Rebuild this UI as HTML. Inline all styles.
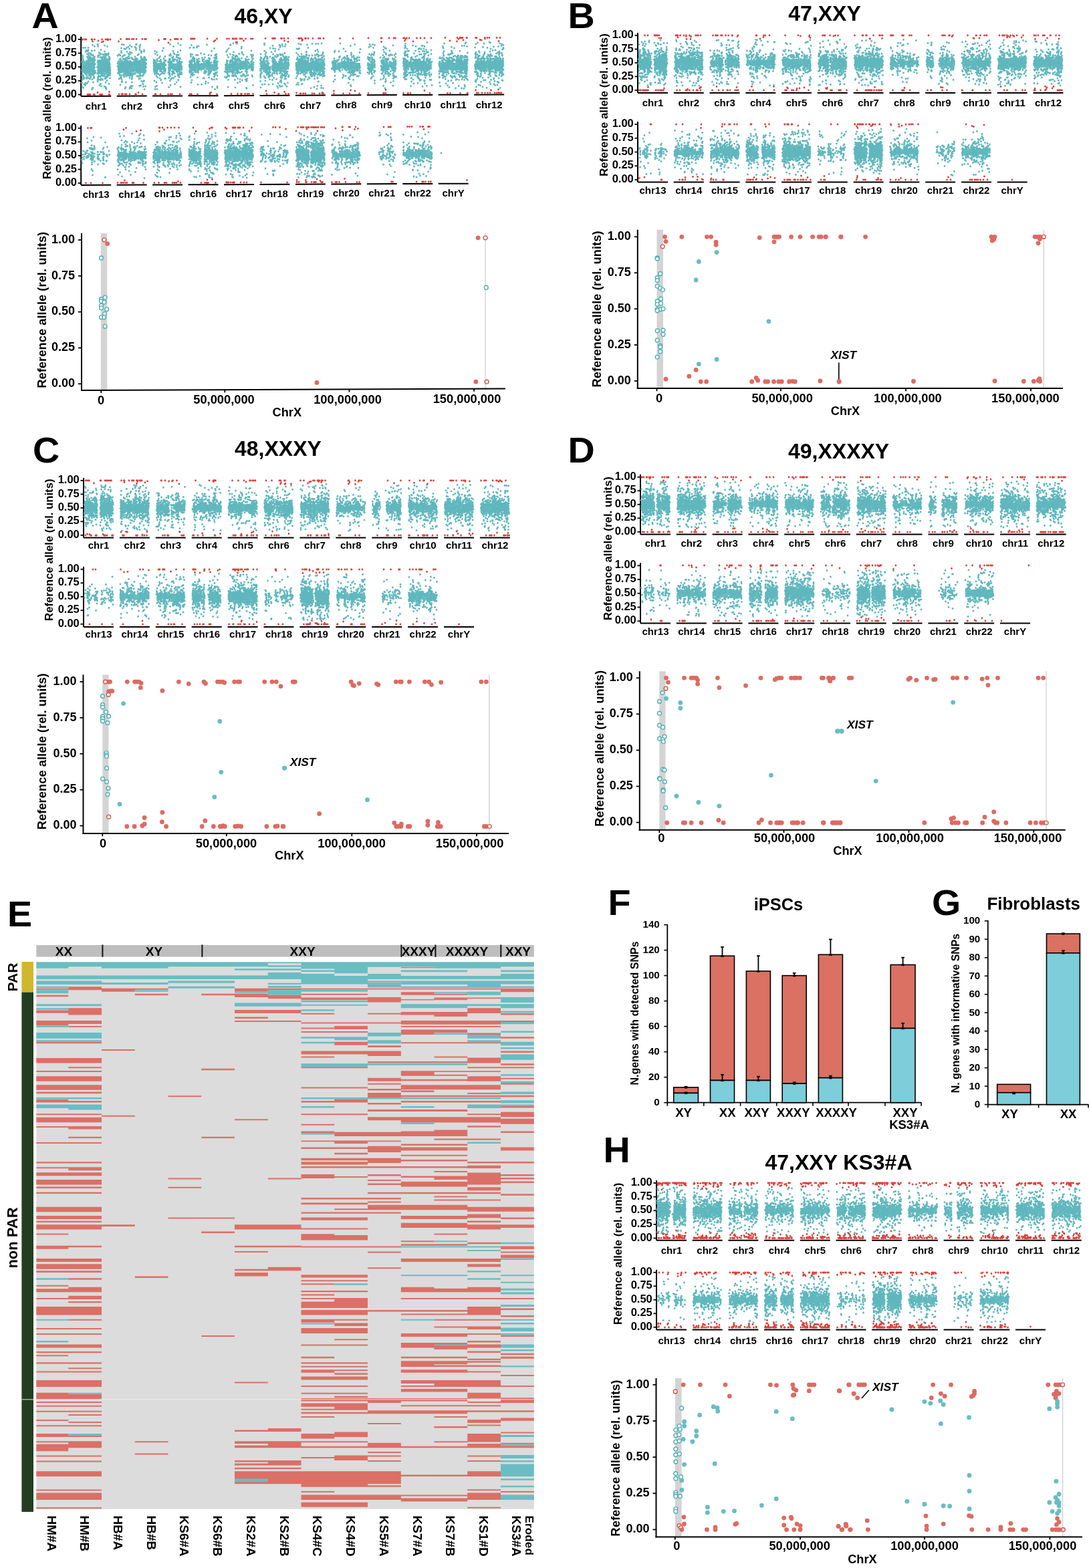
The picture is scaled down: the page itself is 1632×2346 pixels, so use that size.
<!DOCTYPE html><html><head><meta charset="utf-8"><title>Figure</title><style>html,body{margin:0;padding:0;background:#fff;}svg{display:block;}circle.a{r:2.9px;fill:#fff;stroke:#D4564B;stroke-width:1.4px}circle.b{r:2.9px;fill:#fff;stroke:#4FAFB5;stroke-width:1.4px}circle.c{r:3.4px;fill:#DC6B61}circle.d{r:3.4px;fill:#68BDC2}</style></head><body><svg width="1632" height="2346" viewBox="0 0 1632 2346" font-family='"Liberation Sans", Arial, Helvetica, sans-serif'>
<rect x="0.00" y="0.00" width="1632.00" height="2346.00" fill="#fff"/>
<text x="47.5" y="42.0" font-size="53" font-weight="bold" transform="translate(47.5 42.0) scale(1.05 1) translate(-47.5 -42.0)">A</text>
<text x="849.5" y="42.0" font-size="53" font-weight="bold" transform="translate(849.5 42.0) scale(1.05 1) translate(-849.5 -42.0)">B</text>
<text x="49" y="691.8" font-size="53" font-weight="bold" transform="translate(49 691.8) scale(1.05 1) translate(-49 -691.8)">C</text>
<text x="849.5" y="692.5" font-size="53" font-weight="bold" transform="translate(849.5 692.5) scale(1.05 1) translate(-849.5 -692.5)">D</text>
<text x="11" y="1386" font-size="53" font-weight="bold" transform="translate(11 1386) scale(1.05 1) translate(-11 -1386)">E</text>
<text x="909.5" y="1369.5" font-size="53" font-weight="bold" transform="translate(909.5 1369.5) scale(1.05 1) translate(-909.5 -1369.5)">F</text>
<text x="1394" y="1369.5" font-size="53" font-weight="bold" transform="translate(1394 1369.5) scale(1.05 1) translate(-1394 -1369.5)">G</text>
<text x="902.5" y="1738.8" font-size="53" font-weight="bold" transform="translate(902.5 1738.8) scale(1.05 1) translate(-902.5 -1738.8)">H</text>
<text x="394.00" y="34.50" font-size="32" font-weight="bold" text-anchor="middle" fill="#000">46,XY</text>
<text x="1233.50" y="31.00" font-size="32" font-weight="bold" text-anchor="middle" fill="#000">47,XXY</text>
<text x="351.00" y="681.50" font-size="32" font-weight="bold" text-anchor="start" fill="#000">48,XXXY</text>
<text x="1179.00" y="685.50" font-size="32" font-weight="bold" text-anchor="start" fill="#000">49,XXXXY</text>
<text x="1144.50" y="1750.00" font-size="32" font-weight="bold" text-anchor="start" fill="#000">47,XXY KS3#A</text>
<line x1="121.20" y1="54.90" x2="121.20" y2="144.00" stroke="#000" stroke-width="2.0"/>
<line x1="116.70" y1="58.90" x2="121.20" y2="58.90" stroke="#000" stroke-width="1.8"/>
<text x="115.00" y="63.00" font-size="16.5" font-weight="bold" text-anchor="end" fill="#000">1.00</text>
<line x1="116.70" y1="79.55" x2="121.20" y2="79.55" stroke="#000" stroke-width="1.8"/>
<text x="115.00" y="83.65" font-size="16.5" font-weight="bold" text-anchor="end" fill="#000">0.75</text>
<line x1="116.70" y1="100.20" x2="121.20" y2="100.20" stroke="#000" stroke-width="1.8"/>
<text x="115.00" y="104.30" font-size="16.5" font-weight="bold" text-anchor="end" fill="#000">0.50</text>
<line x1="116.70" y1="120.85" x2="121.20" y2="120.85" stroke="#000" stroke-width="1.8"/>
<text x="115.00" y="124.95" font-size="16.5" font-weight="bold" text-anchor="end" fill="#000">0.25</text>
<line x1="116.70" y1="141.50" x2="121.20" y2="141.50" stroke="#000" stroke-width="1.8"/>
<text x="115.00" y="145.60" font-size="16.5" font-weight="bold" text-anchor="end" fill="#000">0.00</text>
<line x1="121.20" y1="144.00" x2="166.20" y2="143.82" stroke="#000" stroke-width="2.0"/>
<text x="143.70" y="163.91" font-size="15" font-weight="bold" text-anchor="middle" fill="#000">chr1</text>
<line x1="174.65" y1="143.79" x2="219.65" y2="143.61" stroke="#000" stroke-width="2.0"/>
<text x="197.15" y="163.70" font-size="15" font-weight="bold" text-anchor="middle" fill="#000">chr2</text>
<line x1="228.10" y1="143.57" x2="273.10" y2="143.39" stroke="#000" stroke-width="2.0"/>
<text x="250.60" y="163.48" font-size="15" font-weight="bold" text-anchor="middle" fill="#000">chr3</text>
<line x1="281.55" y1="143.36" x2="326.55" y2="143.18" stroke="#000" stroke-width="2.0"/>
<text x="304.05" y="163.27" font-size="15" font-weight="bold" text-anchor="middle" fill="#000">chr4</text>
<line x1="335.00" y1="143.14" x2="380.00" y2="142.96" stroke="#000" stroke-width="2.0"/>
<text x="357.50" y="163.05" font-size="15" font-weight="bold" text-anchor="middle" fill="#000">chr5</text>
<line x1="388.45" y1="142.93" x2="433.45" y2="142.75" stroke="#000" stroke-width="2.0"/>
<text x="410.95" y="162.84" font-size="15" font-weight="bold" text-anchor="middle" fill="#000">chr6</text>
<line x1="441.90" y1="142.72" x2="486.90" y2="142.54" stroke="#000" stroke-width="2.0"/>
<text x="464.40" y="162.63" font-size="15" font-weight="bold" text-anchor="middle" fill="#000">chr7</text>
<line x1="495.35" y1="142.50" x2="540.35" y2="142.32" stroke="#000" stroke-width="2.0"/>
<text x="517.85" y="162.41" font-size="15" font-weight="bold" text-anchor="middle" fill="#000">chr8</text>
<line x1="548.80" y1="142.29" x2="593.80" y2="142.11" stroke="#000" stroke-width="2.0"/>
<text x="571.30" y="162.20" font-size="15" font-weight="bold" text-anchor="middle" fill="#000">chr9</text>
<line x1="602.25" y1="142.08" x2="647.25" y2="141.90" stroke="#000" stroke-width="2.0"/>
<text x="624.75" y="161.99" font-size="15" font-weight="bold" text-anchor="middle" fill="#000">chr10</text>
<line x1="655.70" y1="141.86" x2="700.70" y2="141.68" stroke="#000" stroke-width="2.0"/>
<text x="678.20" y="161.77" font-size="15" font-weight="bold" text-anchor="middle" fill="#000">chr11</text>
<line x1="709.15" y1="141.65" x2="754.15" y2="141.47" stroke="#000" stroke-width="2.0"/>
<text x="731.65" y="161.56" font-size="15" font-weight="bold" text-anchor="middle" fill="#000">chr12</text>
<path fill="#68BDC2" d="M122.7 92.7h3.7v11.9h-3.7zM126.2 91.8h3.7v18.6h-3.7zM129.7 92.4h3.7v15.7h-3.7zM133.2 90.2h3.7v17.4h-3.7zM136.7 96.3h3.7v11.5h-3.7zM147.2 90.7h3.7v19.3h-3.7zM150.7 92.9h3.7v18.6h-3.7zM154.2 91.6h3.7v15.2h-3.7zM157.7 91.8h3.7v12.9h-3.7zM161.2 92.0h3.7v20.0h-3.7zM176.2 90.4h3.7v18.0h-3.7zM179.7 93.0h3.7v16.6h-3.7zM183.2 91.2h3.7v14.4h-3.7zM186.7 92.7h3.7v17.0h-3.7zM190.2 92.0h3.7v16.7h-3.7zM193.7 91.8h3.7v13.8h-3.7zM197.2 93.0h3.7v15.2h-3.7zM200.7 89.6h3.7v16.9h-3.7zM204.2 93.5h3.7v16.5h-3.7zM207.7 95.0h3.7v9.3h-3.7zM211.2 96.6h3.7v10.0h-3.7zM214.7 93.2h3.7v17.1h-3.7zM229.6 94.4h3.7v13.7h-3.7zM233.1 93.9h3.7v12.3h-3.7zM236.6 94.1h3.7v9.1h-3.7zM240.1 97.7h3.7v7.4h-3.7zM243.6 91.7h3.7v13.8h-3.7zM254.1 92.5h3.7v10.8h-3.7zM257.6 95.6h3.7v10.0h-3.7zM261.1 94.8h3.7v10.3h-3.7zM264.6 93.4h3.7v11.6h-3.7zM268.1 96.5h3.7v7.6h-3.7zM283.1 91.4h3.7v12.1h-3.7zM286.6 96.0h3.7v8.9h-3.7zM290.1 96.2h3.7v9.7h-3.7zM293.6 94.0h3.7v7.6h-3.7zM297.1 94.9h3.7v9.7h-3.7zM300.6 95.2h3.7v8.4h-3.7zM304.1 94.6h3.7v8.1h-3.7zM307.6 92.0h3.7v13.0h-3.7zM311.1 93.5h3.7v8.5h-3.7zM314.6 95.7h3.7v9.5h-3.7zM318.1 95.8h3.7v8.6h-3.7zM321.6 91.4h3.7v14.0h-3.7zM336.5 96.6h3.7v8.4h-3.7zM340.0 96.0h3.7v9.3h-3.7zM343.5 94.8h3.7v7.8h-3.7zM347.0 94.5h3.7v11.9h-3.7zM350.5 92.4h3.7v11.4h-3.7zM354.0 92.6h3.7v10.3h-3.7zM357.5 93.9h3.7v10.0h-3.7zM361.0 91.8h3.7v12.1h-3.7zM364.5 91.6h3.7v12.5h-3.7zM368.0 97.4h3.7v7.6h-3.7zM371.5 94.7h3.7v7.1h-3.7zM375.0 95.7h3.7v8.6h-3.7zM389.9 90.9h3.7v13.6h-3.7zM393.4 96.3h3.7v9.3h-3.7zM396.9 96.4h3.7v8.8h-3.7zM410.9 93.3h3.7v8.7h-3.7zM414.4 93.9h3.7v11.9h-3.7zM417.9 91.4h3.7v12.9h-3.7zM421.4 93.3h3.7v10.3h-3.7zM424.9 92.1h3.7v12.9h-3.7zM428.4 91.5h3.7v12.7h-3.7zM443.4 95.1h3.7v10.1h-3.7zM446.9 92.7h3.7v14.1h-3.7zM450.4 88.2h3.7v17.4h-3.7zM453.9 89.6h3.7v17.0h-3.7zM457.4 90.6h3.7v15.9h-3.7zM460.9 94.0h3.7v11.6h-3.7zM464.4 93.8h3.7v10.1h-3.7zM467.9 93.4h3.7v12.7h-3.7zM471.4 89.6h3.7v16.6h-3.7zM474.9 93.2h3.7v13.3h-3.7zM478.4 91.5h3.7v16.8h-3.7zM481.9 90.8h3.7v12.0h-3.7zM496.9 92.6h3.7v10.3h-3.7zM500.4 95.8h3.7v8.2h-3.7zM503.9 93.8h3.7v9.2h-3.7zM507.4 93.9h3.7v8.8h-3.7zM510.9 94.2h3.7v8.3h-3.7zM514.4 95.8h3.7v8.7h-3.7zM517.9 93.6h3.7v9.8h-3.7zM521.4 92.6h3.7v8.8h-3.7zM524.9 94.2h3.7v9.4h-3.7zM528.4 94.7h3.7v8.9h-3.7zM531.9 93.9h3.7v8.6h-3.7zM535.4 94.0h3.7v10.5h-3.7zM550.3 94.7h3.7v10.3h-3.7zM553.8 96.3h3.7v7.9h-3.7zM571.3 93.2h3.7v12.6h-3.7zM574.8 93.4h3.7v11.1h-3.7zM578.3 96.4h3.7v7.5h-3.7zM581.8 92.8h3.7v8.0h-3.7zM585.3 93.2h3.7v10.4h-3.7zM588.8 94.5h3.7v10.0h-3.7zM603.8 92.9h3.7v12.0h-3.7zM607.2 95.2h3.7v8.2h-3.7zM610.8 92.3h3.7v9.3h-3.7zM614.2 93.3h3.7v12.7h-3.7zM617.8 89.4h3.7v13.7h-3.7zM621.2 91.1h3.7v12.2h-3.7zM624.8 93.2h3.7v12.9h-3.7zM628.2 91.6h3.7v11.1h-3.7zM631.8 91.3h3.7v10.3h-3.7zM635.2 92.7h3.7v13.3h-3.7zM638.8 94.6h3.7v10.8h-3.7zM642.2 96.2h3.7v7.8h-3.7zM657.2 94.0h3.7v11.5h-3.7zM660.7 91.5h3.7v16.5h-3.7zM664.2 93.7h3.7v11.9h-3.7zM667.7 89.9h3.7v12.0h-3.7zM671.2 90.3h3.7v11.6h-3.7zM674.7 90.5h3.7v17.7h-3.7zM678.2 93.8h3.7v9.6h-3.7zM681.7 90.4h3.7v12.2h-3.7zM685.2 91.1h3.7v13.3h-3.7zM688.7 93.6h3.7v10.7h-3.7zM692.2 90.9h3.7v13.3h-3.7zM695.7 91.6h3.7v11.2h-3.7zM710.7 90.8h3.7v13.0h-3.7zM714.2 92.0h3.7v11.7h-3.7zM717.7 92.2h3.7v14.9h-3.7zM721.2 90.5h3.7v11.9h-3.7zM724.7 92.5h3.7v9.4h-3.7zM728.2 90.4h3.7v15.1h-3.7zM731.7 92.7h3.7v9.6h-3.7zM735.2 90.4h3.7v12.6h-3.7zM738.7 87.7h3.7v17.7h-3.7zM742.2 91.5h3.7v15.4h-3.7zM745.7 88.6h3.7v18.1h-3.7zM749.2 91.6h3.7v12.1h-3.7z"/>
<path transform="scale(.5)" fill="none" stroke="#5FB7BD" stroke-width="5.8" stroke-linecap="round" d="M249 143h0m-2 23h0m0 1h0m1 3h0m-1 6h0m1 0h0m1 4h0m1 3h0m-4 2h0m2 0h0m-3 1h0m1 0h0m2 0h0m1 0h0m1 0h0m-3 2h0m0 1h0m-1 3h0m1 0h0m0 2h0m0 1h0m1 1h0m0 3h0m0 1h0m-1 1h0m1 0h0m-1 2h0m0 1h0m3 1h0m1 2h0m-5 2h0m3 0h0m-4 2h0m5 0h0m-3 1h0m2 1h0m0 1h0m-1 1h0m-1 1h0m-1 1h0m0 6h0m1 1h0m0 1h0m-1 1h0m3 0h0m-3 1h0m3 1h0m-1 1h0m-1 1h0m1 1h0m0 4h0m3 0h0m0 1h0m-5 3h0m-1 9h0m3 13h0m1 2h0m6-8h0m-3-3h0m6-2h0m-2-1h0m5 0h0m-1-14h0m-2-1h0m-6-1h0m10-1h0m-2-1h0m0-6h0m-2-3h0m-2-1h0m-1-1h0m-2-2h0m6 0h0m0-1h0m2 0h0m2 0h0m-4-3h0m4 0h0m-1-2h0m-9-1h0m9 0h0m-3-2h0m1-1h0m-4-1h0m4 0h0m2 0h0m-5-1h0m3 0h0m-5-1h0m4-1h0m-4-1h0m6 0h0m-3-1h0m1 0h0m4-2h0m-11-1h0m8 0h0m-2-2h0m1-2h0m3 0h0m-1-3h0m2 0h0m-3-3h0m-1-1h0m3 0h0m-1-1h0m-9-1h0m11-1h0m-4-3h0m4 0h0m0-8h0m-2-4h0m0-8h0m-5-7h0m6-1h0m1-2h0m-5-1h0m-3-8h0m9 0h0m0 7h0m11 2h0m-9 7h0m6 1h0m-8 3h0m7 0h0m2 2h0m-7 2h0m5 4h0m-7 1h0m5 0h0m-2 1h0m5 2h0m-7 2h0m2 0h0m-2 1h0m4 0h0m3 0h0m-3 1h0m2 0h0m-4 2h0m6 1h0m0 1h0m2 1h0m-9 7h0m5 0h0m2 0h0m-7 1h0m1 0h0m4 1h0m-6 1h0m2 0h0m2 0h0m-1 1h0m-4 1h0m5 1h0m2 0h0m-6 1h0m1 1h0m5 0h0m-7 1h0m4 0h0m-1 1h0m8 1h0m-11 1h0m0 1h0m2 0h0m-1 3h0m-1 1h0m2 0h0m1 0h0m6 3h0m1 0h0m-3 1h0m-6 2h0m6 0h0m-2 1h0m-5 1h0m1 0h0m5 0h0m-6 3h0m6 0h0m-1 2h0m3 0h0m-4 1h0m0 2h0m7 0h0m-5 1h0m-4 1h0m3 0h0m3 4h0m-1 3h0m-5 1h0m1 0h0m2 2h0m-5 8h0m11 24h0m1-4h0m2-1h0m1-17h0m-3-8h0m5-4h0m0-4h0m0-1h0m-2-5h0m-3-4h0m6 0h0m-4-1h0m2 0h0m6-1h0m-4-1h0m-6-1h0m3 0h0m1 0h0m-4-1h0m3 0h0m-2-2h0m4 0h0m3 0h0m-2-1h0m3 0h0m-6-2h0m-1-2h0m2-2h0m1 0h0m-5-1h0m5 0h0m-5-1h0m3-2h0m4 0h0m-3-2h0m2-1h0m-3-1h0m2 0h0m-3-1h0m1-1h0m2-2h0m-2-1h0m2 0h0m1 0h0m2 0h0m-5-1h0m-2-1h0m7 0h0m-8-1h0m1 0h0m5 0h0m0-1h0m-1-1h0m-4-2h0m2 0h0m-1-1h0m0-1h0m4-1h0m-4-1h0m4 0h0m-3-1h0m3 0h0m-2-1h0m4 0h0m0-1h0m-7-1h0m4-2h0m-3-1h0m-1-1h0m5-1h0m1-3h0m-4-3h0m-1-2h0m5-14h0m0-12h0m-6-4h0m15-2h0m1 0h0m0 6h0m3 19h0m3 2h0m-5 6h0m3 0h0m-3 1h0m-1 4h0m0 10h0m4 0h0m-1 3h0m-1 1h0m2 0h0m-5 1h0m1 0h0m2 0h0m-2 1h0m1 2h0m2 1h0m-2 3h0m1 0h0m-1 1h0m0 1h0m5 0h0m-3 1h0m1 0h0m-2 2h0m1 0h0m3 1h0m-7 1h0m1 0h0m-2 1h0m2 1h0m3 1h0m1 0h0m-2 2h0m4 1h0m-5 1h0m-1 4h0m3 0h0m-1 1h0m-1 2h0m1 0h0m3 0h0m-2 1h0m-3 2h0m2 3h0m2 0h0m-5 1h0m3 6h0m2 1h0m1 1h0m-5 2h0m0 3h0m3 4h0m-4 1h0m0 5h0m6 11h0m5 3h0m-2-7h0m0-11h0m6-1h0m0-1h0m-5-2h0m-2-6h0m2-3h0m1 0h0m5 0h0m3-2h0m-8-2h0m2 0h0m-1-2h0m-1-1h0m7-1h0m-9-1h0m2 0h0m7-1h0m0-2h0m-6-1h0m7 0h0m-6-2h0m-3-1h0m1 0h0m2 0h0m3 0h0m-1-1h0m-5-1h0m4 0h0m0-2h0m-2-1h0m1 0h0m6-1h0m-10-1h0m-1-1h0m8 0h0m3 0h0m-10-1h0m7-1h0m0-1h0m3-1h0m-11-1h0m0-1h0m4 0h0m0-1h0m5-1h0m-8-3h0m-1-1h0m1 0h0m6 0h0m-7-1h0m3 0h0m2-2h0m2 0h0m1-1h0m-8-1h0m10-1h0m-10-1h0m1 0h0m2 0h0m7 0h0m1 0h0m-8-1h0m0-2h0m4 0h0m0-1h0m1 0h0m2 0h0m-4-2h0m1 0h0m3 0h0m-6-3h0m-4-3h0m6 0h0m-1-1h0m3 0h0m2-1h0m1-6h0m-3-1h0m-6-1h0m0-13h0m11-13h0m8 3h0m-8 15h0m2 7h0m4 1h0m3 2h0m-7 1h0m2 2h0m-5 4h0m3 0h0m-2 3h0m4 0h0m6 3h0m-7 2h0m3 0h0m-3 1h0m-2 1h0m5 0h0m-3 2h0m-1 1h0m6 0h0m-6 1h0m4 0h0m1 1h0m-8 1h0m5 0h0m0 2h0m4 0h0m-7 1h0m-1 1h0m4 0h0m-3 1h0m1 2h0m1 0h0m1 0h0m1 0h0m-2 1h0m2 1h0m4 0h0m-10 1h0m4 0h0m-3 2h0m1 0h0m6 0h0m-6 1h0m1 0h0m8 2h0m-10 1h0m1 1h0m1 1h0m5 0h0m-7 1h0m7 0h0m-3 1h0m5 0h0m1 0h0m-9 1h0m6 0h0m1 1h0m-2 3h0m3 0h0m1 0h0m-10 1h0m5 0h0m5 1h0m-7 2h0m5 0h0m-3 1h0m5 1h0m-7 1h0m-4 3h0m2 0h0m6 1h0m2 0h0m-1 2h0m-4 4h0m-3 1h0m3 0h0m5 0h0m-4 3h0m-1 1h0m-3 2h0m6 5h0m-4 6h0m-4 12h0m4 2h0m1 4h0m1 0h0m0 2h0m8-16h0m3-17h0m0-8h0m-4-1h0m4 0h0m0-1h0m-2-3h0m1 0h0m2-2h0m-1-1h0m-5-1h0m0-1h0m5-2h0m-5-1h0m0-1h0m4-1h0m2-2h0m-1-3h0m-4-1h0m4 0h0m-1-2h0m-3-1h0m4-1h0m-3-1h0m1-1h0m0-6h0m2 0h0m-2-5h0m-1-7h0m1 0h0m-3-2h0m4-1h0m0-2h0m0-4h0m-2-2h0m-2-6h0m0-3h0m1-1h0m31 76h0m2-11h0m1 0h0m-3-5h0m-3-1h0m6-3h0m-2-1h0m-2-3h0m4-1h0m0-2h0m-5-2h0m3 0h0m-2-1h0m3 0h0m-2-2h0m1 0h0m0-1h0m-3-2h0m-2-2h0m4-1h0m2 0h0m-1-2h0m1-1h0m-3-3h0m2-1h0m-5-1h0m5 0h0m-3-5h0m1 0h0m3-7h0m1-1h0m-7-10h0m5-3h0m-2-1h0m10-30h0m5 1h0m-7 10h0m0 9h0m0 5h0m-3 8h0m9 1h0m-3 3h0m-5 6h0m8 0h0m0 1h0m0 1h0m-7 4h0m2 0h0m1 3h0m-2 1h0m-1 3h0m6 0h0m-6 1h0m6 0h0m3 0h0m-6 2h0m-4 1h0m6 1h0m-7 1h0m1 0h0m3 0h0m4 0h0m-3 1h0m-5 1h0m9 0h0m-4 1h0m3 0h0m1 1h0m-4 1h0m4 0h0m-4 1h0m4 1h0m2 0h0m-7 1h0m-3 1h0m1 0h0m5 1h0m2 0h0m0 1h0m2 0h0m-7 1h0m6 0h0m0 1h0m-2 1h0m-2 1h0m4 0h0m-1 2h0m-6 1h0m2 0h0m-1 1h0m6 1h0m-9 1h0m1 0h0m8 0h0m-10 1h0m11 1h0m-2 6h0m1 0h0m1 0h0m-8 1h0m7 0h0m-7 1h0m8 3h0m-10 2h0m2 1h0m-3 2h0m4 3h0m1 6h0m1 1h0m-2 2h0m-4 8h0m14 11h0m2-4h0m1-15h0m-5-16h0m0-1h0m6-1h0m1-2h0m-1-1h0m5 0h0m-6-1h0m-5-2h0m1-1h0m10 0h0m-6-1h0m4 0h0m1 0h0m0-1h0m-4-3h0m-2-1h0m-4-2h0m5 0h0m5 0h0m-9-1h0m7-2h0m-6-2h0m2 0h0m0-2h0m5 0h0m-9-1h0m2 0h0m4 0h0m-4-1h0m1 0h0m7 0h0m-2-1h0m-8-1h0m1 0h0m0-2h0m7 0h0m2-1h0m-10-1h0m0-2h0m11 0h0m-10-1h0m9-1h0m-8-1h0m8 0h0m-8-2h0m1 0h0m7 0h0m-9-1h0m2 0h0m1 0h0m2 0h0m5 0h0m0-1h0m-1-1h0m1 0h0m-5-1h0m4 0h0m0-1h0m-7-1h0m2 0h0m2 0h0m-7-1h0m4 0h0m6 0h0m1-1h0m-9-1h0m7 0h0m-6-3h0m2 0h0m-4-2h0m1-1h0m9 0h0m-6-2h0m4-2h0m-8-7h0m7-10h0m-5-8h0m-3-1h0m7-3h0m10-7h0m-5 4h0m10 0h0m-7 6h0m2 10h0m5 2h0m-10 3h0m3 1h0m2 0h0m-4 6h0m9 5h0m-7 1h0m1 0h0m7 0h0m0 2h0m-6 6h0m1 2h0m-2 2h0m0 1h0m6 0h0m-6 1h0m1 0h0m1 0h0m-1 1h0m-1 3h0m2 2h0m4 0h0m-4 1h0m-2 1h0m7 0h0m-6 1h0m1 0h0m2 0h0m2 0h0m1 0h0m-11 1h0m5 0h0m1 2h0m4 0h0m-10 3h0m1 1h0m10 0h0m-8 1h0m1 2h0m-4 1h0m10 1h0m-3 2h0m4 0h0m-5 3h0m-2 2h0m3 0h0m-2 1h0m-1 1h0m-1 2h0m3 0h0m5 0h0m-5 1h0m-1 1h0m4 1h0m-5 2h0m-4 1h0m7 0h0m-3 1h0m7 1h0m-7 5h0m7 0h0m-1 4h0m1 9h0m-3 11h0m-3 4h0m4 3h0m-5 1h0m8-7h0m1-34h0m4-3h0m3 0h0m-8-1h0m8-1h0m-5-5h0m8 0h0m-7-1h0m0-3h0m6 0h0m-4-2h0m-2-1h0m1-1h0m6-5h0m-1-2h0m0-1h0m1 0h0m-1-1h0m-9-2h0m5-2h0m3 0h0m1 0h0m-6-3h0m6 0h0m-9-1h0m1 0h0m3-1h0m3-1h0m-4-2h0m5-4h0m-1-1h0m-5-2h0m5-1h0m0-7h0m3-21h0m0-5h0m-3-3h0m3-7h0m1-2h0m10 6h0m0 5h0m0 6h0m-3 13h0m-3 3h0m-4 10h0m3 2h0m-2 1h0m0 2h0m9 2h0m-10 1h0m6 0h0m-1 2h0m5 1h0m-7 2h0m1 0h0m5 0h0m-8 1h0m-1 1h0m1 0h0m10 0h0m-11 2h0m11 1h0m-6 1h0m4 0h0m-7 3h0m0 2h0m7 2h0m-9 2h0m0 1h0m2 1h0m5 1h0m2 0h0m1 0h0m-9 1h0m6 0h0m-5 1h0m8 0h0m-10 1h0m10 0h0m-8 1h0m6 0h0m3 1h0m-3 3h0m2 1h0m-3 1h0m4 4h0m-1 2h0m1 0h0m-9 6h0m5 0h0m0 1h0m4 6h0m-3 1h0m1 21h0m12 2h0m-8-3h0m7-4h0m-1-1h0m1-7h0m-5-1h0m8-1h0m-11-14h0m6-1h0m-5-1h0m7 0h0m1-1h0m1-3h0m-10-3h0m6-2h0m5 0h0m0-2h0m-11-1h0m3 0h0m8 0h0m-8-1h0m1-1h0m1 0h0m5 0h0m-8-2h0m7 0h0m-8-2h0m1 0h0m-1-1h0m6-2h0m4 0h0m-9-1h0m-2-3h0m11-2h0m-9-1h0m-2-2h0m1 0h0m10 0h0m-7-1h0m4 0h0m1 0h0m1-1h0m-8-3h0m6-1h0m3-1h0m-7-1h0m-2-3h0m6 0h0m2-1h0m-8-3h0m1 0h0m3-1h0m2-2h0m-5-1h0m2 0h0m-1-2h0m7 0h0m-8-2h0m8-2h0m-9-1h0m1-12h0m-1-4h0m2 0h0m7 0h0m0-4h0m-11-15h0m13 36h0m1 4h0m3 3h0m-4 1h0m4 1h0m-5 1h0m0 1h0m0 3h0m2 2h0m0 1h0m2 0h0m-2 2h0m3 0h0m-5 1h0m1 1h0m1 0h0m3 0h0m-4 4h0m2 2h0m-1 2h0m2 0h0m0 2h0m1 0h0m-5 8h0m0 1h0m4 1h0m-2 1h0m1 45h0m-3 9h0m31-114h0m2 8h0m-5 18h0m2 2h0m2 1h0m-2 1h0m-2 1h0m2 0h0m5 3h0m-7 1h0m4 0h0m-4 2h0m2 1h0m1 0h0m2 0h0m2 3h0m-6 1h0m1 0h0m2 1h0m0 1h0m-4 1h0m1 1h0m3 2h0m2 4h0m-6 1h0m3 1h0m4 1h0m-6 2h0m0 1h0m2 0h0m1 0h0m1 0h0m2 0h0m-6 2h0m5 0h0m-3 1h0m-1 1h0m1 1h0m2 0h0m-2 1h0m0 1h0m3 1h0m-2 1h0m-1 2h0m-1 20h0m3 18h0m-1 7h0m6 0h0m-1-10h0m-1-11h0m10-12h0m-7-2h0m-3-5h0m10-2h0m-8-4h0m4 0h0m-3-1h0m-2-1h0m0-2h0m-1-2h0m2-2h0m9 0h0m-11-2h0m0-3h0m0-1h0m8 0h0m3 0h0m0-2h0m-9-1h0m3 0h0m2-1h0m-4-2h0m0-2h0m7 0h0m-10-1h0m1-3h0m5 0h0m4 0h0m-3-2h0m4 0h0m-3-1h0m-5-9h0m6 0h0m-8-4h0m2-2h0m5-4h0m3-4h0m-8-4h0m-2-9h0m20-12h0m-3 8h0m4 23h0m-9 4h0m-1 5h0m1 0h0m1 2h0m1 4h0m3 0h0m5 2h0m-7 1h0m2 0h0m3 1h0m-9 4h0m11 0h0m-5 3h0m4 0h0m-2 1h0m3 2h0m-11 3h0m11 0h0m-9 2h0m-1 2h0m10 1h0m-8 2h0m4 2h0m0 4h0m-5 1h0m0 18h0m-1 1h0m4 8h0m8-13h0m2 0h0m-3-15h0m2-6h0m-2-1h0m0-2h0m1-1h0m2 0h0m-3-1h0m3-2h0m-2-2h0m3-10h0m-3-1h0m1-1h0m-2-2h0m11-5h0m-7-4h0m-1-1h0m-3-1h0m2-11h0m15-36h0m1 29h0m-3 4h0m4 0h0m0 1h0m4 6h0m-6 4h0m-3 1h0m3 5h0m-3 1h0m4 0h0m0 1h0m2 0h0m-1 1h0m-2 2h0m-3 1h0m6 0h0m2 0h0m-3 1h0m-1 1h0m0 1h0m-3 2h0m2 0h0m-4 1h0m3 0h0m1 0h0m-2 1h0m2 0h0m6 2h0m-8 1h0m1 0h0m3 0h0m2 2h0m-5 1h0m-4 1h0m6 0h0m3 1h0m-8 1h0m3 0h0m1 0h0m-3 1h0m-1 4h0m4 0h0m5 4h0m-8 1h0m-2 2h0m1 0h0m2 0h0m0 1h0m-1 1h0m1 3h0m8 0h0m-9 1h0m2 0h0m7 0h0m-6 5h0m-4 5h0m9 1h0m-3 3h0m-2 5h0m1 13h0m-5 6h0m18-9h0m-6-18h0m2 0h0m5-5h0m-3-9h0m1 0h0m-5-1h0m0-3h0m2 0h0m1-1h0m-2-1h0m9-4h0m-3-1h0m1 0h0m-3-6h0m1-1h0m-5-1h0m3 0h0m-4-2h0m5 0h0m0-6h0m-4-1h0m-2-9h0m4 0h0m0-1h0m-2-2h0m0-1h0m4-1h0m2 0h0m-7-3h0m1-5h0m4-8h0m-2-3h0m-2-6h0m1-14h0m14-9h0m-1 26h0m1 8h0m2 0h0m-7 1h0m2 0h0m1 1h0m-3 5h0m5 2h0m3 1h0m3 1h0m0 1h0m-2 1h0m-7 2h0m-1 3h0m7 0h0m-7 1h0m8 2h0m2 0h0m-7 2h0m0 1h0m2 1h0m-2 1h0m5 0h0m-7 1h0m6 2h0m-2 1h0m-3 1h0m5 2h0m-4 2h0m2 0h0m0 2h0m2 2h0m-8 1h0m2 0h0m3 0h0m6 3h0m-6 1h0m4 0h0m0 3h0m-5 1h0m-2 1h0m2 0h0m-4 1h0m4 0h0m6 1h0m-7 1h0m8 1h0m0 1h0m-3 2h0m1 0h0m-5 3h0m6 0h0m-1 1h0m-4 3h0m3 4h0m-3 8h0m1 1h0m-6 6h0m12 14h0m3-38h0m1 0h0m-2-2h0m-1-3h0m2-1h0m0-7h0m-1-1h0m1-1h0m-3-1h0m0-1h0m3 0h0m-2-1h0m1-2h0m0-1h0m-2-1h0m3 0h0m1 0h0m-2-1h0m1 0h0m-1-3h0m-1-1h0m0-1h0m0-4h0m3-4h0m-4-35h0m0-16h0m32 112h0m2-7h0m-4-9h0m2-7h0m0-2h0m3-2h0m-7-3h0m-1-1h0m5-1h0m0-1h0m0-1h0m2-1h0m-7-1h0m8 0h0m-2-1h0m2-1h0m-3-2h0m-2-2h0m4-3h0m1 0h0m-8-1h0m5-1h0m-5-1h0m-1-4h0m1 0h0m6 0h0m-1-2h0m2 0h0m-4-1h0m2 0h0m2-4h0m-6-1h0m-1-1h0m1-3h0m5 0h0m0-3h0m-2-11h0m0-1h0m4-5h0m-5-1h0m-2-19h0m5-8h0m7 7h0m-1 1h0m8 22h0m-9 6h0m-2 4h0m1 0h0m1 0h0m4 0h0m-3 3h0m3 0h0m0 4h0m-4 1h0m4 3h0m1 4h0m2 1h0m-5 2h0m3 0h0m-1 1h0m0 1h0m-2 5h0m6 0h0m-4 1h0m1 0h0m-7 1h0m7 0h0m-2 1h0m4 1h0m-2 3h0m1 0h0m-2 1h0m-2 2h0m4 0h0m-3 1h0m2 4h0m2 1h0m-8 2h0m-1 2h0m4 4h0m-4 2h0m16 27h0m-1-21h0m2-15h0m-5-1h0m4-2h0m-1-1h0m0-2h0m2 0h0m-5-1h0m6 0h0m-1-3h0m3-1h0m3 0h0m-8-2h0m2 0h0m5-1h0m-1-5h0m-7-2h0m7-2h0m-7-1h0m5 0h0m-1-3h0m-1-2h0m-4-1h0m4-1h0m-4-2h0m8 0h0m-5-1h0m-1-3h0m-1-1h0m-1-1h0m6-2h0m-3-11h0m-3-23h0m1-3h0m4-1h0m7 22h0m10 2h0m-6 11h0m5 5h0m-4 1h0m0 3h0m4 3h0m0 3h0m-7 3h0m-2 2h0m5 0h0m-2 2h0m5 0h0m1 4h0m-9 5h0m3 2h0m6 1h0m-8 2h0m9 10h0m-3 15h0m3 0h0m-8 19h0m12-3h0m8-2h0m-7-4h0m7-20h0m-9-5h0m3-4h0m1 0h0m-6-1h0m3-1h0m-1-1h0m9-11h0m-3-4h0m3 0h0m-9-5h0m8-1h0m1-1h0m-6-1h0m5 0h0m0-1h0m-7-5h0m8-1h0m-4-1h0m-6-9h0m6-38h0m14 19h0m-9 12h0m8 1h0m-8 8h0m3 1h0m0 4h0m-2 5h0m1 0h0m0 2h0m-1 1h0m7 0h0m-5 3h0m1 0h0m-1 2h0m2 2h0m5 0h0m-10 2h0m3 1h0m-1 1h0m3 0h0m-5 1h0m0 2h0m4 1h0m-3 2h0m1 1h0m2 0h0m-3 1h0m6 0h0m-6 3h0m-1 3h0m1 0h0m3 1h0m4 0h0m-7 1h0m6 0h0m-4 2h0m-3 3h0m3 0h0m2 0h0m-5 4h0m2 1h0m-1 8h0m8 4h0m2 2h0m0 22h0m8 7h0m-2-29h0m0-8h0m1-3h0m1-3h0m-1-2h0m2 0h0m1 0h0m-5-1h0m3 0h0m1-2h0m0-1h0m-2-7h0m-4-1h0m5 0h0m-3-1h0m1-1h0m-2-8h0m2-1h0m3 0h0m-2-2h0m3-1h0m-4-1h0m1-1h0m1-1h0m-1-4h0m-1-1h0m-2-1h0m6-1h0m1-1h0m-5-1h0m2 0h0m4-1h0m-6-1h0m1-2h0m4-4h0m-1-1h0m-4-2h0m5-1h0m1 0h0m-3-6h0m0-2h0m-3-19h0m7 18h0m0 7h0m0 6h0m1 8h0m2 0h0m-3 2h0m1 2h0m-1 3h0m1 2h0m0 2h0m2 8h0m-2 2h0m0 11h0m-1 2h0m2 8h0m-2 11h0m2 22h0m0 4h0m30-113h0m-3 5h0m3 10h0m3 6h0m-4 10h0m2 1h0m-2 3h0m0 3h0m1 2h0m-1 1h0m-4 2h0m2 2h0m0 2h0m2 2h0m4 0h0m-7 3h0m5 0h0m-2 2h0m1 0h0m3 2h0m-7 2h0m5 1h0m-1 2h0m0 1h0m2 0h0m-9 2h0m1 1h0m3 1h0m4 0h0m-2 2h0m1 0h0m1 4h0m1 4h0m0 2h0m-2 1h0m-7 1h0m4 3h0m6 6h0m-1 22h0m4-34h0m9 0h0m0-1h0m-9-11h0m6 0h0m2 0h0m1 0h0m-6-3h0m4-2h0m-1-1h0m-3-1h0m5 0h0m-7-2h0m1-4h0m4-1h0m-6-2h0m7-3h0m-3-1h0m2 0h0m3 0h0m-9-2h0m1 0h0m6 0h0m-5-1h0m1 0h0m6-2h0m0-1h0m-7-2h0m1-2h0m-1-1h0m4 0h0m3-2h0m-5-1h0m2 0h0m3-4h0m0-6h0m-6-9h0m-5-17h0m5-10h0m1-1h0m8-4h0m1 26h0m-2 8h0m2 2h0m8 0h0m-3 3h0m2 1h0m-9 3h0m6 1h0m-4 2h0m2 1h0m4 1h0m2 0h0m-4 2h0m1 0h0m2 2h0m-10 2h0m8 0h0m-6 1h0m5 1h0m-2 3h0m5 0h0m-1 3h0m-8 1h0m3 0h0m4 1h0m-7 1h0m3 1h0m1 1h0m3 0h0m-6 2h0m1 0h0m1 0h0m-4 1h0m4 0h0m-4 2h0m1 0h0m-1 1h0m1 2h0m7 0h0m2 0h0m-5 1h0m-4 1h0m8 1h0m2 0h0m-10 1h0m6 1h0m1 0h0m2 0h0m-6 1h0m1 0h0m5 0h0m-9 2h0m2 1h0m-1 4h0m6 0h0m-8 2h0m8 0h0m-4 5h0m5 1h0m-6 2h0m8 1h0m-4 10h0m1 23h0m7-14h0m7-3h0m0-7h0m-7-3h0m-1-15h0m8-2h0m-5-1h0m-5-1h0m2 0h0m4-3h0m-3-1h0m1-4h0m-1-1h0m8 0h0m-6-3h0m-3-1h0m3-1h0m4-1h0m1 0h0m-10-1h0m5-1h0m-5-5h0m5 0h0m6-2h0m-1-2h0m1-1h0m-4-5h0m-6-2h0m0-1h0m4 0h0m5 0h0m1 0h0m-8-5h0m5 0h0m-3-1h0m-3-6h0m5-8h0m1 0h0m-7-30h0m14 9h0m-1 5h0m2 11h0m0 4h0m4 4h0m-5 10h0m-3 9h0m1 1h0m7 0h0m-3 2h0m1 1h0m2 0h0m-6 1h0m6 0h0m-5 1h0m1 0h0m-3 1h0m7 0h0m-2 2h0m-4 1h0m1 0h0m0 1h0m-2 1h0m3 0h0m4 1h0m-4 2h0m1 0h0m0 1h0m-4 1h0m3 1h0m3 3h0m-7 3h0m3 8h0m5 7h0m3 3h0m-5 1h0m-5 1h0m2 1h0m2 12h0m13 25h0m-1-2h0m0-20h0m1 0h0m0-3h0m-4-2h0m5-2h0m-5-7h0m5-3h0m3-1h0m-4-6h0m1-4h0m-4-2h0m1-2h0m2-2h0m1-1h0m-3-3h0m-1-4h0m2-4h0m1 0h0m-3-3h0m4 0h0m-5-1h0m1-1h0m4 0h0m-4-1h0m0-1h0m2 0h0m-4-4h0m6 0h0m2-2h0m-6-1h0m0-1h0m0-3h0m4 0h0m-4-3h0m4-6h0m13-18h0m-1 12h0m2 6h0m2 5h0m0 1h0m-11 2h0m10 4h0m-2 2h0m-1 2h0m-7 2h0m0 1h0m1 0h0m8 3h0m1 0h0m-2 1h0m1 0h0m-4 2h0m3 0h0m-6 4h0m6 1h0m-5 1h0m-1 2h0m0 1h0m6 5h0m3 0h0m-1 17h0m1 3h0m2 26h0m-1-44h0m1-2h0m0-3h0m-1-2h0m1-1h0m0-1h0m-1-1h0m2 0h0m0-7h0m-1-2h0m-1-3h0m2-1h0m0-1h0m-1-11h0m-1-8h0m0-2h0m1-2h0m22 15h0m0 12h0m0 15h0m0 6h0m0 13h0m0 3h0m0 15h0m1 19h0m5-9h0m-5-21h0m10-4h0m-10-7h0m0-1h0m3-2h0m-2-5h0m8 0h0m-9-1h0m1 0h0m-1-1h0m8-5h0m-5-2h0m8 0h0m-4-1h0m3-3h0m-10-2h0m7-2h0m4-4h0m-10-1h0m9-1h0m1 0h0m-4-2h0m4 0h0m-10-1h0m9 0h0m0-1h0m-10-4h0m8 0h0m0-1h0m2-1h0m-10-2h0m8-1h0m3-2h0m-9-1h0m-2-2h0m0-10h0m11-9h0m0-19h0m0-4h0m5 27h0m-2 5h0m1 6h0m2 1h0m3 2h0m-8 1h0m7 3h0m2 0h0m-4 7h0m4 0h0m-5 1h0m-4 3h0m8 1h0m-8 1h0m8 1h0m1 0h0m0 2h0m-9 1h0m5 0h0m-2 1h0m-1 1h0m-1 1h0m3 1h0m4 0h0m2 0h0m-3 1h0m-3 1h0m-4 2h0m11 0h0m-10 1h0m1 1h0m7 1h0m1 0h0m1 0h0m-5 1h0m1 0h0m-3 1h0m1 2h0m5 1h0m-7 3h0m0 1h0m3 0h0m2 2h0m2 1h0m-8 1h0m2 0h0m4 1h0m2 0h0m-5 1h0m4 1h0m2 4h0m-5 1h0m5 7h0m-11 1h0m2 1h0m0 9h0m-2 10h0m12 1h0m11-14h0m-8-1h0m0-9h0m7-2h0m-10-1h0m4-1h0m6-2h0m-9-4h0m0-2h0m4 0h0m-4-2h0m2-3h0m-1-4h0m-2-1h0m11 0h0m-7-1h0m7-1h0m-6-2h0m-1-2h0m6-2h0m1-1h0m-11-8h0m11-8h0m-1-7h0m-6-5h0m4-14h0m-4-12h0m8-7h0m1 8h0m6 1h0m0 7h0m-6 9h0m6 6h0m4 3h0m-11 1h0m3 2h0m1 0h0m0 1h0m0 1h0m-2 2h0m2 1h0m1 1h0m-5 1h0m1 0h0m6 0h0m-2 3h0m-5 2h0m1 0h0m9 0h0m-9 1h0m1 0h0m6 0h0m-7 1h0m3 1h0m2 0h0m3 0h0m-7 1h0m3 1h0m3 0h0m-1 1h0m-6 1h0m5 0h0m-5 1h0m4 0h0m-1 1h0m2 0h0m2 0h0m-4 2h0m-1 1h0m0 1h0m3 0h0m-4 1h0m1 0h0m3 0h0m-5 2h0m4 1h0m3 0h0m0 1h0m-6 1h0m4 0h0m5 1h0m-7 1h0m3 0h0m-6 2h0m-1 1h0m5 0h0m-4 1h0m9 1h0m-7 1h0m1 0h0m1 1h0m6 0h0m-7 3h0m-4 2h0m6 1h0m-3 13h0m8 4h0m-11 15h0m16 11h0m7-4h0m-10-1h0m7-2h0m-4-7h0m6-5h0m-9-23h0m8-1h0m-9-1h0m0-2h0m11 0h0m-9-4h0m7 0h0m-8-3h0m8 0h0m1 0h0m-5-1h0m4 0h0m-9-1h0m11-1h0m-11-3h0m3-2h0m3 0h0m5 0h0m-10-1h0m2 0h0m0-3h0m1 0h0m-3-2h0m1 0h0m5 0h0m2-1h0m-9-3h0m2 0h0m2 0h0m0-1h0m4-1h0m-2-5h0m3 0h0m1 0h0m-2-1h0m2 0h0m-1-6h0m-6-10h0m1-3h0m7 0h0m-10-1h0m9-2h0m-4-14h0m4-7h0m1-3h0m-3-3h0m8-2h0m2 5h0m5 22h0m-7 3h0m-4 2h0m6 0h0m1 3h0m3 4h0m1 0h0m-11 2h0m2 0h0m-2 2h0m3 2h0m7 0h0m-8 2h0m5 0h0m4 0h0m-1 1h0m-10 1h0m0 3h0m4 0h0m-1 2h0m0 1h0m-1 4h0m6 0h0m-4 1h0m1 1h0m-4 2h0m0 1h0m2 2h0m-2 1h0m2 0h0m-2 1h0m2 0h0m6 0h0m-7 1h0m2 0h0m-3 1h0m2 1h0m7 0h0m-7 1h0m-3 1h0m7 0h0m-6 2h0m6 3h0m-7 1h0m2 0h0m3 0h0m4 0h0m-8 1h0m6 0h0m4 1h0m-11 1h0m9 0h0m1 0h0m-9 1h0m3 5h0m-1 4h0m7 0h0m1 0h0m-9 1h0m5 0h0m-6 1h0m1 0h0m-2 5h0m4 0h0m-3 1h0m0 7h0m1 6h0m9 4h0m-7 8h0m14 1h0m-4-5h0m7-6h0m-9-12h0m3 0h0m-2-6h0m10 0h0m-10-2h0m2-1h0m1 0h0m-3-1h0m6-4h0m-7-1h0m3-1h0m1-2h0m3-2h0m-5-1h0m6-1h0m-5-1h0m-2-6h0m2 0h0m-1-2h0m8-4h0m-4-3h0m5-1h0m-6-5h0m0-1h0m-5-2h0m1-1h0m4 0h0m-4-2h0m1-2h0m1-3h0m8 0h0m-6-1h0m5-1h0m-7-2h0m7 0h0m-5-2h0m-4-2h0m3-1h0m2-1h0m-4-1h0m2 0h0m-4-11h0m1-20h0m1-6h0m10 38h0m0 18h0m0 6h0m0 31h0m23 27h0m-1-19h0m0-26h0m1-6h0m0-1h0m-1-2h0m1-3h0m0-1h0m-1-1h0m1 0h0m-1-5h0m1-30h0m7-28h0m1 14h0m-7 1h0m4 1h0m0 17h0m4 5h0m-6 3h0m0 3h0m9 1h0m-10 1h0m7 0h0m-8 1h0m4 1h0m1 0h0m5 2h0m-5 2h0m3 1h0m-6 2h0m5 0h0m2 0h0m-4 4h0m6 1h0m-8 1h0m3 0h0m-6 2h0m4 0h0m3 0h0m-6 1h0m4 1h0m-2 1h0m5 1h0m-3 1h0m-4 2h0m4 0h0m2 1h0m3 0h0m-4 1h0m-6 1h0m4 0h0m3 0h0m2 0h0m-2 1h0m-2 1h0m-3 1h0m-2 2h0m5 3h0m6 0h0m-10 1h0m4 3h0m-2 1h0m-3 2h0m11 1h0m-6 1h0m-1 1h0m-3 6h0m10 8h0m-8 12h0m2 5h0m10-1h0m1-1h0m-3-10h0m9-1h0m-6-2h0m7-1h0m-2-13h0m-2-6h0m-6-1h0m3 0h0m1 0h0m0-2h0m3-2h0m-7-1h0m7 0h0m-4-1h0m-4-1h0m4-2h0m0-1h0m6-2h0m-10-1h0m9 0h0m-5-1h0m1 0h0m-3-1h0m-2-1h0m9 0h0m-9-1h0m1 0h0m1 0h0m2 0h0m3 0h0m2-1h0m-7-2h0m1 0h0m6 0h0m-1-3h0m-8-1h0m1 0h0m5 0h0m3 0h0m-8-4h0m0-1h0m3 0h0m2 0h0m0-1h0m2 0h0m2 0h0m-5-1h0m-2-1h0m2 0h0m3 0h0m-7-1h0m0-2h0m2-1h0m-3-1h0m6 0h0m-6-1h0m2 0h0m1 0h0m1-1h0m-4-3h0m4 0h0m7 0h0m-1-1h0m-8-1h0m3 0h0m3 0h0m-6-3h0m0-1h0m1 0h0m1 0h0m5-1h0m-7-6h0m-2-29h0m19 1h0m3 9h0m-6 12h0m1 1h0m0 7h0m-1 1h0m2 2h0m-2 2h0m-4 2h0m11 3h0m-6 1h0m2 0h0m3 0h0m-1 2h0m1 2h0m-9 2h0m3 2h0m-4 1h0m5 0h0m5 0h0m-5 1h0m1 0h0m-2 2h0m0 1h0m-2 1h0m8 0h0m-8 1h0m0 1h0m3 1h0m5 0h0m-6 1h0m6 1h0m-6 1h0m-4 1h0m2 1h0m1 0h0m3 0h0m5 2h0m-8 2h0m1 0h0m7 0h0m-10 4h0m1 0h0m1 1h0m-1 1h0m0 1h0m3 1h0m2 0h0m-2 3h0m5 0h0m-4 1h0m3 0h0m-9 2h0m1 2h0m1 2h0m4 0h0m-5 4h0m1 7h0m1 1h0m6 8h0m9 26h0m-4-30h0m-2-2h0m9-3h0m-3-2h0m5-1h0m-3-3h0m-3-1h0m1-1h0m-3-3h0m3 0h0m4 0h0m-5-1h0m1-1h0m1-1h0m-3-2h0m1-1h0m-5-2h0m8 0h0m-5-2h0m2-1h0m4-1h0m-9-1h0m5 0h0m2 0h0m2 0h0m-4-2h0m-1-1h0m2 0h0m-1-1h0m4-1h0m2-1h0m-11-1h0m1 0h0m6 0h0m-3-1h0m1-5h0m-4-1h0m7-1h0m2-1h0m-5-1h0m4-2h0m2 0h0m0-4h0m-6-1h0m1-4h0m1 0h0m2 0h0m1 0h0m-2-3h0m-7-8h0m9 0h0m0-35h0m11 0h0m-1 21h0m3 12h0m-5 1h0m1 7h0m-1 3h0m2 0h0m2 2h0m-9 1h0m7 5h0m3 0h0m-8 1h0m-3 2h0m4 0h0m5 0h0m-9 1h0m10 0h0m-2 3h0m3 0h0m-5 1h0m-5 2h0m-1 1h0m5 0h0m4 3h0m2 2h0m-9 1h0m1 0h0m-3 2h0m10 0h0m-4 1h0m2 0h0m-1 1h0m0 1h0m-1 1h0m1 2h0m4 0h0m-3 2h0m-4 1h0m0 1h0m2 4h0m-4 2h0m2 1h0m1 1h0m-3 1h0m7 0h0m-4 4h0m0 3h0m0 8h0m-1 25h0m8 5h0m1-9h0m3-13h0m1 0h0m-3-10h0m-1-2h0m8-6h0m-7-2h0m8-1h0m-5-1h0m6 0h0m-6-3h0m4-2h0m-9-2h0m7-2h0m-1-1h0m-5-1h0m5 0h0m-3-1h0m0-2h0m7 0h0m-6-4h0m7 0h0m-1-1h0m1 0h0m-9-1h0m3 0h0m6-1h0m-9-2h0m4 0h0m-4-2h0m6-1h0m3 0h0m-10-1h0m6-2h0m-2-1h0m4-1h0m-3-2h0m-4-1h0m0-1h0m4-4h0m0-2h0m-5-1h0m2 0h0m2-3h0m5 0h0m-6-7h0m3-4h0m-4-2h0m-3-2h0m4-7h0m-2-6h0m2-18h0m10-1h0m4 27h0m0 4h0m-3 4h0m-2 1h0m8 2h0m-4 4h0m-2 1h0m7 4h0m-7 2h0m-3 2h0m6 0h0m2 3h0m-3 2h0m1 0h0m1 0h0m-3 5h0m5 0h0m2 1h0m-9 2h0m-2 1h0m5 0h0m2 0h0m3 0h0m-6 1h0m2 0h0m3 0h0m-4 6h0m2 1h0m-2 1h0m4 0h0m-5 1h0m1 0h0m2 1h0m1 0h0m3 0h0m-7 2h0m2 2h0m-1 1h0m2 0h0m1 3h0m2 1h0m-4 2h0m2 3h0m1 0h0m-5 2h0m4 0h0m-7 3h0m10 2h0m-4 1h0m-1 1h0m-5 27h0m0 7h0m6 1h0m27-78h0m1 1h0m0 4h0m-2 14h0m0 2h0m5 37h0m4-6h0m0-11h0m0-12h0m-3-5h0m3 0h0m-3-1h0m1-2h0m7 0h0m-10-3h0m4 0h0m-1-2h0m2 0h0m3-2h0m-1-1h0m-6-2h0m4-1h0m-3-1h0m4-2h0m-1-3h0m-4-1h0m5 0h0m1 0h0m-4-1h0m6-3h0m-8-2h0m4 0h0m0-2h0m-2-6h0m1-19h0m1-4h0m16-22h0m-4 24h0m3 15h0m-2 1h0m0 2h0m-2 7h0m-5 2h0m1 3h0m10 5h0m-4 1h0m-1 1h0m4 0h0m-4 1h0m-2 1h0m2 0h0m1 4h0m-1 3h0m-5 4h0m1 0h0m2 0h0m3 0h0m-1 3h0m2 0h0m-1 4h0m3 2h0m7 20h0m3-5h0m-1-4h0m-3-15h0m3-7h0m4-1h0m0-1h0m-5-1h0m0-4h0m0-4h0m4 0h0m1 0h0m-5-2h0m1 0h0m1 0h0m-6-1h0m9 0h0m-8-3h0m5 0h0m3 0h0m0-5h0m-8-1h0m4-5h0m3-1h0m1-2h0m-3-25h0m6 8h0m5 13h0m-1 2h0m3 5h0m-6 1h0m8 0h0m-5 2h0m2 2h0m2 1h0m-3 1h0m3 1h0m-3 3h0m1 0h0m1 0h0m-7 1h0m4 1h0m-3 2h0m-2 4h0m-1 1h0m6 0h0m-3 1h0m3 0h0m-1 1h0m2 1h0m-7 1h0m4 0h0m2 0h0m2 0h0m-6 6h0m0 2h0m-1 2h0m9 0h0m-5 3h0m4 6h0m-7 10h0m9 7h0m0 14h0m7 10h0m-1-3h0m-3-18h0m-2-5h0m4-4h0m3-4h0m-2-5h0m-3-2h0m7 0h0m-4-4h0m2 0h0m3 0h0m-9-1h0m1-4h0m7 0h0m-4-2h0m4 0h0m-3-1h0m-6-1h0m0-1h0m5 0h0m1-3h0m3 0h0m-1-1h0m-3-1h0m1-2h0m0-1h0m-2-1h0m2 0h0m2-1h0m-3-1h0m3 0h0m-5-1h0m2 0h0m6-1h0m-10-1h0m8 0h0m-3-2h0m2 0h0m-3-3h0m1 0h0m2-3h0m-6-1h0m4-2h0m3-7h0m-2-6h0m0-2h0m0-5h0m-2-21h0m12-4h0m-3 34h0m0 2h0m2 5h0m-1 1h0m3 0h0m0 2h0m1 0h0m2 0h0m-4 2h0m0 5h0m6 0h0m-11 2h0m5 2h0m-1 3h0m4 8h0m-4 2h0m-2 1h0m5 3h0m3 3h0m-7 1h0m-1 1h0m-1 2h0m5 0h0m-1 1h0m-2 3h0m-1 1h0m-2 4h0m5 2h0m2 0h0m-6 3h0m0 13h0m11-11h0m5 0h0m5-9h0m-3-2h0m-7-5h0m9 0h0m-9-1h0m2 0h0m1 0h0m-3-3h0m2 0h0m-2-2h0m2-2h0m1 0h0m6-2h0m-7-1h0m6-1h0m0-3h0m-6-2h0m2-2h0m-3-1h0m2-1h0m-2-10h0m6-1h0m-7-5h0m7-3h0m-6-1h0m7-14h0m2-10h0m22 70h0m2-9h0m-1-5h0m-1-8h0m1-3h0m2 0h0m-1-1h0m-1-2h0m1-12h0m-1-2h0m1-3h0m-1-1h0m5-38h0m9 0h0m-6 5h0m-5 3h0m1 21h0m7 0h0m-2 4h0m3 6h0m-6 1h0m6 0h0m0 3h0m-7 1h0m1 1h0m7 0h0m-10 1h0m1 2h0m8 1h0m-1 1h0m-3 3h0m3 0h0m-1 1h0m2 0h0m-1 1h0m2 2h0m0 1h0m0 1h0m-7 1h0m2 0h0m4 0h0m1 1h0m-4 2h0m4 4h0m-1 2h0m-8 1h0m8 0h0m2 0h0m-8 1h0m6 0h0m2 1h0m-5 1h0m-4 2h0m1 0h0m4 1h0m2 0h0m0 1h0m-2 1h0m-5 1h0m5 0h0m0 2h0m-5 2h0m6 2h0m-8 3h0m9 1h0m-1 10h0m-2 3h0m11 14h0m0-8h0m-5-13h0m3-11h0m3-4h0m-3-2h0m1-9h0m1-1h0m-3-3h0m3-1h0m-5-3h0m3 0h0m2-2h0m-5-4h0m3-1h0m0-2h0m2 0h0m-1-5h0m-4-1h0m2-1h0m0-13h0m-1-1h0m2-3h0m1-5h0m-3-13h0m4-8h0m17 37h0m1 66h0m8 19h0m-1-21h0m3-5h0m-1-5h0m-6-5h0m3-3h0m2-5h0m2-1h0m-6-1h0m-1-2h0m-1-1h0m5-2h0m-4-1h0m2-1h0m1 0h0m-4-4h0m7 0h0m-8-3h0m10 0h0m-2-5h0m-2-1h0m-2-1h0m-2-1h0m1-3h0m2 0h0m4 0h0m-7-1h0m6 0h0m-7-1h0m6 0h0m0-1h0m-1-1h0m1 0h0m-5-1h0m5 0h0m-2-1h0m1-6h0m4-3h0m-4-6h0m3-9h0m-2-7h0m1-9h0m4 4h0m3 1h0m-1 14h0m1 4h0m8 3h0m-7 10h0m2 0h0m4 0h0m-10 1h0m9 0h0m-6 2h0m6 0h0m-8 2h0m3 0h0m1 0h0m-2 1h0m-1 1h0m4 3h0m0 1h0m1 2h0m-5 1h0m5 0h0m-5 2h0m6 0h0m-7 1h0m1 0h0m5 1h0m3 3h0m-1 1h0m1 0h0m-8 1h0m0 1h0m6 1h0m-5 3h0m-3 2h0m3 1h0m5 0h0m-6 1h0m6 0h0m-6 3h0m5 3h0m-5 2h0m9 2h0m-11 1h0m9 0h0m-8 2h0m6 0h0m4 6h0m-9 10h0m1 6h0m-2 2h0m-1 19h0m17-17h0m-4-24h0m3-1h0m1-9h0m6-2h0m-11-4h0m8-1h0m1-3h0m-1-2h0m-5-1h0m4 0h0m-2-2h0m-4-2h0m10 0h0m-2-4h0m-4-2h0m-4-3h0m5 0h0m-4-2h0m9-10h0m-10-9h0m1 0h0m7-1h0m-4-2h0m-3-11h0m10-16h0m8 25h0m-4 4h0m3 6h0m-7 6h0m4 0h0m-4 2h0m8 2h0m0 2h0m-5 1h0m2 1h0m1 0h0m1 1h0m-6 1h0m4 2h0m3 1h0m-1 3h0m1 0h0m-4 9h0m-2 1h0m6 2h0m-3 2h0m-3 1h0m1 3h0m-2 1h0m5 0h0m-1 2h0m-4 5h0m-1 1h0m0 6h0m3 0h0m6 3h0m-6 1h0m4 1h0m2 0h0m-7 1h0m-1 3h0m0 8h0m-1 14h0m35-113h0m-1 15h0m1 2h0m0 5h0m-4 9h0m3 0h0m-2 2h0m0 2h0m1 1h0m-1 4h0m3 1h0m-4 1h0m1 2h0m0 1h0m-1 1h0m3 3h0m-1 2h0m-1 1h0m3 0h0m-4 1h0m1 1h0m1 7h0m0 2h0m0 1h0m2 9h0m-2 2h0m0 5h0m1 7h0m-2 1h0m4 5h0m1 0h0m3 0h0m-4-8h0m2 0h0m3-3h0m-3-2h0m5 0h0m-7-1h0m7 0h0m-6-3h0m10-2h0m-10-2h0m4 0h0m-4-2h0m-1-2h0m4 0h0m-3-4h0m2 0h0m6 0h0m1-2h0m-9-1h0m2-3h0m1 0h0m-1-1h0m5-1h0m-3-1h0m-5-3h0m0-1h0m3 0h0m2 0h0m-5-1h0m7-1h0m4-1h0m-10-2h0m4 0h0m1 0h0m3 0h0m-8-2h0m6 0h0m-1-1h0m-2-1h0m-4-1h0m4 0h0m2 0h0m-2-2h0m2-1h0m2 0h0m-7-2h0m1 0h0m1 0h0m-3-4h0m8-6h0m-8-4h0m6 0h0m-6-1h0m3 0h0m4 0h0m0-2h0m-6-6h0m-1-3h0m2 0h0m6-1h0m3-1h0m-5-6h0m-5-5h0m-1-4h0m1-6h0m22 5h0m-3 35h0m-2 2h0m3 4h0m-4 1h0m6 1h0m-6 4h0m2 3h0m-7 1h0m4 0h0m-4 1h0m11 0h0m0 2h0m-8 3h0m1 0h0m1 1h0m6 2h0m-5 2h0m-3 1h0m2 1h0m4 2h0m2 1h0m-5 4h0m3 3h0m2 4h0m-7 3h0m2 0h0m5 1h0m-9 1h0m2 6h0m7 0h0m-4 8h0m-1 1h0m1 10h0m-2 14h0m9-8h0m-2-12h0m6-13h0m-4-9h0m5 0h0m2-3h0m-8-4h0m2 0h0m8 0h0m-1-3h0m-3-1h0m0-7h0m1-3h0m-2-1h0m-1-5h0m2-3h0m3-1h0m-5-2h0m3-2h0m-7-2h0m3 0h0m-4-1h0m9 0h0m-2-8h0m-4-10h0m4-8h0m1-13h0m11 6h0m-3 2h0m2 8h0m1 8h0m-7 4h0m6 10h0m2 1h0m1 1h0m-7 1h0m0 2h0m-2 1h0m7 0h0m-4 2h0m6 1h0m-6 3h0m8 0h0m-7 1h0m5 1h0m-9 1h0m11 0h0m-10 2h0m-1 3h0m4 0h0m4 1h0m2 0h0m-8 1h0m1 0h0m8 4h0m-8 2h0m6 0h0m2 0h0m-7 5h0m-4 2h0m11 0h0m-8 2h0m2 5h0m6 1h0m-11 1h0m2 0h0m2 1h0m7 0h0m-2 1h0m-7 2h0m-2 4h0m3 2h0m0 3h0m3 2h0m5 3h0m-3 2h0m-6 8h0m14 10h0m7-9h0m-1-7h0m-1-2h0m2-15h0m-7-2h0m6 0h0m0-3h0m-1-1h0m0-2h0m-7-2h0m8-2h0m0-1h0m-2-1h0m-2-1h0m-1-1h0m5-1h0m-8-1h0m-2-1h0m9 0h0m-5-2h0m3-1h0m2 0h0m-2-2h0m2-1h0m-1-2h0m1 0h0m-6-1h0m-3-1h0m9 0h0m-8-1h0m2-1h0m3-3h0m-5-1h0m9 0h0m-7-1h0m6 0h0m1 0h0m-5-1h0m0-1h0m5 0h0m-3-1h0m3-1h0m-10-1h0m1 0h0m4 0h0m1-1h0m5 0h0m-4-2h0m1-3h0m1-4h0m-6-2h0m5-2h0m-1-2h0m3-2h0m-10-4h0m9-2h0m1-7h0m-5-1h0m-5-6h0m8-1h0m2-7h0m-8-2h0m2 0h0m14-10h0m-3 22h0m2 6h0m4 1h0m-3 1h0m-5 4h0m9 5h0m-2 9h0m-4 2h0m3 0h0m-3 2h0m3 2h0m4 0h0m-5 1h0m4 2h0m1 0h0m-6 1h0m6 2h0m-10 3h0m10 0h0m-8 3h0m3 0h0m-1 1h0m1 1h0m-1 3h0m-4 1h0m0 1h0m3 2h0m1 0h0m-1 1h0m7 0h0m-3 2h0m2 2h0m-4 1h0m1 0h0m-5 2h0m5 2h0m-7 2h0m2 0h0m9 5h0m-9 1h0m-1 1h0m4 0h0m0 2h0m-2 3h0m-2 7h0m4 24h0m15-2h0m-6-16h0m4 0h0m-4-10h0m-2-5h0m6 0h0m0-2h0m-5-6h0m-1-8h0m0-2h0m0-7h0m5-8h0m-1-2h0m0-4h0m4 0h0m-6-6h0m1-2h0m3-15h0m0-12h0m27 108h0m-2-11h0m0-15h0m-1-2h0m0-9h0m2-6h0m-2-2h0m5-1h0m-3-8h0m-1-6h0m-1-3h0m0-5h0m1-5h0m1 0h0m3-10h0m-4-1h0m1-1h0m0-1h0m13-42h0m-4 9h0m1 4h0m0 1h0m2 10h0m-2 5h0m1 6h0m0 2h0m-3 6h0m4 2h0m0 4h0m-4 1h0m-2 2h0m0 1h0m5 5h0m-7 2h0m6 0h0m2 1h0m1 0h0m-3 3h0m-2 1h0m4 0h0m1 0h0m-1 1h0m1 0h0m1 1h0m-1 2h0m-4 2h0m-5 2h0m9 1h0m-4 1h0m-4 1h0m5 3h0m-6 5h0m4 1h0m6 0h0m-4 2h0m3 1h0m-4 4h0m-2 3h0m3 1h0m2 0h0m2 4h0m-5 3h0m14 23h0m-5-6h0m7-8h0m-8-5h0m0-7h0m3-6h0m6-4h0m-8-3h0m1 0h0m4-1h0m1-4h0m-6-1h0m6-1h0m-6-1h0m4-2h0m1-2h0m2 0h0m2 0h0m-7-1h0m-3-1h0m4 0h0m6-1h0m-9-1h0m4-1h0m-2-3h0m3 0h0m2 0h0m-6-2h0m6 0h0m-9-1h0m10 0h0m-2-1h0m-2-2h0m-4-1h0m2 0h0m-3-1h0m8 0h0m-1-1h0m1 0h0m-7-1h0m7 0h0m2-4h0m-8-1h0m5-1h0m-7-1h0m9 0h0m-3-4h0m3-1h0m-6-2h0m7-9h0m-2-1h0m10-22h0m0 12h0m1 4h0m2 3h0m-5 1h0m-3 2h0m-1 9h0m4 1h0m2 0h0m2 2h0m-8 4h0m8 1h0m2 2h0m-8 1h0m1 0h0m5 0h0m-6 2h0m0 1h0m-3 1h0m6 0h0m4 1h0m0 2h0m-10 1h0m11 0h0m-9 4h0m9 1h0m-11 1h0m4 0h0m6 0h0m1 1h0m0 2h0m-5 4h0m-5 2h0m3 2h0m7 0h0m-1 6h0m-2 1h0m1 3h0m-5 9h0m7 2h0m-4 1h0m2 3h0m-3 8h0m5 8h0m-11 12h0m19 3h0m1-25h0m3-2h0m-5-5h0m-1-3h0m-1-2h0m-2-7h0m7 0h0m-5-1h0m7-4h0m-1-1h0m-1-1h0m0-1h0m-7-3h0m5-1h0m-4-1h0m8 0h0m-8-1h0m-2-3h0m6 0h0m2 0h0m-7-2h0m-1-1h0m2 0h0m5-1h0m2-1h0m0-4h0m-3-2h0m-3-1h0m6-5h0m-1-4h0m-4-1h0m5 0h0m-9-2h0m2-1h0m-3-1h0m11 0h0m0-5h0m-1-2h0m-9-1h0m4-2h0m-2-23h0m17 9h0m-6 13h0m2 1h0m7 0h0m-11 3h0m1 1h0m10 0h0m-3 1h0m3 3h0m-7 1h0m0 1h0m-1 2h0m6 0h0m2 0h0m-6 1h0m1 0h0m-6 1h0m5 1h0m2 0h0m2 0h0m-4 1h0m1 1h0m3 0h0m-1 1h0m1 0h0m-5 2h0m0 1h0m0 1h0m4 1h0m2 0h0m-7 4h0m3 0h0m-1 1h0m0 1h0m5 1h0m1 3h0m-9 1h0m9 1h0m-11 1h0m1 0h0m9 0h0m1 0h0m-6 1h0m6 0h0m-7 1h0m-4 1h0m10 0h0m1 0h0m-9 2h0m6 1h0m2 2h0m-4 3h0m3 0h0m-8 1h0m5 1h0m2 0h0m3 3h0m-7 4h0m2 1h0m1 4h0m1 2h0m-3 9h0m-1 18h0m16 8h0m-7-1h0m10-5h0m-1-4h0m-1-16h0m-7-1h0m2-6h0m4-1h0m-5-2h0m8-2h0m-11-1h0m5-7h0m6 0h0m-8-1h0m-2-1h0m2 0h0m-3-1h0m10-1h0m-10-1h0m0-1h0m1-1h0m10 0h0m-1-2h0m-6-1h0m1 0h0m6 0h0m-10-1h0m2-1h0m5 0h0m-8-1h0m10 0h0m-2-3h0m-4-3h0m-1-2h0m-1-2h0m6-1h0m1 0h0m-4-1h0m-5-2h0m1 0h0m1-2h0m7 0h0m2 0h0m-10-1h0m7 0h0m1-1h0m-6-1h0m8 0h0m-11-2h0m4 0h0m-3-2h0m7 0h0m3 0h0m-9-3h0m7-2h0m-7-4h0m-1-1h0m7-1h0m-7-1h0m3-3h0m-3-1h0m10 0h0m-9-30h0m7 0h0m5-10h0m-2 3h0m5 9h0m2 19h0m-7 10h0m3 1h0m3 1h0m-5 1h0m4 1h0m-3 6h0m5 0h0m-3 1h0m1 0h0m-3 2h0m1 0h0m1 0h0m0 1h0m2 0h0m-6 1h0m6 0h0m-4 1h0m-1 1h0m-1 3h0m4 1h0m0 1h0m2 0h0m-2 4h0m-4 1h0m0 1h0m2 0h0m2 0h0m2 4h0m-6 1h0m4 0h0m1 0h0m-5 1h0m1 0h0m1 0h0m2 0h0m0 2h0m0 1h0m1 0h0m-1 1h0m-3 1h0m2 0h0m1 0h0m-1 1h0m2 0h0m-5 1h0m4 1h0m2 0h0m-6 1h0m2 0h0m1 0h0m1 1h0m-2 1h0m1 0h0m1 3h0m-4 2h0m4 3h0m-1 1h0m1 6h0m-3 5h0m4 4h0m2 2h0m25-107h0m-3 10h0m3 15h0m-2 3h0m1 4h0m0 5h0m-1 4h0m2 0h0m2 15h0m-1 4h0m1 0h0m-4 1h0m1 0h0m-2 1h0m2 1h0m-2 1h0m5 0h0m-4 3h0m5 2h0m-5 3h0m2 3h0m-1 1h0m2 6h0m-4 1h0m2 1h0m4 1h0m-1 6h0m-2 17h0m-2 3h0m2 2h0m1 15h0m12-4h0m-5-2h0m7-9h0m-11-9h0m8-6h0m-7-1h0m2-2h0m8 0h0m-8-1h0m-2-1h0m9-4h0m1 0h0m-9-2h0m9-6h0m-2-2h0m2-3h0m-7-1h0m5 0h0m-7-1h0m5-3h0m-4-1h0m6 0h0m-8-2h0m4 0h0m1 0h0m-4-2h0m4-1h0m-4-1h0m2 0h0m-1-2h0m2 0h0m-1-1h0m6 0h0m1 0h0m-9-2h0m4 0h0m3 0h0m-6-3h0m1-1h0m-1-1h0m4 0h0m-4-1h0m1 0h0m4 0h0m-6-1h0m1-1h0m-3-2h0m4-1h0m6 0h0m1 0h0m-10-1h0m9 0h0m1-1h0m-10-1h0m8-1h0m-7-2h0m2 0h0m-2-5h0m3-2h0m2 0h0m-7-4h0m7-6h0m-2-4h0m-4-25h0m19 2h0m-3 11h0m5 15h0m0 3h0m-1 3h0m-3 4h0m-3 5h0m1 0h0m2 0h0m-1 2h0m-4 1h0m7 1h0m-3 1h0m5 0h0m1 0h0m-3 1h0m0 4h0m-5 2h0m7 0h0m-10 1h0m0 2h0m5 1h0m2 0h0m-3 3h0m5 1h0m-4 1h0m-4 1h0m1 0h0m3 0h0m2 0h0m3 0h0m-10 3h0m8 1h0m-4 3h0m4 1h0m-3 1h0m2 0h0m-5 2h0m5 0h0m2 0h0m-4 1h0m-1 1h0m2 0h0m-4 3h0m7 0h0m1 0h0m-4 3h0m-6 1h0m7 0h0m3 0h0m-1 1h0m-9 1h0m11 4h0m-7 14h0m3 7h0m-3 20h0m12 3h0m-4-23h0m9-8h0m1-9h0m1-1h0m0-8h0m-7-1h0m-3-3h0m1 0h0m9-3h0m-10-2h0m-1-4h0m11 0h0m-10-2h0m3 0h0m-2-1h0m8 0h0m1 0h0m-9-3h0m9 0h0m-8-6h0m0-1h0m7-1h0m-6-2h0m1-3h0m1 0h0m4 0h0m-2-5h0m-3-2h0m4 0h0m-4-5h0m4-3h0m-1-3h0m-2-21h0m6-17h0m3 2h0m1 18h0m6 5h0m-8 3h0m2 8h0m-3 4h0m1 0h0m0 1h0m4 0h0m2 0h0m-7 2h0m3 5h0m-2 2h0m8 0h0m-1 1h0m-6 1h0m1 0h0m-1 1h0m1 1h0m-2 1h0m-2 1h0m4 3h0m-3 4h0m6 1h0m-5 1h0m2 1h0m7 0h0m-10 1h0m0 2h0m1 1h0m3 0h0m1 0h0m-6 1h0m4 0h0m-1 1h0m1 0h0m1 1h0m-1 1h0m5 0h0m-5 1h0m-2 1h0m2 0h0m1 0h0m4 0h0m-9 1h0m7 0h0m1 0h0m-7 1h0m2 1h0m2 0h0m-4 1h0m1 1h0m2 0h0m5 0h0m-5 1h0m-2 1h0m-2 2h0m2 3h0m4 0h0m5 0h0m-9 3h0m-1 1h0m1 3h0m1 6h0m0 1h0m2 11h0m-4 7h0m3 6h0m13 3h0m-3-3h0m2-9h0m-3-6h0m1-3h0m8-6h0m-3-1h0m-1-2h0m-2-7h0m5 0h0m-2-3h0m-1-1h0m1 0h0m1-1h0m-1-4h0m-2-1h0m3-3h0m1-1h0m2 0h0m-9-3h0m1-1h0m8-1h0m-8-1h0m3-1h0m-4-2h0m6-1h0m0-1h0m-2-1h0m0-3h0m-6-1h0m6-1h0m1 0h0m-7-2h0m4-2h0m5 0h0m-2-2h0m-3-2h0m1 0h0m-2-1h0m8 0h0m-7-1h0m5 0h0m-9-2h0m6-4h0m4 0h0m-5-2h0m4 0h0m0-9h0m-3-10h0m-5-10h0m18-10h0m-4 9h0m3 15h0m0 2h0m-4 1h0m5 2h0m-3 1h0m0 3h0m1 1h0m1 6h0m1 3h0m-6 2h0m2 0h0m-2 1h0m9 0h0m-5 4h0m3 0h0m-7 2h0m6 1h0m1 3h0m-4 1h0m1 2h0m3 0h0m-6 1h0m2 3h0m7 1h0m-7 2h0m7 0h0m-9 1h0m2 0h0m6 0h0m-7 1h0m1 0h0m4 4h0m2 0h0m0 2h0m-9 1h0m1 0h0m1 1h0m0 1h0m3 1h0m-3 1h0m2 2h0m6 4h0m-3 2h0m-1 1h0m2 0h0m-1 1h0m-2 6h0m-2 9h0m-4 11h0m3 2h0m1 0h0m-4 7h0m8 9h0m8-22h0m-2-1h0m-2-12h0m2-2h0m1-3h0m3 0h0m-4-2h0m1-3h0m-2-2h0m2 0h0m-1-2h0m0-1h0m4-4h0m-6-1h0m5 0h0m-2-3h0m-2-3h0m2-2h0m-2-2h0m5-2h0m-3-2h0m2-3h0m-3-4h0m2 0h0m-4-1h0m5 0h0m-4-2h0m3 0h0m-4-2h0m5 0h0m-1-4h0m1-3h0m-2-8h0m-1-3h0m-1-5h0m2-11h0m3-2h0m0-3h0m-6-6h0m6-2h0m-5-3h0"/>
<path transform="scale(.5)" fill="none" stroke="#D9423A" stroke-width="5.6" stroke-linecap="round" d="M246 118h0m2 0h0m14 165h0m-8-165h0m1 0h0m3 0h0m16 0h0m-10 165h0m2 0h0m2 0h0m1 0h0m1 0h0m10 0h0m3 0h0m-6-159h0m-1-6h0m7 0h0m11 4h0m-2 155h0m7 6h0m3 0h0m2 0h0m2 0h0m-1-157h0m4-2h0m-4-6h0m11 0h0m4 0h0m2 0h0m1 2h0m3 163h0m2 0h0m-1-8h0m-3-157h0m6 0h0m26 164h0m-1-158h0m6-7h0m5 164h0m-2 1h0m1 0h0m2 0h0m7 0h0m4 0h0m0-165h0m4 0h0m5 0h0m8 0h0m-7 165h0m17 0h0m2 0h0m-7-165h0m8 0h0m6 160h0m12 5h0m0-165h0m7 0h0m4 0h0m27 165h0m1 0h0m1 0h0m9-162h0m16-3h0m-11 165h0m23 0h0m-11-165h0m3 0h0m15 2h0m-6 9h0m6 154h0m5 0h0m8-165h0m2 0h0m4 0h0m3 0h0m6 165h0m4-165h0m26 165h0m4 0h0m1 0h0m-2-166h0m2 0h0m3 0h0m2 0h0m4 0h0m9 166h0m29-166h0m11 161h0m-3 2h0m0 3h0m12-158h0m4-3h0m5-5h0m0 166h0m30-166h0m13 165h0m-7-165h0m11 0h0m1 0h0m2 0h0m5 0h0m2 11h0m5 154h0m-2-155h0m-1-10h0m10 0h0m1 0h0m5 0h0m5 6h0m-8 159h0m2 0h0m10 0h0m7 0h0m-5-165h0m16 0h0m-6 165h0m12 0h0m-1-165h0m38-1h0m2 157h0m2 9h0m17-166h0m4 0h0m4 0h0m-2 162h0m12 4h0m1 0h0m7-166h0m2 0h0m7 0h0m1 7h0m0 153h0m4 6h0m8 0h0m-1-156h0m0-10h0m25 163h0m6-163h0m4 0h0m1 165h0m2 0h0m7 0h0m1 0h0m-4-159h0m1-2h0m-3-4h0m11 0h0m2 0h0m7 0h0m-8 165h0m20 0h0m2-165h0m4 165h0m16 0h0m-3-165h0m5 0h0m10 0h0m-4 162h0m0 3h0m4 0h0m31 0h0m0-8h0m18-157h0m10 165h0m19 0h0m3-10h0m7-155h0m6 157h0m13 8h0m27-1h0m0-165h0m45 165h0m2 0h0m-8-154h0m-1-11h0m2 0h0m12 155h0m0 10h0m10-165h0m14 0h0m5 0h0m24 0h0m3 0h0m1 8h0m-4 157h0m13 0h0m1 0h0m-8-162h0m4-3h0m7 0h0m4 165h0m8-155h0m11-10h0m11 0h0m12 157h0m0-157h0m16 165h0m4-165h0m49 165h0m-7-166h0m14 9h0m1 157h0m20-155h0m1-11h0m8 0h0m3 0h0m-7 4h0m5 162h0m9-159h0m-3-7h0m1 0h0m12 0h0m1 0h0m1 166h0m1 0h0m24-166h0m3 0h0m-3 157h0m3 8h0m5 0h0m5-159h0m15-6h0m0 3h0m-11 4h0m2 158h0m9 0h0m8 0h0m-1-165h0m6 0h0m5 157h0m-3 8h0m14 0h0m6 0h0m0-165h0m10 0h0m-4 10h0m-1 145h0m0 10h0m1 0h0m5 0h0m3 0h0"/>
<line x1="121.20" y1="187.75" x2="121.20" y2="277.00" stroke="#000" stroke-width="2.0"/>
<line x1="116.70" y1="191.75" x2="121.20" y2="191.75" stroke="#000" stroke-width="1.8"/>
<text x="115.00" y="195.85" font-size="16.5" font-weight="bold" text-anchor="end" fill="#000">1.00</text>
<line x1="116.70" y1="212.31" x2="121.20" y2="212.31" stroke="#000" stroke-width="1.8"/>
<text x="115.00" y="216.41" font-size="16.5" font-weight="bold" text-anchor="end" fill="#000">0.75</text>
<line x1="116.70" y1="232.88" x2="121.20" y2="232.88" stroke="#000" stroke-width="1.8"/>
<text x="115.00" y="236.97" font-size="16.5" font-weight="bold" text-anchor="end" fill="#000">0.50</text>
<line x1="116.70" y1="253.44" x2="121.20" y2="253.44" stroke="#000" stroke-width="1.8"/>
<text x="115.00" y="257.54" font-size="16.5" font-weight="bold" text-anchor="end" fill="#000">0.25</text>
<line x1="116.70" y1="274.00" x2="121.20" y2="274.00" stroke="#000" stroke-width="1.8"/>
<text x="115.00" y="278.10" font-size="16.5" font-weight="bold" text-anchor="end" fill="#000">0.00</text>
<line x1="121.20" y1="277.00" x2="166.20" y2="276.82" stroke="#000" stroke-width="2.0"/>
<text x="143.70" y="295.91" font-size="15" font-weight="bold" text-anchor="middle" fill="#000">chr13</text>
<line x1="174.65" y1="276.79" x2="219.65" y2="276.61" stroke="#000" stroke-width="2.0"/>
<text x="197.15" y="295.70" font-size="15" font-weight="bold" text-anchor="middle" fill="#000">chr14</text>
<line x1="228.10" y1="276.57" x2="273.10" y2="276.39" stroke="#000" stroke-width="2.0"/>
<text x="250.60" y="295.48" font-size="15" font-weight="bold" text-anchor="middle" fill="#000">chr15</text>
<line x1="281.55" y1="276.36" x2="326.55" y2="276.18" stroke="#000" stroke-width="2.0"/>
<text x="304.05" y="295.27" font-size="15" font-weight="bold" text-anchor="middle" fill="#000">chr16</text>
<line x1="335.00" y1="276.14" x2="380.00" y2="275.96" stroke="#000" stroke-width="2.0"/>
<text x="357.50" y="295.05" font-size="15" font-weight="bold" text-anchor="middle" fill="#000">chr17</text>
<line x1="388.45" y1="275.93" x2="433.45" y2="275.75" stroke="#000" stroke-width="2.0"/>
<text x="410.95" y="294.84" font-size="15" font-weight="bold" text-anchor="middle" fill="#000">chr18</text>
<line x1="441.90" y1="275.72" x2="486.90" y2="275.54" stroke="#000" stroke-width="2.0"/>
<text x="464.40" y="294.63" font-size="15" font-weight="bold" text-anchor="middle" fill="#000">chr19</text>
<line x1="495.35" y1="275.50" x2="540.35" y2="275.32" stroke="#000" stroke-width="2.0"/>
<text x="517.85" y="294.41" font-size="15" font-weight="bold" text-anchor="middle" fill="#000">chr20</text>
<line x1="548.80" y1="275.29" x2="593.80" y2="275.11" stroke="#000" stroke-width="2.0"/>
<text x="571.30" y="294.20" font-size="15" font-weight="bold" text-anchor="middle" fill="#000">chr21</text>
<line x1="602.25" y1="275.08" x2="647.25" y2="274.90" stroke="#000" stroke-width="2.0"/>
<text x="624.75" y="293.99" font-size="15" font-weight="bold" text-anchor="middle" fill="#000">chr22</text>
<line x1="655.70" y1="274.86" x2="700.70" y2="274.68" stroke="#000" stroke-width="2.0"/>
<text x="678.20" y="293.77" font-size="15" font-weight="bold" text-anchor="middle" fill="#000">chrY</text>
<path fill="#68BDC2" d="M176.2 228.7h3.7v10.4h-3.7zM179.7 228.0h3.7v8.3h-3.7zM183.2 227.7h3.7v12.3h-3.7zM186.7 227.7h3.7v9.5h-3.7zM190.2 228.8h3.7v7.1h-3.7zM193.7 226.6h3.7v12.1h-3.7zM197.2 226.9h3.7v11.2h-3.7zM200.7 227.0h3.7v11.6h-3.7zM204.2 229.1h3.7v8.4h-3.7zM207.7 228.1h3.7v7.0h-3.7zM211.2 228.2h3.7v11.3h-3.7zM214.7 228.4h3.7v9.6h-3.7zM229.6 226.2h3.7v10.2h-3.7zM233.1 229.9h3.7v7.0h-3.7zM236.6 225.3h3.7v12.9h-3.7zM240.1 226.3h3.7v10.6h-3.7zM243.6 226.3h3.7v12.3h-3.7zM247.1 226.1h3.7v8.6h-3.7zM250.6 227.1h3.7v13.1h-3.7zM254.1 227.6h3.7v12.1h-3.7zM257.6 230.1h3.7v8.6h-3.7zM261.1 223.9h3.7v14.0h-3.7zM264.6 229.8h3.7v7.5h-3.7zM268.1 227.3h3.7v10.0h-3.7zM283.1 228.4h3.7v9.6h-3.7zM286.6 224.0h3.7v16.2h-3.7zM290.1 227.6h3.7v11.6h-3.7zM293.6 227.3h3.7v12.0h-3.7zM307.6 226.7h3.7v9.4h-3.7zM311.1 221.3h3.7v17.7h-3.7zM314.6 226.1h3.7v11.7h-3.7zM318.1 226.5h3.7v13.8h-3.7zM321.6 228.1h3.7v10.0h-3.7zM336.5 223.4h3.7v15.5h-3.7zM340.0 221.4h3.7v18.8h-3.7zM343.5 222.2h3.7v18.8h-3.7zM347.0 227.3h3.7v9.8h-3.7zM350.5 223.3h3.7v18.1h-3.7zM354.0 226.7h3.7v11.7h-3.7zM357.5 224.5h3.7v11.2h-3.7zM361.0 221.2h3.7v17.3h-3.7zM364.5 227.6h3.7v11.4h-3.7zM368.0 222.0h3.7v16.3h-3.7zM371.5 227.8h3.7v12.3h-3.7zM375.0 223.3h3.7v15.1h-3.7zM443.4 222.1h3.7v17.3h-3.7zM446.9 225.6h3.7v12.3h-3.7zM450.4 218.9h3.7v23.0h-3.7zM453.9 222.2h3.7v17.9h-3.7zM457.4 224.3h3.7v13.9h-3.7zM467.9 220.4h3.7v18.6h-3.7zM471.4 221.0h3.7v17.7h-3.7zM474.9 220.8h3.7v18.2h-3.7zM478.4 220.1h3.7v21.3h-3.7zM481.9 221.2h3.7v16.6h-3.7zM496.9 227.2h3.7v8.2h-3.7zM500.4 226.8h3.7v9.8h-3.7zM503.9 229.1h3.7v7.9h-3.7zM507.4 225.2h3.7v8.6h-3.7zM510.9 225.4h3.7v8.2h-3.7zM514.4 225.6h3.7v10.9h-3.7zM517.9 225.9h3.7v11.8h-3.7zM521.4 229.0h3.7v6.3h-3.7zM524.9 227.1h3.7v9.8h-3.7zM528.4 228.0h3.7v8.6h-3.7zM531.9 228.9h3.7v7.1h-3.7zM535.4 227.5h3.7v6.4h-3.7zM603.8 227.3h3.7v7.0h-3.7zM607.2 225.4h3.7v12.5h-3.7zM610.8 225.3h3.7v9.8h-3.7zM614.2 226.3h3.7v11.2h-3.7zM617.8 227.7h3.7v7.4h-3.7zM621.2 224.1h3.7v13.1h-3.7zM624.8 223.3h3.7v11.8h-3.7zM628.2 225.1h3.7v8.0h-3.7zM631.8 225.8h3.7v11.5h-3.7zM635.2 224.4h3.7v10.2h-3.7zM638.8 227.8h3.7v8.2h-3.7zM642.2 226.3h3.7v12.8h-3.7z"/>
<path transform="scale(.5)" fill="none" stroke="#5FB7BD" stroke-width="5.8" stroke-linecap="round" d="M249 452h0m-1 11h0m-1 8h0m4 5h0m-6 2h0m1 10h0m13-15h0m0-2h0m3 0h0m-9-2h0m8-2h0m-7-5h0m2-1h0m4-3h0m-5-3h0m5-4h0m2 0h0m0-25h0m-1-12h0m13 7h0m0 14h0m-6 8h0m5 0h0m-2 3h0m4 1h0m-3 8h0m-6 6h0m7 1h0m1 0h0m-3 3h0m-6 1h0m7 2h0m1 0h0m-8 1h0m9 0h0m1 1h0m0 1h0m-2 1h0m2 0h0m-1 1h0m-1 2h0m-2 1h0m3 3h0m1 7h0m0 6h0m-1 14h0m3 18h0m0-13h0m5-28h0m1 0h0m-6-4h0m-1-2h0m2 0h0m-1-2h0m3-4h0m2-3h0m-4-1h0m1-7h0m4 0h0m-7-3h0m1-1h0m1-8h0m4-2h0m-4-1h0m5 0h0m0-3h0m-1-5h0m-2-27h0m12 45h0m1 0h0m5 7h0m-6 1h0m1 0h0m1 5h0m-2 3h0m0 4h0m4 0h0m0 3h0m-3 14h0m18-1h0m-3-2h0m-7-8h0m8-1h0m1-1h0m-1-1h0m-1-5h0m1 0h0m1-4h0m-1-7h0m0-2h0m2 0h0m-2-3h0m-8-2h0m2 0h0m6 0h0m-1-9h0m2-4h0m-8-30h0m13 14h0m6 14h0m-9 21h0m7 2h0m1 2h0m-1 1h0m2 2h0m-2 13h0m-1 1h0m-3 48h0m0 1h0m12-68h0m-1-11h0m28 71h0m5-7h0m-7-9h0m2-11h0m3-2h0m1-6h0m-3-2h0m-3-4h0m3-2h0m-2-3h0m1-9h0m4-1h0m-3-1h0m-3-1h0m2-3h0m3-2h0m-3-2h0m5-1h0m-4-2h0m-1-3h0m0-1h0m-2-5h0m0-2h0m3-2h0m0-1h0m4-33h0m-2-8h0m14 7h0m-7 13h0m0 14h0m-1 7h0m-2 4h0m4 0h0m4 1h0m-5 1h0m1 1h0m-1 1h0m7 0h0m-1 6h0m-6 1h0m-3 2h0m10 0h0m-10 1h0m-1 5h0m5 0h0m3 0h0m-4 1h0m1 0h0m2 1h0m1 0h0m-8 1h0m11 1h0m0 1h0m-11 1h0m11 2h0m-4 3h0m-4 1h0m4 3h0m-6 1h0m2 0h0m8 0h0m-1 4h0m-10 6h0m5 0h0m4 5h0m-4 33h0m11-21h0m-2-7h0m2 0h0m2-7h0m-5-6h0m5-1h0m2 0h0m-4-10h0m1 0h0m-2-1h0m3 0h0m-4-3h0m2-1h0m-3-1h0m5 0h0m-6-2h0m9 0h0m-3-1h0m-5-2h0m1 0h0m4 0h0m-3-1h0m1-1h0m1 0h0m6 0h0m-5-1h0m-1-1h0m-4-1h0m3 0h0m2 0h0m-2-1h0m1 0h0m-2-1h0m-3-1h0m4-3h0m-4-2h0m5-3h0m-2-1h0m2 0h0m-1-9h0m3-2h0m2 0h0m-5-5h0m-4-6h0m8-1h0m-4-3h0m19-22h0m0 25h0m-6 9h0m0 5h0m2 6h0m-1 1h0m1 4h0m-1 3h0m-2 1h0m5 4h0m-4 1h0m1 2h0m0 2h0m3 3h0m-5 1h0m-4 3h0m2 2h0m-1 4h0m7 1h0m-2 1h0m-5 3h0m6 2h0m-4 7h0m2 0h0m2 4h0m-5 5h0m0 13h0m5 11h0m14-8h0m-9-35h0m6 0h0m2-2h0m1-1h0m1 0h0m-4-1h0m-2-1h0m-3-2h0m10 0h0m-3-1h0m-1-4h0m-1-3h0m-5-4h0m3-2h0m-1-5h0m4-4h0m0-4h0m3-3h0m-6-2h0m3-2h0m-1-10h0m14-24h0m1 9h0m-3 6h0m-3 6h0m-1 11h0m7 4h0m0 11h0m-4 2h0m2 0h0m1 0h0m-3 3h0m4 2h0m-1 8h0m0 1h0m3 3h0m-1 1h0m-8 2h0m4 1h0m0 10h0m5 1h0m-5 2h0m5 0h0m-11 15h0m19-8h0m2-5h0m-3-1h0m1-6h0m2 0h0m-4-1h0m0-2h0m-5-2h0m1-3h0m-1-2h0m1-1h0m5-1h0m3-1h0m-4-1h0m-5-2h0m11-1h0m-10-1h0m5-1h0m3-1h0m-4-1h0m-1-3h0m4 0h0m1-3h0m-8-1h0m4 0h0m-5-15h0m4-1h0m-3-10h0m10-11h0m-1-13h0m-10-4h0m14 38h0m-2 7h0m4 0h0m-4 2h0m0 6h0m3 1h0m2 0h0m-5 2h0m5 6h0m0 1h0m-4 3h0m1 3h0m1 1h0m1 2h0m-2 1h0m2 0h0m0 11h0m0 3h0m-1 1h0m-1 11h0m2 7h0m-4 26h0m33-100h0m2 8h0m-5 7h0m1 0h0m4 1h0m-5 3h0m-3 5h0m8 0h0m-3 2h0m1 1h0m-1 3h0m-4 1h0m-1 3h0m0 2h0m0 1h0m4 0h0m1 1h0m-1 1h0m1 2h0m-5 1h0m6 0h0m2 1h0m-1 3h0m-3 1h0m-1 1h0m-3 4h0m3 2h0m1 2h0m-3 10h0m5 25h0m7 5h0m-3-1h0m1 0h0m0-11h0m6-6h0m-4-4h0m5-7h0m-4-1h0m-1-4h0m-1-7h0m5-2h0m-5-3h0m1 0h0m7 0h0m-8-2h0m5 0h0m-8-2h0m8 0h0m-8-1h0m2 0h0m2 0h0m-1-2h0m1 0h0m6 0h0m-3-1h0m0-3h0m4 0h0m-7-1h0m0-1h0m4 0h0m-5-1h0m2 0h0m1-4h0m-4-3h0m4-4h0m4 0h0m-10-2h0m9 0h0m-5-3h0m7 0h0m-5-1h0m-3-2h0m5 0h0m0-2h0m3 0h0m-11-2h0m6 0h0m5 0h0m-8-2h0m1-2h0m7 0h0m-1-1h0m1 0h0m-6-1h0m-3-1h0m3 0h0m-2-13h0m-1-1h0m16 11h0m4 2h0m-3 4h0m0 2h0m-2 6h0m1 5h0m2 1h0m-1 5h0m1 0h0m2 0h0m-3 2h0m1 0h0m1 1h0m-9 1h0m11 0h0m-11 2h0m5 7h0m1 1h0m5 0h0m-6 4h0m4 2h0m0 7h0m-1 5h0m-8 37h0m15-31h0m8-1h0m-11-2h0m1-1h0m9-1h0m0-10h0m1-1h0m-9-3h0m0-2h0m9 0h0m-3-2h0m3 0h0m-2-1h0m-7-1h0m3-1h0m-3-1h0m6-1h0m3 0h0m-6-1h0m-2-1h0m2 0h0m-4-2h0m0-8h0m3 0h0m-1-2h0m-2-2h0m6 0h0m-5-1h0m-2-1h0m2 0h0m1-3h0m-1-1h0m-2-2h0m9 0h0m-7-5h0m1-12h0m-3-1h0m2-2h0m4-6h0m13-11h0m-5 1h0m0 7h0m4 15h0m-6 2h0m1 7h0m2 1h0m3 2h0m1 3h0m-7 1h0m0 3h0m2 0h0m7 1h0m1 0h0m-8 2h0m3 3h0m2 1h0m4 0h0m-11 1h0m2 1h0m4 0h0m-3 1h0m-1 2h0m3 1h0m-3 3h0m2 1h0m-4 1h0m2 1h0m2 1h0m-2 2h0m3 0h0m6 0h0m-11 3h0m4 0h0m2 7h0m-5 1h0m-1 2h0m11 3h0m-8 1h0m8 1h0m-6 13h0m-2 12h0m13-17h0m-4-2h0m6-5h0m-2-5h0m-1-9h0m6-2h0m-9-5h0m11 0h0m0-4h0m-2-2h0m-9-1h0m2 0h0m1-3h0m7 0h0m-1-1h0m1 0h0m-9-1h0m10 0h0m-11-1h0m6 0h0m4 0h0m-9-4h0m-1-1h0m3 0h0m8-1h0m-11-1h0m11 0h0m-9-2h0m5-3h0m4 0h0m-6-1h0m-5-4h0m7-1h0m3-4h0m-10-3h0m1-10h0m3 0h0m7-11h0m9-14h0m3 7h0m-11 1h0m7 16h0m-6 3h0m0 11h0m0 3h0m2 2h0m-1 1h0m9 1h0m-1 2h0m-6 4h0m-4 3h0m4 3h0m-1 1h0m-3 5h0m3 0h0m-2 2h0m10 0h0m-2 1h0m-9 1h0m0 1h0m3 0h0m-3 2h0m9 0h0m-1 3h0m-7 1h0m1 2h0m6 0h0m-6 1h0m4 3h0m-5 1h0m10 1h0m-1 2h0m-2 5h0m-7 6h0m8 2h0m-8 4h0m2 7h0m10-13h0m1-22h0m-1-1h0m1-2h0m0-9h0m-2-8h0m3-35h0m-3-3h0m31 99h0m-4-4h0m-1-2h0m0-10h0m0-3h0m3-4h0m6 0h0m-7-4h0m3-2h0m1-6h0m1 0h0m-7-1h0m7 0h0m-1-1h0m2 0h0m1-3h0m-1-1h0m-2-1h0m0-2h0m-5-1h0m2 0h0m5-1h0m-8-1h0m7 0h0m-2-1h0m-5-1h0m1 0h0m-1-1h0m1-2h0m7 0h0m-3-1h0m-5-1h0m1 0h0m3 0h0m4 0h0m-8-1h0m1 0h0m0-3h0m1 0h0m-2-1h0m7 0h0m-3-1h0m5 0h0m-8-1h0m6 0h0m-6-2h0m6-1h0m-7-1h0m0-2h0m7-5h0m-3-2h0m1-1h0m-5-19h0m0-8h0m1-3h0m15-8h0m0 16h0m-1 9h0m0 6h0m-2 5h0m3 2h0m0 2h0m-2 1h0m-2 2h0m5 2h0m3 0h0m-6 1h0m0 1h0m-4 1h0m4 0h0m1 0h0m2 4h0m-1 2h0m5 0h0m-8 2h0m-3 1h0m6 1h0m0 2h0m5 0h0m-9 3h0m3 0h0m-3 1h0m0 2h0m1 1h0m2 0h0m3 0h0m-1 3h0m-5 2h0m1 0h0m1 1h0m3 4h0m-4 1h0m5 0h0m-7 1h0m-1 1h0m4 0h0m-1 2h0m5 0h0m-5 5h0m6 1h0m-2 8h0m-2 33h0m6 1h0m11-3h0m-5-15h0m0-9h0m-5-7h0m4-4h0m5-1h0m-5-1h0m-3-3h0m1 0h0m6 0h0m1-3h0m-9-2h0m9 0h0m-4-3h0m-5-2h0m7-1h0m3 0h0m0-2h0m-8-3h0m-2-1h0m8 0h0m-6-2h0m5 0h0m2 0h0m-9-1h0m11 0h0m0-1h0m-10-1h0m-1-1h0m7 0h0m1 0h0m-5-2h0m-3-1h0m2 0h0m5 0h0m-4-1h0m8 0h0m-7-1h0m5 0h0m-2-2h0m4 0h0m-10-1h0m-1-1h0m9 0h0m-2-1h0m3 0h0m-1-1h0m1 0h0m-2-7h0m-2-4h0m-6-11h0m2-3h0m6-2h0m4 20h0m0 6h0m2 17h0m-2 6h0m0 1h0m0 7h0m0 3h0m1 5h0m-1 5h0m1 2h0m14 23h0m5-1h0m-1-8h0m-5-5h0m5-1h0m-5-3h0m6-6h0m0-4h0m0-1h0m-8-1h0m0-1h0m7-5h0m-7-1h0m6 0h0m2 0h0m-5-1h0m0-1h0m1 0h0m-3-2h0m0-1h0m3-1h0m2 0h0m-5-1h0m1 0h0m-2-1h0m1 0h0m7 0h0m0-3h0m-1-2h0m-6-1h0m3 0h0m7-1h0m-9-1h0m3 0h0m2 0h0m-6-3h0m3 0h0m-4-1h0m1-1h0m1-1h0m-2-2h0m1 0h0m9 0h0m-5-1h0m-3-2h0m1-1h0m0-1h0m-3-1h0m8-1h0m-1-1h0m1 0h0m-7-1h0m5-2h0m5-1h0m-8-1h0m7 0h0m-9-1h0m0-1h0m4-2h0m5-2h0m-9-2h0m7-1h0m-2-2h0m-5-2h0m9 0h0m-1-1h0m1-1h0m-8-5h0m3-5h0m-1-3h0m0-1h0m6-4h0m-2-17h0m14 6h0m-10 4h0m10 3h0m-5 5h0m-3 3h0m-1 7h0m-1 4h0m10 2h0m-4 5h0m-4 1h0m9 4h0m-8 2h0m8 2h0m-10 1h0m3 1h0m0 2h0m1 1h0m5 1h0m-4 1h0m-2 1h0m0 2h0m0 3h0m2 0h0m-5 3h0m0 2h0m2 3h0m1 0h0m-1 3h0m2 2h0m4 0h0m1 0h0m-9 1h0m-1 1h0m7 0h0m4 0h0m-10 1h0m3 0h0m6 0h0m-1 3h0m-6 2h0m2 2h0m5 0h0m-5 2h0m-2 2h0m6 2h0m-8 4h0m9 0h0m-6 8h0m-3 5h0m3 6h0m3 6h0m4 3h0m-9 5h0m-1 1h0m0 5h0m3 1h0m6 2h0m5-13h0m-2-3h0m7-12h0m-2-2h0m-1-10h0m-3-1h0m1-1h0m-1-4h0m5 0h0m-1-1h0m-3-3h0m8-2h0m-11-1h0m3 0h0m-1-2h0m6 0h0m-6-2h0m-1-1h0m8-2h0m-9-1h0m0-1h0m5-2h0m0-2h0m4 0h0m-4-1h0m-4-2h0m8 0h0m-2-1h0m-7-5h0m1-2h0m8 0h0m0-1h0m-4-1h0m-2-3h0m5-1h0m-7-1h0m7-3h0m-3-7h0m5-2h0m-5-5h0m-5-4h0m5-2h0m-5-2h0m9-17h0m0-9h0m5 24h0m0 11h0m-1 18h0m1 5h0m1 3h0m-2 1h0m0 4h0m1 1h0m0 5h0m0 1h0m0 2h0m1 1h0m-2 4h0m2 7h0m-1 7h0m-2 1h0m2 0h0m-1 13h0m1 2h0m26-110h0m3 19h0m3 2h0m-5 1h0m4 3h0m-5 5h0m7 10h0m-2 2h0m-8 1h0m9 0h0m-9 9h0m0 1h0m8 1h0m-2 1h0m-4 1h0m8 0h0m-10 2h0m5 0h0m-6 1h0m2 1h0m0 4h0m3 1h0m3 0h0m2 0h0m-1 2h0m-2 1h0m-5 4h0m3 0h0m4 0h0m-2 1h0m-5 4h0m9 0h0m-2 1h0m-7 1h0m1 0h0m1 2h0m0 2h0m5 1h0m-6 3h0m3 1h0m-1 6h0m2 1h0m-2 2h0m-3 2h0m6 1h0m3 6h0m-3 2h0m1 3h0m-5 13h0m19 7h0m0-6h0m-5-2h0m2-9h0m-2-13h0m-6-2h0m0-4h0m11-2h0m-3-2h0m-5-1h0m8-2h0m0-1h0m-10-1h0m4-9h0m-4-2h0m3-1h0m4-3h0m-3-2h0m-3-2h0m3-1h0m2-2h0m3 0h0m-1-3h0m-6-1h0m2 0h0m6 0h0m-1-2h0m-5-1h0m-1-1h0m2 0h0m0-1h0m2 0h0m3 0h0m-6-1h0m-1-3h0m-1-4h0m6 0h0m-3-2h0m5 0h0m-8-4h0m4-2h0m2-3h0m-9-1h0m3-2h0m8 0h0m-5-10h0m-5-2h0m6 0h0m-2-4h0m2-6h0m1 0h0m8-10h0m7 17h0m-9 9h0m1 5h0m2 8h0m-2 1h0m2 0h0m-3 2h0m2 0h0m7 0h0m-1 1h0m-8 2h0m1 0h0m2 1h0m3 1h0m-5 1h0m-1 3h0m9 0h0m-6 2h0m-1 1h0m6 1h0m-5 1h0m1 0h0m-3 1h0m7 0h0m-7 1h0m3 0h0m-5 1h0m4 1h0m4 0h0m-3 1h0m-5 1h0m2 0h0m5 0h0m3 1h0m-10 2h0m2 0h0m3 1h0m1 0h0m-2 2h0m5 0h0m-8 2h0m1 0h0m-1 1h0m1 1h0m3 0h0m4 1h0m-9 1h0m1 0h0m5 0h0m4 0h0m-9 2h0m4 1h0m-2 1h0m7 0h0m-10 2h0m4 2h0m3 1h0m1 0h0m-6 1h0m1 0h0m5 8h0m1 1h0m-8 1h0m3 1h0m-2 1h0m5 2h0m2 3h0m-8 2h0m4 0h0m-2 1h0m3 0h0m-3 1h0m-2 1h0m7 4h0m-8 22h0m20-5h0m-4-11h0m4 0h0m-4-4h0m0-6h0m6-6h0m-1-3h0m-3-1h0m-7-1h0m5-1h0m4-3h0m2-1h0m-9-7h0m3-1h0m3-2h0m-3-2h0m-5-1h0m7 0h0m1 0h0m3-1h0m-10-1h0m4 0h0m0-2h0m2-1h0m-5-3h0m3 0h0m-3-1h0m6 0h0m-3-2h0m2 0h0m-6-1h0m6 0h0m-6-1h0m8 0h0m-6-2h0m6-1h0m1 0h0m-10-2h0m1-2h0m8 0h0m-5-1h0m4 0h0m-7-1h0m4-1h0m2 0h0m4 0h0m-6-2h0m1-1h0m1-1h0m-7-1h0m3-1h0m-3-1h0m2-1h0m9 0h0m-10-1h0m10-1h0m-1-1h0m-1-4h0m-6-7h0m2-1h0m5-2h0m1-2h0m-5-2h0m7-22h0m10 3h0m-11 19h0m8 10h0m3 3h0m-2 1h0m2 0h0m0 4h0m-6 1h0m3 3h0m2 3h0m0 1h0m1 0h0m0 1h0m-4 2h0m-6 2h0m10 0h0m-9 1h0m8 0h0m-6 1h0m1 0h0m2 2h0m2 2h0m0 2h0m-5 1h0m-3 4h0m7 1h0m-2 4h0m3 0h0m-2 1h0m3 4h0m-4 1h0m-6 1h0m4 1h0m-2 1h0m0 2h0m4 0h0m-4 5h0m5 5h0m4 0h0m-4 2h0m4 1h0m-7 5h0m3 28h0m11 2h0m-4-7h0m5-4h0m-7-12h0m9-5h0m-6-4h0m-3-2h0m8-5h0m3-1h0m-1-3h0m-8-1h0m3 0h0m1 0h0m3 0h0m-4-1h0m4-1h0m-1-2h0m-7-2h0m6-1h0m3-1h0m-4-1h0m1-2h0m-2-1h0m2 0h0m1-1h0m-2-2h0m-1-4h0m0-1h0m1 0h0m-6-1h0m3 0h0m6 0h0m-3-1h0m1-1h0m2 0h0m-9-1h0m5 0h0m2-1h0m-4-1h0m3 0h0m1-1h0m3 0h0m-10-1h0m7-1h0m2 0h0m-8-1h0m4 0h0m3-1h0m-5-1h0m2-2h0m1 0h0m1 0h0m-1-1h0m-5-2h0m2-1h0m7-1h0m-10-1h0m6-2h0m1 0h0m-5-1h0m7-1h0m0-1h0m-6-2h0m2-3h0m2 0h0m-7-2h0m5-1h0m-4-2h0m7 0h0m1-3h0m-5-1h0m-4-8h0m0-4h0m10 0h0m-5-2h0m2-5h0m-6-4h0m-1-6h0m16 17h0m-1 4h0m7 6h0m-6 2h0m2 0h0m5 0h0m-5 4h0m5 3h0m-9 1h0m-2 1h0m1 2h0m8 2h0m-5 1h0m1 0h0m-3 1h0m3 3h0m3 0h0m-6 2h0m0 1h0m1 0h0m5 0h0m-1 1h0m-2 2h0m2 1h0m-4 1h0m2 1h0m-2 1h0m1 0h0m3 0h0m-5 1h0m2 0h0m-3 1h0m1 2h0m2 1h0m3 0h0m2 0h0m-3 1h0m3 1h0m-6 3h0m1 0h0m-2 3h0m9 0h0m-6 1h0m2 0h0m-3 1h0m5 1h0m1 0h0m-4 1h0m3 5h0m-4 6h0m-3 1h0m1 0h0m7 0h0m-10 3h0m4 1h0m-3 2h0m5 1h0m-4 3h0m0 3h0m10 26h0m2-9h0m-2-18h0m0-28h0m1-2h0m0-4h0m-1-12h0m0-2h0m1-10h0m22 6h0m1 38h0m1-2h0m2 0h0m2-4h0m1-5h0m1-4h0m-5-4h0m7 0h0m-8-2h0m5-1h0m-4-2h0m8 0h0m-7-1h0m3 0h0m-1-4h0m-2-1h0m-3-1h0m5-4h0m5 0h0m-6-5h0m2 0h0m-1-2h0m-3-2h0m6-1h0m-5-36h0m18 19h0m1 16h0m-4 21h0m-4 6h0m2 4h0m-2 4h0m9 0h0m-8 10h0m-2 1h0m1 20h0m6 17h0m10-38h0m2 0h0m-2-1h0m4 0h0m-6-3h0m2-1h0m5-1h0m-9-6h0m1 0h0m8 0h0m-1-3h0m-4-3h0m4-1h0m-9-3h0m5-3h0m0-4h0m-2-2h0m3-2h0m-1-5h0m-1-44h0m8 43h0m3 0h0m-2 1h0m6 7h0m-3 4h0m0 3h0m-5 4h0m1 2h0m4 0h0m-3 1h0m0 2h0m-2 1h0m2 5h0m5 0h0m-1 7h0m1 4h0m-1 25h0m-6 1h0m3 1h0m-2 10h0m1 0h0m0 3h0m20-28h0m-4-13h0m-5-3h0m7-4h0m-5-1h0m6-6h0m-8-1h0m10 0h0m-6-2h0m-3-1h0m8-1h0m-3-1h0m2-2h0m-4-9h0m3-6h0m1-6h0m-8-16h0m9-23h0m3 32h0m9 3h0m-9 7h0m7 7h0m2 1h0m0 4h0m-2 2h0m1 4h0m-1 2h0m0 3h0m-2 3h0m0 10h0m1 11h0m12-3h0m1-5h0m-3-2h0m-4-1h0m8-2h0m-8-7h0m3-1h0m-1-2h0m1-1h0m0-2h0m2-3h0m-1-2h0m4-3h0m-5-1h0m1-1h0m-4-1h0m2-3h0m5 0h0m-8-2h0m2-14h0m3-25h0m30 88h0m-1-17h0m1-23h0m0-1h0m-1-2h0m0-3h0m1-3h0m0-8h0m9-43h0m3 22h0m-3 1h0m-8 5h0m6 0h0m5 2h0m-8 5h0m5 2h0m-2 1h0m-1 2h0m6 0h0m-4 3h0m1 4h0m1 1h0m2 0h0m-10 1h0m7 1h0m-8 3h0m1 0h0m1 0h0m4 0h0m5 1h0m-3 1h0m-1 1h0m-6 1h0m5 0h0m3 0h0m-4 2h0m-5 2h0m2 0h0m-1 2h0m5 0h0m2 1h0m-2 1h0m-2 2h0m3 0h0m-7 1h0m4 0h0m7 0h0m-5 1h0m5 0h0m-8 3h0m1 3h0m3 0h0m1 1h0m2 0h0m-6 1h0m5 0h0m-8 2h0m9 0h0m-4 1h0m0 1h0m-4 2h0m2 4h0m2 4h0m5 0h0m-9 1h0m7 0h0m-4 2h0m-3 2h0m6 0h0m-2 1h0m-2 4h0m7 1h0m-5 1h0m-1 6h0m5 2h0m-9 12h0m7 0h0m-3 10h0m9-15h0m5-16h0m0-1h0m-4-3h0m0-1h0m0-4h0m6-4h0m-5-3h0m-1-3h0m0-1h0m7-1h0m-5-1h0m-2-2h0m1-2h0m-1-1h0m5 0h0m-8-5h0m5-2h0m-3-1h0m8 0h0m-5-1h0m-3-2h0m3 0h0m2 0h0m-4-1h0m0-3h0m0-1h0m5 0h0m-6-1h0m2 0h0m4 0h0m-7-1h0m4-3h0m-3-1h0m3 0h0m-1-2h0m3-1h0m1-5h0m-2-1h0m-5-1h0m3-1h0m-2-1h0m7-3h0m-8-8h0m4 0h0m-1-5h0m6-5h0m-10-2h0m10-10h0m-9-4h0m19 8h0m-1 14h0m-3 1h0m2 0h0m5 0h0m0 1h0m-5 2h0m0 1h0m0 1h0m3 0h0m-6 1h0m0 2h0m1 2h0m1 2h0m5 1h0m1 1h0m-6 3h0m-1 1h0m1 1h0m0 5h0m5 0h0m-8 2h0m4 0h0m1 0h0m1 0h0m3 0h0m-11 1h0m9 2h0m2 1h0m0 2h0m-1 1h0m-10 2h0m7 1h0m2 0h0m1 0h0m-9 1h0m3 0h0m1 0h0m1 0h0m4 0h0m1 0h0m-6 1h0m1 1h0m-3 1h0m0 1h0m2 0h0m2 1h0m-5 1h0m7 2h0m-6 1h0m6 1h0m-5 1h0m1 0h0m-5 1h0m9 0h0m-5 1h0m1 0h0m3 0h0m-8 1h0m6 0h0m5 1h0m-3 1h0m1 0h0m-5 2h0m4 0h0m-8 1h0m11 0h0m-4 1h0m4 0h0m-2 1h0m-8 1h0m8 0h0m-9 3h0m4 0h0m-1 2h0m6 0h0m-3 1h0m0 1h0m0 1h0m1 4h0m1 2h0m-7 13h0m9 2h0m-2 6h0m-8 2h0m7 5h0m1 1h0m-3 4h0m18 0h0m-2-2h0m-8-2h0m-1-1h0m11-15h0m-5-11h0m3-1h0m-3-3h0m2-8h0m2 0h0m-3-2h0m3 0h0m-3-2h0m0-1h0m1-4h0m3 0h0m-5-1h0m5 0h0m-3-1h0m-7-1h0m6-1h0m-6-3h0m8 0h0m2-1h0m0-2h0m-11-1h0m7 0h0m0-1h0m0-1h0m-7-1h0m8 0h0m2 0h0m0-1h0m-3-2h0m4-1h0m-4-2h0m1-1h0m-2-1h0m-6-2h0m0-1h0m8-1h0m3-1h0m0-7h0m-4-3h0m2 0h0m0-1h0m-2-1h0m-6-1h0m5-2h0m-6-1h0m10-2h0m-10-1h0m8 0h0m1-2h0m1-2h0m-3-2h0m-6-2h0m6-7h0m3-5h0m-3-12h0m0-3h0m15 1h0m-4 5h0m-4 9h0m5 0h0m2 4h0m-3 4h0m2 0h0m-6 1h0m6 6h0m3 0h0m-10 1h0m1 0h0m1 3h0m0 2h0m3 0h0m3 0h0m0 1h0m-6 1h0m-2 2h0m5 1h0m2 2h0m-8 1h0m1 3h0m0 2h0m0 2h0m1 0h0m1 2h0m3 0h0m-6 1h0m5 0h0m2 0h0m-7 4h0m10 0h0m-8 1h0m2 1h0m7 0h0m-2 1h0m-3 1h0m-5 1h0m4 0h0m2 0h0m-5 2h0m3 0h0m2 0h0m1 0h0m1 0h0m-5 2h0m4 0h0m-7 1h0m4 0h0m0 1h0m5 3h0m1 0h0m-11 2h0m1 0h0m-1 1h0m8 0h0m-5 1h0m4 0h0m-6 2h0m1 0h0m4 0h0m-3 1h0m3 0h0m-6 1h0m7 0h0m1 0h0m-7 1h0m-1 1h0m2 1h0m9 0h0m-9 2h0m3 1h0m2 0h0m2 0h0m-8 1h0m1 0h0m5 1h0m1 2h0m-8 1h0m8 1h0m-1 4h0m3 12h0m-7 5h0m-2 2h0m5 6h0m-1 2h0m-3 1h0m4 0h0m-4 6h0m1 1h0m4 2h0m13-3h0m2 0h0m-4-2h0m-2-1h0m2 0h0m-2-14h0m6 0h0m0-1h0m-2-2h0m-1-4h0m-3-2h0m-3-1h0m4-7h0m3 0h0m1 0h0m-6-1h0m2 0h0m3 0h0m-1-1h0m-2-1h0m5-3h0m-6-2h0m-1-2h0m6 0h0m1 0h0m-1-1h0m-5-1h0m6 0h0m-1-1h0m-5-1h0m0-1h0m7 0h0m-9-1h0m6 0h0m1 0h0m0-1h0m-3-2h0m-5-1h0m7 0h0m1 0h0m-9-2h0m4 0h0m5-1h0m1-1h0m0-1h0m1 0h0m-7-1h0m3 0h0m4-2h0m-11-1h0m4 0h0m-3-4h0m8-1h0m1 0h0m-9-1h0m2-1h0m6 0h0m-1-1h0m-2-1h0m-6-1h0m11 0h0m-2-1h0m2-1h0m-2-1h0m-4-1h0m6 0h0m-7-1h0m3 0h0m-2-1h0m-1-1h0m0-2h0m4 0h0m-6-2h0m8 0h0m-7-1h0m1 0h0m-1-2h0m3-1h0m-5-1h0m5-1h0m4-2h0m-8-3h0m2 0h0m1 0h0m5 0h0m-6-3h0m3-1h0m-7-1h0m0-4h0m10-3h0m-6-6h0m7-11h0m7 0h0m4 3h0m-4 1h0m0 11h0m0 2h0m-5 3h0m8 3h0m-9 1h0m4 0h0m0 3h0m-3 5h0m4 1h0m2 4h0m1 1h0m-8 2h0m0 2h0m5 1h0m-3 3h0m1 2h0m2 0h0m-4 1h0m4 0h0m-2 1h0m3 0h0m-1 1h0m-3 1h0m2 2h0m1 0h0m0 1h0m6 0h0m-7 2h0m7 0h0m-10 2h0m10 1h0m-7 1h0m-1 1h0m1 0h0m2 0h0m3 1h0m-7 3h0m6 0h0m-6 1h0m1 0h0m3 0h0m-4 1h0m1 0h0m6 0h0m-9 2h0m5 0h0m5 0h0m-9 1h0m-1 2h0m2 0h0m7 0h0m2 0h0m-1 3h0m-10 1h0m9 0h0m-6 6h0m3 0h0m5 0h0m-11 1h0m4 1h0m7 1h0m0 3h0m-7 1h0m1 1h0m-3 1h0m4 1h0m-6 1h0m1 0h0m2 2h0m-1 7h0m1 4h0m1 15h0m31-94h0m-2 2h0m1 16h0m0 4h0m0 2h0m1 1h0m0 14h0m-1 3h0m0 13h0m-1 36h0m11-17h0m0-18h0m2-5h0m-2-4h0m-4-1h0m3 0h0m0-3h0m1 0h0m0-1h0m2 0h0m1-4h0m-2-4h0m1 0h0m0-1h0m-6-4h0m7 0h0m0-3h0m-3-1h0m1-1h0m-4-1h0m-2-3h0m0-3h0m-1-1h0m2-3h0m3-4h0m-5-23h0m16 8h0m2 8h0m0 8h0m3 2h0m-5 1h0m2 7h0m3 9h0m-9 2h0m6 0h0m-8 3h0m2 1h0m7 0h0m-8 2h0m4 0h0m-1 5h0m-3 2h0m5 1h0m-5 11h0m2 1h0m1 1h0m-2 2h0m0 5h0m-1 5h0m6 6h0m-6 1h0m21-6h0m-7-12h0m-2-6h0m1-5h0m2-3h0m-3-5h0m1-1h0m1 0h0m-3-1h0m6-1h0m1 0h0m3-1h0m-3-1h0m4-1h0m-11-2h0m1 0h0m2 0h0m8-1h0m-7-1h0m7-1h0m-9-4h0m-1-2h0m-1-2h0m2-1h0m1 0h0m1-2h0m-2-4h0m1-2h0m4 0h0m-1-1h0m-1-1h0m-1-1h0m2-1h0m-4-30h0m10 3h0m7 1h0m-6 9h0m-1 8h0m1 4h0m2 5h0m4 0h0m-6 2h0m4 7h0m3 0h0m-8 1h0m6 2h0m-4 3h0m1 2h0m2 0h0m3 1h0m-1 1h0m-6 2h0m6 0h0m-6 3h0m1 0h0m3 0h0m-4 3h0m6 0h0m2 5h0m-2 1h0m-3 2h0m3 0h0m-3 4h0m7 6h0m-7 1h0m3 0h0m-7 1h0m2 5h0m4 6h0m-2 2h0m11 2h0m2-12h0m-2-5h0m6-1h0m-3-1h0m5-2h0m-2-2h0m-3-1h0m-1-2h0m6-2h0m-8-1h0m6-1h0m2 0h0m-7-1h0m6 0h0m-4-2h0m3 0h0m-7-1h0m3 0h0m-4-7h0m10-1h0m0-1h0m-2-3h0m-8-1h0m3 0h0m-1-1h0m-2-4h0m8-2h0m1-6h0m-8-1h0m9 0h0m-7-1h0m7-3h0m-6-1h0m6-25h0m-8-6h0m1-1h0m17 29h0m-5 2h0m4 1h0m-8 2h0m7 0h0m-6 8h0m8 0h0m-2 1h0m-7 3h0m8 2h0m2 0h0m-9 1h0m4 0h0m-4 1h0m-1 3h0m9 2h0m-8 2h0m8 7h0m-1 1h0m-8 1h0m6 3h0m0 5h0m-6 1h0m9 1h0m-9 6h0m6 1h0m-4 1h0m-1 4h0m7 27h0m6 7h0m2-23h0m-3-16h0m1-1h0m-2-5h0m0-1h0m4-2h0m2 0h0m-5-1h0m0-2h0m3 0h0m3 0h0m-5-2h0m1-1h0m-3-3h0m8-2h0m-6-1h0m7-1h0m-9-1h0m7 0h0m0-2h0m-3-1h0m-1-3h0m-3-1h0m4 0h0m2-2h0m-5-1h0m4 0h0m-4-2h0m1-4h0m0-4h0m-1-1h0m3 0h0m-1-6h0m-1-3h0m2-3h0m-3-4h0m67-30h0m2 7h0m-3 2h0m4 39h0m-1 10h0m-4 1h0m1 6h0m3 7h0m1 6h0m8 17h0m-5-14h0m0-3h0m-1-1h0m1-1h0m4-1h0m1 0h0m-4-3h0m-1-1h0m9-2h0m-6-1h0m2 0h0m-1-3h0m0-6h0m-6-1h0m4-4h0m4 0h0m-3-1h0m-3-4h0m2-2h0m6-4h0m6-38h0m5 3h0m2 25h0m-4 5h0m2 7h0m0 3h0m0 6h0m-1 1h0m-2 7h0m0 4h0m-3 5h0m1 2h0m1 2h0m6 2h0m-8 1h0m4 47h0m10-25h0m-3-5h0m-2-10h0m1 0h0m5-5h0m-6-6h0m4-3h0m-2-3h0m2 0h0m-3-4h0m1-2h0m8-1h0m-9-3h0m4 0h0m2-1h0m-5-1h0m-2-6h0m4-1h0m-1-1h0m1-1h0m6-5h0m-4-1h0m0-2h0m1-16h0m0-3h0m-2-6h0m0-11h0m7 53h0m5 9h0m1 2h0m-6 5h0m3 3h0m1 1h0m-4 5h0m0 4h0m5 33h0m-3 15h0m29-127h0m0 23h0m1 13h0m-1 2h0m0 8h0m0 1h0m0 1h0m0 6h0m0 1h0m0 4h0m1 1h0m-1 1h0m3 1h0m-3 19h0m0 7h0m5-1h0m3-2h0m2 0h0m1-3h0m3-3h0m-9-2h0m11-7h0m-7-2h0m4-1h0m2-1h0m-2-3h0m-2-3h0m-6-2h0m1-1h0m10 0h0m0-8h0m-5-1h0m5 0h0m-3-1h0m3 0h0m-3-6h0m-2-10h0m5-5h0m7-20h0m-5 30h0m-1 5h0m0 4h0m2 0h0m-2 1h0m11 0h0m-5 1h0m5 0h0m-9 2h0m9 2h0m-7 4h0m5 0h0m-5 1h0m2 4h0m4 1h0m0 1h0m0 1h0m-10 2h0m1 1h0m9 1h0m0 3h0m-1 1h0m-6 2h0m-3 2h0m1 15h0m10 15h0m0 2h0m11 20h0m-8-2h0m1-30h0m0-8h0m6 0h0m-8-4h0m8-3h0m-3-2h0m2-8h0m-2-4h0m3 0h0m-9-1h0m11 0h0m-11-2h0m8-2h0m3 0h0m-9-2h0m6 0h0m-2-5h0m-5-1h0m-1-1h0m7-1h0m-7-1h0m10-3h0m-3-1h0m-4-5h0m0-4h0m2-10h0m5 0h0m-7-1h0m10-33h0m2 14h0m0 20h0m-1 2h0m7 3h0m1 0h0m-5 11h0m0 3h0m3 2h0m2 0h0m-6 1h0m-2 1h0m4 1h0m2 3h0m-3 1h0m4 3h0m0 1h0m-1 2h0m-4 1h0m-1 1h0m4 1h0m-2 5h0m-1 3h0m0 2h0m3 1h0m1 0h0m-4 1h0m7 0h0m-6 3h0m3 0h0m1 0h0m1 10h0m-7 3h0m7 0h0m-8 15h0m4 10h0m3 6h0m10-5h0m3-22h0m-5-15h0m2 0h0m-3-4h0m5-6h0m-8-2h0m3 0h0m2 0h0m0-3h0m3 0h0m1 0h0m-8-2h0m4 0h0m0-1h0m-6-3h0m4-1h0m1 0h0m5 0h0m-4-1h0m-4-1h0m6 0h0m-7-4h0m9 0h0m1-1h0m-9-1h0m4-1h0m4 0h0m-9-3h0m3 0h0m2 0h0m4 0h0m-4-5h0m4-1h0m-7-4h0m3-4h0m-2-1h0m3-3h0m-1-3h0m3-3h0m1-3h0m-7-9h0m19-18h0m-10 6h0m8 31h0m-6 5h0m9 2h0m-1 3h0m-2 5h0m0 1h0m-8 1h0m9 1h0m-7 2h0m5 0h0m4 9h0m-6 1h0m5 0h0m-10 2h0m1 2h0m1 1h0m6 0h0m-3 2h0m1 1h0m5 1h0m-6 8h0m6 3h0m-2 31h0m-6 13h0m12-22h0m2-2h0m-1-2h0m1-7h0m0-9h0m-5-2h0m8-10h0m-6-3h0m1 0h0m5 0h0m0-7h0m-1-2h0m-7-3h0m8 0h0m-7-2h0m1-2h0m-2-4h0m5-5h0m1 0h0m1-3h0m0-1h0m-3-2h0m0-2h0m-4-13h0m36 34h0"/>
<path transform="scale(.5)" fill="none" stroke="#D9423A" stroke-width="5.6" stroke-linecap="round" d="M257 548h0m6-165h0m8 0h0m3 0h0m-2 165h0m35 0h0m45-1h0m18-159h0m-8 159h0m2 0h0m5 0h0m6 0h0m5 0h0m-7-7h0m4-157h0m19 164h0m4 0h0m8-154h0m21 154h0m-8-157h0m41 157h0m13 0h0m2-154h0m-1-11h0m2 0h0m8 0h0m5 6h0m1 159h0m1 0h0m5 0h0m3-165h0m11 0h0m4 165h0m5 0h0m2 0h0m-1-165h0m13 0h0m-2 161h0m-5 4h0m12 0h0m38-165h0m8 11h0m16 154h0m11 0h0m5 0h0m2 0h0m3 0h0m-3-9h0m12-156h0m3 0h0m-8 3h0m8 152h0m10 10h0m29-165h0m4 3h0m-1 161h0m1 0h0m1 0h0m1 0h0m4 0h0m6 0h0m6-164h0m1 0h0m3 0h0m2 0h0m2 0h0m-8 164h0m3 0h0m1 0h0m1 0h0m11-164h0m4 0h0m1 0h0m1 0h0m10 0h0m-8 164h0m10 0h0m8 0h0m15-164h0m-7 10h0m35 154h0m36-165h0m7 0h0m13 0h0m22 165h0m-4-160h0m31 6h0m5-11h0m-3 158h0m0 6h0m6 0h0m6-164h0m4 0h0m4 0h0m8 0h0m5 0h0m-3 5h0m-3 153h0m0 6h0m1 0h0m1 0h0m15 0h0m-8-164h0m7 0h0m5 0h0m1 0h0m3 0h0m3 0h0m4 0h0m-8 164h0m2 0h0m4 0h0m13-4h0m-10-5h0m2-144h0m2-11h0m8 0h0m5 0h0m5 0h0m-9 164h0m2 0h0m2 0h0m28 0h0m11 0h0m0-161h0m4 161h0m7 0h0m16-10h0m-6-145h0m-1-10h0m1 0h0m9 165h0m10-165h0m3 0h0m17 0h0m-3 7h0m7 158h0m7 0h0m-4-160h0m77-5h0m14 0h0m9 164h0m4 0h0m-9-164h0m3 0h0m50-1h0m6 0h0m7 0h0m14 165h0m11-165h0m6 165h0m3 0h0m1 0h0m1-157h0m-4-8h0m2 0h0m15 0h0m2 0h0m-10 165h0m9 0h0m6 0h0m1 0h0m-4-165h0m112 160h0"/>
<text x="76.00" y="161.90" font-size="16.7" font-weight="bold" text-anchor="middle" transform="rotate(-90 76.00 161.90)" fill="#000">Reference allele (rel. units)</text>
<line x1="954.00" y1="49.00" x2="954.00" y2="139.00" stroke="#000" stroke-width="2.0"/>
<line x1="949.50" y1="53.00" x2="954.00" y2="53.00" stroke="#000" stroke-width="1.8"/>
<text x="947.80" y="57.10" font-size="16.5" font-weight="bold" text-anchor="end" fill="#000">1.00</text>
<line x1="949.50" y1="73.50" x2="954.00" y2="73.50" stroke="#000" stroke-width="1.8"/>
<text x="947.80" y="77.60" font-size="16.5" font-weight="bold" text-anchor="end" fill="#000">0.75</text>
<line x1="949.50" y1="94.00" x2="954.00" y2="94.00" stroke="#000" stroke-width="1.8"/>
<text x="947.80" y="98.10" font-size="16.5" font-weight="bold" text-anchor="end" fill="#000">0.50</text>
<line x1="949.50" y1="114.50" x2="954.00" y2="114.50" stroke="#000" stroke-width="1.8"/>
<text x="947.80" y="118.60" font-size="16.5" font-weight="bold" text-anchor="end" fill="#000">0.25</text>
<line x1="949.50" y1="135.00" x2="954.00" y2="135.00" stroke="#000" stroke-width="1.8"/>
<text x="947.80" y="139.10" font-size="16.5" font-weight="bold" text-anchor="end" fill="#000">0.00</text>
<line x1="954.00" y1="139.00" x2="999.00" y2="139.00" stroke="#000" stroke-width="2.0"/>
<text x="976.50" y="159.00" font-size="15" font-weight="bold" text-anchor="middle" fill="#000">chr1</text>
<line x1="1007.77" y1="139.00" x2="1052.77" y2="139.00" stroke="#000" stroke-width="2.0"/>
<text x="1030.27" y="159.00" font-size="15" font-weight="bold" text-anchor="middle" fill="#000">chr2</text>
<line x1="1061.54" y1="139.00" x2="1106.54" y2="139.00" stroke="#000" stroke-width="2.0"/>
<text x="1084.04" y="159.00" font-size="15" font-weight="bold" text-anchor="middle" fill="#000">chr3</text>
<line x1="1115.31" y1="139.00" x2="1160.31" y2="139.00" stroke="#000" stroke-width="2.0"/>
<text x="1137.81" y="159.00" font-size="15" font-weight="bold" text-anchor="middle" fill="#000">chr4</text>
<line x1="1169.08" y1="139.00" x2="1214.08" y2="139.00" stroke="#000" stroke-width="2.0"/>
<text x="1191.58" y="159.00" font-size="15" font-weight="bold" text-anchor="middle" fill="#000">chr5</text>
<line x1="1222.85" y1="139.00" x2="1267.85" y2="139.00" stroke="#000" stroke-width="2.0"/>
<text x="1245.35" y="159.00" font-size="15" font-weight="bold" text-anchor="middle" fill="#000">chr6</text>
<line x1="1276.62" y1="139.00" x2="1321.62" y2="139.00" stroke="#000" stroke-width="2.0"/>
<text x="1299.12" y="159.00" font-size="15" font-weight="bold" text-anchor="middle" fill="#000">chr7</text>
<line x1="1330.39" y1="139.00" x2="1375.39" y2="139.00" stroke="#000" stroke-width="2.0"/>
<text x="1352.89" y="159.00" font-size="15" font-weight="bold" text-anchor="middle" fill="#000">chr8</text>
<line x1="1384.16" y1="139.00" x2="1429.16" y2="139.00" stroke="#000" stroke-width="2.0"/>
<text x="1406.66" y="159.00" font-size="15" font-weight="bold" text-anchor="middle" fill="#000">chr9</text>
<line x1="1437.93" y1="139.00" x2="1482.93" y2="139.00" stroke="#000" stroke-width="2.0"/>
<text x="1460.43" y="159.00" font-size="15" font-weight="bold" text-anchor="middle" fill="#000">chr10</text>
<line x1="1491.70" y1="139.00" x2="1536.70" y2="139.00" stroke="#000" stroke-width="2.0"/>
<text x="1514.20" y="159.00" font-size="15" font-weight="bold" text-anchor="middle" fill="#000">chr11</text>
<line x1="1545.47" y1="139.00" x2="1590.47" y2="139.00" stroke="#000" stroke-width="2.0"/>
<text x="1567.97" y="159.00" font-size="15" font-weight="bold" text-anchor="middle" fill="#000">chr12</text>
<path fill="#68BDC2" d="M955.5 81.9h3.7v20.5h-3.7zM959.0 90.2h3.7v11.0h-3.7zM962.5 83.4h3.7v19.2h-3.7zM966.0 86.1h3.7v17.5h-3.7zM969.5 85.2h3.7v16.8h-3.7zM980.0 87.1h3.7v16.5h-3.7zM983.5 87.0h3.7v15.0h-3.7zM987.0 83.0h3.7v18.0h-3.7zM990.5 83.6h3.7v20.4h-3.7zM994.0 87.4h3.7v15.1h-3.7zM1009.3 86.9h3.7v17.5h-3.7zM1012.8 87.7h3.7v10.5h-3.7zM1016.3 86.5h3.7v12.0h-3.7zM1019.8 85.6h3.7v16.7h-3.7zM1023.3 87.1h3.7v14.8h-3.7zM1026.8 84.1h3.7v15.8h-3.7zM1030.3 87.2h3.7v14.7h-3.7zM1033.8 87.3h3.7v17.4h-3.7zM1037.3 84.2h3.7v15.9h-3.7zM1040.8 87.9h3.7v11.1h-3.7zM1044.3 89.4h3.7v10.0h-3.7zM1047.8 86.9h3.7v17.6h-3.7zM1063.0 89.1h3.7v10.1h-3.7zM1066.5 90.6h3.7v9.7h-3.7zM1070.0 87.6h3.7v9.0h-3.7zM1073.5 86.6h3.7v11.2h-3.7zM1077.0 89.3h3.7v11.4h-3.7zM1087.5 89.7h3.7v10.6h-3.7zM1091.0 90.1h3.7v7.2h-3.7zM1094.5 86.2h3.7v12.6h-3.7zM1098.0 91.8h3.7v7.7h-3.7zM1101.5 89.0h3.7v10.6h-3.7zM1116.8 88.6h3.7v10.4h-3.7zM1120.3 89.6h3.7v7.3h-3.7zM1123.8 89.8h3.7v9.0h-3.7zM1127.3 91.1h3.7v8.3h-3.7zM1130.8 89.0h3.7v13.9h-3.7zM1134.3 86.9h3.7v13.4h-3.7zM1137.8 89.8h3.7v7.9h-3.7zM1141.3 91.2h3.7v8.0h-3.7zM1144.8 89.8h3.7v11.4h-3.7zM1148.3 89.8h3.7v11.1h-3.7zM1151.8 89.4h3.7v8.5h-3.7zM1155.3 87.7h3.7v12.2h-3.7zM1170.6 86.0h3.7v13.5h-3.7zM1174.1 91.0h3.7v7.4h-3.7zM1177.6 89.1h3.7v8.9h-3.7zM1181.1 88.3h3.7v13.3h-3.7zM1184.6 90.1h3.7v7.1h-3.7zM1188.1 88.0h3.7v9.3h-3.7zM1191.6 88.4h3.7v13.2h-3.7zM1195.1 88.7h3.7v9.9h-3.7zM1198.6 88.6h3.7v8.4h-3.7zM1202.1 86.5h3.7v12.6h-3.7zM1205.6 88.9h3.7v12.4h-3.7zM1209.1 89.4h3.7v7.0h-3.7zM1224.3 88.1h3.7v12.0h-3.7zM1227.8 86.3h3.7v13.0h-3.7zM1231.3 85.3h3.7v16.6h-3.7zM1245.3 88.0h3.7v15.0h-3.7zM1248.8 88.0h3.7v13.8h-3.7zM1252.3 87.2h3.7v13.0h-3.7zM1255.8 88.7h3.7v14.5h-3.7zM1259.3 87.2h3.7v11.0h-3.7zM1262.8 90.9h3.7v9.7h-3.7zM1278.1 84.1h3.7v15.7h-3.7zM1281.6 86.7h3.7v14.7h-3.7zM1285.1 85.5h3.7v16.1h-3.7zM1288.6 85.6h3.7v14.7h-3.7zM1292.1 85.9h3.7v12.8h-3.7zM1295.6 85.1h3.7v18.9h-3.7zM1299.1 86.9h3.7v12.3h-3.7zM1302.6 89.0h3.7v11.0h-3.7zM1306.1 85.7h3.7v15.4h-3.7zM1309.6 86.8h3.7v15.5h-3.7zM1313.1 86.9h3.7v18.0h-3.7zM1316.6 88.6h3.7v12.2h-3.7zM1331.9 87.8h3.7v10.5h-3.7zM1335.4 89.2h3.7v8.4h-3.7zM1338.9 93.0h3.7v5.9h-3.7zM1342.4 89.8h3.7v6.5h-3.7zM1345.9 90.5h3.7v8.9h-3.7zM1349.4 90.6h3.7v10.9h-3.7zM1352.9 90.3h3.7v7.4h-3.7zM1356.4 90.4h3.7v10.4h-3.7zM1359.9 90.8h3.7v8.2h-3.7zM1363.4 87.8h3.7v10.4h-3.7zM1366.9 90.0h3.7v6.1h-3.7zM1370.4 90.3h3.7v5.7h-3.7zM1385.7 91.4h3.7v8.5h-3.7zM1389.2 90.5h3.7v8.3h-3.7zM1406.7 87.7h3.7v11.0h-3.7zM1410.2 90.0h3.7v10.1h-3.7zM1413.7 89.0h3.7v12.0h-3.7zM1417.2 85.7h3.7v13.3h-3.7zM1420.7 91.0h3.7v8.5h-3.7zM1424.2 87.4h3.7v12.2h-3.7zM1439.4 87.4h3.7v12.5h-3.7zM1442.9 86.5h3.7v11.7h-3.7zM1446.4 91.1h3.7v9.0h-3.7zM1449.9 90.3h3.7v8.5h-3.7zM1453.4 88.6h3.7v13.6h-3.7zM1456.9 87.1h3.7v11.8h-3.7zM1460.4 90.9h3.7v7.9h-3.7zM1463.9 86.5h3.7v12.8h-3.7zM1467.4 90.4h3.7v8.6h-3.7zM1470.9 91.4h3.7v7.7h-3.7zM1474.4 87.1h3.7v12.1h-3.7zM1477.9 89.5h3.7v9.3h-3.7zM1493.2 90.1h3.7v10.9h-3.7zM1496.7 89.2h3.7v9.6h-3.7zM1500.2 87.8h3.7v11.8h-3.7zM1503.7 87.1h3.7v15.2h-3.7zM1507.2 87.0h3.7v12.3h-3.7zM1510.7 86.1h3.7v12.0h-3.7zM1514.2 84.4h3.7v16.8h-3.7zM1517.7 86.2h3.7v13.7h-3.7zM1521.2 86.4h3.7v12.3h-3.7zM1524.7 86.8h3.7v13.1h-3.7zM1528.2 84.8h3.7v15.0h-3.7zM1531.7 84.2h3.7v15.8h-3.7zM1547.0 84.2h3.7v16.2h-3.7zM1550.5 84.2h3.7v17.4h-3.7zM1554.0 88.6h3.7v12.0h-3.7zM1557.5 87.5h3.7v13.6h-3.7zM1561.0 88.6h3.7v11.9h-3.7zM1564.5 85.8h3.7v13.5h-3.7zM1568.0 85.6h3.7v15.0h-3.7zM1571.5 84.5h3.7v14.9h-3.7zM1575.0 88.9h3.7v14.2h-3.7zM1578.5 83.9h3.7v17.2h-3.7zM1582.0 90.2h3.7v10.0h-3.7zM1585.5 86.6h3.7v16.8h-3.7z"/>
<path transform="scale(.5)" fill="none" stroke="#5FB7BD" stroke-width="5.8" stroke-linecap="round" d="M1913 249h0m4-11h0m0-7h0m-3-3h0m-3-7h0m2-1h0m5-1h0m1 0h0m-7-8h0m4-4h0m-2-4h0m2-1h0m0-1h0m-3-4h0m4-1h0m2 0h0m-5-1h0m-2-1h0m1 0h0m3-2h0m3 0h0m-1-1h0m-8-1h0m2 0h0m2 0h0m5-1h0m-5-2h0m2 0h0m-4-1h0m0-1h0m7 0h0m-2-2h0m-3-2h0m-3-3h0m5 0h0m-3-1h0m4-1h0m-5-2h0m3-1h0m2 0h0m-4-3h0m0-1h0m0-4h0m5 0h0m-5-1h0m2 0h0m-3-3h0m1-1h0m-1-5h0m2 0h0m0-5h0m1 0h0m-3-17h0m17-9h0m-9 2h0m5 4h0m-2 5h0m6 3h0m-5 6h0m-1 3h0m4 0h0m-3 1h0m5 1h0m-3 4h0m5 2h0m-1 2h0m-5 1h0m6 1h0m-3 1h0m-4 1h0m4 0h0m3 1h0m-5 3h0m-4 1h0m4 0h0m1 0h0m-7 1h0m2 0h0m4 7h0m2 0h0m2 0h0m-4 2h0m0 2h0m1 0h0m-5 1h0m8 0h0m-2 1h0m-8 1h0m10 1h0m-4 1h0m-2 1h0m1 0h0m2 0h0m3 0h0m-7 1h0m0 1h0m3 0h0m-6 2h0m3 0h0m7 0h0m-9 1h0m2 0h0m8 0h0m-11 2h0m4 1h0m7 0h0m-10 2h0m8 0h0m-9 1h0m4 0h0m0 1h0m4 0h0m2 0h0m-9 1h0m4 0h0m1 0h0m2 0h0m2 0h0m-7 2h0m2 0h0m5 0h0m1 0h0m-9 1h0m7 1h0m2 0h0m-6 2h0m4 0h0m-7 1h0m-1 1h0m2 0h0m3 0h0m3 0h0m-9 1h0m8 0h0m1 0h0m-6 1h0m1 1h0m3 1h0m0 1h0m1 0h0m1 1h0m0 1h0m1 0h0m-2 1h0m1 1h0m0 1h0m-2 1h0m-5 4h0m7 5h0m-8 3h0m2 0h0m4 3h0m-7 1h0m1 1h0m-1 7h0m9 4h0m9 11h0m-2-15h0m-4-9h0m4 0h0m-3-8h0m5 0h0m2-4h0m0-1h0m-3-2h0m4-1h0m-3-5h0m3 0h0m2 0h0m-2-1h0m-4-3h0m4-1h0m0-1h0m-5-1h0m3-1h0m-7-1h0m9 0h0m-9-1h0m7 0h0m2 0h0m-6-1h0m-3-1h0m6-1h0m3 0h0m-4-2h0m0-1h0m2 0h0m2 0h0m-4-1h0m1 0h0m-1-2h0m5 0h0m-3-2h0m-7-1h0m6 0h0m-1-2h0m3 0h0m2 0h0m-9-1h0m1 0h0m4 0h0m1 0h0m-6-1h0m5 0h0m1 0h0m-1-1h0m-3-1h0m0-4h0m3 0h0m-1-3h0m4 0h0m-6-3h0m7 0h0m-2-2h0m-1-1h0m-2-3h0m5 0h0m-3-1h0m-5-2h0m-2-1h0m2 0h0m5 0h0m4-2h0m-3-4h0m0-2h0m-1-4h0m-7-18h0m10-6h0m0-4h0m7 38h0m-3 6h0m0 5h0m-2 2h0m2 4h0m1 1h0m-3 7h0m4 0h0m0 1h0m-3 1h0m3 2h0m-1 4h0m-2 3h0m-1 2h0m1 0h0m-1 2h0m2 3h0m4 2h0m-5 7h0m-1 3h0m5 0h0m-2 33h0m-2 2h0m2 4h0m13-7h0m-2-15h0m1-4h0m5-7h0m2-1h0m-6-4h0m6 0h0m-7-6h0m2 0h0m-2-1h0m5-3h0m2 0h0m-7-1h0m1 0h0m-1-3h0m3 0h0m4-4h0m-8-3h0m2 0h0m-1-1h0m7 0h0m0-1h0m-8-1h0m6-1h0m2-1h0m-7-1h0m6-1h0m-6-2h0m6 0h0m-6-1h0m4 0h0m2 0h0m-6-1h0m3-3h0m-4-1h0m0-1h0m-1-1h0m1-1h0m1 0h0m5-3h0m-6-4h0m2-1h0m4-1h0m3-5h0m-7-2h0m2-4h0m-3-1h0m0-1h0m0-1h0m5-1h0m3-7h0m-4-9h0m-1-2h0m-4-7h0m18-8h0m-8 9h0m2 3h0m7 1h0m2 11h0m-1 5h0m-5 1h0m-4 4h0m8 2h0m-5 2h0m-1 3h0m3 3h0m-2 4h0m-1 1h0m3 0h0m0 2h0m-5 2h0m3 0h0m1 0h0m6 0h0m-6 2h0m-5 2h0m1 0h0m1 0h0m2 0h0m-4 1h0m4 1h0m2 0h0m1 0h0m-3 1h0m1 0h0m4 0h0m1 0h0m-5 2h0m6 0h0m-11 1h0m4 0h0m5 0h0m-3 1h0m-3 1h0m3 1h0m-1 3h0m1 0h0m-2 1h0m0 1h0m3 0h0m-7 1h0m8 0h0m-7 1h0m1 2h0m5 1h0m4 0h0m-7 1h0m1 0h0m-5 1h0m5 0h0m-1 1h0m-4 1h0m4 0h0m-3 1h0m1 1h0m1 0h0m2 0h0m2 0h0m2 2h0m-8 1h0m3 0h0m6 0h0m-10 1h0m3 0h0m4 1h0m3 4h0m-6 1h0m1 0h0m0 3h0m3 0h0m2 1h0m-5 1h0m2 0h0m-3 1h0m2 2h0m1 0h0m-7 5h0m6 0h0m-3 12h0m2 3h0m1 3h0m-4 6h0m5 0h0m12 5h0m3-4h0m-5-10h0m-5-3h0m7 0h0m3-4h0m-3-2h0m3-1h0m-3-5h0m1 0h0m-6-2h0m5 0h0m-1-1h0m-2-1h0m5-1h0m-4-2h0m1 0h0m-1-3h0m4 0h0m-2-1h0m1 0h0m1 0h0m-4-1h0m-4-2h0m6 0h0m1-1h0m2 0h0m-7-1h0m-1-1h0m5-1h0m1 0h0m1 0h0m-9-1h0m4 0h0m1 0h0m5 0h0m-4-1h0m1 0h0m-1-1h0m-4-1h0m4 0h0m2 0h0m1 0h0m1-2h0m0-2h0m-7-1h0m8 0h0m-10-1h0m5 0h0m-4-1h0m2 0h0m1-1h0m2 0h0m4 0h0m-2-1h0m-5-1h0m3 0h0m1 0h0m-8-1h0m7-1h0m4 0h0m-6-1h0m6-1h0m-3-1h0m2 0h0m1 0h0m-10-1h0m2-2h0m6 0h0m-2-1h0m-7-1h0m2 0h0m7 0h0m-7-1h0m2 0h0m1 0h0m1 0h0m-4-1h0m4-1h0m5 0h0m-8-1h0m-2-2h0m1-1h0m5 0h0m-5-1h0m1 0h0m6 0h0m-7-1h0m6 0h0m-3-1h0m4 0h0m-4-1h0m6 0h0m-9-1h0m6 0h0m-1-1h0m-6-2h0m-1-1h0m9 0h0m-3-1h0m-6-1h0m7-1h0m1 0h0m-6-1h0m2-1h0m4-1h0m-5-6h0m2 0h0m-5-4h0m6-22h0m10 0h0m-2 12h0m0 6h0m0 3h0m1 0h0m-3 6h0m2 1h0m-2 1h0m0 3h0m1 3h0m1 2h0m0 4h0m-2 1h0m1 0h0m2 5h0m-2 1h0m2 1h0m-3 2h0m2 1h0m-2 4h0m4 3h0m0 3h0m-3 2h0m1 5h0m-2 11h0m0 2h0m1 0h0m1 3h0m-1 2h0m-1 6h0m1 0h0m1 2h0m29-104h0m1 4h0m-1 21h0m0 5h0m-3 8h0m7 1h0m-4 4h0m-1 1h0m0 3h0m-3 1h0m3 3h0m-2 2h0m5 1h0m-1 1h0m0 3h0m-1 2h0m4 1h0m-8 5h0m6 0h0m2 0h0m-2 4h0m-2 5h0m0 2h0m0 1h0m1 3h0m1 2h0m-6 1h0m-1 2h0m3 0h0m4 0h0m-3 4h0m0 1h0m5 1h0m-5 2h0m4 3h0m-4 8h0m-4 3h0m6 5h0m0 8h0m1 4h0m2 2h0m-2 10h0m14-11h0m-1-16h0m-5-2h0m2-9h0m-7-1h0m1-4h0m0-4h0m10 0h0m-4-3h0m3-2h0m1 0h0m-5-2h0m-3-1h0m1 0h0m6 0h0m-10-1h0m7 0h0m-4-2h0m-3-2h0m4 0h0m0-5h0m6 0h0m-5-2h0m-5-1h0m4 0h0m6 0h0m1-1h0m-9-1h0m8 0h0m-3-2h0m-6-1h0m4 0h0m-5-2h0m5 0h0m5 0h0m0-1h0m-7-1h0m8 0h0m-1-2h0m0-3h0m-1-1h0m1-1h0m-2-2h0m-5-2h0m3 0h0m3-1h0m2-2h0m0-3h0m-10-1h0m5 0h0m5-1h0m0-1h0m-7-10h0m3 0h0m-2-3h0m5-8h0m-2-8h0m7 11h0m4 14h0m-2 4h0m6 1h0m-10 2h0m-1 5h0m4 3h0m4 1h0m-3 1h0m3 0h0m-5 1h0m-3 2h0m11 1h0m0 2h0m-5 1h0m-2 1h0m6 0h0m1 1h0m-11 2h0m1 0h0m6 0h0m-1 1h0m-6 2h0m1 1h0m10 2h0m-6 1h0m6 1h0m-4 1h0m-1 1h0m2 0h0m-8 1h0m11 0h0m-11 1h0m6 0h0m1 1h0m-7 2h0m6 0h0m-5 2h0m5 0h0m-6 1h0m9 0h0m-2 1h0m-7 1h0m3 0h0m-2 1h0m3 1h0m-3 2h0m5 0h0m2 0h0m3 0h0m-8 6h0m7 2h0m-10 4h0m0 2h0m3 6h0m-1 28h0m15-23h0m1-7h0m-1-5h0m-3-6h0m9 0h0m-7-2h0m0-1h0m-4-1h0m4-1h0m-3-2h0m2 0h0m-3-2h0m4 0h0m7 0h0m-2-1h0m-6-2h0m3-1h0m-6-1h0m9-1h0m1-4h0m-3-1h0m-1-1h0m1 0h0m-3-2h0m6 0h0m-7-1h0m5 0h0m-5-1h0m-3-1h0m3 0h0m5 0h0m3 0h0m-11-1h0m7 0h0m-7-1h0m2 0h0m1-1h0m-1-1h0m3 0h0m-3-1h0m7 0h0m-3-1h0m4 0h0m-3-1h0m2 0h0m-1-1h0m1 0h0m-5-1h0m2 0h0m1 0h0m3 0h0m1 0h0m-8-1h0m8 0h0m-1-1h0m-8-1h0m1-2h0m-3-2h0m9 0h0m1-1h0m0-1h0m-8-2h0m2-1h0m4-1h0m3-10h0m-9-1h0m7-1h0m-6-6h0m6-6h0m-5-10h0m-1-4h0m-3-4h0m17 3h0m1 5h0m5 3h0m-11 7h0m5 1h0m5 6h0m-8 1h0m6 5h0m-2 2h0m-6 1h0m1 0h0m9 0h0m-4 2h0m3 0h0m2 1h0m-9 1h0m4 0h0m-5 1h0m3 0h0m2 0h0m0 1h0m3 0h0m1 0h0m-10 1h0m3 0h0m4 1h0m1 1h0m-5 6h0m1 0h0m3 0h0m-6 1h0m2 0h0m6 0h0m0 2h0m2 1h0m-9 1h0m3 2h0m1 0h0m2 2h0m-8 1h0m9 0h0m2 1h0m-9 1h0m4 3h0m4 0h0m-5 1h0m-1 3h0m5 0h0m-9 1h0m6 0h0m-5 1h0m1 0h0m9 1h0m-8 1h0m4 0h0m3 2h0m-6 4h0m1 1h0m3 1h0m-8 1h0m9 0h0m-4 1h0m0 9h0m-5 1h0m1 0h0m9 0h0m-6 2h0m-3 4h0m-1 20h0m11 5h0m-3 8h0m7 0h0m4-7h0m4-6h0m-6-21h0m0-3h0m-4-1h0m2 0h0m-1-4h0m9-6h0m-10-1h0m3 0h0m-1-2h0m0-1h0m7-1h0m1 0h0m-7-1h0m0-1h0m3 0h0m2 0h0m1 0h0m-8-3h0m4-1h0m-2-1h0m4 0h0m2-1h0m-10-1h0m2 0h0m5-1h0m4 0h0m-7-2h0m2 0h0m1 0h0m1 0h0m1-2h0m-9-1h0m7-1h0m3-2h0m-6-1h0m3-1h0m1 0h0m2 0h0m-4-1h0m2-1h0m3 0h0m-1-2h0m-9-2h0m2-4h0m2-1h0m6 0h0m-8-1h0m4-6h0m4-1h0m-9-1h0m-2-2h0m0-2h0m10 0h0m-6-1h0m-3-1h0m5 0h0m5-3h0m-1-3h0m-10-2h0m1-3h0m-1-1h0m9-2h0m-2-17h0m-5-4h0m15 13h0m-2 9h0m1 13h0m-4 1h0m9 0h0m-2 2h0m3 1h0m-10 3h0m2 1h0m-2 1h0m0 2h0m10 0h0m-6 1h0m5 0h0m-4 4h0m-3 1h0m3 0h0m4 0h0m2 0h0m-2 4h0m0 1h0m-6 1h0m-1 1h0m2 0h0m4 2h0m1 0h0m-1 1h0m1 0h0m-1 2h0m-5 1h0m2 1h0m6 0h0m-2 1h0m1 0h0m-9 1h0m1 0h0m0 2h0m6 0h0m-5 1h0m4 0h0m-1 3h0m3 0h0m1 1h0m-3 2h0m2 1h0m1 0h0m-5 1h0m2 1h0m-4 1h0m1 2h0m5 0h0m-4 1h0m5 0h0m-3 1h0m1 0h0m2 0h0m-7 1h0m4 2h0m-3 1h0m4 0h0m0 2h0m-2 3h0m1 0h0m1 0h0m-6 3h0m7 3h0m-7 8h0m1 1h0m-3 5h0m10 1h0m-8 5h0m2 15h0m10-33h0m-2-7h0m1-9h0m0-2h0m0-3h0m1-2h0m-2-5h0m0-4h0m1-11h0m1-1h0m-2-10h0m1-1h0m0-5h0m0-7h0m34 97h0m-4-9h0m0-29h0m3-2h0m-6-5h0m-3-2h0m0-6h0m9-1h0m-5-2h0m3-2h0m-4-4h0m3 0h0m0-1h0m1-1h0m2 0h0m-3-1h0m-2-1h0m3 0h0m1 0h0m-7-1h0m2 0h0m0-1h0m6 0h0m-1-9h0m0-4h0m-7-2h0m5-2h0m4-10h0m-10-8h0m19-30h0m2 30h0m-9 1h0m1 9h0m-1 1h0m10 2h0m-11 2h0m9 0h0m-7 2h0m3 0h0m3 4h0m-2 3h0m1 0h0m-5 7h0m6 3h0m3 0h0m-6 1h0m3 5h0m0 2h0m-6 2h0m3 0h0m2 2h0m2 2h0m-9 1h0m11 5h0m-10 5h0m5 1h0m2 1h0m-8 4h0m8 0h0m1 2h0m1 8h0m-10 2h0m6 8h0m5 3h0m-3 10h0m8 2h0m5-5h0m-4-18h0m2-3h0m-1-4h0m0-4h0m5-3h0m-10-1h0m6-2h0m-5-3h0m6 0h0m-3-3h0m2 0h0m0-2h0m-2-1h0m5 0h0m-6-1h0m7-1h0m-10-2h0m4 0h0m1 0h0m5 0h0m-9-1h0m4 0h0m3 0h0m-4-1h0m4 0h0m1-1h0m-4-1h0m5 0h0m-8-1h0m8-2h0m-10-1h0m3 0h0m3 0h0m-2-1h0m1 0h0m1 0h0m1 0h0m1-1h0m-4-3h0m3-1h0m-3-1h0m2 0h0m-2-2h0m5 0h0m-8-1h0m3 0h0m4 0h0m-2-1h0m1 0h0m2-1h0m-7-1h0m-1-1h0m7 0h0m-3-1h0m3 0h0m-4-3h0m-5-3h0m11-1h0m-9-2h0m3 0h0m6-6h0m-1-1h0m-6-6h0m6-16h0m0-7h0m-9-10h0m11 15h0m0 22h0m0 10h0m5 6h0m-2 1h0m-2 5h0m10 2h0m-1 2h0m1 0h0m-10 1h0m0 3h0m9 0h0m-10 6h0m3 0h0m8 0h0m-11 1h0m2 1h0m1 0h0m-1 12h0m2 0h0m-4 2h0m11 2h0m-11 23h0m0 14h0m19 4h0m-4-1h0m0-6h0m4-9h0m0-12h0m0-2h0m4-4h0m0-1h0m-3-2h0m-2-2h0m0-2h0m2-4h0m-2-3h0m1 0h0m-4-2h0m-3-1h0m6-1h0m0-3h0m4 0h0m-2-1h0m-3-1h0m-4-2h0m7-1h0m-6-2h0m6-1h0m0-1h0m1 0h0m-9-5h0m6 0h0m4 0h0m-8-1h0m3-3h0m2 0h0m-1-1h0m5-1h0m-2-1h0m-6-1h0m6 0h0m-2-3h0m-1-1h0m5-1h0m-7-2h0m4 0h0m-1-1h0m2 0h0m1 0h0m-2-1h0m-4-3h0m-2-2h0m8-3h0m-2-2h0m-6-6h0m5-1h0m3 0h0m-9-6h0m1-8h0m8 0h0m-4-15h0m1 0h0m1 0h0m11 2h0m3 0h0m-1 22h0m-6 2h0m-3 1h0m7 5h0m0 1h0m1 4h0m-8 5h0m3 4h0m3 2h0m4 0h0m-5 1h0m-2 4h0m5 1h0m-5 1h0m1 2h0m7 0h0m-3 1h0m-8 2h0m6 0h0m0 1h0m-3 1h0m3 0h0m2 0h0m-3 3h0m2 0h0m1 1h0m-8 2h0m5 0h0m3 0h0m2 0h0m-3 5h0m2 1h0m-2 1h0m3 0h0m-10 1h0m3 1h0m-2 1h0m3 1h0m2 0h0m-6 1h0m6 6h0m-2 1h0m5 3h0m-1 2h0m-5 3h0m-2 1h0m-1 7h0m4 0h0m2 6h0m9 6h0m6-22h0m-2-11h0m1 0h0m-7-1h0m6-2h0m2-2h0m-1-3h0m0-1h0m2 0h0m0-6h0m-9-1h0m-1-2h0m11 0h0m-3-1h0m-8-2h0m4 0h0m3-2h0m-6-1h0m1-1h0m4-3h0m-1-2h0m-3-2h0m5-5h0m-1-1h0m2 0h0m3-25h0m3-15h0m-2 3h0m1 7h0m1 10h0m-2 22h0m1 3h0m-1 4h0m0 3h0m1 0h0m1 1h0m-2 9h0m3 1h0m-2 2h0m2 5h0m-3 1h0m1 1h0m1 3h0m1 3h0m-3 13h0m1 7h0m-1 27h0m27-97h0m-2 12h0m7 1h0m-2 2h0m-4 3h0m2 1h0m6 1h0m-5 2h0m-1 11h0m2 3h0m5 1h0m0 2h0m-9 2h0m9 12h0m0 1h0m8 46h0m3-6h0m-5-2h0m5-14h0m-5-1h0m-4-7h0m7 0h0m-2-2h0m-6-2h0m10-9h0m-6-3h0m6-2h0m-9-3h0m2 0h0m5-5h0m-7-2h0m3 0h0m0-1h0m3-2h0m-3-1h0m2 0h0m5-2h0m0-1h0m-2-1h0m1-2h0m-4-1h0m4-2h0m1 0h0m-7-4h0m1-6h0m-1-1h0m4 0h0m-3-4h0m4-1h0m2-2h0m-11-1h0m2-2h0m2-3h0m-2-3h0m-2-1h0m10 0h0m-2-6h0m-1-3h0m4-5h0m6-20h0m4 1h0m-4 7h0m-2 5h0m5 2h0m-7 7h0m7 18h0m1 1h0m2 4h0m-4 1h0m-1 3h0m4 2h0m-1 2h0m1 0h0m-6 1h0m7 2h0m-11 2h0m9 1h0m1 0h0m-3 1h0m-5 3h0m6 0h0m-6 2h0m7 0h0m-2 1h0m3 0h0m-5 1h0m-5 3h0m6 0h0m0 2h0m2 0h0m3 0h0m-3 2h0m-8 1h0m8 1h0m2 0h0m1 0h0m-5 1h0m4 0h0m-2 2h0m-4 4h0m4 0h0m-2 1h0m4 0h0m-3 1h0m-2 4h0m3 0h0m-4 1h0m4 0h0m1 0h0m-2 3h0m-1 2h0m4 0h0m-5 1h0m2 1h0m2 12h0m-9 6h0m10 0h0m8 13h0m-1-41h0m-5-2h0m1-2h0m7-1h0m-3-4h0m-2-1h0m3-2h0m-5-1h0m5-3h0m-5-2h0m9 0h0m-10-1h0m2-2h0m-1-1h0m6 0h0m-2-4h0m1-1h0m2-2h0m-7-2h0m2-1h0m-3-3h0m8 0h0m3 0h0m-11-8h0m4-7h0m1-5h0m2 0h0m2-29h0m4 13h0m10 27h0m-7 4h0m6 6h0m-6 3h0m2 1h0m1 3h0m-5 2h0m1 2h0m7 0h0m-10 1h0m1 0h0m4 0h0m1 1h0m-2 2h0m-2 1h0m8 2h0m-10 1h0m5 0h0m2 2h0m4 1h0m-2 1h0m2 4h0m0 1h0m-7 2h0m-2 1h0m3 1h0m-2 1h0m8 6h0m-1 4h0m-10 6h0m7 6h0m2 0h0m14 29h0m-11-24h0m8-16h0m1-4h0m-7-2h0m6-6h0m-4-1h0m3-3h0m4 0h0m0-6h0m-1-1h0m-2-1h0m1 0h0m-9-1h0m9 0h0m-8-4h0m2-2h0m1 0h0m5 0h0m0-2h0m-1-1h0m2 0h0m-5-1h0m4 0h0m-5-3h0m4 0h0m1-4h0m-3-3h0m3-1h0m-4-45h0m17 23h0m-5 11h0m-3 1h0m5 1h0m-6 3h0m6 0h0m4 3h0m-10 1h0m9 2h0m-5 1h0m-3 3h0m8 0h0m-2 1h0m-4 2h0m7 0h0m-9 2h0m3 1h0m2 0h0m1 1h0m-3 1h0m6 0h0m-3 2h0m1 1h0m-7 1h0m7 1h0m-4 1h0m5 0h0m-4 1h0m2 3h0m-4 1h0m1 0h0m3 0h0m-4 1h0m7 2h0m-5 1h0m2 1h0m1 0h0m2 2h0m-3 1h0m1 0h0m1 0h0m-7 1h0m2 0h0m-3 1h0m0 2h0m8 1h0m-1 7h0m2 42h0m1-53h0m0-7h0m2-2h0m-2-5h0m1-10h0m1-1h0m-1-1h0m-1-1h0m2-5h0m-2-5h0m2 0h0m-2-39h0m2 0h0m24 125h0m9-5h0m-2-1h0m-7-24h0m2 0h0m-1-6h0m7 0h0m1-3h0m-9-2h0m8 0h0m-9-3h0m1 0h0m7 0h0m1-1h0m-5-1h0m4-1h0m1 0h0m1-2h0m-2-1h0m1-6h0m1 0h0m-8-4h0m0-1h0m1 0h0m4-1h0m1 0h0m-6-2h0m4-1h0m1 0h0m2 0h0m-1-1h0m-2-1h0m2 0h0m-6-1h0m7 0h0m-6-1h0m-3-1h0m3 0h0m1 0h0m2 0h0m-6-1h0m6 0h0m3 0h0m0-2h0m-3-1h0m-3-3h0m1-2h0m4 0h0m-7-8h0m9-2h0m-3-8h0m-4-2h0m6-3h0m1-20h0m3 3h0m6 19h0m0 1h0m-1 15h0m-2 3h0m-4 5h0m6 1h0m-4 1h0m3 1h0m-4 1h0m3 0h0m3 1h0m2 0h0m-10 1h0m1 0h0m9 0h0m1 3h0m-3 4h0m-4 4h0m3 1h0m2 1h0m2 0h0m-3 1h0m-4 3h0m5 0h0m-8 3h0m5 2h0m-4 5h0m7 0h0m-8 7h0m6 1h0m-3 27h0m8 8h0m7-15h0m-1-10h0m-3-2h0m-1-4h0m-1-2h0m8-2h0m-7-4h0m7-2h0m-8-5h0m1 0h0m8 0h0m-8-1h0m1 0h0m1 0h0m4 0h0m1 0h0m-3-3h0m1-1h0m2-1h0m1-1h0m-1-1h0m1 0h0m1-2h0m-5-1h0m3 0h0m0-1h0m-6-1h0m1-2h0m5-2h0m-1-1h0m-4-1h0m7-1h0m-7-1h0m4 0h0m3 0h0m-5-1h0m4-1h0m0-1h0m-4-2h0m1-1h0m3 0h0m1-4h0m-9-3h0m3 0h0m2-1h0m1 0h0m1 0h0m-7-1h0m9 0h0m-3-1h0m-8-2h0m2 0h0m9 0h0m-8-1h0m5 0h0m-5-12h0m-2-22h0m16 27h0m3 2h0m2 2h0m-3 2h0m1 3h0m2 0h0m-3 2h0m2 1h0m-9 1h0m6 1h0m2 7h0m3 0h0m-3 1h0m1 0h0m-7 3h0m7 3h0m-9 1h0m7 0h0m1 0h0m-8 1h0m6 0h0m1 6h0m-6 2h0m2 0h0m2 0h0m1 1h0m3 0h0m1 0h0m-5 1h0m3 1h0m-7 2h0m5 3h0m5 0h0m-4 1h0m-1 4h0m-2 6h0m5 5h0m-2 15h0m-6 14h0m15 1h0m4-8h0m-2-1h0m1-4h0m-1-6h0m-3-2h0m2-19h0m2 0h0m-3-4h0m-2-4h0m2-3h0m-4-1h0m4 0h0m3 0h0m4-2h0m-11-1h0m1 0h0m5-2h0m5 0h0m-11-1h0m10 0h0m-2-5h0m-7-10h0m7-1h0m-6-2h0m-2-4h0m11-3h0m-11-2h0m3-3h0m8-7h0m-7-8h0m0-1h0m18-18h0m-9 31h0m5 5h0m-6 3h0m9 1h0m-3 2h0m2 1h0m2 0h0m-2 6h0m-5 1h0m-1 5h0m4 0h0m-3 1h0m4 0h0m-2 6h0m5 0h0m-7 2h0m1 0h0m2 1h0m3 1h0m-4 1h0m1 0h0m2 0h0m-3 3h0m1 1h0m4 0h0m-2 4h0m-6 1h0m3 2h0m-2 3h0m7 0h0m-2 3h0m2 5h0m-6 4h0m-4 7h0m22 27h0m1-3h0m0-8h0m-1-3h0m0-3h0m-7-21h0m3-2h0m5-2h0m-2-3h0m-6-4h0m8-1h0m-8-1h0m3 0h0m2 0h0m3-1h0m-9-2h0m9 0h0m-1-1h0m-7-2h0m7 0h0m-2-1h0m-8-2h0m6-4h0m-6-1h0m4 0h0m7 0h0m-9-2h0m1-2h0m6 0h0m-4-2h0m4-1h0m2 0h0m-6-3h0m-4-1h0m7-1h0m1 0h0m0-1h0m-6-4h0m-2-2h0m9-1h0m-7-3h0m-1-1h0m9-16h0m-3-5h0m-6-19h0m3-1h0m7-5h0m2 17h0m-2 19h0m1 9h0m0 8h0m-1 16h0m0 2h0m0 4h0m1 0h0m-1 4h0m0 5h0m2 6h0m-2 21h0m2 5h0m27-106h0m1 12h0m-1 10h0m2 2h0m0 3h0m-5 3h0m2 1h0m-2 1h0m0 2h0m1 2h0m-2 2h0m1 1h0m6 2h0m-1 1h0m0 5h0m-1 3h0m3 2h0m-5 3h0m1 1h0m-2 2h0m-2 1h0m1 1h0m-1 1h0m7 3h0m-3 4h0m2 0h0m-1 2h0m-3 1h0m4 2h0m-1 1h0m-2 4h0m0 2h0m0 2h0m7 0h0m-10 1h0m4 16h0m0 25h0m-3 1h0m11-11h0m10-3h0m0-1h0m-9-16h0m9-3h0m0-8h0m-2-1h0m2-3h0m-8-4h0m6-1h0m-2-3h0m3 0h0m1-3h0m-4-3h0m-6-1h0m5 0h0m-5-3h0m3 0h0m6 0h0m-2-2h0m-6-2h0m2-1h0m5 0h0m-4-3h0m-1-1h0m4-5h0m-6-1h0m9-1h0m-9-2h0m8 0h0m-5-3h0m5-1h0m-10-1h0m1 0h0m3-2h0m5 0h0m2 0h0m-1-1h0m-2-1h0m2-11h0m-7-12h0m-1-17h0m16-3h0m5 12h0m-7 20h0m-4 1h0m6 2h0m-4 1h0m0 6h0m-2 1h0m1 0h0m8 0h0m-7 6h0m-2 1h0m2 0h0m3 0h0m-5 1h0m2 0h0m-1 2h0m2 2h0m0 1h0m4 1h0m0 1h0m-7 2h0m5 1h0m-3 2h0m-1 2h0m4 1h0m1 0h0m-4 2h0m4 0h0m-3 2h0m1 0h0m-1 3h0m1 0h0m-4 1h0m4 0h0m3 0h0m-5 1h0m0 1h0m3 2h0m-1 2h0m2 0h0m-6 4h0m3 1h0m7 2h0m-3 1h0m-7 1h0m0 2h0m3 0h0m3 2h0m-5 1h0m3 4h0m-4 3h0m5 7h0m-5 21h0m13 3h0m6-32h0m-6-3h0m7-1h0m-5-6h0m1 0h0m3 0h0m-4-1h0m5-1h0m-2-1h0m-1-2h0m1 0h0m0-1h0m2 0h0m-5-1h0m1-3h0m5-1h0m0-1h0m-9-2h0m1 0h0m4 0h0m1 0h0m3 0h0m-3-1h0m1 0h0m-1-1h0m2-1h0m-3-1h0m2-1h0m-2-1h0m3 0h0m-1-2h0m1-1h0m-8-1h0m5 0h0m2-1h0m-5-1h0m6 0h0m-7-1h0m4 0h0m3 0h0m-8-1h0m1-2h0m0-1h0m-1-1h0m9-1h0m-6-1h0m7 0h0m-6-1h0m1-1h0m-2-1h0m2 0h0m-5-1h0m10-3h0m1 0h0m-3-3h0m-5-1h0m8 0h0m-3-2h0m-3-1h0m0-7h0m6-2h0m0-4h0m8-25h0m2 1h0m1 4h0m-1 17h0m-5 17h0m2 2h0m-6 3h0m6 2h0m-4 1h0m4 0h0m-5 3h0m3 1h0m-2 1h0m5 0h0m3 0h0m-10 2h0m11 0h0m-9 1h0m5 0h0m-4 1h0m0 2h0m-1 1h0m2 0h0m3 0h0m1 6h0m2 0h0m-1 2h0m2 0h0m-8 1h0m4 0h0m0 2h0m1 1h0m-7 4h0m10 0h0m0 2h0m-9 2h0m-1 1h0m6 0h0m-7 2h0m10 0h0m-4 1h0m-2 5h0m1 0h0m0 3h0m1 5h0m1 0h0m-5 8h0m15 24h0m1-2h0m-1-7h0m-4-3h0m2-15h0m4-1h0m-7-1h0m10-1h0m-6-1h0m6-4h0m-6-2h0m4-1h0m-1-2h0m2 0h0m-6-1h0m3-1h0m0-1h0m2 0h0m0-4h0m1 0h0m2 0h0m-2-1h0m2 0h0m-8-1h0m1 0h0m-1-1h0m1 0h0m2-1h0m0-2h0m0-1h0m5 0h0m-8-1h0m-1-1h0m4 0h0m1 0h0m2 0h0m2 0h0m-9-1h0m3 0h0m1-2h0m5 0h0m-11-4h0m1 0h0m7 0h0m3 0h0m-11-1h0m5-4h0m2 0h0m1-1h0m2 0h0m-4-1h0m5 0h0m-9-2h0m2 0h0m4-1h0m-7-1h0m9-2h0m-5-1h0m-3-3h0m5-2h0m-4-2h0m3 0h0m-2-1h0m4-7h0m-3-2h0m-3-5h0m8-1h0m1-4h0m-6-30h0m13 13h0m3 12h0m-7 6h0m0 10h0m8 0h0m-7 6h0m1 3h0m3 0h0m-1 1h0m-6 5h0m10 0h0m1 0h0m-7 2h0m2 2h0m-6 1h0m4 2h0m3 0h0m2 0h0m-6 1h0m-2 2h0m1 1h0m9 1h0m-10 2h0m8 0h0m-3 1h0m5 1h0m-8 2h0m7 0h0m-8 1h0m1 0h0m3 0h0m-5 2h0m1 0h0m-1 2h0m5 0h0m1 0h0m3 0h0m1 0h0m-7 1h0m-3 1h0m9 0h0m-8 2h0m7 2h0m-9 2h0m4 0h0m3 0h0m4 0h0m-8 4h0m0 3h0m6 1h0m-5 1h0m-2 3h0m6 4h0m1 5h0m-2 5h0m-4 4h0m3 16h0m6-54h0m1-26h0m-1-32h0m26 99h0m2-3h0m7-13h0m-3-6h0m-2-8h0m4 0h0m-4-4h0m-3-1h0m4-3h0m-5-3h0m3 0h0m6 0h0m-1-1h0m1 0h0m-10-3h0m6 0h0m4-1h0m-8-1h0m5-2h0m-1-1h0m-4-3h0m8-1h0m-6-2h0m4-1h0m-5-2h0m1-1h0m3-4h0m-8-1h0m7-1h0m-5-3h0m1 0h0m-2-3h0m6-2h0m2-10h0m-3-11h0m3-2h0m-5-5h0m5-4h0m14-11h0m-5 20h0m-3 2h0m-2 7h0m-1 6h0m2 9h0m-1 1h0m0 1h0m1 1h0m7 0h0m-8 1h0m5 0h0m-3 1h0m-1 1h0m-1 1h0m3 2h0m6 0h0m-9 2h0m0 1h0m-1 1h0m2 1h0m5 0h0m0 1h0m-6 2h0m3 1h0m-4 1h0m7 0h0m-5 1h0m3 0h0m5 2h0m-5 1h0m4 2h0m-9 1h0m5 1h0m4 0h0m-9 1h0m1 0h0m3 0h0m2 1h0m2 0h0m-7 1h0m7 0h0m-2 2h0m-6 1h0m1 0h0m1 1h0m3 0h0m-5 1h0m6 2h0m-4 1h0m7 2h0m-4 1h0m0 2h0m4 0h0m-8 2h0m5 1h0m-6 10h0m2 5h0m-1 1h0m8 2h0m-5 1h0m5 10h0m-7 7h0m9 7h0m9-1h0m-7-16h0m10-1h0m-11-17h0m6 0h0m-5-1h0m2-7h0m8-3h0m-3-1h0m3-1h0m-10-1h0m8-3h0m-9-1h0m1 0h0m9 0h0m-10-1h0m3-3h0m0-2h0m5 0h0m0-1h0m2 0h0m-3-1h0m-6-1h0m6 0h0m-7-3h0m11 0h0m-6-1h0m5-1h0m-8-1h0m9-1h0m-8-2h0m6 0h0m1-1h0m-9-3h0m3 0h0m7 0h0m-2-2h0m1-1h0m-3-3h0m1 0h0m-6-1h0m9 0h0m-3-2h0m-6-3h0m-2-2h0m10-2h0m0-4h0m-10-1h0m11 0h0m-8-1h0m6-6h0m2-31h0m9 24h0m-7 1h0m7 9h0m1 1h0m1 4h0m-5 1h0m-4 2h0m9 0h0m-1 1h0m-5 5h0m5 0h0m-7 2h0m1 1h0m-1 3h0m3 1h0m6 0h0m-7 3h0m-4 1h0m9 0h0m1 0h0m-5 3h0m1 2h0m-1 1h0m3 2h0m2 3h0m-1 1h0m-6 4h0m2 0h0m-3 2h0m5 0h0m-5 1h0m8 0h0m-9 1h0m10 0h0m0 1h0m-11 1h0m1 0h0m10 5h0m-1 3h0m-6 1h0m-3 1h0m10 1h0m0 3h0m-10 22h0m4 18h0m8-6h0m4 0h0m-5-5h0m5-8h0m1-8h0m-6-5h0m8 0h0m1 0h0m1-3h0m-7-4h0m-1-2h0m0-1h0m4-2h0m4 0h0m-7-3h0m5 0h0m-8-2h0m5 0h0m3-3h0m-2-1h0m2 0h0m-5-1h0m1 0h0m7 0h0m-1-1h0m-4-1h0m-2-1h0m1-1h0m4-1h0m-8-1h0m3 0h0m5 0h0m-5-1h0m5-1h0m-4-2h0m4 0h0m-9-1h0m8 0h0m3 0h0m-5-2h0m5 0h0m-11-1h0m1 0h0m1-1h0m6 0h0m-5-1h0m-2-2h0m5 0h0m1 0h0m2 0h0m-9-1h0m2 0h0m5 0h0m-3-1h0m-1-1h0m1 0h0m-2-1h0m8 0h0m-7-1h0m5-1h0m3 0h0m-11-1h0m3-1h0m6 0h0m-1-1h0m-4-1h0m7 0h0m-10-4h0m9-1h0m-2-1h0m1-1h0m-6-2h0m5 0h0m-4-4h0m-4-1h0m7 0h0m0-2h0m-1-2h0m1-4h0m1-3h0m1-3h0m-1-1h0m3-7h0m-9-1h0m-1-2h0m2-12h0m10 5h0m6 15h0m2 1h0m2 2h0m-6 2h0m3 3h0m1 0h0m-2 8h0m2 0h0m-5 2h0m7 3h0m-10 2h0m6 0h0m2 1h0m-9 1h0m0 3h0m0 1h0m10 0h0m1 0h0m-10 1h0m9 1h0m-2 1h0m2 0h0m-3 2h0m-6 2h0m3 0h0m3 0h0m3 0h0m-9 1h0m10 0h0m0 1h0m-3 4h0m-6 2h0m3 0h0m-1 1h0m2 0h0m-2 1h0m1 1h0m3 0h0m-3 1h0m1 1h0m5 0h0m-8 1h0m2 0h0m0 1h0m-3 1h0m6 0h0m-6 2h0m7 0h0m-5 1h0m2 4h0m-1 3h0m3 2h0m3 1h0m-4 1h0m0 3h0m-2 1h0m0 2h0m1 0h0m1 0h0m3 6h0m-9 3h0m-1 2h0m6 1h0m-1 16h0m-5 1h0m22 8h0m0-6h0m0-1h0m-7-10h0m-2-7h0m3-10h0m-4-1h0m3 0h0m5-4h0m-7-8h0m1 0h0m3-2h0m5 0h0m0-1h0m-4-2h0m1-1h0m2 0h0m2-1h0m-8-3h0m2-3h0m-2-4h0m-2-3h0m-1-2h0m9 0h0m-2-1h0m-6-1h0m6-2h0m4-1h0m-8-1h0m7 0h0m-3-2h0m-1-1h0m2-2h0m-7-2h0m9 0h0m-10-1h0m2-6h0m8-2h0m-7-12h0m3-3h0m6 22h0m1 1h0m-1 1h0m1 12h0m0 1h0m-1 3h0m0 1h0m0 1h0m0 4h0m1 2h0m0 17h0m0 14h0m-1 27h0m25-110h0m1 3h0m4 8h0m1 11h0m0 3h0m-2 2h0m-4 4h0m7 1h0m-3 1h0m-1 1h0m7 0h0m-1 1h0m-3 1h0m-2 1h0m1 0h0m4 0h0m-3 3h0m2 0h0m-2 1h0m1 2h0m2 1h0m-9 2h0m4 0h0m3 0h0m-5 2h0m1 0h0m1 0h0m0 1h0m1 0h0m-6 2h0m7 2h0m-2 2h0m6 0h0m-5 1h0m-5 2h0m5 1h0m1 0h0m-3 1h0m-1 2h0m5 0h0m1 1h0m-8 1h0m4 0h0m-1 2h0m3 16h0m15 1h0m-1-6h0m-1-6h0m1 0h0m1-7h0m-1-4h0m-5-2h0m3-1h0m-6-2h0m3 0h0m7 0h0m-2-1h0m-1-4h0m1-1h0m1-1h0m1 0h0m-10-2h0m3-1h0m-2-2h0m6-5h0m3-1h0m-5-1h0m-4-4h0m8-2h0m1 0h0m-8-5h0m8-1h0m-1-6h0m-3-2h0m2-20h0m2-9h0m7 0h0m5 7h0m0 14h0m-7 11h0m-2 4h0m3 2h0m2 5h0m0 1h0m-2 1h0m0 2h0m0 2h0m6 0h0m-6 1h0m1 0h0m-2 3h0m6 0h0m1 1h0m-7 1h0m-4 2h0m11 0h0m-7 1h0m4 0h0m-3 1h0m1 0h0m5 0h0m-1 1h0m-5 1h0m1 2h0m3 3h0m-5 3h0m3 1h0m-7 13h0m5 1h0m5 19h0m3 13h0m9-9h0m-7-18h0m7-11h0m-9-3h0m3 0h0m-4-1h0m1 0h0m2 0h0m-1-2h0m2-1h0m-2-2h0m3-1h0m-2-1h0m1 0h0m-2-1h0m1-1h0m3 0h0m-2-1h0m-3-1h0m1-1h0m2-2h0m1 0h0m1-1h0m-2-4h0m1-1h0m-5-1h0m4-1h0m-1-1h0m1-1h0m6-3h0m1-2h0m-9-2h0m-1-1h0m3 0h0m0-2h0m4 0h0m-8-3h0m0-9h0m2-3h0m2 0h0m-1-20h0m0-15h0m13 12h0m-1 28h0m8 1h0m-1 7h0m-9 1h0m10 1h0m-11 1h0m6 1h0m5 2h0m-5 3h0m5 4h0m-3 2h0m2 0h0m-3 3h0m-3 2h0m6 1h0m1 0h0m-8 3h0m8 0h0m-6 2h0m2 5h0m4 1h0m-7 1h0m2 0h0m5 1h0m0 5h0m-5 3h0m5 1h0m-6 4h0m-1 21h0m-3 11h0m22-30h0m-10-4h0m-1-13h0m1-1h0m5 0h0m-6-3h0m2 0h0m0-1h0m9-2h0m-9-2h0m9 0h0m-1-1h0m-8-6h0m4 0h0m-6-1h0m5-1h0m-5-1h0m1-1h0m1-1h0m-2-4h0m8 0h0m1-9h0m2-1h0m6-43h0m-5 42h0m7 10h0m0 4h0m1 7h0m0 5h0m-4 1h0m4 4h0m-2 3h0m1 0h0m1 2h0m-7 10h0m4 1h0m2 9h0m5-25h0m0-23h0m27 45h0m3-7h0m-1-2h0m-2-6h0m8 0h0m-8-1h0m1-1h0m-1-1h0m6-2h0m-8-3h0m1 0h0m9-4h0m-2-1h0m-2-1h0m-4-1h0m-3-1h0m3-1h0m0-2h0m-2-1h0m1 0h0m0-1h0m4 0h0m5 0h0m-10-1h0m8-3h0m-6-1h0m3-2h0m3-1h0m-7-2h0m8-6h0m1 0h0m-8-2h0m-2-4h0m6-3h0m-1-4h0m-4-2h0m2-20h0m10-1h0m1 0h0m0 6h0m-1 1h0m1 22h0m-3 1h0m7 2h0m-7 5h0m6 4h0m-4 2h0m1 2h0m4 2h0m0 1h0m-5 6h0m5 0h0m-7 1h0m0 3h0m4 0h0m-3 1h0m5 0h0m-1 1h0m3 0h0m-7 1h0m3 0h0m-1 2h0m4 1h0m-7 2h0m8 0h0m-7 1h0m0 1h0m3 1h0m4 0h0m-5 1h0m2 0h0m1 3h0m-4 1h0m0 8h0m2 2h0m-2 1h0m-2 15h0m0 2h0m3 4h0m29-92h0m0 6h0m-3 12h0m5 7h0m-4 6h0m5 2h0m-6 1h0m-2 2h0m2 0h0m2 0h0m2 1h0m-3 1h0m5 0h0m-9 1h0m8 1h0m-2 1h0m3 0h0m-8 1h0m2 0h0m3 1h0m0 1h0m-1 1h0m-1 1h0m3 0h0m1 1h0m-3 1h0m4 0h0m-10 1h0m1 1h0m8 2h0m-3 2h0m1 0h0m3 0h0m-5 1h0m3 0h0m-6 1h0m6 0h0m-3 1h0m5 0h0m-2 5h0m2 0h0m-1 2h0m-4 7h0m5 1h0m-6 4h0m-2 4h0m6 11h0m2 3h0m-1 2h0m-4 4h0m5 2h0m-10 7h0m17-24h0m-4-11h0m5-4h0m-5-2h0m1-5h0m1-2h0m2-1h0m4-1h0m0-2h0m-1-2h0m1 0h0m-10-1h0m6-1h0m-5-3h0m9-2h0m-2-2h0m-6-2h0m6 0h0m2-2h0m-9-1h0m1 0h0m-1-1h0m3-1h0m2 0h0m3 0h0m-7-1h0m8 0h0m-9-1h0m2-1h0m7-2h0m-10-2h0m3 0h0m6 0h0m2-1h0m-4-1h0m-7-4h0m1-4h0m0-6h0m-1-10h0m5 0h0m3-8h0m-6-2h0m11-11h0m6 2h0m-5 23h0m6 3h0m-8 6h0m1 2h0m-1 2h0m0 1h0m4 0h0m-4 2h0m3 2h0m-1 7h0m3 0h0m-5 3h0m7 0h0m-5 1h0m8 9h0m-8 1h0m4 0h0m-3 3h0m-1 1h0m4 1h0m1 1h0m2 1h0m2 3h0m-10 2h0m5 1h0m-3 4h0m-1 4h0m0 1h0m4 2h0m1 0h0m-7 4h0m9 0h0m-8 15h0m-1 15h0m3 3h0m17-13h0m-7-14h0m0-15h0m6-1h0m-5-3h0m3-1h0m1 0h0m3 0h0m-7-2h0m0-1h0m1-1h0m0-1h0m6 0h0m-9-3h0m4 0h0m1 0h0m-2-1h0m-1-4h0m9 0h0m-2-2h0m-7-1h0m8 0h0m-8-3h0m2 0h0m7-1h0m0-1h0m-4-1h0m1 0h0m-5-2h0m3 0h0m-3-1h0m2-1h0m4 0h0m-7-1h0m3 0h0m2 0h0m-4-2h0m4 0h0m-6-2h0m2-1h0m3 0h0m-4-1h0m2-2h0m5-4h0m-6-2h0m32 47h0m-1-22h0m0-17h0m1 0h0m-1-11h0m1-35h0m10-2h0m0 16h0m-4 14h0m-1 9h0m3 3h0m-3 4h0m-2 3h0m6 1h0m-5 2h0m1 0h0m7 2h0m-4 1h0m-2 3h0m4 1h0m2 1h0m-3 1h0m-7 1h0m10 4h0m-1 4h0m-3 2h0m3 2h0m-6 3h0m6 1h0m-7 3h0m1 0h0m3 4h0m2 0h0m-9 5h0m10 1h0m-8 9h0m3 0h0m5 7h0m9 11h0m0-10h0m-4-9h0m5-1h0m-8-3h0m1-4h0m5-3h0m-5-2h0m5-3h0m-4-2h0m7-1h0m-5-3h0m0-2h0m1 0h0m-5-3h0m8-1h0m-8-1h0m1 0h0m9-1h0m-8-2h0m4 0h0m-5-1h0m1-4h0m-2-1h0m1 0h0m4-1h0m2 0h0m-3-2h0m-1-1h0m1 0h0m2 0h0m0-3h0m4 0h0m-9-6h0m3-2h0m1 0h0m3-8h0m-3-6h0m5 0h0m-7-2h0m7-2h0m-9-1h0m3 0h0m-2-18h0m16-1h0m2 0h0m-3 11h0m-5 2h0m3 0h0m5 2h0m-3 1h0m1 15h0m4 1h0m-9 1h0m3 3h0m3 0h0m-5 1h0m3 3h0m-2 1h0m4 2h0m-7 2h0m9 0h0m-3 7h0m-6 1h0m2 1h0m3 2h0m0 2h0m1 3h0m-1 4h0m1 1h0m-5 2h0m5 1h0m4 0h0m-3 1h0m-1 3h0m-5 1h0m6 0h0m3 0h0m-10 7h0m3 7h0m5 17h0m6 14h0m4-9h0m5-4h0m0-1h0m0-10h0m-4-4h0m0-4h0m3-1h0m1 0h0m-7-1h0m5-3h0m-2-3h0m3-1h0m-1-1h0m-5-1h0m-2-1h0m0-1h0m9-1h0m-6-1h0m2-2h0m-6-1h0m4-1h0m-1-1h0m0-1h0m7-2h0m-11-2h0m3-1h0m-2-4h0m1 0h0m9 0h0m-11-1h0m4 0h0m6-2h0m-3-1h0m4-1h0m-5-1h0m-4-1h0m7 0h0m-8-1h0m4 0h0m1 0h0m-3-1h0m5 0h0m-1-2h0m-4-1h0m-2-1h0m4-3h0m-2-2h0m8-2h0m-3-2h0m-2-12h0m1-10h0m-6-15h0m8-1h0m12 6h0m-7 2h0m1 14h0m-3 2h0m8 6h0m3 0h0m-10 5h0m9 1h0m-8 2h0m1 0h0m-2 5h0m2 1h0m1 0h0m-4 1h0m3 0h0m2 0h0m-4 1h0m5 0h0m5 0h0m-9 1h0m3 0h0m4 0h0m-8 1h0m-1 2h0m6 0h0m-1 1h0m2 0h0m-2 1h0m6 2h0m-10 2h0m8 1h0m1 0h0m-9 1h0m8 0h0m2 0h0m-10 1h0m7 0h0m-8 2h0m11 0h0m-10 1h0m1 0h0m1 1h0m-3 1h0m3 0h0m1 1h0m5 0h0m-1 1h0m3 0h0m-7 2h0m6 0h0m-2 1h0m-7 2h0m9 0h0m-9 1h0m3 0h0m-2 1h0m6 4h0m2 1h0m-10 3h0m6 0h0m-6 3h0m0 1h0m6 3h0m2 2h0m-5 2h0m7 1h0m-5 5h0m0 11h0m-1 2h0m-1 4h0m-2 9h0m22-3h0m-8-2h0m4-8h0m0-3h0m-1-1h0m1-6h0m-4-6h0m5-12h0m-2-2h0m2 0h0m0-2h0m0-1h0m-5-2h0m-2-2h0m7 0h0m2 0h0m-1-1h0m-2-1h0m-5-1h0m4 0h0m0-2h0m1-1h0m2 0h0m1-1h0m-9-1h0m3 0h0m-3-2h0m6-2h0m-1-1h0m3 0h0m2 0h0m-4-1h0m-1-1h0m2-2h0m-2-1h0m3 0h0m-8-2h0m8 0h0m-3-1h0m2 0h0m2 0h0m-2-5h0m1-2h0m-9-4h0m3-2h0m6 0h0m-9-1h0m1-1h0m9-2h0m-10-2h0m0-2h0m11-1h0m-6-2h0m-2-5h0m0-3h0m6-3h0m2-18h0m9-8h0m-5 3h0m7 9h0m-4 7h0m5 6h0m-10 4h0m-1 4h0m6 6h0m3 5h0m-1 1h0m3 5h0m-3 1h0m-6 4h0m9 0h0m-6 1h0m1 2h0m1 0h0m-2 3h0m-4 2h0m10 1h0m-7 1h0m3 1h0m4 0h0m-11 1h0m6 1h0m-6 2h0m4 2h0m4 4h0m-1 1h0m2 1h0m-9 7h0m11 0h0m-1 8h0m1 1h0m-3 4h0m-7 6h0m33-49h0m1 5h0m0 17h0m-1 7h0m1 24h0m-1 25h0m6-2h0m2-7h0m-5-6h0m1-5h0m4-1h0m-5-14h0m4-1h0m-1-3h0m3 0h0m2 0h0m-3-7h0m2-1h0m-6-1h0m-1-1h0m9 0h0m1 0h0m-8-2h0m4-1h0m1 0h0m-8-1h0m9 0h0m1-2h0m-9-1h0m4 0h0m0-1h0m3 0h0m-3-1h0m1 0h0m4 0h0m-10-1h0m1 0h0m2 0h0m4-3h0m1-4h0m3-2h0m-7-1h0m2 0h0m1-1h0m1 0h0m-5-1h0m5 0h0m0-1h0m-7-2h0m2 0h0m0-1h0m-3-1h0m7 0h0m-5-1h0m2 0h0m2 0h0m2 0h0m-1-1h0m0-1h0m0-2h0m1 0h0m3 0h0m-8-1h0m3 0h0m-4-3h0m3 0h0m5-4h0m-1-6h0m-3-2h0m3-3h0m-4-1h0m-3-9h0m4-5h0m9-19h0m-3 8h0m3 7h0m-1 13h0m-1 9h0m5 3h0m-3 3h0m2 0h0m-3 4h0m3 0h0m-1 2h0m0 1h0m-1 4h0m1 0h0m1 0h0m-4 5h0m1 1h0m5 0h0m-2 5h0m-2 1h0m0 1h0m5 1h0m-6 1h0m5 0h0m3 1h0m-7 1h0m3 2h0m-3 3h0m-1 2h0m3 0h0m-5 2h0m8 0h0m-6 1h0m1 0h0m0 1h0m-2 1h0m10 0h0m-5 1h0m5 0h0m-10 2h0m2 0h0m0 1h0m-2 2h0m2 2h0m3 0h0m2 27h0m-2 1h0m1 18h0m16-3h0m0-1h0m-11-3h0m5-1h0m1-1h0m-1-4h0m0-2h0m-4-10h0m2 0h0m-1-9h0m5-1h0m2-2h0m-5-1h0m-3-2h0m3-1h0m-2-1h0m-2-2h0m5-7h0m-1-1h0m-4-1h0m6-1h0m-5-2h0m6 0h0m-5-1h0m9-2h0m-11-1h0m9-2h0m-8-2h0m0-3h0m2 0h0m-2-1h0m6 0h0m3 0h0m1 0h0m-8-2h0m-2-1h0m10 0h0m-8-1h0m1 0h0m-2-2h0m1 0h0m1-3h0m-1-1h0m7 0h0m-8-2h0m5-9h0m4 0h0m0-2h0m-5-2h0m5 0h0m-5-1h0m-4-1h0m9-3h0m-11-1h0m2 0h0m6-5h0m-1-4h0m-3-11h0m18-14h0m0 6h0m-1 10h0m-2 1h0m4 4h0m-2 8h0m0 1h0m1 6h0m-4 2h0m4 2h0m0 4h0m1 1h0m-1 1h0m1 2h0m-1 1h0m-6 5h0m6 1h0m1 2h0m-11 1h0m8 2h0m-4 3h0m6 1h0m1 0h0m0 1h0m-11 1h0m2 0h0m2 0h0m-2 1h0m3 3h0m4 0h0m-8 1h0m5 0h0m1 0h0m1 1h0m-4 1h0m-1 1h0m7 0h0m-10 1h0m5 0h0m4 1h0m-3 1h0m4 2h0m-8 1h0m2 1h0m7 1h0m-7 1h0m0 1h0m6 1h0m1 0h0m-10 1h0m9 1h0m-6 4h0m6 0h0m-5 8h0m-3 2h0m8 10h0m-7 4h0m10-6h0m9-4h0m-7-5h0m7-2h0m-10-3h0m11-8h0m-8-3h0m6 0h0m-6-1h0m1 0h0m3 0h0m-3-2h0m-3-1h0m0-1h0m3 0h0m2-1h0m2 0h0m2 0h0m-10-3h0m8-1h0m3-1h0m-9-1h0m1 0h0m2 0h0m-3-1h0m-2-1h0m4 0h0m4 0h0m-8-1h0m5 0h0m-1-3h0m-3-2h0m5-3h0m3 0h0m-7-2h0m3-2h0m4 0h0m-4-1h0m5-3h0m-3-2h0m-3-1h0m1-3h0m-3-2h0m7-13h0m1-2h0m0-8h0m-3-1h0m-4-10h0m1-8h0m0-4h0m9 4h0m-1 13h0m4 5h0m-2 1h0m1 0h0m-3 2h0m3 0h0m-1 3h0m6 9h0m-5 2h0m5 6h0m-5 3h0m0 3h0m5 1h0m2 0h0m-4 3h0m2 0h0m3 0h0m-5 2h0m-2 2h0m-3 1h0m5 0h0m1 0h0m-7 2h0m4 2h0m2 1h0m4 1h0m-10 1h0m4 0h0m1 0h0m5 1h0m-6 2h0m2 0h0m-2 1h0m6 1h0m-10 2h0m3 0h0m1 0h0m1 0h0m-5 1h0m5 1h0m1 0h0m1 0h0m3 0h0m-10 3h0m3 0h0m1 0h0m1 0h0m-1 2h0m2 0h0m-6 2h0m2 0h0m0 2h0m2 0h0m-1 1h0m-2 11h0m1 2h0m4 0h0m2 1h0m-3 7h0m-3 4h0m17 17h0m2-24h0m-5-6h0m3-5h0m3-5h0m-10-2h0m1-5h0m5 0h0m0-1h0m2-3h0m-8-1h0m2 0h0m0-3h0m4-7h0m-3-1h0m7-1h0m-8-2h0m-1-1h0m-1-1h0m8-2h0m-6-1h0m7-4h0m0-2h0m-6-4h0m4-2h0m-7-10h0m9-2h0m2-4h0m-2-28h0m-8-3h0m33 128h0m1-14h0m0-9h0m-1-17h0m1-12h0m-2-3h0m0-4h0m1-6h0m1-3h0m-1-11h0m4-46h0m3 1h0m-2 23h0m3 7h0m0 9h0m-2 6h0m7 4h0m-3 1h0m-3 1h0m6 0h0m0 1h0m-5 3h0m5 0h0m-11 1h0m10 1h0m-8 1h0m2 0h0m-4 2h0m5 0h0m3 1h0m1 0h0m-8 1h0m0 1h0m10 0h0m-9 1h0m6 0h0m-1 1h0m1 3h0m-8 1h0m5 0h0m6 2h0m-10 3h0m3 0h0m-4 2h0m7 1h0m4 0h0m-4 1h0m-1 3h0m-4 1h0m7 0h0m-8 3h0m7 0h0m-8 1h0m5 7h0m5 6h0m-1 4h0m-7 3h0m6 19h0m13-18h0m-4-7h0m4-2h0m-9-6h0m10-5h0m-3-3h0m-1-2h0m1 0h0m0-1h0m-5-5h0m4-3h0m3 0h0m-2-1h0m-1-1h0m2 0h0m-3-1h0m2-1h0m1-3h0m2-1h0m-9-1h0m5-3h0m-3-1h0m8-2h0m-7-2h0m-4-2h0m5 0h0m5-1h0m-9-1h0m5-2h0m-6-1h0m0-2h0m7 0h0m1 0h0m-6-4h0m1-2h0m3-4h0m4-8h0m-4-4h0m1-21h0m13-8h0m3 9h0m-11 26h0m7 9h0m2 3h0m2 0h0m0 3h0m-11 3h0m9 2h0m1 1h0m-3 3h0m1 1h0m-1 1h0m4 0h0m-8 1h0m4 0h0m-7 1h0m8 0h0m1 0h0m2 1h0m-3 2h0m-4 1h0m7 1h0m-4 1h0m1 1h0m-1 2h0m0 1h0m-2 1h0m2 0h0m2 0h0m1 0h0m-4 1h0m0 1h0m2 1h0m-1 1h0m4 5h0m-7 2h0m5 0h0m-3 2h0m5 0h0m0 1h0m-10 1h0m0 2h0m8 0h0m-2 5h0m-1 3h0m4 1h0m1 2h0m-9 1h0m18 16h0m2 0h0m-1-21h0m-3-1h0m-5-1h0m0-2h0m0-7h0m1-3h0m8 0h0m-3-3h0m2-1h0m1 0h0m-9-1h0m9 0h0m1-1h0m-7-5h0m4 0h0m3-2h0m-5-2h0m5 0h0m0-1h0m-5-1h0m-6-1h0m10-1h0m-10-1h0m6-2h0m2 0h0m2 0h0m-10-2h0m6 0h0m1-1h0m-7-1h0m5-1h0m5 0h0m-3-1h0m2 0h0m-6-1h0m6 0h0m-9-1h0m9 0h0m-3-1h0m-4-1h0m3 0h0m2-2h0m-7-3h0m5-1h0m5-2h0m-1-3h0m-4-2h0m3-1h0m3 0h0m-9-1h0m-2-2h0m10-1h0m-5-7h0m-5-14h0m16-1h0m1 14h0m-1 1h0m4 0h0m-1 17h0m-1 3h0m1 4h0m2 0h0m-5 1h0m-4 2h0m11 3h0m-6 1h0m-5 1h0m5 0h0m-2 3h0m2 0h0m1 0h0m0 1h0m-4 1h0m2 0h0m-1 1h0m3 1h0m-6 1h0m4 0h0m4 0h0m0 3h0m-4 1h0m1 0h0m2 1h0m0 1h0m-5 1h0m4 0h0m0 1h0m1 2h0m3 3h0m-4 1h0m1 0h0m-4 2h0m3 2h0m-2 2h0m3 10h0m-1 4h0m0 16h0m-6 1h0m11 4h0m-9 8h0m20-1h0m1-9h0m-3-7h0m-1-8h0m-2-2h0m2 0h0m4 0h0m-10-1h0m5-3h0m1-1h0m1-2h0m-8-1h0m10-2h0m1-1h0m-3-2h0m3 0h0m-4-5h0m3-1h0m-2-3h0m2 0h0m-2-1h0m1 0h0m-3-1h0m1 0h0m4 0h0m-1-1h0m-6-2h0m4 0h0m-6-1h0m6 0h0m1 0h0m0-2h0m-2-1h0m4 0h0m-2-1h0m2 0h0m-5-1h0m3 0h0m-2-1h0m1 0h0m-7-1h0m6 0h0m1 0h0m-2-1h0m1 0h0m2-1h0m1 0h0m1 0h0m-3-1h0m-7-1h0m1 0h0m5 0h0m4-1h0m-6-1h0m2-1h0m0-1h0m3 0h0m0-1h0m0-1h0m1 0h0m-3-1h0m2-1h0m-8-1h0m3 0h0m6-1h0m-5-2h0m2-3h0m2 0h0m-2-3h0m-7-1h0m8 0h0m1-1h0m1-6h0m-5-2h0m2-3h0m-1-8h0m-1-3h0m2-2h0m2-6h0m-5-3h0m3 0h0m2-6h0m8 18h0m0 1h0m-6 5h0m0 3h0m7 3h0m0 1h0m1 0h0m-2 5h0m3 5h0m-6 2h0m-1 1h0m-2 1h0m6 0h0m-3 2h0m-1 1h0m7 0h0m-5 2h0m2 0h0m3 3h0m1 0h0m-9 1h0m7 0h0m1 1h0m-2 1h0m-5 2h0m7 0h0m-8 1h0m1 0h0m-2 1h0m8 0h0m0 3h0m-7 1h0m6 0h0m-6 1h0m0 1h0m6 0h0m1 0h0m-6 1h0m-2 1h0m2 0h0m0 1h0m2 1h0m2 0h0m3 0h0m-7 1h0m8 0h0m-9 2h0m2 1h0m0 1h0m-3 1h0m2 0h0m0 1h0m8 1h0m-9 1h0m6 1h0m-7 1h0m7 1h0m1 1h0m-3 4h0m1 1h0m1 2h0m-7 1h0m2 1h0m-1 9h0m4 0h0m-1 4h0m4 9h0m-7 9h0m3 7h0"/>
<path transform="scale(.5)" fill="none" stroke="#D9423A" stroke-width="5.6" stroke-linecap="round" d="M1913 270h0m4 0h0m12-164h0m-6 164h0m2 0h0m2 0h0m3 0h0m2 0h0m3 0h0m2 0h0m2 0h0m0-9h0m-1-155h0m24 164h0m1 0h0m-5-164h0m1 0h0m2 0h0m3 0h0m2 0h0m1 0h0m5 0h0m0 8h0m6 0h0m-9 156h0m6 0h0m4 0h0m4 0h0m2 0h0m2-6h0m35-158h0m3 0h0m1 0h0m1 0h0m-2 164h0m9 0h0m-6-158h0m0-6h0m7 0h0m11 0h0m6 164h0m4 0h0m7 0h0m-6-3h0m-3-150h0m-1-8h0m0-3h0m10 0h0m4 3h0m0 1h0m-1 7h0m8 153h0m10 0h0m1 0h0m2 0h0m-6-164h0m5 0h0m2 0h0m1 0h0m7 0h0m1 155h0m-1 1h0m-3 2h0m3 6h0m35 0h0m2-164h0m8 0h0m2 0h0m4 0h0m-3 153h0m6 11h0m7-164h0m3 0h0m11 0h0m-8 164h0m13 0h0m1 0h0m2-164h0m11 0h0m1 0h0m-7 164h0m15 0h0m5 0h0m0-9h0m2-152h0m2-3h0m0 164h0m35 0h0m10 0h0m-4-11h0m13-153h0m2 0h0m10 10h0m11-10h0m4 0h0m-5 5h0m1 159h0m17-164h0m13 153h0m1 11h0m33 0h0m0-164h0m6 156h0m2 2h0m-5 6h0m1 0h0m16 0h0m5 0h0m10-5h0m-1 5h0m9-6h0m3-156h0m-7-2h0m18 156h0m13 8h0m2-161h0m1-3h0m2 7h0m26 157h0m21-6h0m-10-158h0m5 0h0m2 0h0m15 0h0m-8 157h0m-1 3h0m11 4h0m4 0h0m5-162h0m5-2h0m8 0h0m2 164h0m2 0h0m3 0h0m1 0h0m18 0h0m31 0h0m-7-164h0m33 164h0m-10-164h0m2 0h0m9 0h0m2 0h0m9 10h0m1 0h0m-11 154h0m5 0h0m5 0h0m2 0h0m4 0h0m7 0h0m-2-164h0m4 155h0m5 9h0m6 0h0m4 0h0m5 0h0m1 0h0m1-155h0m-8-9h0m2 0h0m6 0h0m1 0h0m25 0h0m1 0h0m2 0h0m4 0h0m-1 164h0m28-164h0m0 164h0m3 0h0m2 0h0m2-7h0m-3-157h0m18 0h0m1 164h0m5-164h0m48 164h0m3-164h0m7 164h0m1 0h0m33-164h0m-4 155h0m4 9h0m1-8h0m2-156h0m5 0h0m12 0h0m2 0h0m-8 164h0m15-161h0m3-3h0m27 164h0m1 0h0m16-164h0m17 8h0m2 1h0m-5 155h0m1 0h0m10-164h0m1 0h0m12 0h0m-3 8h0m19 156h0m-4-164h0m6 0h0m1 0h0m9 164h0m33-11h0m-4-153h0m9 0h0m2 0h0m4 0h0m-1 164h0m9 0h0m0-158h0m8-1h0m-5-3h0m-4-2h0m11 0h0m7 0h0m4 3h0m5 161h0m3-164h0m14 6h0m3 158h0m8 0h0m-6-164h0m33 164h0m0-164h0m5 0h0m7 0h0m-9 11h0m-1 148h0m1 5h0m16 0h0m7-164h0m5 0h0m2 153h0m3 8h0m-3 3h0m5-8h0m1-148h0m9-8h0m1 0h0m9 153h0m-4 5h0m16 6h0m-5-164h0m10 0h0m-1 10h0m0 154h0m1 0h0m1 0h0m2 0h0m5 0h0"/>
<line x1="954.00" y1="182.00" x2="954.00" y2="272.50" stroke="#000" stroke-width="2.0"/>
<line x1="949.50" y1="186.00" x2="954.00" y2="186.00" stroke="#000" stroke-width="1.8"/>
<text x="947.80" y="190.10" font-size="16.5" font-weight="bold" text-anchor="end" fill="#000">1.00</text>
<line x1="949.50" y1="206.75" x2="954.00" y2="206.75" stroke="#000" stroke-width="1.8"/>
<text x="947.80" y="210.85" font-size="16.5" font-weight="bold" text-anchor="end" fill="#000">0.75</text>
<line x1="949.50" y1="227.50" x2="954.00" y2="227.50" stroke="#000" stroke-width="1.8"/>
<text x="947.80" y="231.60" font-size="16.5" font-weight="bold" text-anchor="end" fill="#000">0.50</text>
<line x1="949.50" y1="248.25" x2="954.00" y2="248.25" stroke="#000" stroke-width="1.8"/>
<text x="947.80" y="252.35" font-size="16.5" font-weight="bold" text-anchor="end" fill="#000">0.25</text>
<line x1="949.50" y1="269.00" x2="954.00" y2="269.00" stroke="#000" stroke-width="1.8"/>
<text x="947.80" y="273.10" font-size="16.5" font-weight="bold" text-anchor="end" fill="#000">0.00</text>
<line x1="954.00" y1="272.50" x2="999.00" y2="272.50" stroke="#000" stroke-width="2.0"/>
<text x="976.50" y="290.00" font-size="15" font-weight="bold" text-anchor="middle" fill="#000">chr13</text>
<line x1="1007.77" y1="272.50" x2="1052.77" y2="272.50" stroke="#000" stroke-width="2.0"/>
<text x="1030.27" y="290.00" font-size="15" font-weight="bold" text-anchor="middle" fill="#000">chr14</text>
<line x1="1061.54" y1="272.50" x2="1106.54" y2="272.50" stroke="#000" stroke-width="2.0"/>
<text x="1084.04" y="290.00" font-size="15" font-weight="bold" text-anchor="middle" fill="#000">chr15</text>
<line x1="1115.31" y1="272.50" x2="1160.31" y2="272.50" stroke="#000" stroke-width="2.0"/>
<text x="1137.81" y="290.00" font-size="15" font-weight="bold" text-anchor="middle" fill="#000">chr16</text>
<line x1="1169.08" y1="272.50" x2="1214.08" y2="272.50" stroke="#000" stroke-width="2.0"/>
<text x="1191.58" y="290.00" font-size="15" font-weight="bold" text-anchor="middle" fill="#000">chr17</text>
<line x1="1222.85" y1="272.50" x2="1267.85" y2="272.50" stroke="#000" stroke-width="2.0"/>
<text x="1245.35" y="290.00" font-size="15" font-weight="bold" text-anchor="middle" fill="#000">chr18</text>
<line x1="1276.62" y1="272.50" x2="1321.62" y2="272.50" stroke="#000" stroke-width="2.0"/>
<text x="1299.12" y="290.00" font-size="15" font-weight="bold" text-anchor="middle" fill="#000">chr19</text>
<line x1="1330.39" y1="272.50" x2="1375.39" y2="272.50" stroke="#000" stroke-width="2.0"/>
<text x="1352.89" y="290.00" font-size="15" font-weight="bold" text-anchor="middle" fill="#000">chr20</text>
<line x1="1384.16" y1="272.50" x2="1429.16" y2="272.50" stroke="#000" stroke-width="2.0"/>
<text x="1406.66" y="290.00" font-size="15" font-weight="bold" text-anchor="middle" fill="#000">chr21</text>
<line x1="1437.93" y1="272.50" x2="1482.93" y2="272.50" stroke="#000" stroke-width="2.0"/>
<text x="1460.43" y="290.00" font-size="15" font-weight="bold" text-anchor="middle" fill="#000">chr22</text>
<line x1="1491.70" y1="272.50" x2="1536.70" y2="272.50" stroke="#000" stroke-width="2.0"/>
<text x="1514.20" y="290.00" font-size="15" font-weight="bold" text-anchor="middle" fill="#000">chrY</text>
<path fill="#68BDC2" d="M1009.3 223.1h3.7v9.2h-3.7zM1012.8 223.0h3.7v9.3h-3.7zM1016.3 224.7h3.7v7.2h-3.7zM1019.8 223.2h3.7v10.6h-3.7zM1023.3 224.1h3.7v8.4h-3.7zM1026.8 225.2h3.7v7.5h-3.7zM1030.3 221.5h3.7v10.8h-3.7zM1033.8 220.3h3.7v10.8h-3.7zM1037.3 223.7h3.7v8.0h-3.7zM1040.8 225.4h3.7v7.3h-3.7zM1044.3 224.8h3.7v7.2h-3.7zM1047.8 221.1h3.7v9.4h-3.7zM1063.0 225.6h3.7v7.2h-3.7zM1066.5 221.7h3.7v13.7h-3.7zM1070.0 219.2h3.7v13.1h-3.7zM1073.5 222.9h3.7v10.8h-3.7zM1077.0 221.8h3.7v8.0h-3.7zM1080.5 220.6h3.7v11.3h-3.7zM1084.0 224.2h3.7v9.9h-3.7zM1087.5 220.2h3.7v12.5h-3.7zM1091.0 220.3h3.7v12.1h-3.7zM1094.5 220.3h3.7v12.1h-3.7zM1098.0 223.6h3.7v11.4h-3.7zM1101.5 220.9h3.7v13.5h-3.7zM1116.8 220.3h3.7v14.0h-3.7zM1120.3 222.3h3.7v12.9h-3.7zM1123.8 218.1h3.7v16.7h-3.7zM1127.3 222.1h3.7v14.7h-3.7zM1141.3 218.3h3.7v16.5h-3.7zM1144.8 223.7h3.7v11.7h-3.7zM1148.3 223.8h3.7v10.6h-3.7zM1151.8 222.9h3.7v10.4h-3.7zM1155.3 219.2h3.7v17.6h-3.7zM1170.6 221.4h3.7v10.0h-3.7zM1174.1 218.9h3.7v15.2h-3.7zM1177.6 219.0h3.7v14.8h-3.7zM1181.1 217.5h3.7v17.5h-3.7zM1184.6 221.1h3.7v15.3h-3.7zM1188.1 218.5h3.7v16.9h-3.7zM1191.6 220.9h3.7v16.8h-3.7zM1195.1 218.5h3.7v15.4h-3.7zM1198.6 223.7h3.7v11.6h-3.7zM1202.1 220.9h3.7v12.8h-3.7zM1205.6 222.3h3.7v10.8h-3.7zM1209.1 219.5h3.7v16.2h-3.7zM1278.1 220.3h3.7v18.4h-3.7zM1281.6 218.2h3.7v17.5h-3.7zM1285.1 219.2h3.7v17.8h-3.7zM1288.6 221.5h3.7v12.3h-3.7zM1292.1 217.0h3.7v22.9h-3.7zM1302.6 216.4h3.7v19.7h-3.7zM1306.1 216.8h3.7v23.4h-3.7zM1309.6 217.0h3.7v19.6h-3.7zM1313.1 216.2h3.7v21.6h-3.7zM1316.6 218.7h3.7v21.1h-3.7zM1331.9 226.1h3.7v6.6h-3.7zM1335.4 224.4h3.7v9.9h-3.7zM1338.9 219.9h3.7v12.6h-3.7zM1342.4 220.3h3.7v11.9h-3.7zM1345.9 222.4h3.7v8.9h-3.7zM1349.4 223.2h3.7v7.4h-3.7zM1352.9 221.8h3.7v10.6h-3.7zM1356.4 223.3h3.7v10.8h-3.7zM1359.9 220.8h3.7v10.2h-3.7zM1363.4 222.3h3.7v7.4h-3.7zM1366.9 222.7h3.7v10.5h-3.7zM1370.4 224.6h3.7v6.5h-3.7zM1439.4 222.0h3.7v10.8h-3.7zM1442.9 223.6h3.7v7.7h-3.7zM1446.4 222.6h3.7v8.6h-3.7zM1449.9 222.3h3.7v9.5h-3.7zM1453.4 220.0h3.7v12.2h-3.7zM1456.9 222.7h3.7v12.6h-3.7zM1460.4 221.3h3.7v14.1h-3.7zM1463.9 222.7h3.7v8.5h-3.7zM1467.4 223.7h3.7v7.8h-3.7zM1470.9 221.4h3.7v9.2h-3.7zM1474.4 220.6h3.7v13.4h-3.7zM1477.9 222.2h3.7v7.6h-3.7z"/>
<path transform="scale(.5)" fill="none" stroke="#5FB7BD" stroke-width="5.8" stroke-linecap="round" d="M1915 500h0m2-16h0m-3-12h0m2-9h0m-1-2h0m0-6h0m1-3h0m-3-6h0m1-3h0m14-38h0m-4 10h0m3 9h0m2 22h0m-4 5h0m2 1h0m1 0h0m-4 3h0m4 0h0m0 3h0m2 0h0m-7 1h0m3 1h0m2 0h0m-4 1h0m5 4h0m1 5h0m-3 27h0m3 6h0m4 18h0m5-33h0m-5-15h0m3-4h0m-3-2h0m2-1h0m-1-4h0m0-1h0m6 0h0m-6-1h0m-1-1h0m2-5h0m-1-4h0m1 0h0m2-1h0m-5-2h0m1-2h0m2-2h0m0-2h0m2 0h0m-5-4h0m7-4h0m3-36h0m2 35h0m2 19h0m-1 11h0m1 57h0m13-43h0m6-2h0m-6-2h0m3-5h0m-3-4h0m0-5h0m1 0h0m0-2h0m0-6h0m0-2h0m2-1h0m0-2h0m16-15h0m-2 4h0m2 9h0m-3 1h0m-6 1h0m9 3h0m-2 1h0m2 3h0m-2 1h0m-4 1h0m1 0h0m3 0h0m-3 1h0m3 0h0m2 1h0m-2 1h0m-4 1h0m2 0h0m-5 1h0m4 0h0m1 1h0m4 3h0m-1 2h0m-1 1h0m-4 2h0m5 1h0m-6 10h0m6 4h0m-7 24h0m3 9h0m-1 6h0m14-48h0m-1-14h0m-6-1h0m5-5h0m5-6h0m-1-1h0m-4-1h0m-4-1h0m11 3h0m3 5h0m-3 11h0m27-73h0m3 24h0m4 7h0m-2 16h0m0 1h0m1 0h0m-4 2h0m4 2h0m-4 6h0m-2 3h0m2 1h0m4 0h0m-7 1h0m3 0h0m2 1h0m1 0h0m2 0h0m1 0h0m0 2h0m-8 2h0m3 0h0m-4 2h0m5 0h0m4 0h0m-3 2h0m-6 1h0m5 0h0m-3 1h0m4 1h0m2 0h0m-6 2h0m3 2h0m-1 6h0m-1 5h0m6 3h0m-8 3h0m8 3h0m-8 11h0m18 4h0m-4-13h0m3-8h0m-8-12h0m5 0h0m6-12h0m-5-1h0m3 0h0m2 0h0m-6-1h0m6 0h0m-1-3h0m-10-1h0m6 0h0m0-1h0m-5-5h0m10-1h0m-11-2h0m5-1h0m6-2h0m-7-5h0m7-2h0m-10-2h0m10 0h0m0-1h0m-10-3h0m5-8h0m1-7h0m6-20h0m0 16h0m7 18h0m-1 8h0m4 3h0m-3 2h0m-2 4h0m5 2h0m-9 1h0m2 1h0m5 0h0m-1 1h0m-1 4h0m4 2h0m0 1h0m-6 2h0m2 0h0m-4 3h0m4 2h0m2 0h0m-1 2h0m-2 1h0m4 2h0m-9 5h0m-1 1h0m9 0h0m-2 4h0m2 8h0m-2 1h0m0 9h0m2 17h0m-1 2h0m10-11h0m-4-8h0m5-6h0m4 0h0m-2-4h0m-5-2h0m4-8h0m1-2h0m-2-1h0m1-5h0m-5-1h0m-2-1h0m3 0h0m4-1h0m2 0h0m-3-1h0m-1-1h0m1-1h0m-3-2h0m3-1h0m0-1h0m4-6h0m-5-1h0m-5-3h0m5-1h0m-2-1h0m2-1h0m4-1h0m0-1h0m0-1h0m-9-1h0m4 0h0m4 0h0m-4-5h0m-5-1h0m6 0h0m1-1h0m-1-4h0m0-3h0m0-1h0m3-1h0m1-12h0m0-10h0m-6-1h0m7-2h0m10 40h0m-3 1h0m0 1h0m0 3h0m0 1h0m2 2h0m-7 1h0m4 2h0m5 4h0m-5 1h0m1 0h0m-1 4h0m4 4h0m-3 1h0m2 1h0m-3 1h0m0 5h0m-1 1h0m6 1h0m-4 11h0m0 19h0m4 4h0m-5 3h0m1 4h0m14 6h0m-2-34h0m-1-9h0m0-1h0m3-3h0m-6-5h0m4 0h0m4 0h0m1 0h0m-5-4h0m0-1h0m4-3h0m0-1h0m-8-1h0m9 0h0m-7-3h0m4 0h0m-6-2h0m3 0h0m-3-5h0m2-3h0m1-10h0m5-1h0m-8-2h0m4-3h0m2-10h0m-8-1h0m7-32h0m6 20h0m3 4h0m7 1h0m-1 3h0m-1 20h0m-3 9h0m3 0h0m-5 1h0m1 1h0m2 0h0m3 3h0m-5 3h0m-1 2h0m-2 3h0m3 0h0m5 2h0m1 0h0m-5 4h0m-1 1h0m-2 4h0m7 1h0m1 0h0m-10 6h0m14 45h0m-2-49h0m-1-2h0m2-5h0m1-5h0m-1-3h0m1 0h0m-2-1h0m-1-3h0m0-5h0m2-5h0m-2-6h0m2 0h0m-1-9h0m-1-2h0m2-2h0m-1-27h0m27 124h0m1-18h0m-1-4h0m7-11h0m-8-7h0m1-6h0m1-3h0m-2-1h0m7 0h0m-5-4h0m-2-1h0m0-5h0m2-4h0m6 0h0m0-1h0m-8-3h0m5 0h0m1 0h0m-1-1h0m3 0h0m-1-2h0m-6-5h0m3-2h0m-1-2h0m-4-6h0m8 0h0m-5-2h0m-3-13h0m0-4h0m5 0h0m2-24h0m3 0h0m3 16h0m7 4h0m-10 7h0m10 6h0m-2 4h0m-6 4h0m0 1h0m6 0h0m0 1h0m-5 1h0m6 5h0m-7 8h0m5 0h0m-3 1h0m-4 1h0m4 2h0m5 0h0m0 4h0m-2 1h0m3 1h0m-9 2h0m7 1h0m0 4h0m-2 1h0m3 0h0m-1 1h0m-1 1h0m4 0h0m-4 1h0m1 2h0m0 2h0m3 0h0m-1 1h0m-3 3h0m-6 3h0m7 5h0m1 21h0m1 0h0m-1 5h0m13-7h0m-2-8h0m1-3h0m-6-6h0m6 0h0m-9-4h0m4-7h0m3-6h0m4-2h0m-3-1h0m-4-4h0m6 0h0m-6-1h0m-3-5h0m1-2h0m9 0h0m-3-1h0m-6-2h0m4 0h0m1-1h0m-1-4h0m2-2h0m-8-2h0m6 0h0m-6-1h0m10 0h0m-3-3h0m2-1h0m-3-4h0m3-3h0m-4-1h0m3-1h0m-5-1h0m-2-7h0m9-14h0m0-10h0m12-7h0m-10 24h0m1 0h0m-1 5h0m8 0h0m0 1h0m2 7h0m-1 2h0m-2 3h0m-4 2h0m3 0h0m-1 1h0m3 0h0m0 1h0m2 0h0m-9 2h0m7 1h0m2 0h0m-9 2h0m9 0h0m0 3h0m-4 1h0m1 0h0m2 2h0m-1 1h0m2 0h0m1 0h0m-10 1h0m7 0h0m-3 1h0m2 0h0m-5 1h0m-2 1h0m5 0h0m1 1h0m-3 1h0m5 0h0m0 3h0m1 0h0m-6 2h0m2 3h0m5 0h0m-8 1h0m-1 2h0m7 2h0m-7 3h0m7 0h0m2 0h0m-1 1h0m-6 5h0m1 1h0m6 1h0m-5 5h0m3 2h0m-7 5h0m8 3h0m-2 6h0m0 15h0m12-13h0m-5-16h0m0-1h0m3-3h0m-4-1h0m2-3h0m-3-1h0m0-3h0m9-1h0m-6-1h0m7-1h0m-2-1h0m-8-1h0m10-1h0m-4-2h0m-1-1h0m5 0h0m-2-3h0m-8-1h0m5-1h0m2-1h0m-3-1h0m0-2h0m1 0h0m1 0h0m5-2h0m-8-1h0m1-1h0m6 0h0m1-2h0m-10-1h0m9 0h0m-3-1h0m-6-1h0m3 0h0m6-4h0m-7-2h0m3 0h0m-5-1h0m6 0h0m4-3h0m-8-3h0m0-1h0m6-1h0m-8-6h0m3 0h0m7-9h0m-1-11h0m-7-7h0m5-1h0m7-7h0m-3 33h0m3 0h0m-3 4h0m6 7h0m-6 2h0m4 1h0m0 5h0m-1 3h0m6 0h0m2 0h0m-3 1h0m3 2h0m-8 1h0m0 1h0m4 0h0m3 1h0m-3 1h0m-1 1h0m-2 3h0m0 1h0m5 3h0m-6 1h0m8 3h0m-5 1h0m-3 2h0m2 3h0m-2 1h0m3 0h0m-5 4h0m3 4h0m-1 8h0m14 15h0m-2-13h0m7-15h0m-3-1h0m2-2h0m-5-1h0m-2-3h0m4-1h0m-5-3h0m2-1h0m2 0h0m-5-6h0m3-1h0m5-1h0m-8-3h0m4 0h0m2-4h0m2-1h0m2 0h0m-4-7h0m4-7h0m-9-3h0m7-6h0m-8-24h0m14 4h0m-2 2h0m0 27h0m3 4h0m0 2h0m-3 5h0m3 0h0m-2 1h0m0 9h0m-1 3h0m2 3h0m-1 2h0m0 1h0m-1 8h0m1 24h0m31-83h0m1 8h0m-5 1h0m-1 4h0m8 0h0m-4 2h0m2 2h0m-4 1h0m4 0h0m-1 1h0m1 0h0m2 0h0m-9 1h0m2 1h0m0 1h0m-2 1h0m5 2h0m-3 1h0m-3 1h0m2 0h0m6 3h0m2 1h0m-1 1h0m1 1h0m-1 2h0m-2 1h0m3 1h0m-10 1h0m3 0h0m0 1h0m2 0h0m3 0h0m2 0h0m-2 2h0m-8 1h0m6 1h0m-4 1h0m5 0h0m-3 1h0m2 0h0m2 0h0m2 0h0m-1 1h0m1 1h0m-4 1h0m-1 2h0m5 0h0m-9 2h0m5 0h0m-2 1h0m4 0h0m1 0h0m-6 2h0m0 1h0m-1 3h0m1 6h0m4 1h0m-6 4h0m5 0h0m1 1h0m1 1h0m2 5h0m-3 5h0m0 10h0m-3 18h0m11-20h0m-1-12h0m2-8h0m6 0h0m-7-1h0m2-2h0m5 0h0m-10-2h0m10 0h0m-11-3h0m8 0h0m-4-2h0m-4-2h0m4 0h0m6-2h0m1-2h0m-2-1h0m2-1h0m-9-1h0m-2-1h0m2 0h0m9-1h0m-6-1h0m-4-1h0m1-3h0m8 0h0m-7-1h0m2 0h0m5 0h0m-9-3h0m10 0h0m-3-1h0m-6-1h0m7 0h0m-6-3h0m3 0h0m-6-2h0m5-1h0m4-1h0m-4-1h0m-3-1h0m7-1h0m0-3h0m1-3h0m-9-1h0m3-1h0m-3-1h0m1-2h0m4-4h0m3-6h0m-8-3h0m10-8h0m-8-1h0m-1-6h0m13-13h0m3 13h0m-1 4h0m4 5h0m0 4h0m-1 7h0m1 16h0m-2 1h0m1 0h0m-7 1h0m10 1h0m-2 2h0m2 1h0m-8 1h0m4 1h0m4 3h0m0 1h0m-4 3h0m1 1h0m-6 3h0m1 0h0m4 1h0m1 1h0m1 0h0m-6 1h0m-3 1h0m6 1h0m4 0h0m1 1h0m-11 1h0m10 0h0m-10 1h0m8 0h0m1 0h0m-8 3h0m2 0h0m1 0h0m4 1h0m3 0h0m-3 1h0m-1 1h0m2 0h0m1 1h0m1 0h0m-9 1h0m0 1h0m3 0h0m2 0h0m2 1h0m-8 4h0m-1 1h0m9 7h0m-9 1h0m10 15h0m-3 21h0m5-31h0m1-21h0m-1-9h0m0-21h0m23-36h0m-6 1h0m2 2h0m1 2h0m-4 2h0m3 8h0m2 3h0m1 0h0m-6 3h0m3 0h0m3 2h0m-1 1h0m-1 3h0m2 0h0m-10 1h0m0 1h0m8 2h0m-6 3h0m9 1h0m-11 1h0m11 0h0m-10 1h0m4 0h0m3 2h0m-4 1h0m5 0h0m-4 1h0m-5 1h0m11 2h0m-8 1h0m1 0h0m-3 2h0m4 0h0m3 0h0m-7 1h0m6 0h0m3 0h0m-9 2h0m5 0h0m4 0h0m-5 1h0m4 0h0m-8 1h0m4 0h0m2 0h0m-3 1h0m7 0h0m0 1h0m-8 1h0m5 0h0m1 0h0m-7 1h0m1 1h0m5 1h0m-5 1h0m1 0h0m7 0h0m-8 4h0m2 0h0m6 0h0m-2 1h0m-3 2h0m-3 1h0m-3 1h0m1 1h0m4 1h0m1 1h0m1 4h0m1 1h0m-1 3h0m-2 2h0m-1 2h0m1 6h0m5 9h0m-1 17h0m-6 3h0m3 1h0m10-1h0m1-11h0m1 0h0m2-14h0m-3-8h0m2-3h0m-6-4h0m4-1h0m5 0h0m-6-1h0m7-1h0m-10-7h0m0-5h0m7 0h0m-1-4h0m-5-3h0m9 0h0m-7-1h0m2-2h0m-6-1h0m11 0h0m-11-2h0m1-6h0m3-1h0m2 0h0m2 0h0m-3-1h0m3 0h0m0-1h0m2-2h0m-2-2h0m-8-1h0m3 0h0m7 0h0m-4-2h0m1 0h0m4-1h0m-1-2h0m-6-2h0m1 0h0m0-2h0m6-26h0m1-7h0m11 11h0m-1 10h0m-3 2h0m-4 6h0m0 3h0m1 2h0m7 2h0m-6 3h0m2 2h0m2 3h0m1 0h0m-4 1h0m2 1h0m2 0h0m-6 1h0m5 3h0m-2 1h0m-3 1h0m3 0h0m2 0h0m-9 2h0m9 0h0m2 0h0m-7 2h0m3 0h0m4 0h0m-9 1h0m6 1h0m-4 2h0m0 2h0m2 0h0m5 3h0m-1 2h0m-7 1h0m4 0h0m-5 1h0m2 0h0m2 0h0m-5 3h0m6 3h0m2 0h0m2 1h0m-5 8h0m4 10h0m-10 6h0m7 4h0m1 4h0m5-30h0m1-6h0m0-7h0m0-8h0m-1-1h0m1 0h0m-2-3h0m1 0h0m1-7h0m-1-2h0m0-3h0m0-18h0m33 79h0m-4-3h0m0-5h0m0-6h0m4-2h0m1-1h0m-10-1h0m5-1h0m-5-4h0m5 0h0m3 0h0m-1-1h0m-1-2h0m2 0h0m2 0h0m-6-2h0m6-1h0m-4-1h0m4-1h0m-7-1h0m5-1h0m-8-1h0m9 0h0m-7-1h0m1 0h0m1 0h0m3 0h0m2 0h0m1-1h0m-8-1h0m3-1h0m4 0h0m1 0h0m0-1h0m-7-1h0m1 0h0m6-1h0m-10-2h0m2 0h0m1 0h0m6 0h0m-9-1h0m3 0h0m2 0h0m4-1h0m-6-1h0m2-4h0m1 0h0m1 0h0m2 0h0m-4-1h0m-5-3h0m4-1h0m1-1h0m-3-1h0m1-1h0m-1-1h0m4-4h0m4 0h0m-5-1h0m-2-1h0m3-1h0m3 0h0m-2-1h0m2-3h0m-2-1h0m3 0h0m-5-2h0m1-3h0m-1-2h0m4-2h0m-8-5h0m8 0h0m-3-2h0m1-10h0m-2-3h0m7 1h0m8 10h0m0 4h0m-2 7h0m3 1h0m-8 2h0m8 0h0m1 0h0m0 4h0m-3 2h0m-5 1h0m6 1h0m-9 2h0m7 0h0m-6 1h0m0 1h0m6 0h0m2 0h0m-7 1h0m2 0h0m5 0h0m-3 3h0m5 1h0m-7 1h0m-1 2h0m3 0h0m4 0h0m1 1h0m-2 3h0m1 0h0m-9 1h0m7 0h0m3 0h0m-9 2h0m-1 3h0m5 0h0m2 2h0m2 0h0m-10 1h0m6 0h0m-3 1h0m3 0h0m-5 1h0m7 1h0m-3 1h0m5 0h0m-10 3h0m3 0h0m4 0h0m-3 1h0m2 0h0m5 1h0m-10 1h0m6 0h0m4 1h0m-4 1h0m3 3h0m-9 1h0m6 0h0m3 1h0m0 2h0m-6 1h0m-1 1h0m3 0h0m4 0h0m-5 6h0m-5 2h0m9 1h0m1 7h0m0 5h0m-4 3h0m-5 12h0m9 4h0m12-17h0m-1-8h0m-1-3h0m-8-13h0m10 0h0m-9-1h0m10 0h0m-6-1h0m2 0h0m-4-5h0m3 0h0m-3-1h0m2 0h0m4 0h0m-5-1h0m0-3h0m6 0h0m-4-1h0m-2-1h0m7-2h0m-10-1h0m0-3h0m-1-3h0m3-1h0m5 0h0m-1-5h0m4 0h0m-7-4h0m1-1h0m4-2h0m-3-5h0m2-1h0m-8-2h0m6-1h0m0-1h0m5-8h0m-10-10h0m2-12h0m7 0h0m-2-3h0m-2-4h0m1-2h0m7 2h0m8 4h0m-6 1h0m-3 17h0m2 7h0m6 10h0m-2 1h0m3 0h0m-10 1h0m2 1h0m-2 1h0m2 3h0m7 0h0m2 1h0m-2 1h0m-7 1h0m9 0h0m-11 1h0m5 0h0m6 0h0m-9 3h0m-1 1h0m-1 1h0m1 0h0m2 0h0m8 0h0m-6 1h0m5 0h0m-10 1h0m7 0h0m4 1h0m-7 1h0m4 0h0m2 1h0m-8 1h0m6 3h0m-3 1h0m1 0h0m4 0h0m-8 1h0m2 0h0m-3 1h0m0 2h0m4 0h0m5 0h0m-7 1h0m3 0h0m1 0h0m-5 2h0m1 5h0m4 1h0m-2 3h0m4 3h0m-4 1h0m6 0h0m-5 1h0m-6 19h0m11 13h0m-6 9h0m12-17h0m3-12h0m-7-2h0m3-5h0m-2-9h0m2 0h0m-1-2h0m2 0h0m-1-2h0m3-1h0m4-2h0m-10-2h0m-1-3h0m10 0h0m1 0h0m-10-2h0m4-2h0m2 0h0m-4-2h0m2 0h0m6 0h0m-11-1h0m7-1h0m-3-1h0m-3-1h0m4-1h0m1 0h0m2 0h0m-6-2h0m1-1h0m-1-2h0m7 0h0m-4-1h0m4 0h0m-9-1h0m3 0h0m2-1h0m2 0h0m-3-2h0m-4-1h0m9-1h0m-7-1h0m5-1h0m2 0h0m-5-1h0m-3-1h0m7 0h0m-5-1h0m4-1h0m3-4h0m-8-1h0m6-2h0m-3-1h0m-4-1h0m1 0h0m2-1h0m-4-2h0m6-1h0m-5-15h0m0-12h0m10 0h0m-10-6h0m13-3h0m3 10h0m-3 4h0m7 2h0m-8 4h0m0 13h0m3 1h0m5 0h0m2 0h0m-10 11h0m9 1h0m1 2h0m-10 1h0m-1 6h0m1 0h0m-1 1h0m1 1h0m7 1h0m3 3h0m-3 1h0m-2 2h0m5 0h0m-7 1h0m7 0h0m-7 4h0m4 2h0m1 0h0m2 0h0m-8 1h0m6 0h0m2 2h0m-8 1h0m-1 1h0m5 0h0m2 0h0m-7 3h0m3 2h0m5 1h0m-10 1h0m8 0h0m-3 1h0m3 0h0m-5 1h0m7 0h0m1 0h0m-11 2h0m10 0h0m0 2h0m-6 2h0m0 2h0m4 2h0m2 0h0m-1 3h0m-5 6h0m-4 1h0m0 7h0m3 12h0m7 5h0m3-15h0m3-4h0m5-3h0m1-6h0m-6-1h0m1 0h0m-3-6h0m0-2h0m3-4h0m-1-1h0m6-1h0m0-4h0m1 0h0m-11-1h0m3-4h0m2 0h0m2 0h0m-2-4h0m2 0h0m4 0h0m-6-1h0m3 0h0m1-1h0m-3-2h0m-5-2h0m4 0h0m2 0h0m4 0h0m0-2h0m-7-2h0m2 0h0m5 0h0m-11-3h0m6 0h0m1 0h0m-5-1h0m1-1h0m-2-1h0m4 0h0m0-3h0m2 0h0m3 0h0m-10-1h0m1-1h0m6 0h0m1 0h0m3-1h0m-11-1h0m2-1h0m2 0h0m-3-2h0m5-3h0m-1-2h0m-1-3h0m1 0h0m-3-6h0m7-5h0m0-13h0m-4-8h0m-1-4h0m8 52h0m28-50h0m0 9h0m6 3h0m-4 3h0m-6 30h0m8 3h0m3 4h0m-10 1h0m4 4h0m6 2h0m-11 1h0m5 0h0m0 2h0m3 3h0m1 0h0m2 0h0m-9 1h0m0 2h0m3 1h0m-5 2h0m8 0h0m-1 1h0m1 0h0m-7 12h0m6 4h0m-2 11h0m14-19h0m-1-6h0m-5-3h0m0-1h0m1-1h0m2-4h0m0-2h0m5 0h0m-3-1h0m1-1h0m-6-1h0m3-8h0m0-2h0m2-1h0m-5-31h0m18 20h0m0 1h0m1 5h0m1 5h0m1 0h0m-5 2h0m0 2h0m3 3h0m-3 5h0m1 2h0m2 0h0m-1 6h0m-2 1h0m6 0h0m-4 19h0m1 39h0m14-4h0m-1-33h0m-8-2h0m1-3h0m3-6h0m-3-1h0m4-2h0m-4-3h0m0-1h0m8-1h0m0-3h0m0-1h0m-10-1h0m2 0h0m3 0h0m-4-1h0m1-3h0m-1-1h0m1 0h0m-2-2h0m0-1h0m0-1h0m7-1h0m1-1h0m1-1h0m-8-3h0m0-14h0m20-9h0m-2 8h0m-2 13h0m2 9h0m-4 6h0m7 0h0m-2 12h0m12 52h0m2-8h0m0-11h0m-4-24h0m3 0h0m0-1h0m-1-17h0m0-2h0m2 0h0m-1-1h0m-5-3h0m3-1h0m-6-1h0m8-1h0m1-5h0m-4-1h0m1-1h0m3 0h0m-3-5h0m-7-22h0m9-7h0m1-12h0m13-5h0m-4 8h0m-3 4h0m2 26h0m-2 3h0m4 6h0m-5 2h0m2 1h0m-2 4h0m1 1h0m1 0h0m-1 11h0m0 1h0m0 2h0m-1 4h0m-2 2h0m2 4h0m7 6h0m30 30h0m5-5h0m2-11h0m0-2h0m-8-1h0m1-2h0m-3-2h0m7 0h0m1-2h0m-1-1h0m-4-5h0m2-1h0m2 0h0m-2-2h0m5-1h0m-6-3h0m4-1h0m1-1h0m-6-1h0m7 0h0m-9-3h0m6 0h0m-2-1h0m1 0h0m-2-1h0m-3-2h0m3 0h0m1-1h0m1 0h0m3 0h0m-10-1h0m3 0h0m7 0h0m-3-1h0m1-1h0m2-2h0m-9-2h0m2 0h0m7 0h0m1 0h0m-10-1h0m3 0h0m4 0h0m-3-3h0m4 0h0m-9-1h0m11 0h0m-4-1h0m2 0h0m-8-1h0m5 0h0m2 0h0m-8-1h0m6 0h0m2 0h0m-6-1h0m7 0h0m1 0h0m-5-2h0m2-1h0m1 0h0m0-1h0m-5-1h0m4 0h0m2-1h0m-1-1h0m3 0h0m-2-1h0m-2-2h0m2 0h0m2 0h0m-8-2h0m8 0h0m0-1h0m-4-1h0m1 0h0m0-2h0m2-1h0m-7-1h0m-1-10h0m9-6h0m-6-9h0m2-7h0m13 13h0m1 1h0m0 5h0m-5 2h0m4 1h0m-8 1h0m8 2h0m1 2h0m-5 6h0m1 0h0m-5 1h0m5 0h0m6 0h0m-5 1h0m2 2h0m-2 1h0m-1 1h0m-1 1h0m5 0h0m-9 2h0m0 1h0m1 1h0m6 0h0m0 1h0m-1 1h0m0 4h0m3 0h0m2 0h0m-8 1h0m1 0h0m5 1h0m2 1h0m-9 1h0m0 1h0m5 1h0m-7 1h0m1 0h0m6 0h0m2 0h0m-9 3h0m2 0h0m7 0h0m0 1h0m-1 1h0m1 0h0m-6 1h0m6 0h0m-2 1h0m3 0h0m-7 1h0m5 0h0m2 0h0m-7 1h0m4 1h0m2 0h0m-7 1h0m3 0h0m-3 1h0m5 0h0m-3 1h0m-4 1h0m1 0h0m1 1h0m6 0h0m-6 1h0m4 0h0m2 0h0m1 0h0m-1 1h0m0 1h0m-7 1h0m8 0h0m-2 1h0m-6 1h0m0 1h0m4 0h0m2 0h0m4 0h0m-3 1h0m0 2h0m-3 1h0m1 0h0m-6 3h0m10 0h0m-4 2h0m2 2h0m-5 1h0m1 0h0m1 1h0m-5 2h0m3 4h0m5 3h0m-2 4h0m2 0h0m3 11h0m3 3h0m-1-13h0m1-9h0m4-2h0m-2-2h0m7-2h0m-1-2h0m-2-2h0m-4-1h0m2 0h0m-2-4h0m2 0h0m1 0h0m2 0h0m-2-1h0m-4-2h0m7 0h0m-10-3h0m2 0h0m9 0h0m-10-1h0m5-1h0m-2-1h0m6 0h0m1-1h0m-5-1h0m2 0h0m1 0h0m-9-1h0m1 0h0m2 0h0m6-1h0m-5-1h0m1 0h0m-1-1h0m7-1h0m-6-1h0m2 0h0m4 0h0m0-3h0m-9-1h0m7 0h0m2 0h0m-8-1h0m7 0h0m0-1h0m0-2h0m0-1h0m1-1h0m-11-1h0m6 0h0m2-1h0m-2-1h0m3-1h0m-5-1h0m7 0h0m-11-3h0m5-2h0m3-4h0m3 0h0m-5-2h0m1 0h0m1 0h0m-2-1h0m-6-2h0m5-2h0m4-1h0m0-1h0m-2-1h0m3-2h0m-3-5h0m3-2h0m-10-8h0m7-3h0m-3-6h0m15-9h0m4 11h0m-11 15h0m3 1h0m8 6h0m-11 2h0m0 5h0m8 1h0m-6 2h0m7 1h0m-1 1h0m3 0h0m-4 3h0m2 2h0m2 1h0m-1 1h0m-9 4h0m-1 1h0m1 0h0m1 0h0m8 1h0m0 3h0m-10 2h0m10 2h0m-8 2h0m-2 1h0m9 1h0m-8 1h0m8 1h0m1 0h0m0 1h0m-10 4h0m9 2h0m1 1h0m-10 1h0m9 1h0m-2 1h0m3 2h0m1 0h0m-2 5h0m-3 2h0m-6 5h0m9 4h0m-9 14h0m11 4h0m11 9h0m-10-10h0m6-3h0m-6-5h0m4-1h0m3-5h0m4 0h0m-4-4h0m2-2h0m-6-3h0m4 0h0m-4-2h0m3 0h0m2 0h0m-1-1h0m-6-2h0m0-5h0m1 0h0m0-2h0m2-1h0m-2-1h0m-2-1h0m2 0h0m4-1h0m5 0h0m-5-1h0m1 0h0m-5-1h0m-2-1h0m4 0h0m7 0h0m-4-2h0m3 0h0m1 0h0m-6-1h0m1 0h0m-6-1h0m2-1h0m1 0h0m2 0h0m1 0h0m-3-1h0m3 0h0m2-1h0m-8-1h0m1 0h0m6-2h0m-5-1h0m2 0h0m5 0h0m-9-1h0m11-2h0m-11-1h0m3 0h0m2 0h0m1 0h0m-4-1h0m-1-1h0m3-1h0m-2-1h0m1 0h0m3 0h0m1 0h0m-5-1h0m3-2h0m2 0h0m-7-1h0m2 0h0m5 0h0m2-1h0m-1-1h0m-3-1h0m-3-1h0m2-2h0m6 0h0m-10-2h0m1 0h0m4 0h0m-5-1h0m4-1h0m3 0h0m-7-2h0m3 0h0m2 0h0m-4-5h0m1-12h0m5-1h0m-2-8h0m5-5h0m-4-10h0m12 13h0m-5 6h0m7 10h0m-3 4h0m-5 3h0m4 3h0m7 1h0m-3 1h0m-3 1h0m1 1h0m4 0h0m1 1h0m-2 2h0m1 2h0m-5 1h0m0 4h0m5 0h0m-9 2h0m3 1h0m7 1h0m-8 1h0m1 0h0m7 0h0m0 1h0m-10 1h0m5 1h0m3 0h0m-1 1h0m3 1h0m-9 1h0m3 2h0m6 1h0m-5 1h0m5 0h0m-6 3h0m-3 1h0m4 1h0m0 1h0m4 0h0m-3 3h0m-7 1h0m6 0h0m-4 2h0m9 3h0m-10 3h0m-1 4h0m10 0h0m-2 4h0m-6 2h0m7 7h0m0 11h0m2 5h0m-10 2h0m5 2h0m9 8h0m0-9h0m5 0h0m-3-8h0m1-3h0m-5-2h0m8-1h0m-2-4h0m-3-1h0m4 0h0m2-4h0m-5-3h0m1 0h0m1-2h0m1-2h0m2 0h0m-5-1h0m0-2h0m1 0h0m0-3h0m-3-2h0m5 0h0m-7-1h0m7 0h0m-1-1h0m-6-1h0m6 0h0m1 0h0m0-2h0m-2-1h0m2-1h0m-4-2h0m-4-2h0m6 0h0m-6-1h0m1-2h0m2-1h0m2 0h0m4-1h0m-4-1h0m3 0h0m-5-1h0m4 0h0m-2-3h0m1 0h0m1-1h0m4 0h0m-6-1h0m1 0h0m1 0h0m-4-1h0m3 0h0m4 0h0m-6-1h0m-1-1h0m5-1h0m-4-1h0m6 0h0m-2-3h0m-5-3h0m3-1h0m0-3h0m1 0h0m2 0h0m1 0h0m1 0h0m-6-2h0m1 0h0m-6-2h0m2-2h0m5 0h0m2-3h0m-4-1h0m2 0h0m0-10h0m-7-1h0m4 0h0m2-2h0m-4-1h0m4 0h0m5-1h0m-10-11h0m7-4h0m-3-1h0m3-8h0m4 64h0m0 14h0m23-25h0m10-48h0m-7 37h0m7 6h0m1 5h0m-9 5h0m0 4h0m1 1h0m8 2h0m-8 1h0m0 1h0m7 1h0m-9 2h0m11 1h0m-7 4h0m-1 2h0m0 2h0m0 3h0m1 7h0m7 0h0m-6 2h0m6 7h0m-1 1h0m1 4h0m0 2h0m-4 1h0m4 16h0m12-23h0m-7-10h0m0-1h0m1 0h0m-4-1h0m3-2h0m4-1h0m0-2h0m-8-2h0m2-3h0m-2-1h0m1-2h0m9-1h0m-6-2h0m-1-4h0m-1-3h0m8 0h0m-9-1h0m8 0h0m-9-2h0m3-2h0m5-2h0m-1-4h0m-2-4h0m-5-1h0m1-3h0m1-12h0m-2-3h0m7-2h0m4 0h0m5-10h0m-1 2h0m-3 19h0m3 5h0m8 2h0m-8 1h0m-2 6h0m0 3h0m3 2h0m-1 3h0m3 0h0m2 3h0m-7 1h0m5 4h0m-5 1h0m1 1h0m7 0h0m-7 4h0m2 1h0m-2 3h0m1 2h0m-1 1h0m3 0h0m2 2h0m3 0h0m-8 8h0m7 9h0m-6 6h0m19 7h0m-8-10h0m8 0h0m-7-3h0m4-1h0m-1-6h0m-1-7h0m3 0h0m0-1h0m3-1h0m-10-3h0m5-8h0m4-4h0m-6-1h0m-2-1h0m8-3h0m-4-3h0m3 0h0m1 0h0m-4-1h0m5-1h0m-2-2h0m-5-1h0m6-1h0m1 0h0m-4-1h0m-2-2h0m6-2h0m-6-4h0m1-2h0m-1-4h0m2-3h0m0-4h0m1-23h0m4-11h0m11 16h0m-9 13h0m6 6h0m-1 2h0m-5 2h0m8 5h0m-6 2h0m-3 3h0m7 1h0m1 0h0m-6 2h0m-1 5h0m9 2h0m-4 2h0m-5 1h0m4 0h0m-4 1h0m9 0h0m-10 3h0m6 1h0m4 0h0m-9 2h0m1 0h0m3 0h0m1 4h0m-7 1h0m7 4h0m-1 2h0m3 3h0m-8 1h0m0 5h0m7 5h0m1 3h0m-6 2h0m3 1h0m2 7h0m3 0h0m0 5h0m3-7h0m-2-15h0m8-3h0m-5-1h0m2-2h0m2 0h0m-4-1h0m6 0h0m-7-1h0m-1-1h0m8-1h0m0-3h0m-8-2h0m6-1h0m0-1h0m4-1h0m0-1h0m-2-2h0m-4-2h0m-4-2h0m9 0h0m-5-1h0m-3-4h0m1 0h0m-1-2h0m8 0h0m-7-1h0m0-2h0m8-4h0m-11-2h0m1-3h0m2 0h0m8-9h0m-1-16h0m-9-2h0m10-5h0m9-3h0m0 13h0m-2 6h0m2 1h0m-1 24h0m1 0h0m0 1h0m-7 1h0m5 2h0m2 4h0m1 0h0m-2 1h0m-6 1h0m5 4h0m2 0h0m-1 2h0m-4 1h0m1 0h0m-3 3h0m7 0h0m-1 1h0m-7 1h0m2 1h0m-2 1h0m2 1h0m6 0h0m0 3h0m-8 2h0m0 1h0m5 2h0m2 1h0m1 0h0m-2 3h0m2 2h0m0 5h0m3 14h0m-11 4h0m8 19h0m4-14h0m0-72h0m58 53h0m-4-33h0m3-2h0m-2-5h0m1-8h0m-2-1h0m4-2h0m-2-42h0m15 40h0m-6 4h0m1 6h0m2 0h0m3 1h0m-2 3h0m1 5h0m-5 1h0m-4 2h0m4 0h0m2 2h0m4 3h0m-9 3h0m9 12h0m7 19h0m1-16h0m1-3h0m-2-5h0m5-1h0m-1-2h0m-3-2h0m3 0h0m-2-1h0m-7-1h0m10-1h0m-9-3h0m-2-2h0m2-6h0m-2-4h0m3 0h0m2 0h0m-5-3h0m11-2h0m-8-5h0m2-1h0m-4-3h0m17-3h0m-1 3h0m-1 4h0m5 1h0m-5 3h0m2 4h0m1 1h0m4 3h0m-6 1h0m1 3h0m-2 1h0m0 2h0m1 0h0m-1 1h0m1 1h0m0 14h0m-2 1h0m6 5h0m-5 4h0m14 40h0m-4-2h0m9-10h0m-9-41h0m3-5h0m-4-1h0m2-5h0m3-1h0m-2-4h0m2-2h0m5-2h0m0-1h0m-1-2h0m-3-4h0m-4-2h0m8 0h0m-11-4h0m4 0h0m2-7h0m4 0h0m-5-1h0m6-4h0m-1-3h0m25 69h0m0-31h0m-1-5h0m1-11h0m-1-14h0m4-14h0m7 0h0m-7 9h0m0 9h0m6 2h0m2 1h0m-2 1h0m3 2h0m-11 2h0m11 0h0m-2 1h0m0 1h0m2 0h0m-11 2h0m0 4h0m1 2h0m8 0h0m-7 3h0m-2 1h0m10 4h0m-1 3h0m-9 1h0m11 3h0m-1 4h0m-9 1h0m1 0h0m5 5h0m2 2h0m-4 10h0m18 7h0m-7-7h0m7-17h0m-6-3h0m-4-2h0m3-1h0m1 0h0m-4-4h0m3-2h0m0-1h0m3 0h0m-2-3h0m6-2h0m-8-4h0m3-9h0m-2-2h0m-2-1h0m4-5h0m14-39h0m-4 22h0m4 9h0m2 2h0m-3 1h0m-2 4h0m-1 2h0m1 0h0m-3 2h0m6 2h0m-7 1h0m4 2h0m2 0h0m3 1h0m-6 1h0m5 0h0m-5 2h0m-1 2h0m1 0h0m2 2h0m2 0h0m-3 1h0m5 0h0m-5 1h0m4 0h0m-7 2h0m4 0h0m-6 2h0m11 2h0m-4 1h0m1 0h0m3 0h0m-2 1h0m-9 2h0m4 0h0m1 1h0m2 0h0m1 0h0m1 0h0m0 5h0m-6 1h0m1 3h0m-1 5h0m8 0h0m-2 1h0m2 4h0m-4 4h0m2 36h0m6 0h0m8-36h0m-10-3h0m2 0h0m3 0h0m-3-1h0m3-3h0m1-8h0m-7-6h0m6-1h0m-2-2h0m1 0h0m-1-1h0m1-1h0m2 0h0m-1-1h0m1-2h0m3 0h0m-7-1h0m1-1h0m0-1h0m5 0h0m-7-3h0m-1-2h0m4-1h0m5-1h0m-5-1h0m6-1h0m-6-2h0m-4-3h0m6-1h0m0-3h0m-5-6h0m0-1h0m5-1h0m4-2h0m-1-2h0m-10-1h0m1 0h0m9-8h0m-3-23h0m15 8h0m0 7h0m1 4h0m0 1h0m-5 2h0m-5 4h0m6 4h0m1 9h0m-7 1h0m9 5h0m-7 6h0m2 2h0m-3 1h0m5 2h0m2 2h0m0 3h0m-4 1h0m2 0h0m1 2h0m-6 3h0m0 10h0m6 0h0m2 4h0m-2 1h0m3 6h0m-5 3h0m-3 8h0m8 0h0m-2 7h0m2 12h0m-10 3h0m11-26h0m2 0h0m1 0h0m-3-7h0m0-5h0m7 0h0m-1-2h0m-5-1h0m10-2h0m-9-1h0m-1-2h0m7 0h0m-7-4h0m3-1h0m-4-1h0m3 0h0m6 0h0m-8-1h0m6-1h0m2-1h0m-6-1h0m2 0h0m-5-2h0m8-5h0m-8-1h0m8 0h0m3 0h0m-7-1h0m-4-2h0m2-2h0m5-1h0m3-2h0m-8-3h0m0-1h0m-2-1h0m7-10h0m-5-8h0m-1-6h0m13 16h0m7 3h0m-6 4h0m2 1h0m-3 2h0m1 1h0m6 5h0m-2 1h0m-6 1h0m7 0h0m1 1h0m-7 3h0m0 1h0m6 13h0m-5 1h0m0 2h0m5 0h0m1 0h0m-8 27h0m2 10h0m4 0h0m1 10h0"/>
<path transform="scale(.5)" fill="none" stroke="#D9423A" stroke-width="5.6" stroke-linecap="round" d="M1913 533h0m15-3h0m18-158h0m2 0h0m30 166h0m2 0h0m43-166h0m10 166h0m9-166h0m8 159h0m-9 7h0m2 0h0m7 0h0m23-9h0m13 9h0m1-9h0m11-157h0m-1 11h0m6 155h0m-3-2h0m27 2h0m7 0h0m-6-4h0m14 4h0m19-166h0m7 0h0m-8 7h0m3 159h0m2 0h0m16-166h0m3 0h0m13 0h0m8 0h0m30 166h0m5 0h0m1 0h0m4 0h0m1 0h0m6 0h0m1 0h0m-7-166h0m2 0h0m8 159h0m7 5h0m-1 2h0m27-166h0m2 7h0m-11 159h0m17-4h0m4-162h0m4 158h0m13 3h0m29 5h0m0-166h0m1 0h0m7 0h0m4 0h0m-4 166h0m2 0h0m5 0h0m2 0h0m4-166h0m2 0h0m6 166h0m2 0h0m1 0h0m8 0h0m8 0h0m2-12h0m-9-150h0m13 162h0m3 0h0m8 0h0m4-7h0m5-159h0m4 166h0m31 0h0m9 0h0m3 0h0m-2-11h0m20-155h0m20 0h0m56 166h0m2-6h0m1-5h0m1-144h0m-3-5h0m-6-6h0m1 0h0m8 0h0m5 0h0m2 0h0m4 0h0m6 166h0m5 0h0m1 0h0m-9-166h0m2 0h0m9 0h0m9 0h0m2 0h0m4 5h0m4-2h0m1-3h0m1 0h0m6 0h0m9 161h0m-5 5h0m5 0h0m7 0h0m3 0h0m-6-166h0m1 0h0m33 0h0m1 2h0m-2 164h0m16 0h0m9-166h0m9 4h0m-8 3h0m5 154h0m-6 5h0m20 0h0m1-166h0m10 0h0m6 166h0m0-166h0m5 0h0m16 0h0m-3 166h0m93-8h0m-4 8h0m11 0h0m46-166h0m12 166h0m6-161h0m5 2h0m-6 159h0m1 0h0m8 0h0m5 0h0m5 0h0m7 0h0m9 0h0m3-10h0m-1-154h0m10 164h0m74 0h0"/>
<text x="908.60" y="157.00" font-size="16.8" font-weight="bold" text-anchor="middle" transform="rotate(-90 908.60 157.00)" fill="#000">Reference allele (rel. units)</text>
<line x1="125.00" y1="715.00" x2="125.00" y2="804.50" stroke="#000" stroke-width="2.0"/>
<line x1="120.50" y1="719.00" x2="125.00" y2="719.00" stroke="#000" stroke-width="1.8"/>
<text x="118.80" y="723.10" font-size="16.5" font-weight="bold" text-anchor="end" fill="#000">1.00</text>
<line x1="120.50" y1="739.44" x2="125.00" y2="739.44" stroke="#000" stroke-width="1.8"/>
<text x="118.80" y="743.54" font-size="16.5" font-weight="bold" text-anchor="end" fill="#000">0.75</text>
<line x1="120.50" y1="759.88" x2="125.00" y2="759.88" stroke="#000" stroke-width="1.8"/>
<text x="118.80" y="763.98" font-size="16.5" font-weight="bold" text-anchor="end" fill="#000">0.50</text>
<line x1="120.50" y1="780.31" x2="125.00" y2="780.31" stroke="#000" stroke-width="1.8"/>
<text x="118.80" y="784.41" font-size="16.5" font-weight="bold" text-anchor="end" fill="#000">0.25</text>
<line x1="120.50" y1="800.75" x2="125.00" y2="800.75" stroke="#000" stroke-width="1.8"/>
<text x="118.80" y="804.85" font-size="16.5" font-weight="bold" text-anchor="end" fill="#000">0.00</text>
<line x1="125.00" y1="804.50" x2="170.00" y2="804.50" stroke="#000" stroke-width="2.0"/>
<text x="147.50" y="820.50" font-size="15" font-weight="bold" text-anchor="middle" fill="#000">chr1</text>
<line x1="178.90" y1="804.50" x2="223.90" y2="804.50" stroke="#000" stroke-width="2.0"/>
<text x="201.40" y="820.50" font-size="15" font-weight="bold" text-anchor="middle" fill="#000">chr2</text>
<line x1="232.80" y1="804.50" x2="277.80" y2="804.50" stroke="#000" stroke-width="2.0"/>
<text x="255.30" y="820.50" font-size="15" font-weight="bold" text-anchor="middle" fill="#000">chr3</text>
<line x1="286.70" y1="804.50" x2="331.70" y2="804.50" stroke="#000" stroke-width="2.0"/>
<text x="309.20" y="820.50" font-size="15" font-weight="bold" text-anchor="middle" fill="#000">chr4</text>
<line x1="340.60" y1="804.50" x2="385.60" y2="804.50" stroke="#000" stroke-width="2.0"/>
<text x="363.10" y="820.50" font-size="15" font-weight="bold" text-anchor="middle" fill="#000">chr5</text>
<line x1="394.50" y1="804.50" x2="439.50" y2="804.50" stroke="#000" stroke-width="2.0"/>
<text x="417.00" y="820.50" font-size="15" font-weight="bold" text-anchor="middle" fill="#000">chr6</text>
<line x1="448.40" y1="804.50" x2="493.40" y2="804.50" stroke="#000" stroke-width="2.0"/>
<text x="470.90" y="820.50" font-size="15" font-weight="bold" text-anchor="middle" fill="#000">chr7</text>
<line x1="502.30" y1="804.50" x2="547.30" y2="804.50" stroke="#000" stroke-width="2.0"/>
<text x="524.80" y="820.50" font-size="15" font-weight="bold" text-anchor="middle" fill="#000">chr8</text>
<line x1="556.20" y1="804.50" x2="601.20" y2="804.50" stroke="#000" stroke-width="2.0"/>
<text x="578.70" y="820.50" font-size="15" font-weight="bold" text-anchor="middle" fill="#000">chr9</text>
<line x1="610.10" y1="804.50" x2="655.10" y2="804.50" stroke="#000" stroke-width="2.0"/>
<text x="632.60" y="820.50" font-size="15" font-weight="bold" text-anchor="middle" fill="#000">chr10</text>
<line x1="664.00" y1="804.50" x2="709.00" y2="804.50" stroke="#000" stroke-width="2.0"/>
<text x="686.50" y="820.50" font-size="15" font-weight="bold" text-anchor="middle" fill="#000">chr11</text>
<line x1="717.90" y1="804.50" x2="762.90" y2="804.50" stroke="#000" stroke-width="2.0"/>
<text x="740.40" y="820.50" font-size="15" font-weight="bold" text-anchor="middle" fill="#000">chr12</text>
<path fill="#68BDC2" d="M126.5 753.2h3.7v12.9h-3.7zM130.0 752.3h3.7v14.3h-3.7zM133.5 753.2h3.7v16.9h-3.7zM137.0 753.2h3.7v10.6h-3.7zM140.5 754.4h3.7v13.1h-3.7zM151.0 749.6h3.7v20.8h-3.7zM154.5 750.4h3.7v19.1h-3.7zM158.0 752.8h3.7v17.1h-3.7zM161.5 749.9h3.7v17.0h-3.7zM165.0 751.0h3.7v15.9h-3.7zM180.4 756.3h3.7v9.9h-3.7zM183.9 755.8h3.7v9.7h-3.7zM187.4 756.3h3.7v9.9h-3.7zM190.9 749.6h3.7v17.4h-3.7zM194.4 753.4h3.7v12.4h-3.7zM197.9 754.1h3.7v10.9h-3.7zM201.4 753.7h3.7v10.8h-3.7zM204.9 753.8h3.7v9.6h-3.7zM208.4 752.6h3.7v12.8h-3.7zM211.9 754.7h3.7v14.0h-3.7zM215.4 755.8h3.7v10.4h-3.7zM218.9 752.2h3.7v13.1h-3.7zM234.3 756.1h3.7v9.9h-3.7zM237.8 758.3h3.7v7.1h-3.7zM241.3 751.2h3.7v13.8h-3.7zM244.8 757.8h3.7v7.4h-3.7zM248.3 752.9h3.7v11.3h-3.7zM258.8 753.9h3.7v8.6h-3.7zM262.3 752.3h3.7v11.8h-3.7zM265.8 752.6h3.7v12.6h-3.7zM269.3 756.2h3.7v7.1h-3.7zM272.8 753.0h3.7v11.9h-3.7zM288.2 755.4h3.7v9.4h-3.7zM291.7 757.0h3.7v9.8h-3.7zM295.2 754.9h3.7v8.3h-3.7zM298.7 755.7h3.7v10.4h-3.7zM302.2 754.8h3.7v12.3h-3.7zM305.7 751.3h3.7v13.1h-3.7zM309.2 754.8h3.7v10.8h-3.7zM312.7 752.7h3.7v13.1h-3.7zM316.2 756.0h3.7v7.4h-3.7zM319.7 752.4h3.7v12.8h-3.7zM323.2 754.6h3.7v12.4h-3.7zM326.7 752.2h3.7v13.2h-3.7zM342.1 753.8h3.7v9.7h-3.7zM345.6 754.1h3.7v13.4h-3.7zM349.1 755.5h3.7v8.7h-3.7zM352.6 755.9h3.7v11.7h-3.7zM356.1 754.9h3.7v13.6h-3.7zM359.6 754.7h3.7v7.8h-3.7zM363.1 754.3h3.7v11.0h-3.7zM366.6 755.0h3.7v10.7h-3.7zM370.1 754.2h3.7v11.9h-3.7zM373.6 755.1h3.7v12.3h-3.7zM377.1 752.5h3.7v10.8h-3.7zM380.6 752.7h3.7v10.4h-3.7zM396.0 751.7h3.7v16.2h-3.7zM399.5 752.9h3.7v12.5h-3.7zM403.0 753.2h3.7v14.4h-3.7zM417.0 752.1h3.7v12.8h-3.7zM420.5 754.4h3.7v12.7h-3.7zM424.0 751.8h3.7v15.2h-3.7zM427.5 754.8h3.7v10.1h-3.7zM431.0 755.2h3.7v9.4h-3.7zM434.5 754.9h3.7v13.6h-3.7zM449.9 752.7h3.7v15.2h-3.7zM453.4 753.0h3.7v16.8h-3.7zM456.9 752.4h3.7v11.2h-3.7zM460.4 754.4h3.7v9.8h-3.7zM463.9 754.0h3.7v11.8h-3.7zM467.4 751.5h3.7v15.8h-3.7zM470.9 754.0h3.7v11.0h-3.7zM474.4 753.8h3.7v10.6h-3.7zM477.9 753.3h3.7v12.8h-3.7zM481.4 752.0h3.7v15.6h-3.7zM484.9 752.2h3.7v12.9h-3.7zM488.4 751.3h3.7v13.3h-3.7zM503.8 755.6h3.7v9.4h-3.7zM507.3 755.9h3.7v10.0h-3.7zM510.8 755.2h3.7v9.2h-3.7zM514.3 757.4h3.7v8.5h-3.7zM517.8 753.8h3.7v8.2h-3.7zM521.3 756.2h3.7v10.8h-3.7zM524.8 754.4h3.7v9.8h-3.7zM528.3 755.8h3.7v7.1h-3.7zM531.8 756.2h3.7v6.7h-3.7zM535.3 753.3h3.7v10.0h-3.7zM538.8 756.9h3.7v8.0h-3.7zM542.3 755.0h3.7v9.7h-3.7zM557.7 757.4h3.7v8.9h-3.7zM561.2 755.0h3.7v12.4h-3.7zM578.7 754.7h3.7v11.4h-3.7zM582.2 755.9h3.7v11.3h-3.7zM585.7 755.6h3.7v8.0h-3.7zM589.2 751.9h3.7v13.4h-3.7zM592.7 754.7h3.7v7.8h-3.7zM596.2 752.8h3.7v13.6h-3.7zM611.6 753.1h3.7v11.5h-3.7zM615.1 755.6h3.7v7.2h-3.7zM618.6 752.9h3.7v10.4h-3.7zM622.1 754.3h3.7v12.1h-3.7zM625.6 755.5h3.7v9.1h-3.7zM629.1 753.8h3.7v8.6h-3.7zM632.6 756.0h3.7v7.1h-3.7zM636.1 757.3h3.7v8.1h-3.7zM639.6 756.6h3.7v9.9h-3.7zM643.1 754.7h3.7v12.7h-3.7zM646.6 752.9h3.7v10.5h-3.7zM650.1 755.9h3.7v7.0h-3.7zM665.5 753.5h3.7v15.1h-3.7zM669.0 750.9h3.7v16.1h-3.7zM672.5 752.2h3.7v16.5h-3.7zM676.0 754.0h3.7v14.9h-3.7zM679.5 750.9h3.7v17.1h-3.7zM683.0 754.2h3.7v12.9h-3.7zM686.5 749.8h3.7v17.4h-3.7zM690.0 754.9h3.7v13.3h-3.7zM693.5 754.1h3.7v12.9h-3.7zM697.0 752.1h3.7v12.1h-3.7zM700.5 752.9h3.7v11.5h-3.7zM704.0 750.1h3.7v17.5h-3.7zM719.4 755.0h3.7v10.6h-3.7zM722.9 752.8h3.7v14.2h-3.7zM726.4 749.5h3.7v18.1h-3.7zM729.9 752.3h3.7v15.5h-3.7zM733.4 753.1h3.7v14.4h-3.7zM736.9 749.6h3.7v18.0h-3.7zM740.4 749.1h3.7v18.0h-3.7zM743.9 750.0h3.7v16.1h-3.7zM747.4 753.3h3.7v13.1h-3.7zM750.9 752.3h3.7v12.4h-3.7zM754.4 753.1h3.7v9.8h-3.7zM757.9 756.5h3.7v10.1h-3.7z"/>
<path transform="scale(.5)" fill="none" stroke="#5FB7BD" stroke-width="5.8" stroke-linecap="round" d="M258 1575h0m-1-5h0m5-3h0m-6-2h0m4-1h0m2-8h0m-2-1h0m-1-2h0m2 0h0m-2-3h0m-4-1h0m-3-3h0m1-7h0m1 0h0m1-2h0m6 0h0m-1-1h0m3 0h0m-10-1h0m2 0h0m0-1h0m-2-1h0m2 0h0m4-1h0m3 0h0m-7-1h0m0-1h0m1-1h0m3 0h0m-3-1h0m7 0h0m-1-1h0m-2-1h0m-7-1h0m3 0h0m4 0h0m-6-1h0m2 0h0m1 0h0m0-1h0m3 0h0m-4-1h0m2-1h0m-4-1h0m2 0h0m2 0h0m-2-1h0m-1-1h0m5 0h0m1-1h0m-3-4h0m3 0h0m-7-1h0m7 0h0m-8-1h0m0-2h0m7-1h0m-5-1h0m4 0h0m1 0h0m2 0h0m1-1h0m-5-1h0m-4-1h0m1 0h0m3-3h0m-3-1h0m6 0h0m0-2h0m0-4h0m-3-2h0m0-1h0m5-4h0m-6-4h0m-2-10h0m2 0h0m6-6h0m-7-7h0m-1-3h0m14 18h0m6 0h0m-11 6h0m9 9h0m-6 3h0m0 3h0m3 4h0m-4 1h0m2 0h0m2 0h0m-4 3h0m6 0h0m-8 1h0m3 1h0m3 0h0m-5 1h0m4 0h0m-1 1h0m-4 1h0m3 1h0m6 0h0m-3 1h0m5 0h0m-1 2h0m-5 1h0m-1 1h0m5 0h0m-8 1h0m1 2h0m8 2h0m-9 1h0m2 0h0m0 1h0m2 1h0m-5 1h0m10 0h0m-10 2h0m1 1h0m3 0h0m-2 1h0m1 1h0m-3 1h0m1 0h0m5 0h0m5 1h0m-2 3h0m-9 1h0m1 0h0m9 0h0m1 1h0m-3 1h0m-2 2h0m-1 1h0m4 0h0m1 0h0m-9 3h0m7 0h0m-2 1h0m5 2h0m-9 1h0m0 3h0m9 0h0m-11 5h0m5 2h0m6 2h0m-2 5h0m-9 1h0m14 8h0m8-18h0m-5-7h0m-2-3h0m5 0h0m2-2h0m-9-1h0m9 0h0m-6-1h0m-3-2h0m1 0h0m0-1h0m7-2h0m-8-2h0m7-1h0m0-3h0m2 0h0m-5-1h0m-3-1h0m0-1h0m1 0h0m2 0h0m5 0h0m-9-1h0m10 0h0m-11-1h0m10-1h0m-7-2h0m-3-1h0m2 0h0m9 0h0m-11-2h0m4 0h0m7 0h0m-11-1h0m4 0h0m7 0h0m-10-1h0m2 0h0m-2-1h0m4 0h0m-2-2h0m2 0h0m5 0h0m-7-1h0m4 0h0m4 0h0m-2-1h0m2 0h0m-7-1h0m-1-3h0m5-2h0m-8-1h0m10 0h0m0-3h0m-1-1h0m1-1h0m-5-2h0m-5-1h0m5-1h0m3-1h0m1 0h0m1-1h0m-7-1h0m3-2h0m5 0h0m-3-3h0m-6-14h0m1-3h0m8-9h0m1 5h0m1 10h0m1 2h0m-1 16h0m0 5h0m-1 4h0m1 3h0m1 2h0m1 2h0m-3 1h0m2 0h0m1 0h0m-1 5h0m0 1h0m0 7h0m0 1h0m0 1h0m-2 2h0m1 1h0m-1 5h0m2 0h0m0 7h0m-1 5h0m1 2h0m-2 21h0m18 18h0m1-1h0m-2-4h0m5-3h0m-10-8h0m1-9h0m3-7h0m7-7h0m-9-1h0m1-1h0m1-2h0m4-1h0m3 0h0m-10-3h0m3 0h0m1-1h0m-4-1h0m10 0h0m-6-1h0m-3-1h0m1 0h0m-3-1h0m3 0h0m7 0h0m-9-1h0m3 0h0m4 0h0m-6-1h0m5-2h0m-5-1h0m1-2h0m1-2h0m-3-1h0m9-1h0m0-1h0m-9-1h0m9-1h0m-10-1h0m2-1h0m2 0h0m6 0h0m-10-1h0m7-1h0m3 0h0m-2-1h0m2 0h0m-9-1h0m1-1h0m3-1h0m5 0h0m-7-1h0m7 0h0m-3-1h0m-3-3h0m-3-1h0m8-1h0m-7-1h0m5 0h0m0-1h0m-5-2h0m1-2h0m8-3h0m-6-1h0m-5-1h0m2-1h0m4 0h0m2-1h0m-3-1h0m1 0h0m5 0h0m-4-2h0m4 0h0m-9-2h0m7 0h0m-7-2h0m3 0h0m5 0h0m-3-3h0m-4-2h0m3-5h0m2-6h0m-5-6h0m2-7h0m5 0h0m-7-5h0m13-1h0m-1 3h0m-1 3h0m0 6h0m-2 12h0m8 2h0m-7 4h0m8 0h0m2 8h0m-5 2h0m-2 1h0m-3 1h0m9 0h0m-1 2h0m-9 2h0m1 1h0m4 0h0m2 2h0m-7 3h0m7 1h0m0 1h0m4 0h0m-9 2h0m2 0h0m2 0h0m4 0h0m-10 1h0m2 0h0m1 1h0m3 1h0m-1 1h0m5 1h0m1 0h0m-2 1h0m1 1h0m-7 1h0m7 0h0m1 0h0m-4 2h0m1 1h0m1 0h0m-8 1h0m0 1h0m3 1h0m-1 1h0m1 0h0m-2 1h0m0 1h0m2 0h0m5 0h0m-9 1h0m7 0h0m-6 1h0m1 1h0m-1 1h0m2 1h0m-2 1h0m3 0h0m-2 1h0m9 0h0m-9 2h0m9 0h0m-9 1h0m-1 1h0m4 1h0m5 0h0m-10 2h0m5 2h0m-4 1h0m7 2h0m-1 2h0m-7 5h0m10 1h0m-8 6h0m6 5h0m1 1h0m-2 4h0m-3 2h0m4 3h0m-1 9h0m12 2h0m-4-4h0m-3-7h0m8-9h0m-2-6h0m2 0h0m-3-1h0m1-3h0m5 0h0m-1-2h0m-7-3h0m1-3h0m-2-1h0m1-1h0m2 0h0m2-1h0m3 0h0m-3-1h0m2 0h0m-8-3h0m1 0h0m1 0h0m1 0h0m2 0h0m-4-1h0m6-1h0m-2-1h0m-6-1h0m2 0h0m4 0h0m3 0h0m2 0h0m-2-1h0m-2-1h0m-1-2h0m-6-1h0m1 0h0m5-1h0m2 0h0m-7-1h0m10 0h0m-5-1h0m2 0h0m-6-1h0m3-1h0m-1-1h0m7 0h0m-7-1h0m7 0h0m-11-1h0m6 0h0m1 0h0m-3-1h0m3-1h0m-1-1h0m-4-1h0m2 0h0m3 0h0m-6-1h0m7 0h0m-1-1h0m1 0h0m-8-1h0m1 0h0m3-1h0m7 0h0m-9-1h0m8 0h0m-10-1h0m2 0h0m6 0h0m1 0h0m-4-1h0m3 0h0m-6-1h0m1-1h0m4 0h0m4 0h0m-11-1h0m4 0h0m4 0h0m1 0h0m-8-2h0m2 0h0m6-1h0m1-1h0m-9-1h0m3-1h0m2 0h0m-4-1h0m4 0h0m-6-3h0m11-1h0m-10-1h0m2 0h0m1 0h0m7 0h0m-8-2h0m2-2h0m2 0h0m-6-1h0m1 0h0m1-1h0m5-1h0m-4-2h0m2 0h0m-3-1h0m-3-2h0m2-1h0m5-12h0m-7-5h0m7 0h0m-2-8h0m8 30h0m-1 12h0m1 2h0m1 2h0m-1 1h0m0 2h0m1 0h0m0 3h0m-2 4h0m0 2h0m1 5h0m0 1h0m-1 4h0m0 1h0m1 0h0m0 1h0m1 9h0m-2 17h0m1 1h0m1 6h0m25-92h0m-1 12h0m8 8h0m-9 7h0m3 2h0m-1 1h0m7 0h0m-4 1h0m2 0h0m-1 1h0m-6 2h0m9 0h0m-6 2h0m0 1h0m4 0h0m3 0h0m-9 2h0m4 2h0m5 0h0m0 1h0m-10 2h0m4 0h0m-3 1h0m1 0h0m2 0h0m3 1h0m-5 1h0m1 0h0m0 1h0m6 0h0m-4 1h0m1 0h0m-4 1h0m7 0h0m-9 1h0m3 1h0m4 0h0m-8 1h0m3 0h0m3 0h0m-3 1h0m0 5h0m3 0h0m-2 2h0m7 0h0m-10 1h0m4 0h0m-3 1h0m4 0h0m-3 1h0m1 2h0m1 0h0m5 0h0m-2 1h0m-6 1h0m5 1h0m-5 1h0m4 0h0m1 3h0m3 1h0m-9 1h0m4 2h0m-1 3h0m7 0h0m-10 1h0m4 3h0m-1 8h0m-2 6h0m2 2h0m1 19h0m16-6h0m-5-7h0m0-2h0m0-1h0m2-23h0m1 0h0m-3-2h0m4-3h0m0-1h0m-7-2h0m5 0h0m5-2h0m-1-2h0m-10-3h0m0-1h0m2 0h0m0-2h0m8 0h0m-1-1h0m-5-3h0m-3-3h0m6 0h0m3-1h0m-9-1h0m1-2h0m1 0h0m7 0h0m1-1h0m0-1h0m-2-1h0m-4-1h0m-2-1h0m3 0h0m-3-1h0m7 0h0m-7-3h0m6 0h0m-5-1h0m2 0h0m-2-4h0m4-3h0m3-6h0m-2-2h0m-7-3h0m5-6h0m1-6h0m3-3h0m-4-14h0m13 8h0m-2 4h0m-3 10h0m-2 11h0m0 3h0m3 1h0m5 0h0m-9 1h0m7 2h0m-6 1h0m6 0h0m1 1h0m-1 4h0m-1 2h0m5 0h0m-10 1h0m7 4h0m-4 1h0m2 0h0m-4 1h0m1 0h0m0 3h0m7 0h0m-7 1h0m1 1h0m3 0h0m-5 1h0m-1 1h0m1 0h0m6 2h0m1 0h0m1 0h0m-9 1h0m3 2h0m6 0h0m-10 4h0m5 1h0m-5 1h0m1 0h0m4 5h0m5 0h0m-6 2h0m6 0h0m-8 4h0m3 0h0m-3 2h0m-2 2h0m6 5h0m5 2h0m-4 7h0m-7 8h0m18 8h0m-3-2h0m3-4h0m-1-15h0m3-6h0m-4-4h0m-1-2h0m7 0h0m-5-1h0m1-3h0m0-7h0m-4-2h0m5-1h0m4 0h0m-2-1h0m-2-3h0m-5-1h0m9 0h0m-9-1h0m8 0h0m1-2h0m-4-1h0m1 0h0m-6-1h0m4 0h0m3 0h0m2 0h0m-8-1h0m6-3h0m0-1h0m-4-2h0m6-2h0m-11-1h0m1-1h0m1 0h0m9-5h0m-4-2h0m-4-1h0m0-1h0m3-1h0m4-1h0m-3-1h0m0-1h0m4 0h0m-5-1h0m-2-1h0m1-1h0m-1-2h0m-1-1h0m2 0h0m5 0h0m1-3h0m-3-3h0m3-6h0m-2-2h0m0-3h0m2-8h0m-10-6h0m7-3h0m0-1h0m2-4h0m1-2h0m-6-1h0m7 1h0m8 8h0m2 1h0m-2 7h0m-1 2h0m3 7h0m-10 9h0m10 0h0m0 2h0m0 1h0m-5 2h0m-5 1h0m2 0h0m6 2h0m1 1h0m1 0h0m-3 1h0m4 0h0m-4 1h0m2 1h0m1 2h0m1 0h0m-9 1h0m9 0h0m-11 1h0m9 0h0m0 4h0m-8 2h0m4 1h0m-3 1h0m2 0h0m-1 1h0m1 0h0m7 0h0m-10 1h0m1 0h0m5 0h0m1 0h0m-8 1h0m7 1h0m4 1h0m-6 1h0m2 0h0m4 0h0m-6 1h0m1 1h0m5 0h0m-10 1h0m1 1h0m1 0h0m-2 2h0m3 0h0m-1 1h0m-1 1h0m1 0h0m-3 1h0m8 0h0m-4 1h0m5 0h0m-9 1h0m5 0h0m0 1h0m4 1h0m-8 1h0m-1 1h0m5 0h0m2 0h0m1 0h0m3 1h0m-11 1h0m8 0h0m-4 1h0m-2 2h0m8 2h0m-10 1h0m2 4h0m6 0h0m-7 3h0m9 2h0m1 16h0m0 2h0m-3 10h0m-8 3h0m3 4h0m7 1h0m12-13h0m-6-12h0m3-6h0m-1-1h0m-5-1h0m5-3h0m1 0h0m4 0h0m-4-4h0m2 0h0m0-2h0m-7-1h0m5 0h0m-7-1h0m6-3h0m2-4h0m-3-1h0m-5-1h0m7 0h0m-1-2h0m-5-2h0m3 0h0m4 0h0m0-1h0m-2-1h0m-6-1h0m5-1h0m5 0h0m-10-2h0m4 0h0m5 0h0m-8-1h0m5-1h0m2-1h0m2-2h0m-3-1h0m-2-1h0m2 0h0m1 0h0m3-3h0m-11-1h0m2 0h0m7-1h0m1 0h0m-3-1h0m-3-1h0m2-1h0m3-2h0m2 0h0m-3-2h0m-2-1h0m-5-5h0m9-2h0m-7-5h0m7-8h0m-3-10h0m-7-15h0m8-4h0m9 7h0m-2 10h0m-1 9h0m3 6h0m-5 3h0m1 2h0m0 7h0m7 1h0m2 1h0m1 1h0m-11 1h0m1 0h0m5 0h0m-1 1h0m4 1h0m1 1h0m-9 1h0m6 0h0m-7 1h0m5 0h0m1 1h0m-1 1h0m1 0h0m3 0h0m-1 1h0m-5 4h0m7 0h0m-7 1h0m6 0h0m-4 2h0m6 2h0m0 1h0m-6 1h0m-1 1h0m1 0h0m2 2h0m4 1h0m-3 1h0m-7 1h0m1 0h0m7 0h0m-8 1h0m-1 1h0m6 0h0m-1 2h0m3 1h0m3 2h0m-10 1h0m5 0h0m3 1h0m2 1h0m-7 4h0m7 0h0m-2 1h0m-7 2h0m3 1h0m-4 1h0m8 0h0m-8 1h0m10 4h0m-7 8h0m6 0h0m-1 5h0m-8 20h0m6 3h0m5-14h0m1-8h0m0-9h0m0-5h0m-1-11h0m0-3h0m0-16h0m1-5h0m-1-5h0m1-4h0m-1-10h0m1-6h0m-1-11h0m1-5h0m29 112h0m-6-10h0m3 0h0m1 0h0m2-2h0m1 0h0m1-5h0m1 0h0m0-6h0m-6-7h0m8 0h0m-10-7h0m5-2h0m-1-4h0m5-4h0m-9-1h0m4-1h0m4-1h0m-5-2h0m1 0h0m-1-3h0m6-1h0m-9-2h0m10 0h0m-11-1h0m3 0h0m6 0h0m-7-5h0m5-1h0m-4-2h0m3 0h0m3 0h0m-1-1h0m-1-2h0m1 0h0m-2-1h0m-5-1h0m2 0h0m5 0h0m0-2h0m-2-1h0m-1-1h0m1-2h0m-4-1h0m1 0h0m1 0h0m1 0h0m1-1h0m-2-1h0m3 0h0m-2-1h0m6 0h0m-8-5h0m4-1h0m-1-5h0m0-9h0m2-2h0m-2-1h0m1 0h0m-5-5h0m5 0h0m14-17h0m-6 29h0m7 7h0m-7 3h0m6 2h0m-8 2h0m8 1h0m-9 6h0m7 0h0m-3 2h0m-4 1h0m11 1h0m-7 1h0m1 1h0m1 1h0m-6 1h0m9 1h0m-9 1h0m4 1h0m-2 1h0m1 1h0m-2 2h0m10 0h0m-1 1h0m1 0h0m-11 1h0m10 4h0m-1 1h0m-3 2h0m5 0h0m-9 1h0m0 2h0m-2 1h0m2 1h0m4 0h0m5 3h0m-10 2h0m10 0h0m-9 5h0m-2 5h0m2 4h0m-1 23h0m9 4h0m4-11h0m7-14h0m-7-3h0m-2-13h0m2 0h0m9 0h0m-4-2h0m-1-1h0m3 0h0m-5-1h0m1-3h0m3 0h0m-7-1h0m1 0h0m5 0h0m0-1h0m1 0h0m-4-1h0m6 0h0m-7-2h0m3 0h0m-4-2h0m5 0h0m4 0h0m-6-1h0m4 0h0m-4-1h0m1 0h0m5 0h0m-9-1h0m1-2h0m4 0h0m3-2h0m-10-3h0m9 0h0m1-1h0m-6-2h0m7-3h0m-5-1h0m-4-1h0m5 0h0m1-2h0m1-1h0m-4-1h0m-2-2h0m-1-1h0m-2-1h0m11 0h0m-10-1h0m3-3h0m4 0h0m-7-1h0m5-9h0m5-5h0m11-27h0m-10 28h0m8 1h0m0 2h0m-8 2h0m0 13h0m2 2h0m-1 3h0m0 3h0m7 0h0m3 1h0m-1 1h0m-10 7h0m10 0h0m-9 6h0m1 1h0m7 0h0m-8 1h0m0 2h0m9 0h0m1 0h0m-11 1h0m1 1h0m10 1h0m-1 1h0m0 2h0m-8 4h0m7 0h0m-9 2h0m0 1h0m11 2h0m-1 7h0m-10 4h0m1 0h0m10 5h0m-1 11h0m-1 6h0m5 1h0m-1-9h0m10-17h0m-7-5h0m-4-10h0m4-1h0m-2-3h0m5 0h0m3 0h0m-7-3h0m7-4h0m0-1h0m1-1h0m0-2h0m-2-1h0m2-1h0m-4-3h0m3-1h0m-9-5h0m9-4h0m1-2h0m-7-9h0m6 0h0m-9-2h0m-1-2h0m11-1h0m0-4h0m-11-5h0m0-1h0m10-2h0m2-4h0m5 1h0m0 1h0m-1 5h0m3 2h0m-5 3h0m1 2h0m2 1h0m2 4h0m-7 2h0m8 4h0m0 1h0m-2 2h0m-2 1h0m7 3h0m-5 2h0m-3 1h0m8 1h0m-11 1h0m0 2h0m3 0h0m5 2h0m0 1h0m-7 2h0m8 0h0m-1 3h0m-6 1h0m1 0h0m-2 3h0m4 1h0m6 0h0m-8 1h0m3 0h0m1 0h0m-7 1h0m4 0h0m3 0h0m-6 1h0m4 0h0m-5 1h0m5 4h0m-5 4h0m5 0h0m-1 2h0m-3 2h0m3 1h0m3 1h0m-4 5h0m3 4h0m1 0h0m-2 9h0m5 17h0m12-11h0m-2-7h0m-5-9h0m8 0h0m0-3h0m-5-17h0m4 0h0m-7-1h0m3 0h0m-3-2h0m3-3h0m-4-2h0m8 0h0m-3-4h0m-7-1h0m4 0h0m-2-2h0m4 0h0m-6-1h0m8 0h0m-5-1h0m3-1h0m-2-2h0m-1-1h0m2-1h0m3-1h0m-7-1h0m9-1h0m-2-1h0m-6-4h0m8 0h0m-10-1h0m3-1h0m3-1h0m-3-1h0m5-3h0m1-10h0m4-30h0m0 42h0m-1 6h0m1 0h0m0 5h0m-1 6h0m0 2h0m0 6h0m0 2h0m0 1h0m0 1h0m31-45h0m-2 12h0m-4 2h0m10 1h0m-4 5h0m4 2h0m-6 1h0m-1 2h0m1 1h0m-1 5h0m1 1h0m4 0h0m-2 1h0m1 0h0m-1 2h0m-7 5h0m5 0h0m-5 1h0m4 3h0m2 0h0m-3 4h0m6 0h0m-3 1h0m1 2h0m-1 1h0m0 6h0m-1 7h0m6 0h0m-5 7h0m3 2h0m-2 14h0m1 7h0m-2 8h0m17-32h0m-9-17h0m7-6h0m-6-5h0m8-1h0m-11-2h0m3 0h0m4-2h0m-5-1h0m2-2h0m4 0h0m1 0h0m-1-3h0m-6-3h0m8-1h0m-7-1h0m3-1h0m2 0h0m2-5h0m-3-3h0m-1-1h0m-5-3h0m3 0h0m6-2h0m-9-1h0m6-5h0m-7-1h0m6 0h0m-5-12h0m8-25h0m4 3h0m4 24h0m3 6h0m3 0h0m-6 6h0m-3 5h0m5 2h0m-3 1h0m-2 3h0m-1 2h0m5 0h0m-2 2h0m2 0h0m1 0h0m-6 3h0m3 0h0m-4 2h0m6 0h0m-3 1h0m5 0h0m-2 1h0m4 5h0m-10 1h0m7 0h0m-1 1h0m3 2h0m-7 1h0m4 1h0m-1 2h0m0 1h0m-5 4h0m11 4h0m-3 1h0m-6 10h0m-1 2h0m9 1h0m-10 1h0m6 1h0m-1 6h0m0 13h0m5 7h0m1 8h0m7-33h0m0-4h0m-3-2h0m1-3h0m2-1h0m-6-6h0m3-5h0m-2-1h0m1-1h0m3-2h0m-3-1h0m5 0h0m3-2h0m-4-1h0m-5-2h0m6-3h0m-7-1h0m0-3h0m5 0h0m6-1h0m-11-3h0m0-3h0m4 0h0m5-8h0m0-1h0m-9-2h0m4-2h0m0-7h0m-4-8h0m1 0h0m0-18h0m21 0h0m-10 6h0m2 20h0m-1 9h0m1 6h0m-1 3h0m6 0h0m-5 1h0m7 2h0m-4 2h0m6 2h0m0 1h0m-6 1h0m-4 1h0m3 1h0m-3 3h0m-1 2h0m3 0h0m7 0h0m-8 1h0m5 0h0m-6 1h0m2 4h0m7 1h0m-10 3h0m1 5h0m7 0h0m-6 1h0m2 1h0m-1 2h0m2 0h0m-2 4h0m3 1h0m-4 10h0m-2 4h0m4 0h0m11 28h0m3-24h0m-1-6h0m-5-6h0m9-1h0m-7-3h0m3-1h0m0-2h0m-1-1h0m7-3h0m-11-2h0m9 0h0m-9-2h0m0-1h0m5-1h0m2 0h0m2-5h0m-5-1h0m5 0h0m-1-2h0m0-1h0m-7-1h0m1-1h0m3-1h0m-1-1h0m4 0h0m-2-1h0m-1-2h0m3 0h0m0-1h0m-1-1h0m-2-1h0m-2-1h0m-2-1h0m2-2h0m3 0h0m2 0h0m-8-1h0m6 0h0m-4-5h0m7 0h0m-6-2h0m-2-3h0m0-2h0m5 0h0m1-1h0m-3-1h0m1 0h0m-1-3h0m3-1h0m-5-2h0m5-3h0m1-2h0m-3-5h0m1-2h0m-2-1h0m5 0h0m0-9h0m-1-4h0m5-6h0m7 7h0m3 11h0m-11 21h0m0 2h0m2 1h0m0 2h0m4 5h0m4 0h0m-1 1h0m-1 2h0m0 1h0m-3 8h0m-5 1h0m11 3h0m-3 4h0m-8 1h0m8 0h0m0 3h0m0 2h0m1 0h0m-1 6h0m3 8h0m-6 4h0m7 37h0m1-56h0m-1-2h0m0-5h0m1 0h0m0-1h0m0-5h0m0-3h0m0-12h0m-1-2h0m32 50h0m0-5h0m1-2h0m-8-3h0m1 0h0m-2-1h0m0-1h0m1 0h0m6-4h0m2-2h0m-8-1h0m2-1h0m8-1h0m-6-2h0m-4-3h0m1 0h0m8-1h0m-1-1h0m1 0h0m-10-2h0m9-3h0m-9-1h0m7-1h0m1 0h0m1-1h0m-8-1h0m7-1h0m-6-1h0m0-5h0m2 0h0m-1-2h0m2-2h0m3 0h0m2 0h0m-6-3h0m-2-5h0m5 0h0m4-7h0m-8-10h0m7 0h0m-9-9h0m2-11h0m18 10h0m-3 16h0m-2 9h0m3 3h0m1 5h0m-5 1h0m8 1h0m0 1h0m-4 1h0m4 0h0m-9 3h0m5 0h0m-4 1h0m5 0h0m3 0h0m-1 2h0m-9 2h0m3 0h0m3 0h0m3 0h0m1 2h0m-1 1h0m-10 1h0m3 0h0m7 0h0m-1 2h0m2 0h0m-8 1h0m7 0h0m1 0h0m-1 2h0m0 1h0m-8 1h0m9 0h0m-8 1h0m7 0h0m-9 1h0m9 1h0m-10 2h0m1 1h0m5 2h0m3 0h0m-5 1h0m6 1h0m-3 6h0m3 1h0m-4 3h0m-6 2h0m11 1h0m-1 4h0m-10 20h0m18 12h0m2-3h0m-7-12h0m3-4h0m4-8h0m3-5h0m-4-9h0m-2-1h0m-4-2h0m5-1h0m5-1h0m-1-6h0m-1-1h0m-7-1h0m9-2h0m-4-3h0m1 0h0m2 0h0m1 0h0m-2-4h0m-9-1h0m11 0h0m0-1h0m-5-2h0m5 0h0m-11-2h0m6-2h0m0-1h0m3 0h0m-5-2h0m6 0h0m0-2h0m-1-2h0m-3-1h0m0-8h0m1 0h0m-3-1h0m5-5h0m1-1h0m-3-3h0m1-4h0m4-8h0m3 2h0m1 3h0m1 4h0m-3 6h0m-1 6h0m-1 1h0m9 4h0m-4 4h0m-3 3h0m-1 1h0m1 0h0m3 0h0m0 1h0m-3 2h0m-2 1h0m0 1h0m7 1h0m-6 4h0m1 0h0m-2 3h0m3 4h0m3 0h0m-2 1h0m-3 1h0m3 0h0m-3 3h0m3 0h0m-1 6h0m-2 4h0m-1 2h0m0 1h0m1 0h0m0 1h0m0 5h0m7 16h0m-5 1h0m12 0h0m1-4h0m3-3h0m-7-25h0m4-8h0m2 0h0m2-1h0m-6-2h0m1-1h0m-1-2h0m1 0h0m5 0h0m2 0h0m-6-1h0m5-1h0m-5-2h0m2 0h0m-5-2h0m-1-1h0m0-1h0m2 0h0m5-2h0m-4-7h0m5-1h0m1-8h0m-7-2h0m1-3h0m1 0h0m6-2h0m-5-8h0m-1-18h0m13 0h0m-3 1h0m-2 12h0m10 0h0m-8 13h0m0 1h0m0 8h0m4 2h0m5 1h0m-2 6h0m0 3h0m-6 2h0m-3 1h0m11 0h0m-3 3h0m-5 1h0m-1 1h0m2 0h0m0 3h0m6 0h0m-10 1h0m2 0h0m8 0h0m-1 1h0m-6 1h0m5 2h0m-1 1h0m1 1h0m2 2h0m-3 1h0m2 0h0m-7 3h0m8 1h0m-9 1h0m6 1h0m3 0h0m-6 1h0m6 2h0m0 4h0m0 6h0m-9 11h0m1 0h0m5 19h0m16 9h0m-4-5h0m1-13h0m-5-1h0m5-4h0m-1-19h0m-3-4h0m-1-1h0m1 0h0m2-3h0m-5-2h0m7-3h0m3 0h0m-4-1h0m-4-1h0m5-1h0m-7-5h0m3 0h0m7-1h0m-9-1h0m9 0h0m-8-1h0m2 0h0m2 0h0m-6-2h0m-1-2h0m3 0h0m2 0h0m-5-2h0m4-2h0m-4-1h0m4 0h0m6-3h0m-3-2h0m-1-2h0m5 0h0m-7-1h0m-4-1h0m3-1h0m7-3h0m-6-1h0m5 0h0m2-16h0m-5-6h0m6 27h0m0 3h0m0 1h0m0 9h0m1 0h0m-1 7h0m1 14h0m22-18h0m0-13h0m5-37h0m4 4h0m-2 10h0m-1 1h0m6 1h0m-6 7h0m-4 4h0m-1 2h0m9 0h0m-4 2h0m-3 1h0m0 1h0m3 2h0m-3 6h0m4 0h0m2 0h0m3 0h0m-10 1h0m4 0h0m-4 1h0m3 0h0m2 1h0m-5 1h0m-1 1h0m2 2h0m3 2h0m0 1h0m5 0h0m-10 1h0m1 0h0m4 0h0m2 0h0m1 0h0m1 1h0m-2 1h0m-1 1h0m-5 1h0m6 0h0m1 0h0m3 0h0m0 3h0m-2 1h0m-8 1h0m1 1h0m1 0h0m5 0h0m3 4h0m-2 3h0m0 2h0m-6 2h0m1 1h0m1 1h0m6 0h0m-10 7h0m6 1h0m2 1h0m-9 12h0m9 0h0m-7 6h0m-2 2h0m14 12h0m-1-15h0m3-1h0m-4-13h0m3-4h0m-2-2h0m1-7h0m-1-3h0m1 0h0m3 0h0m-1-1h0m-3-1h0m5 0h0m-2-2h0m-2-2h0m4-1h0m-3-2h0m7-1h0m-9-1h0m2 0h0m1 0h0m1 0h0m3 0h0m-8-1h0m7-1h0m-3-1h0m6-2h0m-9-3h0m5 0h0m-4-3h0m3-1h0m5-1h0m-3-1h0m-7-2h0m3 0h0m5-4h0m-7-1h0m5-3h0m-4-2h0m5 0h0m1-4h0m-8-6h0m8-2h0m-5-1h0m3-1h0m-6-1h0m11 0h0m-1-3h0m-7-18h0m-3-10h0m13 20h0m2 17h0m-2 1h0m8 1h0m-5 4h0m7 0h0m-1 2h0m-10 1h0m1 2h0m10 0h0m-11 1h0m5 1h0m4 0h0m2 2h0m-1 1h0m-5 2h0m-4 2h0m3 3h0m-4 1h0m10 0h0m-5 1h0m-5 2h0m11 0h0m-6 1h0m-3 5h0m-1 1h0m0 2h0m10 1h0m-2 2h0m-8 4h0m2 0h0m4 2h0m4 1h0m-7 3h0m-4 1h0m4 2h0m-1 9h0m-2 10h0m9 11h0m-8 3h0m10 8h0m1-4h0m7 0h0m-5-21h0m-2-6h0m7-8h0m3-6h0m-9-1h0m3 0h0m0-6h0m2 0h0m-1-3h0m3 0h0m-4-4h0m-4-1h0m6-1h0m-7-1h0m6-1h0m0-1h0m3 0h0m1-2h0m1 0h0m-9-1h0m1 0h0m4 0h0m-4-1h0m1 0h0m1 0h0m-4-1h0m9 0h0m-9-3h0m0-3h0m1 0h0m1-1h0m5 0h0m1 0h0m-4-1h0m1 0h0m1-1h0m2 0h0m-7-1h0m5 0h0m-4-1h0m-1-1h0m6 0h0m-1-1h0m-4-2h0m-1-1h0m1 0h0m1 0h0m5 0h0m-7-1h0m8 0h0m-7-2h0m1-7h0m7-3h0m-8-4h0m-3-9h0m0-6h0m0-8h0m3-3h0m15 6h0m1 28h0m3 0h0m-1 6h0m-7 3h0m8 2h0m-3 1h0m-4 1h0m8 4h0m-2 2h0m1 2h0m1 1h0m-2 1h0m2 1h0m-7 1h0m3 0h0m4 0h0m-11 3h0m0 1h0m9 3h0m-3 1h0m5 0h0m-6 1h0m6 0h0m-9 7h0m2 0h0m6 1h0m0 1h0m-9 1h0m8 2h0m-4 2h0m-4 3h0m5 0h0m5 1h0m0 38h0m12 4h0m-11-9h0m8-8h0m-6-4h0m-2-6h0m10-1h0m-6-5h0m-4-5h0m3 0h0m2-1h0m-1-2h0m1-2h0m4 0h0m-9-1h0m3 0h0m4-2h0m-5-2h0m5 0h0m3 0h0m-6-3h0m2 0h0m-4-1h0m3-2h0m5 0h0m-8-1h0m-2-1h0m1 0h0m2 0h0m-2-1h0m8 0h0m-4-2h0m-4-2h0m6 0h0m-7-1h0m2 0h0m8 0h0m-1-2h0m-9-1h0m11 0h0m0-1h0m-4-1h0m-2-2h0m-3-2h0m-1-1h0m1 0h0m6 0h0m-8-1h0m5 0h0m5-1h0m-9-1h0m8 0h0m-9-1h0m2-1h0m9 0h0m-9-3h0m0-1h0m8 0h0m-5-1h0m-5-2h0m2 0h0m7-1h0m-4-1h0m0-1h0m1-10h0m-6-8h0m6 0h0m5-2h0m-9-9h0m-2-1h0m1 0h0m2-14h0m16-3h0m4 12h0m-9 12h0m3 21h0m4 0h0m-8 1h0m2 3h0m5 0h0m-5 4h0m4 0h0m3 1h0m-9 2h0m5 0h0m1 2h0m-3 2h0m2 0h0m-6 1h0m1 0h0m7 2h0m-4 1h0m2 0h0m0 1h0m5 0h0m-5 1h0m2 1h0m-6 1h0m9 2h0m-6 1h0m1 1h0m5 1h0m-11 1h0m3 0h0m4 0h0m-6 1h0m0 1h0m10 2h0m-10 1h0m2 1h0m1 0h0m7 0h0m-7 1h0m1 0h0m1 1h0m1 0h0m1 0h0m-6 2h0m7 0h0m1 0h0m-1 1h0m-8 3h0m2 5h0m0 2h0m6 2h0m-5 8h0m4 0h0m-2 3h0m-1 4h0m-4 2h0m10 7h0m24-34h0m1 45h0m0-5h0m7-7h0m-5-1h0m-2-8h0m9-14h0m0-2h0m-7-1h0m6-4h0m-7-1h0m9-1h0m-6-1h0m6 0h0m1-7h0m-8-1h0m4 0h0m3-1h0m-7-6h0m-2-3h0m7 0h0m0-1h0m-6-1h0m1 0h0m5-2h0m-8-2h0m7-1h0m1-1h0m-3-1h0m1 0h0m0-1h0m-6-3h0m5-2h0m-3-1h0m8 0h0m0-1h0m-8-2h0m7-11h0m-7-3h0m8 0h0m-8-5h0m2-16h0m-4-4h0m6-11h0m6 29h0m3 6h0m7 5h0m1 2h0m-11 1h0m2 1h0m0 2h0m5 1h0m4 0h0m-8 1h0m6 1h0m1 0h0m1 0h0m-7 1h0m-4 2h0m3 0h0m-1 1h0m9 3h0m-10 1h0m-1 3h0m4 0h0m7 2h0m-9 1h0m1 0h0m2 1h0m4 0h0m-3 1h0m-4 1h0m8 1h0m1 0h0m-11 3h0m2 0h0m-2 1h0m1 5h0m-1 1h0m9 0h0m-5 2h0m-2 3h0m1 0h0m7 3h0m-5 1h0m6 2h0m-4 6h0m4 0h0m-10 13h0m-1 1h0m8 7h0m-8 2h0m2 14h0m11-19h0m2 0h0m7-5h0m-6-1h0m-1-5h0m7 0h0m1-3h0m-5-2h0m-2-1h0m1 0h0m5-2h0m1 0h0m-3-1h0m-4-3h0m2-2h0m3 0h0m-7-1h0m2-1h0m1-2h0m-4-2h0m-1-1h0m2-1h0m6 0h0m-8-1h0m6 0h0m-3-2h0m0-1h0m-3-1h0m2 0h0m2 0h0m3 0h0m-2-1h0m-3-1h0m-2-1h0m3-1h0m1-2h0m0-2h0m1-3h0m1 0h0m1 0h0m-4-1h0m2-1h0m-1-1h0m5-1h0m-7-1h0m4 0h0m-1-3h0m-1-3h0m2-2h0m2 0h0m-2-4h0m-5-1h0m2 0h0m-2-2h0m3-2h0m6-1h0m-9-3h0m1 0h0m-2-7h0m0-1h0m0-2h0m2-4h0m-2-19h0m20-3h0m-4 3h0m-4 1h0m5 4h0m-2 8h0m3 3h0m-2 20h0m-3 1h0m3 0h0m6 5h0m-9 2h0m10 0h0m-9 1h0m4 1h0m-3 1h0m1 0h0m-4 1h0m2 3h0m3 0h0m-4 1h0m1 3h0m2 2h0m-3 1h0m9 3h0m-6 1h0m-1 2h0m2 0h0m-2 2h0m5 1h0m-3 1h0m2 0h0m-4 3h0m5 0h0m-3 2h0m3 0h0m-5 1h0m-3 1h0m3 0h0m0 1h0m7 0h0m-10 1h0m2 0h0m2 1h0m3 3h0m-5 1h0m0 1h0m5 1h0m2 0h0m-2 2h0m-3 2h0m2 0h0m-2 2h0m0 1h0m-1 5h0m3 4h0m-3 3h0m5 5h0m-1 16h0m12-3h0m-1-2h0m-4-1h0m0-1h0m2-14h0m7-4h0m-10-2h0m-1-5h0m10-2h0m-9-2h0m-1-3h0m1-5h0m10 0h0m-10-1h0m1-2h0m6-1h0m-2-3h0m-3-2h0m3-2h0m4 0h0m-7-1h0m7 0h0m-3-1h0m1 0h0m0-1h0m1-3h0m-8-2h0m8-1h0m-6-2h0m5-1h0m1-3h0m-4-1h0m4 0h0m-6-1h0m1-2h0m-3-3h0m2 0h0m8 0h0m-11-1h0m7 0h0m4-5h0m-9-1h0m4-1h0m-1-2h0m0-3h0m-3-2h0m4-3h0m0-1h0m-3-1h0m6-24h0m6-8h0m2 2h0m1 7h0m-2 12h0m-3 2h0m9 2h0m-6 5h0m-3 2h0m2 5h0m5 3h0m1 1h0m-8 1h0m-1 6h0m3 0h0m5 0h0m3 0h0m-6 1h0m1 1h0m-1 1h0m4 0h0m1 0h0m-9 1h0m6 1h0m0 1h0m2 0h0m-7 1h0m4 1h0m5 0h0m-11 1h0m7 0h0m-2 1h0m-1 1h0m3 1h0m-2 1h0m5 0h0m-5 2h0m5 0h0m-6 2h0m7 2h0m-8 1h0m5 1h0m-7 1h0m4 0h0m3 0h0m-4 3h0m-4 1h0m4 0h0m7 0h0m-2 1h0m0 1h0m2 0h0m-10 1h0m2 0h0m3 0h0m4 0h0m-5 4h0m4 1h0m2 0h0m-6 1h0m2 0h0m-7 4h0m5 3h0m1 0h0m1 9h0m4 0h0m-1 1h0m-10 5h0m11 0h0m-10 3h0m6 0h0m4 9h0m-10 4h0m18 11h0m-4-5h0m-2-18h0m-1-4h0m1-5h0m2 0h0m-2-1h0m1-4h0m8-2h0m-8-3h0m1 0h0m0-2h0m2 0h0m-4-1h0m0-2h0m1-1h0m-2-1h0m5-1h0m6-2h0m-10-1h0m3 0h0m-2-1h0m6-1h0m2 0h0m-8-2h0m9 0h0m-9-1h0m2 0h0m-3-1h0m-1-1h0m9-1h0m-7-1h0m2-1h0m3 0h0m-7-1h0m2 0h0m0-1h0m3 0h0m-5-3h0m2-1h0m1 0h0m1 0h0m-1-2h0m2-3h0m0-2h0m5 0h0m-8-2h0m-1-1h0m8-2h0m-9-1h0m1 0h0m0-1h0m7-1h0m-5-4h0m7-1h0m-10-1h0m1 0h0m10 0h0m-4-3h0m-4-1h0m-3-1h0m11-5h0m-8-4h0m7 0h0m-4-4h0m5-8h0m-9-6h0m-1-3h0m3-10h0m8 44h0m0 32h0m0 1h0m0 6h0m23 12h0m0-10h0m3-49h0m8 2h0m-10 5h0m8 0h0m-8 2h0m9 3h0m2 4h0m-10 1h0m2 5h0m5 0h0m0 1h0m-7 1h0m2 1h0m6 0h0m1 0h0m0 4h0m-5 1h0m-4 1h0m5 0h0m-1 1h0m1 0h0m2 1h0m1 0h0m-9 1h0m1 4h0m4 0h0m2 1h0m1 0h0m-6 1h0m6 1h0m-8 2h0m10 0h0m-4 3h0m-1 3h0m0 2h0m-4 1h0m-1 1h0m2 0h0m8 5h0m-10 1h0m11 0h0m-3 1h0m-5 13h0m6 8h0m11-20h0m-5-3h0m0-1h0m5-7h0m-6-3h0m4-2h0m0-1h0m-6-1h0m6-1h0m-1-2h0m-2-1h0m5-1h0m-2-2h0m-5-4h0m8 0h0m-7-4h0m9-3h0m-7-4h0m-4-2h0m4-1h0m3-6h0m-2-5h0m4-7h0m1-19h0m2 4h0m5 15h0m-2 1h0m2 5h0m2 9h0m2 1h0m-6 2h0m-2 3h0m2 0h0m8 1h0m-4 2h0m-4 3h0m3 1h0m-1 1h0m3 2h0m1 2h0m-5 2h0m3 0h0m-7 1h0m8 1h0m-4 2h0m-2 1h0m9 0h0m-10 1h0m3 0h0m-4 1h0m7 0h0m-5 2h0m3 0h0m4 0h0m-1 1h0m2 3h0m-9 1h0m-1 1h0m10 0h0m-1 10h0m3 43h0m4-3h0m-1-13h0m1-2h0m-1-6h0m4-26h0m-4-9h0m2-3h0m-5-3h0m6 0h0m1 0h0m-3-3h0m6 0h0m-8-5h0m6-1h0m-3-1h0m-4-5h0m4-1h0m-1-4h0m-2-1h0m7-5h0m-9-14h0m21-22h0m-8 20h0m5 10h0m-5 2h0m6 0h0m3 1h0m-2 4h0m-3 2h0m-1 3h0m6 1h0m-9 1h0m8 2h0m-2 4h0m2 0h0m2 0h0m-7 1h0m6 0h0m-6 1h0m-1 2h0m6 0h0m-4 2h0m3 3h0m3 0h0m-3 1h0m-6 1h0m3 0h0m4 0h0m0 1h0m1 2h0m-6 2h0m-3 2h0m1 0h0m2 4h0m4 0h0m-3 4h0m-5 1h0m1 4h0m2 1h0m3 0h0m5 0h0m-1 2h0m-6 10h0m2 6h0m-5 4h0m17 9h0m-4-10h0m3-2h0m-4-15h0m6-1h0m0-5h0m-7-3h0m3 0h0m7 0h0m-10-1h0m10-2h0m-8-2h0m2 0h0m1-1h0m-3-4h0m5-2h0m-2-1h0m-5-1h0m6 0h0m-5-1h0m7-1h0m-8-2h0m3-1h0m2-2h0m1 0h0m0-3h0m3-2h0m-7-3h0m2 0h0m-1-1h0m4 0h0m-4-2h0m1-1h0m0-1h0m-4-2h0m3-1h0m8-2h0m0-4h0m-7-10h0m6 0h0m-5-19h0m3-7h0m9 42h0m2 1h0m-7 16h0m6 2h0m4 0h0m-1 12h0m2 2h0m-10 7h0m9 15h0m2-48h0m0-5h0m23-2h0m0 7h0m0 5h0m0 13h0m0 12h0m1 33h0m11-2h0m-2-19h0m-5-3h0m4-4h0m-3-3h0m5-2h0m0-1h0m1 0h0m-8-3h0m5 0h0m1 0h0m-6-4h0m8 0h0m-6-4h0m2 0h0m2 0h0m-2-1h0m-2-4h0m2-1h0m1-2h0m2-1h0m-3-1h0m1 0h0m-4-1h0m2 0h0m2 0h0m-1-1h0m3-4h0m-2-3h0m1 0h0m2-3h0m0-8h0m-7-3h0m5-5h0m-3-5h0m5-2h0m-4-10h0m5 5h0m6 10h0m-2 10h0m0 5h0m4 2h0m-8 3h0m5 1h0m-4 1h0m7 0h0m-3 1h0m3 2h0m-1 2h0m-5 1h0m1 3h0m-1 1h0m8 0h0m-8 3h0m6 2h0m-2 2h0m-3 12h0m1 5h0m1 1h0m-4 6h0m5 5h0m-2 7h0m2 0h0m-2 6h0m1 14h0m21-113h0m9 5h0m-3 27h0m-4 3h0m6 1h0m1 1h0m-5 4h0m5 0h0m-2 1h0m-4 2h0m-1 2h0m6 1h0m-3 2h0m4 1h0m-5 1h0m3 0h0m1 1h0m-1 1h0m1 0h0m-4 1h0m1 0h0m1 0h0m-4 2h0m2 1h0m0 6h0m3 5h0m1 2h0m-6 19h0m3 0h0m-3 24h0m5 6h0m10-33h0m1-6h0m-6-1h0m7-4h0m0-6h0m1 0h0m-7-2h0m5 0h0m1-1h0m-6-1h0m-1-1h0m3-1h0m5 0h0m-1-1h0m-1-1h0m1 0h0m-4-1h0m6-2h0m-2-1h0m0-1h0m-8-3h0m1 0h0m5 0h0m2-1h0m-6-1h0m3-1h0m1 0h0m2-1h0m-3-3h0m-1-1h0m1-2h0m4-1h0m0-2h0m-6-3h0m6-6h0m-10-6h0m9-4h0m1-1h0m-8-12h0m7-5h0m-3-13h0m7 3h0m3 9h0m2 0h0m5 14h0m-1 4h0m1 3h0m-6 4h0m-3 4h0m1 1h0m4 1h0m-1 1h0m-4 1h0m-2 1h0m5 1h0m5 0h0m-9 1h0m2 2h0m8 0h0m-11 2h0m4 2h0m1 0h0m-1 1h0m6 0h0m-10 1h0m10 2h0m-1 1h0m-9 1h0m10 0h0m-10 2h0m4 1h0m-1 1h0m2 0h0m-4 2h0m6 1h0m4 1h0m-2 2h0m-8 4h0m-1 2h0m5 4h0m0 6h0m6 0h0m-1 7h0m-6 2h0m0 4h0m6 29h0m7-1h0m6-1h0m-3-15h0m-4-1h0m4-12h0m-4-2h0m5-2h0m-4-1h0m0-2h0m-5-4h0m5-1h0m-2-1h0m-3-4h0m5 0h0m2 0h0m3 0h0m-3-1h0m3 0h0m1 0h0m-6-2h0m-4-1h0m10 0h0m-4-1h0m-5-1h0m2 0h0m-4-1h0m4 0h0m-3-1h0m5 0h0m2 0h0m-2-1h0m1 0h0m-2-1h0m2-1h0m-6-2h0m8 0h0m-7-2h0m4 0h0m1 0h0m-6-2h0m6-2h0m-7-1h0m6 0h0m-6-2h0m6 0h0m3 0h0m1-2h0m1 0h0m-5-4h0m1 0h0m3 0h0m-7-1h0m7-1h0m-4-1h0m1 0h0m3-2h0m-5-3h0m5 0h0m-1-2h0m-4-4h0m5-1h0m0-2h0m-10-5h0m6 0h0m-5-4h0m0-14h0m4-5h0m6-2h0m-11-10h0m4-1h0m8 23h0m23 40h0m0-4h0m0-1h0m0-5h0m0-43h0m0-2h0m8 20h0m1 1h0m-7 2h0m1 5h0m6 2h0m1 1h0m-8 2h0m4 4h0m-5 1h0m9 1h0m-2 1h0m-4 2h0m-1 2h0m6 0h0m2 0h0m1 0h0m-6 1h0m3 1h0m-6 1h0m0 1h0m1 0h0m5 1h0m-3 1h0m4 0h0m0 1h0m-7 3h0m2 1h0m4 0h0m-6 1h0m3 0h0m4 0h0m-3 1h0m-6 1h0m4 3h0m5 1h0m-7 1h0m7 0h0m1 1h0m-7 2h0m3 0h0m1 1h0m-7 2h0m4 0h0m-3 1h0m4 0h0m-4 1h0m1 1h0m3 5h0m3 0h0m-6 3h0m1 2h0m3 5h0m-2 2h0m2 4h0m2 0h0m2 1h0m-10 1h0m0 2h0m5 4h0m3 16h0m14 9h0m1-30h0m0-9h0m-3-4h0m-4-2h0m4-4h0m-8-1h0m5 0h0m6 0h0m-1-1h0m-6-1h0m7 0h0m-11-1h0m10-3h0m-7-1h0m5-8h0m1-1h0m1-1h0m-1-1h0m2 0h0m-1-2h0m-10-2h0m10 0h0m1 0h0m-3-1h0m-7-1h0m9-2h0m-9-3h0m5 0h0m5-2h0m0-1h0m-9-1h0m8-1h0m0-8h0m-6-5h0m6 0h0m-9-14h0m1-3h0m-1-8h0m10-9h0m-7-3h0m14 16h0m-5 12h0m3 3h0m6 1h0m-7 8h0m-2 1h0m-1 3h0m10 1h0m-9 7h0m8 1h0m-9 1h0m10 1h0m-8 1h0m7 0h0m-7 1h0m1 0h0m-1 1h0m0 1h0m1 0h0m3 0h0m-1 1h0m3 0h0m2 0h0m-5 2h0m-2 1h0m0 2h0m-2 2h0m2 1h0m7 3h0m-2 1h0m0 1h0m-7 1h0m3 0h0m-1 3h0m6 0h0m-9 1h0m3 2h0m1 2h0m6 8h0m-7 1h0m6 8h0m-9 9h0m22 16h0m-5-4h0m5-5h0m-3-12h0m2 0h0m-9-6h0m10-6h0m-7-3h0m4-1h0m-3-1h0m0-4h0m2 0h0m-2-1h0m3-2h0m-6-1h0m6-1h0m3 0h0m-6-1h0m4 0h0m-4-2h0m1 0h0m-3-2h0m4 0h0m2 0h0m-3-1h0m3 0h0m-5-1h0m2 0h0m5 0h0m-6-1h0m5 0h0m-2-2h0m-3-1h0m3-2h0m3-2h0m-7-1h0m5 0h0m3 0h0m-1-1h0m-1-1h0m1-1h0m-7-1h0m2 0h0m0-1h0m-2-1h0m6 0h0m-4-1h0m1 0h0m5-2h0m-10-2h0m3-3h0m5 0h0m-2-3h0m1-1h0m-3-5h0m4-5h0m-5-4h0m-3-12h0m10-3h0m6-16h0m0 8h0m-3 32h0m6 0h0m-8 1h0m6 1h0m-5 3h0m9 3h0m-10 3h0m4 0h0m3 5h0m-3 2h0m-2 1h0m1 3h0m6 0h0m-3 2h0m0 1h0m4 1h0m-4 1h0m1 0h0m-5 2h0m3 0h0m-2 1h0m6 1h0m-6 1h0m0 3h0m1 3h0m5 1h0m-9 2h0m3 0h0m8 3h0m-2 2h0m2 0h0m-1 1h0m-10 5h0m11 1h0m-9 4h0m2 0h0m-4 6h0m0 3h0m4 0h0m4 0h0m0 1h0m9 24h0m6 0h0m-1-7h0m-8-9h0m2-5h0m4-3h0m-1-5h0m-7-4h0m9-2h0m-5-1h0m4-1h0m-1-2h0m1 0h0m-6-5h0m6 0h0m-5-2h0m1-3h0m2 0h0m2-3h0m1-1h0m-4-1h0m-2-2h0m2 0h0m-1-1h0m5-2h0m-6-1h0m4 0h0m4-1h0m-3-1h0m3-1h0m-11-4h0m0-1h0m5-2h0m6-2h0m-3-2h0m3-1h0m-7-3h0m3-1h0m-3-1h0m4 0h0m0-5h0m-8-1h0m0-1h0m11-8h0m1-10h0m5 16h0m-4 3h0m9 5h0m-8 1h0m-2 2h0m1 3h0m3 0h0m2 0h0m-4 2h0m-2 1h0m4 0h0m3 0h0m-7 6h0m6 0h0m4 1h0m0 1h0m-9 1h0m-1 1h0m0 1h0m2 0h0m1 1h0m-2 1h0m5 1h0m4 1h0m-3 1h0m2 3h0m2 1h0m-9 2h0m3 1h0m2 1h0m4 1h0m-10 2h0m8 3h0m-9 1h0m1 0h0m10 7h0m-8 3h0m3 0h0m-6 1h0m4 0h0m2 3h0m0 5h0m5 14h0m-2 1h0m-1 2h0m4-80h0m23 13h0m0 2h0m0 5h0m0 1h0m0 14h0m9 53h0m-1-12h0m-4-3h0m4-10h0m0-1h0m-7-5h0m8-1h0m-1-7h0m-1-2h0m2-1h0m-7-3h0m8 0h0m-3-2h0m-6-1h0m1 0h0m1 0h0m2-1h0m-3-4h0m8 0h0m-6-1h0m0-2h0m4 0h0m-1-1h0m1 0h0m-2-1h0m0-1h0m1-1h0m2-1h0m-8-1h0m2 0h0m4 0h0m2 0h0m-8-2h0m3 0h0m4-1h0m-1-2h0m1-1h0m1-1h0m-7-3h0m-1-1h0m7 0h0m0-2h0m-7-1h0m4 0h0m2-1h0m-6-1h0m4 0h0m6 0h0m-5-2h0m0-2h0m-4-1h0m7-1h0m-2-5h0m3 0h0m2 0h0m-5-2h0m1 0h0m4-1h0m-3-7h0m-4-1h0m2-11h0m-4-6h0m6-7h0m10 9h0m-5 23h0m3 1h0m-3 2h0m9 4h0m-7 1h0m-2 1h0m10 3h0m-9 2h0m4 0h0m4 2h0m-4 1h0m2 4h0m0 1h0m-7 3h0m7 0h0m2 1h0m-10 3h0m4 0h0m0 1h0m6 0h0m-1 2h0m-6 1h0m1 1h0m4 0h0m-2 2h0m-1 1h0m-5 1h0m4 0h0m-1 5h0m2 2h0m-3 1h0m3 0h0m-2 11h0m1 15h0m2 1h0m-6 2h0m6 13h0m14-20h0m-2-6h0m3-4h0m-8-6h0m2-2h0m1-1h0m7-1h0m-9-3h0m5-1h0m-7-1h0m5-2h0m1-2h0m-1-1h0m1-1h0m0-2h0m-3-3h0m2-2h0m-1-4h0m4 0h0m-3-1h0m-3-1h0m3 0h0m1 0h0m5-2h0m-2-5h0m-8-2h0m1 0h0m7-2h0m-9-2h0m2-2h0m6 0h0m3-1h0m-8-1h0m6-1h0m2-2h0m-9-1h0m9 0h0m0-5h0m-11-11h0m6-3h0m-3-13h0m9-13h0m6 9h0m-4 12h0m1 4h0m3 5h0m-3 5h0m-2 2h0m9 0h0m-10 3h0m5 1h0m5 0h0m-6 4h0m-3 1h0m3 0h0m2 0h0m3 0h0m1 0h0m-10 1h0m7 1h0m-1 2h0m-1 1h0m-5 1h0m8 0h0m-5 3h0m2 2h0m2 0h0m2 1h0m-3 1h0m1 1h0m1 0h0m-1 1h0m-3 3h0m1 0h0m1 3h0m-3 3h0m1 1h0m2 3h0m1 2h0m1 0h0m-6 1h0m2 0h0m7 0h0m-7 4h0m2 0h0m-4 1h0m4 3h0m1 0h0m-4 3h0m1 1h0m-3 1h0m2 0h0m5 0h0m3 4h0m-7 2h0m6 1h0m-10 1h0m3 8h0m4 0h0m4 7h0m0 1h0m-11 23h0m17-14h0m-2-1h0m0-20h0m0-10h0m-2-4h0m2-2h0m-1-1h0m-2-2h0m2-1h0m8 0h0m-9-2h0m4-3h0m3-3h0m-3-1h0m2-3h0m3-1h0m-5-1h0m-2-1h0m3 0h0m0-3h0m0-2h0m-3-1h0m1 0h0m1 0h0m4 0h0m-9-1h0m5 0h0m2 0h0m-5-5h0m1 0h0m3-3h0m-2-1h0m1-2h0m3-2h0m-1-2h0m3-11h0m1-3h0m-9-2h0m3-18h0m0-11h0m9 9h0m5 11h0m-7 12h0m8 1h0m-7 6h0m4 1h0m-5 2h0m4 2h0m-3 1h0m6 0h0m3 1h0m0 2h0m1 0h0m-6 1h0m-4 3h0m1 0h0m9 2h0m-3 1h0m2 1h0m0 1h0m-7 1h0m0 1h0m-2 1h0m5 0h0m2 0h0m1 1h0m-7 1h0m2 1h0m3 0h0m3 0h0m0 1h0m-5 1h0m-5 1h0m1 0h0m-1 1h0m3 0h0m-2 1h0m0 1h0m6 0h0m-7 1h0m2 0h0m-1 1h0m10 0h0m-10 2h0m10 0h0m-10 1h0m1 0h0m8 0h0m-3 2h0m4 0h0m-3 2h0m-1 1h0m-7 1h0m2 0h0m6 2h0m-2 1h0m0 2h0m-3 3h0m-3 1h0m1 5h0m9 1h0m-2 2h0m-6 1h0m-2 3h0m11 3h0m-11 1h0m5 1h0m6 1h0m-9 2h0m5 9h0m1 2h0m6 17h0m-2-1h0m2-2h0m0-1h0m7-12h0m-8-3h0m1-3h0m8-10h0m-8-2h0m1-4h0m-2-2h0m8-1h0m-5-4h0m3 0h0m-1-2h0m2 0h0m-7-2h0m1-1h0m6-1h0m-8-1h0m0-2h0m10-1h0m-10-1h0m0-5h0m2 0h0m-2-2h0m4 0h0m-2-1h0m2 0h0m5-1h0m2 0h0m-10-3h0m3 0h0m1-1h0m1 0h0m1 0h0m3-1h0m-6-1h0m3-1h0m4 0h0m-11-1h0m11 0h0m-9-1h0m0-1h0m8-2h0m-7-1h0m7-1h0m-8-4h0m8 0h0m-9-1h0m2-1h0m-1-3h0m-1-1h0m4 0h0m6-5h0m-11-1h0m7-2h0m-4-8h0m-1-1h0m-2-2h0m0-13h0m3-16h0m9 73h0m23 0h0m0-5h0m0-10h0m11-48h0m0 13h0m-1 18h0m-4 2h0m-1 3h0m7 3h0m-5 3h0m-3 3h0m-1 1h0m3 1h0m2 1h0m0 2h0m-1 1h0m-2 1h0m1 1h0m-3 1h0m1 1h0m-3 1h0m4 0h0m-2 1h0m2 0h0m5 1h0m1 0h0m1 3h0m-7 1h0m-2 2h0m5 1h0m-4 1h0m1 1h0m4 1h0m-8 1h0m11 3h0m-10 1h0m2 0h0m-2 1h0m5 2h0m5 0h0m-3 2h0m-3 1h0m2 5h0m0 11h0m1 2h0m3 8h0m-8 2h0m8 6h0m-1 3h0m13 11h0m-2-6h0m1-3h0m-4-19h0m0-7h0m-5-3h0m9-3h0m-8-4h0m2-4h0m0-1h0m-2-2h0m9-1h0m-2-1h0m1-3h0m-9-1h0m7 0h0m-8-3h0m2-4h0m5-1h0m2-1h0m2 0h0m-5-2h0m2 0h0m-1-1h0m-4-4h0m3 0h0m3 0h0m1 0h0m-4-1h0m-6-1h0m1 0h0m7-1h0m-8-1h0m6 0h0m5 0h0m-11-1h0m9-4h0m2-2h0m-9-2h0m-1-2h0m5 0h0m-3-1h0m5-2h0m0-11h0m0-13h0m-7-15h0m15-4h0m6 3h0m-10 23h0m11 7h0m-2 2h0m-8 2h0m6 1h0m2 2h0m-8 5h0m3 0h0m7 1h0m-8 1h0m6 2h0m1 2h0m1 0h0m-5 4h0m1 1h0m2 0h0m-4 2h0m5 1h0m-8 2h0m1 0h0m5 0h0m3 0h0m-3 3h0m2 1h0m-1 2h0m-1 2h0m0 2h0m-4 1h0m1 1h0m5 0h0m-7 3h0m4 0h0m1 0h0m-6 2h0m2 0h0m4 0h0m2 0h0m1 0h0m-3 2h0m1 0h0m1 0h0m-3 1h0m-7 1h0m4 2h0m-4 2h0m3 0h0m4 0h0m-3 1h0m-2 3h0m6 2h0m1 12h0m1 2h0m-7 1h0m7 6h0m13 16h0m-9-12h0m6-16h0m3-2h0m-7-4h0m-4-3h0m3 0h0m-1-2h0m3-2h0m4 0h0m-6-1h0m7 0h0m-4-4h0m-1-4h0m-2-1h0m6 0h0m-9-1h0m1 0h0m2 0h0m7-2h0m-2-2h0m-8-2h0m3 0h0m3 0h0m-3-1h0m-3-1h0m6 0h0m5 0h0m-7-1h0m-1-1h0m7 0h0m-7-1h0m-2-2h0m5-1h0m0-3h0m-1-1h0m1 0h0m-2-1h0m2-2h0m1-2h0m3 0h0m-5-1h0m-5-4h0m5 0h0m3 0h0m2 0h0m-5-3h0m2-1h0m-3-1h0m-2-1h0m6-3h0m-5-1h0m1-4h0m7-2h0m-6-1h0m-3-2h0m-2-10h0m9 0h0m5-9h0m8 5h0m-10 7h0m9 6h0m-8 5h0m6 5h0m0 4h0m-4 2h0m7 1h0m-2 2h0m-8 2h0m2 2h0m7 1h0m-6 1h0m4 0h0m2 0h0m-7 4h0m5 1h0m-5 1h0m3 0h0m-2 2h0m4 0h0m1 0h0m-5 4h0m7 0h0m-7 1h0m2 0h0m0 3h0m-4 2h0m7 0h0m1 1h0m-9 2h0m7 0h0m2 0h0m1 0h0m-9 1h0m3 0h0m-1 1h0m1 2h0m6 0h0m-9 2h0m-1 1h0m5 1h0m-3 2h0m3 1h0m6 1h0m-9 1h0m2 0h0m-2 3h0m3 4h0m4 1h0m-9 4h0m5 1h0m-1 2h0m4 1h0m-7 8h0m0 13h0m22 8h0m-1-4h0m-4-4h0m4-1h0m-8-6h0m7-11h0m-7-6h0m-2-5h0m2-5h0m9 0h0m0-5h0m-9-1h0m1 0h0m-2-1h0m3 0h0m4-1h0m-2-1h0m1 0h0m-7-1h0m10-3h0m-2-1h0m-8-1h0m2-1h0m7 0h0m-9-1h0m7-1h0m4 0h0m-7-1h0m3 0h0m2 0h0m1 0h0m0-1h0m-5-2h0m6 0h0m0-2h0m-1-1h0m1-2h0m-9-2h0m3 0h0m-5-1h0m1 0h0m10 0h0m-7-2h0m-2-1h0m0-1h0m8 0h0m-10-2h0m6-1h0m-6-1h0m1 0h0m8 0h0m1-1h0m-4-6h0m-4-2h0m6-2h0m-6-3h0m9-6h0m0-10h0m0-5h0m-1-18h0m5 0h0m6 1h0m-9 14h0m7 1h0m-2 2h0m4 15h0m-3 1h0m4 6h0m-1 1h0m0 5h0m1 0h0m-9 3h0m0 1h0m5 2h0m-2 1h0m6 0h0m-4 2h0m2 0h0m-7 4h0m6 0h0m2 0h0m-1 1h0m-8 1h0m8 0h0m1 0h0m-4 1h0m-2 1h0m1 1h0m1 0h0m-4 1h0m1 2h0m0 1h0m7 0h0m-1 1h0m-3 2h0m5 0h0m-9 1h0m4 0h0m3 0h0m-7 5h0m2 0h0m2 0h0m-3 1h0m-1 1h0m9 0h0m-1 1h0m2 0h0m-9 1h0m8 0h0m-10 1h0m2 0h0m0 1h0m-2 1h0m6 0h0m5 0h0m-4 1h0m-2 3h0m-4 3h0m5 5h0m-4 2h0m5 2h0m-3 1h0m1 4h0m-1 4h0m5 4h0m-9 7h0m9 3h0m0 9h0"/>
<path transform="scale(.5)" fill="none" stroke="#D9423A" stroke-width="5.6" stroke-linecap="round" d="M256 1602h0m5-4h0m-5-160h0m1 0h0m5 0h0m2 0h0m3 0h0m1 161h0m3 3h0m2 0h0m13 0h0m-5-156h0m8 156h0m22 0h0m-3-3h0m-8-161h0m2 0h0m12 0h0m3 0h0m3 0h0m-7 164h0m2 0h0m5 0h0m15 0h0m-11-164h0m5 0h0m4 0h0m5 164h0m25-164h0m8 0h0m-9 154h0m5 10h0m4 0h0m10-10h0m-4-1h0m-5-148h0m0-5h0m14 0h0m9 0h0m12 164h0m-11-164h0m4 0h0m9 0h0m1 0h0m2 0h0m6 0h0m1 0h0m-8 3h0m-2 6h0m2 155h0m15 0h0m0-2h0m-4-162h0m2 0h0m17 2h0m-7 4h0m6 147h0m-8 11h0m7 0h0m43-164h0m1 0h0m4 164h0m6 0h0m8 0h0m-7-164h0m11 2h0m10 0h0m-11 162h0m13-164h0m12 0h0m7 10h0m1 143h0m1 1h0m5 10h0m5 0h0m2 0h0m35-164h0m-8 164h0m3 0h0m12 0h0m13-6h0m2 6h0m19-164h0m16 164h0m2 0h0m-6-161h0m0-3h0m2 0h0m2 0h0m1 0h0m1 0h0m1 0h0m14 159h0m36-159h0m3 164h0m5 0h0m2 0h0m8-164h0m17 0h0m-8 160h0m-2 4h0m1 0h0m2 0h0m15 0h0m2 0h0m-4-160h0m11-4h0m3 0h0m3 156h0m-1 8h0m6 0h0m0-11h0m-2-153h0m2 0h0m5 0h0m1 0h0m4 164h0m1 0h0m27-164h0m-1 164h0m17 0h0m3-12h0m-2-152h0m8 164h0m6 0h0m1 0h0m6 0h0m5-154h0m-3-10h0m4 0h0m11 0h0m-10 6h0m11 5h0m2-2h0m-1-9h0m18 10h0m-7 149h0m35-159h0m10 0h0m12 8h0m0 156h0m1 0h0m7 0h0m1 0h0m-4-160h0m4-1h0m7-3h0m4 0h0m6 164h0m3 0h0m3-161h0m-3-3h0m2 0h0m4 0h0m6 0h0m3 0h0m-4 5h0m1 159h0m8 0h0m1 0h0m3 0h0m9 0h0m0-4h0m-10-160h0m41 164h0m4 0h0m24-164h0m1 10h0m3-5h0m-2-5h0m19 0h0m0 11h0m0 153h0m12 0h0m-3-161h0m2-3h0m1 0h0m6 0h0m48 164h0m31-164h0m-3 164h0m1 0h0m3 0h0m18-156h0m1 156h0m13 0h0m6 0h0m0-164h0m24 164h0m2-164h0m0 164h0m14-157h0m17-7h0m-5 164h0m14 0h0m2 0h0m1 0h0m2 0h0m-3-164h0m2 0h0m10 10h0m-3 154h0m3 0h0m15 0h0m-5-164h0m1 0h0m7 0h0m11 164h0m23 0h0m8 0h0m8-164h0m4 0h0m4 164h0m1 0h0m10-12h0m-10-152h0m9 0h0m5 159h0m9 5h0m2-164h0m6 0h0m5 0h0m0 3h0m16 161h0m-4-5h0m10 0h0m-9-157h0m34-2h0m10 0h0m5 164h0m0-164h0m20 0h0m-9 164h0m4 0h0m2 0h0m8 0h0m8-8h0m-2-156h0m2 0h0m8 0h0m2 0h0m-5 3h0m15 161h0m2 0h0m-8-161h0m12-3h0m7 157h0m-8 7h0m6 0h0m1 0h0m4 0h0"/>
<line x1="125.00" y1="847.75" x2="125.00" y2="938.00" stroke="#000" stroke-width="2.0"/>
<line x1="120.50" y1="851.75" x2="125.00" y2="851.75" stroke="#000" stroke-width="1.8"/>
<text x="118.80" y="855.85" font-size="16.5" font-weight="bold" text-anchor="end" fill="#000">1.00</text>
<line x1="120.50" y1="872.25" x2="125.00" y2="872.25" stroke="#000" stroke-width="1.8"/>
<text x="118.80" y="876.35" font-size="16.5" font-weight="bold" text-anchor="end" fill="#000">0.75</text>
<line x1="120.50" y1="892.75" x2="125.00" y2="892.75" stroke="#000" stroke-width="1.8"/>
<text x="118.80" y="896.85" font-size="16.5" font-weight="bold" text-anchor="end" fill="#000">0.50</text>
<line x1="120.50" y1="913.25" x2="125.00" y2="913.25" stroke="#000" stroke-width="1.8"/>
<text x="118.80" y="917.35" font-size="16.5" font-weight="bold" text-anchor="end" fill="#000">0.25</text>
<line x1="120.50" y1="933.75" x2="125.00" y2="933.75" stroke="#000" stroke-width="1.8"/>
<text x="118.80" y="937.85" font-size="16.5" font-weight="bold" text-anchor="end" fill="#000">0.00</text>
<line x1="125.00" y1="938.00" x2="170.00" y2="938.00" stroke="#000" stroke-width="2.0"/>
<text x="147.50" y="953.75" font-size="15" font-weight="bold" text-anchor="middle" fill="#000">chr13</text>
<line x1="178.90" y1="938.00" x2="223.90" y2="938.00" stroke="#000" stroke-width="2.0"/>
<text x="201.40" y="953.75" font-size="15" font-weight="bold" text-anchor="middle" fill="#000">chr14</text>
<line x1="232.80" y1="938.00" x2="277.80" y2="938.00" stroke="#000" stroke-width="2.0"/>
<text x="255.30" y="953.75" font-size="15" font-weight="bold" text-anchor="middle" fill="#000">chr15</text>
<line x1="286.70" y1="938.00" x2="331.70" y2="938.00" stroke="#000" stroke-width="2.0"/>
<text x="309.20" y="953.75" font-size="15" font-weight="bold" text-anchor="middle" fill="#000">chr16</text>
<line x1="340.60" y1="938.00" x2="385.60" y2="938.00" stroke="#000" stroke-width="2.0"/>
<text x="363.10" y="953.75" font-size="15" font-weight="bold" text-anchor="middle" fill="#000">chr17</text>
<line x1="394.50" y1="938.00" x2="439.50" y2="938.00" stroke="#000" stroke-width="2.0"/>
<text x="417.00" y="953.75" font-size="15" font-weight="bold" text-anchor="middle" fill="#000">chr18</text>
<line x1="448.40" y1="938.00" x2="493.40" y2="938.00" stroke="#000" stroke-width="2.0"/>
<text x="470.90" y="953.75" font-size="15" font-weight="bold" text-anchor="middle" fill="#000">chr19</text>
<line x1="502.30" y1="938.00" x2="547.30" y2="938.00" stroke="#000" stroke-width="2.0"/>
<text x="524.80" y="953.75" font-size="15" font-weight="bold" text-anchor="middle" fill="#000">chr20</text>
<line x1="556.20" y1="938.00" x2="601.20" y2="938.00" stroke="#000" stroke-width="2.0"/>
<text x="578.70" y="953.75" font-size="15" font-weight="bold" text-anchor="middle" fill="#000">chr21</text>
<line x1="610.10" y1="938.00" x2="655.10" y2="938.00" stroke="#000" stroke-width="2.0"/>
<text x="632.60" y="953.75" font-size="15" font-weight="bold" text-anchor="middle" fill="#000">chr22</text>
<line x1="664.00" y1="938.00" x2="709.00" y2="938.00" stroke="#000" stroke-width="2.0"/>
<text x="686.50" y="953.75" font-size="15" font-weight="bold" text-anchor="middle" fill="#000">chrY</text>
<path fill="#68BDC2" d="M180.4 888.1h3.7v12.5h-3.7zM183.9 888.0h3.7v10.8h-3.7zM187.4 886.7h3.7v8.9h-3.7zM190.9 889.3h3.7v9.8h-3.7zM194.4 889.1h3.7v7.1h-3.7zM197.9 885.2h3.7v11.0h-3.7zM201.4 890.1h3.7v7.3h-3.7zM204.9 887.5h3.7v7.7h-3.7zM208.4 885.6h3.7v11.2h-3.7zM211.9 887.1h3.7v11.9h-3.7zM215.4 887.5h3.7v8.5h-3.7zM218.9 888.5h3.7v8.5h-3.7zM234.3 886.9h3.7v11.4h-3.7zM237.8 886.7h3.7v11.9h-3.7zM241.3 887.7h3.7v8.0h-3.7zM244.8 886.4h3.7v12.7h-3.7zM248.3 887.3h3.7v8.8h-3.7zM251.8 889.6h3.7v10.1h-3.7zM255.3 887.4h3.7v13.4h-3.7zM258.8 888.8h3.7v9.2h-3.7zM262.3 887.2h3.7v10.3h-3.7zM265.8 888.8h3.7v10.8h-3.7zM269.3 888.6h3.7v7.4h-3.7zM272.8 885.0h3.7v13.9h-3.7zM288.2 885.6h3.7v17.7h-3.7zM291.7 887.4h3.7v14.3h-3.7zM295.2 888.1h3.7v12.0h-3.7zM298.7 882.9h3.7v17.3h-3.7zM312.7 884.6h3.7v14.4h-3.7zM316.2 884.8h3.7v16.0h-3.7zM319.7 885.7h3.7v16.0h-3.7zM323.2 885.3h3.7v12.6h-3.7zM326.7 889.1h3.7v10.7h-3.7zM342.1 882.8h3.7v16.5h-3.7zM345.6 885.3h3.7v15.8h-3.7zM349.1 887.8h3.7v10.6h-3.7zM352.6 886.0h3.7v15.6h-3.7zM356.1 883.9h3.7v18.3h-3.7zM359.6 885.7h3.7v15.9h-3.7zM363.1 888.1h3.7v13.0h-3.7zM366.6 883.3h3.7v18.4h-3.7zM370.1 884.5h3.7v18.7h-3.7zM373.6 884.3h3.7v17.4h-3.7zM377.1 885.5h3.7v18.6h-3.7zM380.6 888.2h3.7v13.0h-3.7zM449.9 885.1h3.7v16.7h-3.7zM453.4 884.9h3.7v13.4h-3.7zM456.9 883.2h3.7v21.1h-3.7zM460.4 886.0h3.7v13.8h-3.7zM463.9 884.7h3.7v18.2h-3.7zM474.4 883.0h3.7v16.5h-3.7zM477.9 882.7h3.7v20.8h-3.7zM481.4 884.4h3.7v15.7h-3.7zM484.9 881.8h3.7v22.3h-3.7zM488.4 886.4h3.7v13.9h-3.7zM503.8 891.4h3.7v6.4h-3.7zM507.3 886.4h3.7v8.8h-3.7zM510.8 889.0h3.7v6.9h-3.7zM514.3 887.2h3.7v9.5h-3.7zM517.8 889.3h3.7v7.3h-3.7zM521.3 887.9h3.7v9.6h-3.7zM524.8 888.7h3.7v10.2h-3.7zM528.3 888.1h3.7v8.3h-3.7zM531.8 888.9h3.7v7.0h-3.7zM535.3 888.4h3.7v6.6h-3.7zM538.8 888.6h3.7v11.8h-3.7zM542.3 888.2h3.7v7.9h-3.7zM611.6 887.0h3.7v12.0h-3.7zM615.1 885.0h3.7v12.9h-3.7zM618.6 888.2h3.7v8.9h-3.7zM622.1 885.5h3.7v11.1h-3.7zM625.6 884.3h3.7v13.8h-3.7zM629.1 888.1h3.7v9.1h-3.7zM632.6 887.5h3.7v11.5h-3.7zM636.1 886.6h3.7v11.1h-3.7zM639.6 887.8h3.7v9.1h-3.7zM643.1 885.4h3.7v12.9h-3.7zM646.6 887.0h3.7v12.1h-3.7zM650.1 888.4h3.7v7.4h-3.7z"/>
<path transform="scale(.5)" fill="none" stroke="#5FB7BD" stroke-width="5.8" stroke-linecap="round" d="M262 1842h0m0-20h0m1-23h0m0-9h0m-10-1h0m8 0h0m1-2h0m0-2h0m-1-3h0m2-2h0m-8-4h0m6 0h0m2-2h0m-1-3h0m-6-5h0m7-5h0m12-12h0m-6 6h0m-1 11h0m1 0h0m-4 6h0m1 2h0m0 1h0m2 3h0m-1 4h0m6 7h0m0 2h0m-5 3h0m1 2h0m1 0h0m-6 1h0m2 5h0m1 3h0m-1 1h0m1 12h0m-3 23h0m23-14h0m-3-30h0m-1-4h0m3-4h0m-3-3h0m3 0h0m-3-2h0m-7-1h0m10 0h0m-8-1h0m2 0h0m4 0h0m3-3h0m0-8h0m-2-10h0m4 9h0m3 1h0m-2 1h0m1 0h0m-1 4h0m0 13h0m-1 2h0m-1 3h0m2 0h0m1 4h0m-1 8h0m13 2h0m3-1h0m-1-4h0m3-2h0m-5-7h0m7 0h0m-4-3h0m-2-12h0m1-1h0m1-6h0m-2-4h0m7-1h0m6-18h0m3 12h0m-3 6h0m3 6h0m0 1h0m-7 15h0m4 3h0m-5 5h0m2 7h0m12 15h0m6-19h0m-5-3h0m7-1h0m-4-1h0m2-1h0m3 0h0m-11-3h0m9-2h0m-2-1h0m-1-1h0m2-1h0m2 0h0m-4-3h0m-6-3h0m7-2h0m4-1h0m-11-3h0m4-3h0m2-3h0m-4-4h0m9-6h0m1-32h0m0 44h0m0 4h0m1 4h0m1 1h0m-1 7h0m-1 9h0m2 1h0m0 13h0m22-61h0m7 11h0m3 1h0m-10 5h0m1 2h0m5 2h0m-4 2h0m6 0h0m-7 1h0m6 0h0m-6 3h0m6 0h0m4 1h0m-11 2h0m7 1h0m-7 2h0m8 0h0m-8 1h0m8 3h0m-7 1h0m-1 2h0m2 0h0m-2 1h0m10 2h0m-6 1h0m4 1h0m-7 1h0m7 0h0m-6 1h0m0 2h0m6 3h0m0 3h0m-6 1h0m7 1h0m-1 1h0m-7 4h0m-1 1h0m2 0h0m-2 3h0m10 1h0m-3 5h0m-5 17h0m0 12h0m18-15h0m0-21h0m0-3h0m-5-1h0m3-2h0m2-7h0m2-2h0m-4-9h0m-1-1h0m3 0h0m-1-2h0m2-3h0m2 0h0m-10-1h0m0-1h0m6-5h0m2 0h0m-2-3h0m4-2h0m-1-1h0m-1-1h0m0-6h0m1-7h0m-2-5h0m-1-4h0m-5-3h0m7 0h0m-5-1h0m9-10h0m9 17h0m-4 9h0m2 0h0m1 2h0m-8 1h0m2 0h0m-1 4h0m6 1h0m-6 2h0m1 1h0m8 0h0m-10 1h0m6 0h0m1 2h0m1 2h0m-3 4h0m4 1h0m1 2h0m0 1h0m-8 3h0m-2 2h0m3 0h0m-1 1h0m2 0h0m-1 2h0m5 3h0m-4 3h0m4 0h0m-6 4h0m8 0h0m-1 9h0m1 12h0m5-11h0m5-1h0m-2-5h0m-6-3h0m3-2h0m0-2h0m3-5h0m-2-1h0m-3-4h0m-2-3h0m7-6h0m-1-6h0m1-1h0m-3-10h0m-2-9h0m4-12h0m12-17h0m0 39h0m4 2h0m-6 5h0m2 6h0m0 4h0m-1 9h0m-1 4h0m2 0h0m4 0h0m-5 1h0m1 2h0m2 1h0m-5 3h0m8 0h0m-3 2h0m-3 1h0m-4 6h0m3 5h0m3 14h0m-2 17h0m15-16h0m3-4h0m-4-8h0m-1-7h0m-4-2h0m0-1h0m1 0h0m6-1h0m-2-5h0m4-4h0m-5-1h0m-6-2h0m7-1h0m-1-1h0m5 0h0m-1-3h0m-8-2h0m7 0h0m-7-1h0m3 0h0m-2-3h0m3 0h0m3 0h0m-8-1h0m2 0h0m5-1h0m-8-5h0m1-1h0m5 0h0m-1-1h0m2-5h0m-7-3h0m7 0h0m-7-3h0m11 0h0m-5-4h0m-4-1h0m0-2h0m5 0h0m-6-2h0m5 0h0m-6-7h0m9-17h0m4-10h0m4 2h0m0 18h0m3 19h0m-4 3h0m2 4h0m-3 1h0m1 1h0m-3 1h0m8 1h0m-8 1h0m5 1h0m5 0h0m-11 1h0m6 0h0m-4 1h0m-1 2h0m1 2h0m2 0h0m6 0h0m-5 1h0m-4 2h0m5 0h0m1 0h0m-6 1h0m-1 2h0m7 1h0m3 1h0m-5 2h0m-2 3h0m-1 5h0m-1 2h0m-1 1h0m6 0h0m-2 1h0m2 16h0m2 1h0m-6 24h0m3 1h0m1 3h0m7 6h0m0-44h0m0-17h0m-1-3h0m1-4h0m-1-4h0m0-3h0m1-2h0m0-12h0m-1-10h0m35 63h0m-4-2h0m3-7h0m-8-1h0m4-3h0m-1-4h0m-1-2h0m-1-5h0m1 0h0m5-1h0m-6-2h0m6-1h0m-3-3h0m0-1h0m0-1h0m4-1h0m-10-2h0m1 0h0m9 0h0m-6-3h0m7 0h0m0-2h0m-10-2h0m0-3h0m1-8h0m5-9h0m3-5h0m-1-5h0m-8-15h0m9-5h0m2-3h0m10 9h0m-6 17h0m5 13h0m-9 8h0m11 2h0m-8 3h0m1 1h0m-4 5h0m6 0h0m-1 1h0m-2 1h0m7 3h0m-8 1h0m7 0h0m2 1h0m-10 1h0m8 0h0m-1 2h0m3 0h0m-9 3h0m2 2h0m7 0h0m-11 1h0m11 0h0m-1 1h0m-9 2h0m9 0h0m-4 3h0m-6 1h0m4 0h0m6 2h0m0 2h0m-1 2h0m2 0h0m-11 1h0m0 19h0m8 6h0m-3 10h0m7 6h0m3-5h0m-3-3h0m0-11h0m2 0h0m1-1h0m-3-6h0m3 0h0m-3-6h0m1 0h0m4 0h0m0-2h0m-3-4h0m7-2h0m-3-2h0m1-2h0m-6-3h0m-1-1h0m1 0h0m5 0h0m2-9h0m-3-1h0m4 0h0m-2-2h0m-4-3h0m-2-1h0m9-1h0m-9-2h0m4-3h0m-5-1h0m2 0h0m-2-1h0m3-1h0m3 0h0m0-1h0m-5-3h0m0-4h0m1-2h0m4-3h0m-1-3h0m3-8h0m1-1h0m-4-16h0m-5-14h0m22 21h0m-8 12h0m8 2h0m-2 8h0m-3 5h0m5 1h0m-2 1h0m1 0h0m-9 2h0m2 1h0m0 3h0m2 2h0m4 2h0m-4 2h0m-2 1h0m5 0h0m2 1h0m-6 2h0m0 9h0m-2 5h0m4 15h0m-1 19h0m-4 19h0m23-18h0m-9-6h0m8-1h0m-5-1h0m6-3h0m-10-12h0m3-1h0m1-3h0m1 0h0m-5-1h0m8 0h0m-1-2h0m-4-3h0m4-1h0m-1-2h0m4-1h0m-7-1h0m0-2h0m1 0h0m1 0h0m-1-1h0m6 0h0m0-2h0m-4-1h0m4-2h0m-11-1h0m6-5h0m3 0h0m-7-3h0m2-1h0m1-7h0m4-6h0m-2-5h0m3-4h0m-6-13h0m-2-5h0m9-7h0m2-11h0m10 6h0m-2 7h0m-5 23h0m2 0h0m-1 1h0m4 0h0m-8 5h0m2 5h0m0 3h0m7 0h0m-5 2h0m-2 1h0m8 0h0m-1 3h0m-5 1h0m-5 2h0m11 1h0m-11 1h0m4 1h0m4 0h0m-4 1h0m4 2h0m-3 3h0m-1 2h0m0 1h0m1 0h0m6 0h0m-5 1h0m0 2h0m4 0h0m-9 1h0m0 1h0m8 0h0m-9 2h0m6 0h0m2 0h0m-7 2h0m3 1h0m-4 2h0m4 1h0m-3 1h0m2 2h0m3 0h0m2 0h0m-2 2h0m4 0h0m-5 1h0m-5 1h0m6 1h0m5 1h0m0 4h0m-1 6h0m-5 10h0m-4 1h0m11 4h0m8-7h0m-8-13h0m9-3h0m-3-2h0m1-1h0m3-1h0m-1-2h0m1 0h0m1 0h0m-10-8h0m4-1h0m3-1h0m-3-1h0m4 0h0m-5-2h0m-2-1h0m4-1h0m-1-2h0m-1-2h0m-1-1h0m6-3h0m-2-2h0m-4-1h0m4 0h0m3 0h0m-5-2h0m-2-1h0m5 0h0m3 0h0m-5-1h0m2 0h0m-6-1h0m3 0h0m0-2h0m3-1h0m-7-2h0m5-5h0m0-2h0m-5-1h0m1-1h0m7-4h0m-5-7h0m4-3h0m3-16h0m-10-2h0m8-6h0m3 60h0m0 11h0m0 11h0m32-89h0m-1 22h0m-5 5h0m8 3h0m-10 1h0m5 0h0m-1 1h0m7 2h0m-9 7h0m6 1h0m-7 5h0m1 0h0m2 0h0m6 0h0m-7 3h0m6 0h0m-8 1h0m2 0h0m2 0h0m4 0h0m1 0h0m-7 2h0m5 0h0m3 2h0m-11 1h0m0 5h0m2 0h0m3 1h0m2 0h0m1 0h0m1 0h0m1 0h0m-2 1h0m-3 1h0m-5 1h0m4 1h0m5 0h0m1 1h0m-8 1h0m1 2h0m-1 1h0m6 0h0m-8 1h0m10 0h0m-8 1h0m0 1h0m3 1h0m-2 1h0m5 1h0m2 0h0m1 0h0m-8 1h0m6 0h0m-7 5h0m0 1h0m6 1h0m-6 1h0m7 0h0m-8 3h0m8 0h0m2 5h0m-11 4h0m6 0h0m-6 2h0m2 5h0m9 3h0m-7 6h0m6 10h0m10 5h0m-7-13h0m-1-2h0m5-5h0m5-8h0m-8-3h0m1 0h0m6-4h0m-4-1h0m2-2h0m1-2h0m-5-1h0m1 0h0m-1-2h0m4 0h0m-4-1h0m1-5h0m-3-1h0m6 0h0m-6-1h0m2 0h0m1-1h0m7 0h0m-10-2h0m4 0h0m-1-1h0m1-2h0m2 0h0m1 0h0m1 0h0m2 0h0m-2-1h0m-9-1h0m4 0h0m6 0h0m-5-1h0m-4-2h0m-1-1h0m1 0h0m2 0h0m1 0h0m4 0h0m-3-1h0m-5-1h0m4 0h0m1 0h0m5 0h0m-6-1h0m-3-3h0m2 0h0m6 0h0m-7-1h0m-2-4h0m2 0h0m7 0h0m-8-1h0m2 0h0m2-4h0m3-1h0m1 0h0m-6-1h0m3-1h0m4-2h0m-2-1h0m-2-1h0m2 0h0m1-1h0m-9-2h0m9-2h0m-2-2h0m3 0h0m-9-1h0m9-1h0m-6-6h0m1-7h0m4-2h0m-1-1h0m0-4h0m15 16h0m-11 5h0m10 2h0m-7 1h0m7 2h0m0 4h0m-3 1h0m-5 2h0m6 0h0m-6 5h0m7 0h0m1 3h0m-2 1h0m2 0h0m-10 1h0m8 0h0m3 1h0m-2 1h0m2 3h0m-9 1h0m3 0h0m1 3h0m-3 1h0m8 0h0m-2 3h0m2 0h0m-3 5h0m-3 1h0m4 2h0m1 0h0m-4 2h0m2 0h0m1 1h0m1 1h0m-3 1h0m-4 1h0m2 0h0m2 0h0m3 1h0m0 1h0m0 3h0m-2 6h0m1 1h0m1 5h0m-3 1h0m3 10h0m-8 6h0m6 6h0m4-21h0m0-33h0m0-5h0m0-3h0m11-3h0m0-14h0m5-26h0m-3 13h0m9 0h0m-2 5h0m-4 2h0m-2 1h0m4 0h0m2 0h0m-4 2h0m1 4h0m2 1h0m2 0h0m-2 1h0m1 1h0m-3 1h0m3 5h0m3 1h0m-7 3h0m-2 1h0m1 0h0m4 1h0m4 0h0m0 1h0m-2 1h0m-7 1h0m-1 1h0m0 1h0m10 0h0m-10 1h0m4 1h0m2 0h0m3 0h0m0 1h0m-5 2h0m5 1h0m-7 1h0m1 1h0m-3 1h0m4 1h0m-2 6h0m7 1h0m-3 2h0m-2 1h0m-3 1h0m8 4h0m0 2h0m-6 6h0m7 5h0m-5 3h0m7 18h0m2-27h0m3-2h0m4 0h0m-10-3h0m10 0h0m-4-6h0m-4-1h0m1-1h0m3-2h0m-1-2h0m-4-1h0m9 0h0m-9-1h0m4-2h0m-3-1h0m0-2h0m4-4h0m-4-1h0m1-2h0m-3-1h0m2-1h0m4-1h0m5-1h0m-1-5h0m1 0h0m-1-1h0m-10-3h0m0-2h0m10 0h0m-2-1h0m-2-3h0m2 0h0m-8-3h0m1-1h0m4-4h0m2 0h0m3-4h0m-4-1h0m0-10h0m-5-9h0m5-11h0m13-8h0m-4 18h0m-1 21h0m3 2h0m0 5h0m-1 2h0m5 0h0m1 5h0m-6 1h0m-2 1h0m0 1h0m2 1h0m-1 2h0m-2 2h0m3 1h0m-1 1h0m2 5h0m-5 4h0m4 0h0m2 1h0m-5 1h0m9 0h0m-7 4h0m2 2h0m-5 1h0m5 0h0m1 3h0m3 0h0m-7 1h0m-1 1h0m2 0h0m1 0h0m2 4h0m-2 1h0m-3 1h0m3 0h0m1 1h0m-5 2h0m9 1h0m-5 4h0m-1 1h0m-1 12h0m-2 5h0m3 12h0m9-44h0m0-6h0m0-14h0m35 69h0m-9-29h0m5-4h0m-2-3h0m2-4h0m-6-6h0m2-6h0m3 0h0m-3-1h0m5 0h0m-8-5h0m2-1h0m4 0h0m-1-1h0m4 0h0m-9-2h0m0-3h0m3-3h0m5 0h0m-8-1h0m5 0h0m4-1h0m-7-2h0m-2-1h0m7 0h0m1-2h0m0-1h0m-2-1h0m-3-1h0m3 0h0m2 0h0m-7-1h0m6 0h0m-6-2h0m1 0h0m3 0h0m-5-2h0m11-5h0m-6-2h0m2 0h0m3-36h0m-5-5h0m10 4h0m-3 5h0m1 2h0m5 4h0m-1 2h0m-2 2h0m7 2h0m-2 9h0m1 4h0m-8 2h0m4 3h0m-5 4h0m7 1h0m2 5h0m-7 1h0m8 0h0m-7 1h0m0 1h0m5 0h0m1 0h0m-2 1h0m-6 2h0m5 0h0m-6 3h0m4 0h0m1 0h0m6 1h0m-1 1h0m-8 1h0m3 0h0m2 1h0m3 0h0m-10 1h0m1 0h0m6 0h0m3 0h0m-5 1h0m2 0h0m1 0h0m-1 2h0m1 0h0m-4 1h0m-2 1h0m5 0h0m1 0h0m3 3h0m-10 1h0m4 1h0m3 0h0m1 0h0m-6 1h0m6 3h0m1 1h0m-7 2h0m3 0h0m3 0h0m2 1h0m-5 1h0m1 0h0m4 0h0m-5 1h0m3 0h0m-4 1h0m1 0h0m-1 1h0m2 2h0m-1 2h0m0 5h0m-6 5h0m6 0h0m-1 3h0m-1 1h0m-1 4h0m7 5h0m-9 10h0m18 3h0m4-1h0m-11-12h0m9-5h0m-3-11h0m4-3h0m-3-2h0m-2-4h0m6-2h0m-6-2h0m4 0h0m-7-1h0m4-1h0m-2-1h0m3 0h0m0-1h0m3 0h0m1 0h0m-4-5h0m3-1h0m-8-2h0m5 0h0m3 0h0m1 0h0m-5-1h0m0-3h0m-1-1h0m2-1h0m-2-2h0m0-1h0m-2-2h0m1 0h0m2 0h0m4-1h0m0-1h0m-9-1h0m1 0h0m2-1h0m3-1h0m4 0h0m-9-1h0m-2-1h0m2 0h0m7 0h0m2 0h0m-2-1h0m-5-1h0m0-1h0m7 0h0m-6-1h0m6 0h0m-6-1h0m4 0h0m1 0h0m-7-1h0m7-2h0m1-2h0m-3-5h0m-3-1h0m2-1h0m-3-1h0m2-1h0m3-3h0m-2-2h0m-3-4h0m-3-11h0m9-11h0m1 0h0m-9-2h0m18-3h0m-8 1h0m11 22h0m-10 2h0m1 3h0m8 2h0m-4 3h0m1 0h0m-5 1h0m5 6h0m1 0h0m-5 1h0m-1 1h0m1 0h0m6 1h0m2 1h0m-2 3h0m0 1h0m-9 3h0m11 2h0m0 1h0m-2 2h0m-7 1h0m4 3h0m2 2h0m-8 2h0m5 0h0m4 0h0m-7 2h0m7 0h0m-9 1h0m2 2h0m2 0h0m-4 3h0m9 0h0m-9 1h0m5 1h0m-5 1h0m1 0h0m5 1h0m3 0h0m-8 2h0m5 1h0m2 0h0m-2 3h0m-6 1h0m7 0h0m1 1h0m3 1h0m-10 1h0m-1 3h0m2 2h0m4 6h0m-1 4h0m13 9h0m-1-12h0m6-1h0m-2-6h0m-6-1h0m1 0h0m-2-4h0m5 0h0m4-1h0m0-1h0m-2-1h0m-3-1h0m2-2h0m3-1h0m-6-1h0m3 0h0m-2-1h0m-4-1h0m1 0h0m4-1h0m3 0h0m-7-1h0m1 0h0m-3-2h0m0-1h0m2-1h0m0-3h0m5-1h0m1-1h0m-6-1h0m3-1h0m-6-3h0m3 0h0m3 0h0m1-1h0m-4-1h0m0-1h0m6 0h0m2 0h0m0-1h0m-11-3h0m1 0h0m2 0h0m-3-1h0m4-1h0m6 0h0m-9-1h0m2 0h0m6 0h0m-8-2h0m9 0h0m-3-1h0m-3-2h0m5 0h0m-7-2h0m9-1h0m-10-2h0m10-16h0m-5-9h0m2-7h0m-2-7h0m17 12h0m-3 4h0m-1 8h0m2 8h0m0 6h0m-4 4h0m4 4h0m-8 1h0m1 0h0m3 0h0m5 0h0m-3 1h0m1 0h0m1 0h0m-5 1h0m-2 1h0m8 0h0m-3 2h0m-4 3h0m1 0h0m5 0h0m-1 3h0m3 0h0m-3 2h0m0 2h0m1 0h0m1 0h0m-7 1h0m3 0h0m-3 1h0m8 0h0m-8 1h0m8 0h0m0 1h0m-2 1h0m-8 5h0m3 0h0m-2 1h0m2 0h0m-1 9h0m5 2h0m-6 4h0m8 1h0m-3 1h0m3 4h0m0 4h0m-7 15h0m8 5h0m-9 12h0m10 3h0m1-13h0m10-5h0m-6-2h0m-1-8h0m7 0h0m0-1h0m-9-2h0m1 0h0m1-3h0m-3-8h0m-1-4h0m10 0h0m0-1h0m-2-3h0m-7-2h0m0-3h0m5 0h0m2-2h0m-7-3h0m-1-1h0m4 0h0m3-1h0m3 0h0m-2-2h0m-5-1h0m-2-2h0m1-1h0m-2-1h0m7-2h0m-7-1h0m3 0h0m0-1h0m1 0h0m1-1h0m0-1h0m2 0h0m-7-2h0m2 0h0m4 0h0m4-1h0m-9-1h0m7-1h0m0-1h0m1-1h0m2 0h0m-11-4h0m11-3h0m-11-1h0m3-1h0m3-3h0m4-3h0m-1-4h0m-5-1h0m4-1h0m3 0h0m-8-1h0m-1-15h0m8-8h0m2 26h0m0 5h0m0 26h0m1 0h0m0 3h0m-1 1h0m0 6h0m1 6h0m-1 9h0m0 5h0m0 9h0m33-84h0m-7 28h0m2 3h0m7 7h0m-8 1h0m-1 1h0m0 1h0m3 1h0m0 1h0m-1 2h0m7 0h0m-6 5h0m0 1h0m0 1h0m1 4h0m-1 2h0m5 2h0m-8 1h0m9 1h0m-8 1h0m-1 2h0m1 0h0m4 5h0m-3 1h0m-1 1h0m-1 17h0m3 1h0m14 25h0m1-2h0m-7-38h0m7-8h0m-8-1h0m7-3h0m-7-6h0m6-3h0m2-3h0m-8-2h0m4-2h0m-3-5h0m1-4h0m8-50h0m9 14h0m2 26h0m-1 5h0m1 4h0m1 4h0m-4 2h0m5 1h0m-1 4h0m1 7h0m0 2h0m-2 2h0m7 3h0m-4-1h0m3-14h0m6-10h0m-8-1h0m2-1h0m7-3h0m0-7h0m-1-22h0m7-6h0m0 30h0m-4 3h0m9 0h0m1 4h0m1 8h0m0 2h0m-4 1h0m-6 2h0m5 0h0m5 0h0m-10 2h0m5 1h0m-5 1h0m5 2h0m-3 4h0m2 8h0m4 1h0m-2 8h0m8 23h0m-2-30h0m1-1h0m5-4h0m-4-1h0m1-1h0m5 0h0m0-2h0m1-1h0m-9-3h0m2 0h0m2-1h0m-5-2h0m5-2h0m1-1h0m2-2h0m-2-1h0m-2-1h0m5 0h0m-1-4h0m-8-2h0m7-1h0m1-4h0m-4-3h0m0-1h0m-4-10h0m9-31h0m10 34h0m-3 4h0m2 5h0m-2 1h0m1 3h0m0 6h0m2 0h0m2 1h0m1 1h0m-8 2h0m2 0h0m3 1h0m4 1h0m0 3h0m-5 2h0m2 1h0m0 2h0m-4 1h0m-2 9h0m1 7h0m2 4h0m-5 35h0m5 0h0m2 3h0m5-42h0m0-27h0m23-4h0m0 4h0m0 7h0m10 64h0m-3-3h0m2-3h0m-6-14h0m-2-2h0m7-8h0m-3-11h0m2-1h0m5-2h0m-7-1h0m2 0h0m2-4h0m3-3h0m-9-1h0m7-1h0m-9-1h0m9 0h0m-9-1h0m2 0h0m2 0h0m2 0h0m4-1h0m-2-1h0m3 0h0m-9-4h0m1-1h0m5 0h0m-8-1h0m9-1h0m-5-3h0m1 0h0m5 0h0m-5-1h0m2-4h0m1 0h0m-7-2h0m1 0h0m5 0h0m-5-1h0m6-1h0m1-1h0m1 0h0m-4-1h0m-2-2h0m-1-1h0m1-1h0m5-2h0m-6-1h0m3 0h0m3 0h0m-7-2h0m9-1h0m0-2h0m-10-1h0m2 0h0m7 0h0m-2-1h0m-6-1h0m8 0h0m-7-1h0m3-8h0m-5-2h0m2-7h0m2 0h0m3 0h0m-4-1h0m7-1h0m-6-4h0m3-3h0m1-8h0m13 8h0m-6 6h0m-2 3h0m-2 4h0m5 0h0m-5 9h0m2 1h0m8 0h0m1 0h0m-8 1h0m4 2h0m-4 1h0m8 1h0m-5 1h0m-2 3h0m1 0h0m3 0h0m-3 1h0m0 1h0m0 1h0m-4 1h0m5 1h0m-5 1h0m6 0h0m0 1h0m3 1h0m-6 1h0m-3 1h0m1 0h0m7 0h0m-7 1h0m3 0h0m-5 1h0m4 1h0m-1 1h0m1 0h0m3 0h0m-7 2h0m10 0h0m-10 1h0m11 0h0m-11 2h0m4 1h0m3 0h0m0 1h0m-4 1h0m4 0h0m4 0h0m-8 1h0m1 0h0m2 0h0m1 1h0m4 0h0m-9 1h0m4 0h0m-5 1h0m6 0h0m-3 1h0m4 0h0m-4 1h0m-4 2h0m6 1h0m-4 1h0m2 0h0m1 0h0m5 0h0m-8 1h0m8 0h0m-8 1h0m6 0h0m-4 1h0m1 0h0m2 1h0m-7 1h0m11 1h0m0 1h0m-9 3h0m8 2h0m-5 2h0m-3 2h0m2 2h0m4 0h0m1 0h0m-6 5h0m-1 2h0m0 1h0m1 3h0m6 2h0m2 0h0m-9 2h0m8 0h0m-7 5h0m0 1h0m5 19h0m14-4h0m-9-6h0m7-8h0m-1-4h0m-1-2h0m4-1h0m-10-2h0m8-2h0m0-3h0m-3-10h0m3 0h0m2-4h0m-8-1h0m0-2h0m1 0h0m2-1h0m5 0h0m-2-1h0m-8-1h0m10 0h0m-10-1h0m1 0h0m8 0h0m-5-1h0m-3-1h0m6 0h0m-5-4h0m0-1h0m0-1h0m3 0h0m4-1h0m-6-1h0m1-1h0m1 0h0m1-1h0m2-1h0m-6-2h0m7 0h0m-5-1h0m7-1h0m-5-1h0m3 0h0m-9-1h0m11 0h0m-5-1h0m-4-2h0m3-1h0m6-2h0m-3-1h0m-4-1h0m3-1h0m-4-2h0m5 0h0m1-2h0m1 0h0m-1-1h0m-6-1h0m6-1h0m-5-1h0m-4-1h0m6-2h0m-5-1h0m2-4h0m-1-10h0m-1-4h0m2-3h0m4-3h0m-6-14h0m2-3h0m18 2h0m-1 19h0m2 18h0m0 2h0m-10 1h0m8 0h0m3 0h0m-1 1h0m0 4h0m-1 3h0m0 1h0m2 1h0m0 1h0m-1 1h0m-5 1h0m4 0h0m1 3h0m0 1h0m-2 1h0m2 1h0m0 1h0m-2 1h0m2 0h0m-10 1h0m0 4h0m10 0h0m1 3h0m-2 1h0m2 0h0m-1 1h0m-9 2h0m0 5h0m7 3h0m1 1h0m2 4h0m-2 1h0m2 0h0m-2 1h0m-2 3h0m-6 19h0m22 21h0m-10-2h0m8-2h0m1-4h0m-1-4h0m-7-3h0m9 0h0m-10-5h0m2-3h0m-2-4h0m3 0h0m3 0h0m3-1h0m-6-2h0m3-6h0m4-1h0m-1-1h0m-3-3h0m-7-1h0m6 0h0m-3-1h0m-3-1h0m4 0h0m4-1h0m-8-3h0m3 0h0m4 0h0m4 0h0m-5-1h0m-4-1h0m8 0h0m-7-1h0m3 0h0m-4-2h0m5-1h0m2 0h0m1 0h0m-7-1h0m6 0h0m-9-1h0m8 0h0m-8-2h0m1-1h0m2-1h0m-2-1h0m3 0h0m4 0h0m-4-1h0m5 0h0m-4-1h0m1 0h0m-4-1h0m1 0h0m8 0h0m-11-3h0m4 0h0m7 0h0m-11-1h0m11-2h0m-7-2h0m6 0h0m-2-1h0m-1-2h0m-7-1h0m10 0h0m-6-1h0m3 0h0m0-1h0m4 0h0m-11-1h0m5 0h0m1 0h0m-2-1h0m7 0h0m-5-2h0m-4-1h0m8-2h0m-10-2h0m11-2h0m-3-1h0m-8-1h0m0-1h0m8 0h0m-5-5h0m5 0h0m3-5h0m-7-1h0m-2-1h0m0-1h0m-1-27h0m21 3h0m0 14h0m-9 1h0m10 6h0m-2 11h0m0 2h0m1 2h0m0 1h0m1 4h0m-2 2h0m1 0h0m-9 1h0m-1 3h0m2 1h0m0 1h0m2 0h0m7 1h0m-11 1h0m5 0h0m1 0h0m-5 1h0m2 0h0m1 1h0m4 1h0m2 2h0m-9 1h0m3 0h0m5 0h0m1 1h0m-6 1h0m-3 1h0m8 0h0m1 0h0m0 1h0m-4 1h0m0 1h0m2 2h0m3 0h0m-8 1h0m1 0h0m6 0h0m-7 1h0m2 0h0m2 1h0m-5 2h0m4 0h0m3 1h0m-5 1h0m5 0h0m0 1h0m-1 1h0m3 0h0m-11 1h0m2 0h0m0 1h0m2 0h0m1 1h0m4 0h0m0 2h0m-6 1h0m-3 1h0m9 1h0m-5 1h0m1 0h0m5 0h0m-6 2h0m4 0h0m-6 6h0m6 1h0m-3 1h0m-4 15h0m10 9h0m0 8h0m-10 1h0m6 2h0m15-6h0m-2-4h0m-1-6h0m4-7h0m-9-3h0m8-1h0m-6-4h0m4-2h0m-2-1h0m1 0h0m2-4h0m2 0h0m-5-1h0m-2-1h0m2-4h0m3 0h0m0-2h0m-8-1h0m3 0h0m4-1h0m1 0h0m-6-1h0m1-1h0m4 0h0m3 0h0m-7-1h0m2 0h0m3 0h0m-4-1h0m3 0h0m-5-1h0m5 0h0m-8-1h0m9 0h0m-6-2h0m3-1h0m-1-1h0m2 0h0m-7-1h0m9 0h0m-2-1h0m-7-1h0m10 0h0m-8-3h0m4 0h0m3 0h0m-3-1h0m3 0h0m1 0h0m-2-1h0m2 0h0m-7-1h0m-3-1h0m8 0h0m-4-1h0m5-1h0m-1-2h0m2-1h0m-7-2h0m4 0h0m-6-2h0m1 0h0m3 0h0m1 0h0m3 0h0m1-4h0m-4-4h0m4 0h0m-1-1h0m-4-2h0m2-2h0m2-7h0m-2-1h0m1-1h0m1-3h0m0-1h0m-9-1h0m7-2h0m1-1h0m-1-4h0m1-5h0m1-4h0m-4-12h0m5-2h0m2 49h0m0 4h0m0 2h0m0 2h0m0 2h0m0 30h0m28-67h0m0 18h0m6 3h0m-8 5h0m0 5h0m3 1h0m-1 4h0m-2 2h0m4 0h0m3 1h0m-9 1h0m2 2h0m3 0h0m-3 1h0m-1 3h0m1 0h0m3 1h0m-4 1h0m4 2h0m-1 4h0m1 1h0m-2 1h0m2 6h0m-4 6h0m1 2h0m4 2h0m0 12h0m14 27h0m1-44h0m2 0h0m0-6h0m0-1h0m0-5h0m0-1h0m-10-7h0m10 0h0m-10-1h0m10-2h0m-1-4h0m1 0h0m-8-1h0m-1-2h0m-1-4h0m1-1h0m9 0h0m-5-1h0m-4-2h0m6-1h0m3 0h0m-1-4h0m-5-2h0m3 0h0m2-2h0m-9-2h0m-1-14h0m9-18h0m7-9h0m1 4h0m-5 6h0m4 0h0m5 14h0m-7 14h0m6 1h0m-8 8h0m2 0h0m-1 3h0m0 2h0m-1 1h0m2 0h0m5 4h0m-5 5h0m4 0h0m-2 3h0m-2 1h0m8 8h0m-8 1h0m6 1h0m-8 1h0m1 0h0m-1 5h0m8 2h0m2 0h0m-9 4h0m0 2h0m2 4h0m-3 1h0m3 2h0m5 3h0m-3 9h0m4 16h0m-5 4h0m-4 3h0m18-1h0m3-26h0m-3-6h0m2-2h0m0-5h0m-1-4h0m1-2h0m2-1h0m-2-1h0m0-1h0m-6-5h0m6-2h0m0-1h0m-1-1h0m4-5h0m-4-2h0m4 0h0m-2-3h0m-3-2h0m1-2h0m2 0h0m-3-1h0m3 0h0m-2-7h0m0-1h0m-1-8h0m-1-10h0m4-7h0m4-4h0m5 7h0m-4 11h0m8 8h0m1 0h0m-9 6h0m7 1h0m2 0h0m-9 1h0m6 0h0m1 0h0m1 1h0m-8 1h0m3 0h0m-3 3h0m1 0h0m-3 1h0m7 1h0m2 3h0m-9 1h0m1 1h0m9 0h0m-1 3h0m-7 2h0m6 0h0m0 1h0m-3 1h0m-4 1h0m1 1h0m1 1h0m-1 3h0m-2 1h0m0 2h0m6 1h0m-5 6h0m6 17h0m-5 28h0m16-8h0m2-2h0m0-9h0m-6-23h0m3-4h0m-4-1h0m3 0h0m-1-3h0m7-6h0m-10-2h0m5 0h0m5-8h0m0-1h0m-6-1h0m7-2h0m-3-1h0m0-1h0m3-3h0m-10-1h0m2 0h0m4-4h0m4-2h0m-9-3h0m1-6h0m2-2h0m5-5h0m-1-6h0m8-31h0m6 14h0m-8 2h0m5 2h0m-4 3h0m3 1h0m4 8h0m-8 4h0m2 4h0m-4 5h0m8 1h0m-4 2h0m2 0h0m2 0h0m-9 2h0m5 0h0m0 3h0m4 5h0m-6 2h0m2 2h0m6 6h0m-10 3h0m10 0h0m-5 2h0m1 1h0m4 0h0m-6 3h0m4 0h0m-6 2h0m4 0h0m3 3h0m0 1h0m-4 2h0m4 9h0m-4 4h0m-3 9h0m0 1h0m7 1h0m-4 5h0m1 18h0m5-49h0m0-36h0m55 69h0m-1-32h0m0-2h0m1-5h0m4 0h0m-6-1h0m3-2h0m-1-1h0m4-2h0m-6-2h0m6 0h0m-7-1h0m1 0h0m1-1h0m2 0h0m2-1h0m-3-5h0m-2-2h0m5-5h0m-1-31h0m8-5h0m1 31h0m-6 6h0m11 0h0m0 1h0m-10 8h0m4 0h0m2 5h0m-1 9h0m4 9h0m-1 4h0m1 0h0m-7 14h0m12 31h0m0-24h0m3-24h0m-3-2h0m1-6h0m0-7h0m5 0h0m-5-1h0m7 0h0m0-1h0m-9-2h0m0-1h0m5-4h0m-6-1h0m10-8h0m-8-2h0m8-12h0m9 7h0m-3 3h0m4 0h0m-4 5h0m-4 5h0m6 1h0m-4 3h0m4 0h0m2 1h0m-9 1h0m11 1h0m-2 2h0m-9 2h0m9 1h0m-8 2h0m6 11h0m9 39h0m5-5h0m-2-19h0m-2-28h0m6 0h0m-8-4h0m-1-9h0m5 0h0m-2-1h0m3-2h0m-1-3h0m-1-2h0m-4-3h0m8-10h0m0-7h0m25 46h0m0-15h0m0-6h0m1-47h0m11 9h0m-7 12h0m7 4h0m-1 5h0m-4 5h0m-3 3h0m5 0h0m2 5h0m-10 4h0m2 1h0m8 3h0m-2 2h0m2 0h0m1 0h0m-10 3h0m-1 2h0m2 0h0m0 1h0m3 1h0m-1 2h0m2 0h0m0 1h0m-5 1h0m0 4h0m1 0h0m8 0h0m-10 1h0m9 1h0m-4 1h0m-5 1h0m10 1h0m-1 1h0m1 2h0m0 1h0m-7 3h0m0 4h0m7 3h0m-8 2h0m21 35h0m-10-22h0m5-8h0m-5-2h0m5-7h0m4 0h0m0-5h0m-2-7h0m1 0h0m-6-1h0m7-2h0m-10-1h0m2 0h0m8-2h0m1 0h0m-4-1h0m1 0h0m1 0h0m-1-1h0m-2-2h0m-3-3h0m-3-1h0m0-3h0m6-1h0m3-1h0m-8-6h0m4 0h0m5 0h0m-10-1h0m0-2h0m11-2h0m-4-2h0m-5-5h0m1-3h0m8-3h0m-10-2h0m0-2h0m-1-11h0m21-23h0m-6 25h0m2 3h0m4 6h0m1 10h0m-6 1h0m0 1h0m-4 4h0m6 2h0m1 1h0m-6 2h0m8 1h0m-9 1h0m1 1h0m9 0h0m-9 2h0m3 2h0m2 0h0m1 1h0m-2 1h0m0 3h0m5 3h0m-5 3h0m1 0h0m-1 2h0m1 0h0m-5 2h0m6 0h0m-5 3h0m3 0h0m5 0h0m-5 1h0m6 0h0m-10 1h0m4 2h0m1 0h0m2 0h0m-5 1h0m5 1h0m-3 1h0m-1 2h0m-3 3h0m6 1h0m-1 10h0m-6 5h0m17-10h0m3-2h0m0-5h0m-2-8h0m3-3h0m-9-15h0m4-2h0m7 0h0m-9-3h0m3 0h0m5 0h0m-1-2h0m-8-1h0m-1-2h0m6 0h0m-6-3h0m5 0h0m-2-1h0m10-34h0m1 18h0m9 12h0m-1 5h0m1 0h0m-4 3h0m1 2h0m0 3h0m-3 4h0m1 8h0m0 2h0m3 2h0m-3 1h0m4 1h0m-4 1h0m4 2h0m-6 5h0m-4 11h0m5 3h0m6 6h0m4 5h0m1-5h0m-2-3h0m3-2h0m2-3h0m-1-6h0m1-2h0m-3-2h0m-2-1h0m5-1h0m-6-2h0m0-2h0m1-2h0m6-2h0m-6-2h0m4 0h0m-6-1h0m9-2h0m-9-1h0m3 0h0m8 0h0m-4-3h0m1 0h0m-7-3h0m1 0h0m3 0h0m4 0h0m-9-1h0m4 0h0m0-5h0m7 0h0m-2-1h0m-6-1h0m0-1h0m4-3h0m-3-1h0m1 0h0m-1-1h0m4 0h0m1 0h0m-8-1h0m4-2h0m-2-1h0m-2-4h0m4-3h0m-3-4h0m2-19h0m1-11h0m10 3h0m8 12h0m-3 32h0m-7 8h0m10 0h0m-7 1h0m-2 1h0m2 0h0m3 2h0m-5 4h0m5 3h0m-6 3h0m6 0h0m-2 4h0m5 0h0m-5 18h0m5 8h0m-8 14h0m1 14h0"/>
<path transform="scale(.5)" fill="none" stroke="#D9423A" stroke-width="5.6" stroke-linecap="round" d="M268 1868h0m10-164h0m8 0h0m19 164h0m31 0h0m25-164h0m10 8h0m-3 156h0m14-157h0m37-7h0m8 164h0m-1-10h0m2-154h0m17 2h0m27 162h0m2-164h0m4 0h0m9 0h0m2 0h0m1 0h0m2 0h0m19 6h0m-7 158h0m8 0h0m8 0h0m2 0h0m5-164h0m18 164h0m5-164h0m27 0h0m3 0h0m1 0h0m3 0h0m1 0h0m-2 9h0m-1 155h0m8 0h0m8 0h0m0-154h0m13-10h0m0 4h0m-4 160h0m2 0h0m3-164h0m14 0h0m3 8h0m-3 156h0m3 0h0m1 0h0m27-164h0m-5 3h0m33 161h0m12-164h0m4 0h0m2 0h0m4 0h0m-4 3h0m-6 161h0m1 0h0m15 0h0m6 0h0m-8-154h0m2-7h0m-2-3h0m3 0h0m6 0h0m1 0h0m3 0h0m4 6h0m-5 147h0m-1 3h0m8 8h0m3 0h0m0-164h0m5 0h0m3 0h0m1 0h0m4 164h0m13 0h0m-1-164h0m11 0h0m-1 157h0m24 7h0m32-164h0m2 0h0m0 4h0m7 160h0m13 0h0m7-164h0m56 164h0m-3-153h0m-1-11h0m6 0h0m1 0h0m4 0h0m1 0h0m0 164h0m4 0h0m5 0h0m1 0h0m1-3h0m5-8h0m-7-150h0m0-3h0m10 5h0m10 5h0m-2 151h0m6 3h0m1 0h0m2 0h0m-5-3h0m8-152h0m-8-9h0m2 0h0m1 0h0m1 0h0m1 0h0m13 0h0m2 9h0m-6 146h0m9 5h0m-9 4h0m7 0h0m1 0h0m5 0h0m5 0h0m-3-164h0m6 0h0m29 0h0m2 0h0m-5 164h0m1 0h0m17-8h0m-5-156h0m10 0h0m6 0h0m12 164h0m2 0h0m1 0h0m-2-164h0m1 0h0m23 0h0m9 0h0m-4 164h0m5 0h0m5 0h0m53 0h0m5-164h0m4 160h0m17-160h0m17 153h0m-1 11h0m13 0h0m-5-164h0m3 0h0m30 0h0m9 0h0m1 164h0m11-8h0m-2-156h0m9 0h0m4 0h0m11 161h0m-7-161h0m15 7h0m15 157h0m5-164h0m1 0h0m5 0h0m-1 160h0m71 4h0"/>
<text x="79.40" y="822.70" font-size="16.7" font-weight="bold" text-anchor="middle" transform="rotate(-90 79.40 822.70)" fill="#000">Reference allele (rel. units)</text>
<line x1="958.00" y1="709.75" x2="958.00" y2="799.50" stroke="#000" stroke-width="2.0"/>
<line x1="953.50" y1="713.75" x2="958.00" y2="713.75" stroke="#000" stroke-width="1.8"/>
<text x="951.80" y="717.85" font-size="16.5" font-weight="bold" text-anchor="end" fill="#000">1.00</text>
<line x1="953.50" y1="734.25" x2="958.00" y2="734.25" stroke="#000" stroke-width="1.8"/>
<text x="951.80" y="738.35" font-size="16.5" font-weight="bold" text-anchor="end" fill="#000">0.75</text>
<line x1="953.50" y1="754.75" x2="958.00" y2="754.75" stroke="#000" stroke-width="1.8"/>
<text x="951.80" y="758.85" font-size="16.5" font-weight="bold" text-anchor="end" fill="#000">0.50</text>
<line x1="953.50" y1="775.25" x2="958.00" y2="775.25" stroke="#000" stroke-width="1.8"/>
<text x="951.80" y="779.35" font-size="16.5" font-weight="bold" text-anchor="end" fill="#000">0.25</text>
<line x1="953.50" y1="795.75" x2="958.00" y2="795.75" stroke="#000" stroke-width="1.8"/>
<text x="951.80" y="799.85" font-size="16.5" font-weight="bold" text-anchor="end" fill="#000">0.00</text>
<line x1="958.00" y1="799.50" x2="1003.00" y2="799.50" stroke="#000" stroke-width="2.0"/>
<text x="980.50" y="817.50" font-size="15" font-weight="bold" text-anchor="middle" fill="#000">chr1</text>
<line x1="1011.80" y1="799.50" x2="1056.80" y2="799.50" stroke="#000" stroke-width="2.0"/>
<text x="1034.30" y="817.50" font-size="15" font-weight="bold" text-anchor="middle" fill="#000">chr2</text>
<line x1="1065.60" y1="799.50" x2="1110.60" y2="799.50" stroke="#000" stroke-width="2.0"/>
<text x="1088.10" y="817.50" font-size="15" font-weight="bold" text-anchor="middle" fill="#000">chr3</text>
<line x1="1119.40" y1="799.50" x2="1164.40" y2="799.50" stroke="#000" stroke-width="2.0"/>
<text x="1141.90" y="817.50" font-size="15" font-weight="bold" text-anchor="middle" fill="#000">chr4</text>
<line x1="1173.20" y1="799.50" x2="1218.20" y2="799.50" stroke="#000" stroke-width="2.0"/>
<text x="1195.70" y="817.50" font-size="15" font-weight="bold" text-anchor="middle" fill="#000">chr5</text>
<line x1="1227.00" y1="799.50" x2="1272.00" y2="799.50" stroke="#000" stroke-width="2.0"/>
<text x="1249.50" y="817.50" font-size="15" font-weight="bold" text-anchor="middle" fill="#000">chr6</text>
<line x1="1280.80" y1="799.50" x2="1325.80" y2="799.50" stroke="#000" stroke-width="2.0"/>
<text x="1303.30" y="817.50" font-size="15" font-weight="bold" text-anchor="middle" fill="#000">chr7</text>
<line x1="1334.60" y1="799.50" x2="1379.60" y2="799.50" stroke="#000" stroke-width="2.0"/>
<text x="1357.10" y="817.50" font-size="15" font-weight="bold" text-anchor="middle" fill="#000">chr8</text>
<line x1="1388.40" y1="799.50" x2="1433.40" y2="799.50" stroke="#000" stroke-width="2.0"/>
<text x="1410.90" y="817.50" font-size="15" font-weight="bold" text-anchor="middle" fill="#000">chr9</text>
<line x1="1442.20" y1="799.50" x2="1487.20" y2="799.50" stroke="#000" stroke-width="2.0"/>
<text x="1464.70" y="817.50" font-size="15" font-weight="bold" text-anchor="middle" fill="#000">chr10</text>
<line x1="1496.00" y1="799.50" x2="1541.00" y2="799.50" stroke="#000" stroke-width="2.0"/>
<text x="1518.50" y="817.50" font-size="15" font-weight="bold" text-anchor="middle" fill="#000">chr11</text>
<line x1="1549.80" y1="799.50" x2="1594.80" y2="799.50" stroke="#000" stroke-width="2.0"/>
<text x="1572.30" y="817.50" font-size="15" font-weight="bold" text-anchor="middle" fill="#000">chr12</text>
<path fill="#68BDC2" d="M959.5 749.9h3.7v12.9h-3.7zM963.0 748.9h3.7v14.6h-3.7zM966.5 749.6h3.7v11.2h-3.7zM970.0 743.5h3.7v20.1h-3.7zM973.5 746.7h3.7v18.5h-3.7zM984.0 747.6h3.7v16.1h-3.7zM987.5 750.2h3.7v12.3h-3.7zM991.0 746.6h3.7v12.7h-3.7zM994.5 743.9h3.7v19.1h-3.7zM998.0 746.6h3.7v18.8h-3.7zM1013.3 746.6h3.7v16.1h-3.7zM1016.8 747.3h3.7v15.3h-3.7zM1020.3 747.0h3.7v17.6h-3.7zM1023.8 749.7h3.7v13.0h-3.7zM1027.3 751.3h3.7v10.7h-3.7zM1030.8 750.0h3.7v12.7h-3.7zM1034.3 750.0h3.7v13.3h-3.7zM1037.8 748.1h3.7v17.2h-3.7zM1041.3 750.9h3.7v11.2h-3.7zM1044.8 747.6h3.7v14.6h-3.7zM1048.3 748.3h3.7v16.6h-3.7zM1051.8 748.7h3.7v12.5h-3.7zM1067.1 750.3h3.7v8.2h-3.7zM1070.6 748.3h3.7v11.7h-3.7zM1074.1 750.0h3.7v9.9h-3.7zM1077.6 750.9h3.7v9.6h-3.7zM1081.1 748.3h3.7v9.0h-3.7zM1091.6 748.0h3.7v13.1h-3.7zM1095.1 748.1h3.7v13.4h-3.7zM1098.6 749.8h3.7v9.0h-3.7zM1102.1 749.3h3.7v13.4h-3.7zM1105.6 746.5h3.7v13.9h-3.7zM1120.9 751.5h3.7v8.4h-3.7zM1124.4 750.2h3.7v7.1h-3.7zM1127.9 746.7h3.7v13.0h-3.7zM1131.4 749.6h3.7v7.7h-3.7zM1134.9 749.8h3.7v9.3h-3.7zM1138.4 746.9h3.7v12.7h-3.7zM1141.9 749.9h3.7v8.9h-3.7zM1145.4 749.2h3.7v8.8h-3.7zM1148.9 746.8h3.7v12.3h-3.7zM1152.4 752.3h3.7v8.3h-3.7zM1155.9 747.5h3.7v12.4h-3.7zM1159.4 749.1h3.7v10.8h-3.7zM1174.7 749.1h3.7v11.0h-3.7zM1178.2 749.8h3.7v13.8h-3.7zM1181.7 752.0h3.7v9.0h-3.7zM1185.2 751.6h3.7v10.1h-3.7zM1188.7 747.1h3.7v12.5h-3.7zM1192.2 749.2h3.7v13.9h-3.7zM1195.7 751.3h3.7v8.9h-3.7zM1199.2 750.5h3.7v12.4h-3.7zM1202.7 749.2h3.7v11.6h-3.7zM1206.2 749.9h3.7v8.7h-3.7zM1209.7 751.3h3.7v10.3h-3.7zM1213.2 747.8h3.7v11.0h-3.7zM1228.5 749.4h3.7v13.3h-3.7zM1232.0 750.2h3.7v10.4h-3.7zM1235.5 747.2h3.7v13.2h-3.7zM1249.5 749.8h3.7v9.2h-3.7zM1253.0 747.9h3.7v12.0h-3.7zM1256.5 749.0h3.7v12.3h-3.7zM1260.0 746.8h3.7v16.2h-3.7zM1263.5 747.5h3.7v15.2h-3.7zM1267.0 749.3h3.7v9.1h-3.7zM1282.3 745.1h3.7v17.1h-3.7zM1285.8 746.4h3.7v13.4h-3.7zM1289.3 748.6h3.7v11.6h-3.7zM1292.8 748.1h3.7v9.8h-3.7zM1296.3 746.3h3.7v16.0h-3.7zM1299.8 747.4h3.7v16.8h-3.7zM1303.3 750.0h3.7v13.5h-3.7zM1306.8 749.6h3.7v11.3h-3.7zM1310.3 746.8h3.7v18.9h-3.7zM1313.8 750.4h3.7v10.6h-3.7zM1317.3 748.1h3.7v9.9h-3.7zM1320.8 747.2h3.7v14.9h-3.7zM1336.1 752.2h3.7v6.1h-3.7zM1339.6 749.2h3.7v10.6h-3.7zM1343.1 753.4h3.7v6.4h-3.7zM1346.6 749.6h3.7v10.4h-3.7zM1350.1 751.3h3.7v6.1h-3.7zM1353.6 748.5h3.7v9.6h-3.7zM1357.1 753.4h3.7v6.4h-3.7zM1360.6 749.5h3.7v8.5h-3.7zM1364.1 747.8h3.7v10.8h-3.7zM1367.6 751.2h3.7v7.1h-3.7zM1371.1 750.4h3.7v11.0h-3.7zM1374.6 748.8h3.7v9.2h-3.7zM1389.9 750.2h3.7v12.7h-3.7zM1393.4 750.9h3.7v10.7h-3.7zM1410.9 750.5h3.7v8.2h-3.7zM1414.4 752.5h3.7v7.5h-3.7zM1417.9 748.2h3.7v12.4h-3.7zM1421.4 749.0h3.7v11.3h-3.7zM1424.9 749.4h3.7v11.1h-3.7zM1428.4 751.6h3.7v9.7h-3.7zM1443.7 749.5h3.7v11.5h-3.7zM1447.2 749.5h3.7v8.6h-3.7zM1450.7 748.5h3.7v10.8h-3.7zM1454.2 749.5h3.7v7.6h-3.7zM1457.7 750.3h3.7v8.1h-3.7zM1461.2 750.2h3.7v7.2h-3.7zM1464.7 751.6h3.7v10.2h-3.7zM1468.2 750.3h3.7v9.9h-3.7zM1471.7 751.9h3.7v8.1h-3.7zM1475.2 747.3h3.7v13.2h-3.7zM1478.7 749.2h3.7v12.8h-3.7zM1482.2 750.3h3.7v10.3h-3.7zM1497.5 745.3h3.7v16.9h-3.7zM1501.0 745.7h3.7v16.4h-3.7zM1504.5 746.0h3.7v15.6h-3.7zM1508.0 745.5h3.7v15.2h-3.7zM1511.5 747.6h3.7v14.0h-3.7zM1515.0 751.8h3.7v9.8h-3.7zM1518.5 750.4h3.7v10.2h-3.7zM1522.0 747.4h3.7v14.9h-3.7zM1525.5 749.2h3.7v14.7h-3.7zM1529.0 749.3h3.7v13.1h-3.7zM1532.5 749.5h3.7v12.9h-3.7zM1536.0 747.8h3.7v12.1h-3.7zM1551.3 749.1h3.7v13.9h-3.7zM1554.8 749.6h3.7v12.8h-3.7zM1558.3 750.6h3.7v9.4h-3.7zM1561.8 748.0h3.7v11.4h-3.7zM1565.3 749.2h3.7v14.7h-3.7zM1568.8 745.7h3.7v14.2h-3.7zM1572.3 750.4h3.7v9.3h-3.7zM1575.8 746.0h3.7v15.1h-3.7zM1579.3 746.1h3.7v16.8h-3.7zM1582.8 746.3h3.7v14.3h-3.7zM1586.3 747.0h3.7v13.0h-3.7zM1589.8 745.9h3.7v14.8h-3.7z"/>
<path transform="scale(.5)" fill="none" stroke="#5FB7BD" stroke-width="5.8" stroke-linecap="round" d="M1919 1522h0m0-7h0m-1-18h0m1-33h0m6 6h0m4 0h0m2 3h0m0 1h0m-6 5h0m1 2h0m0 1h0m0 2h0m-4 1h0m5 0h0m-7 3h0m5 0h0m6 0h0m-5 1h0m-2 1h0m-1 1h0m1 0h0m4 5h0m1 1h0m-8 1h0m2 0h0m0 1h0m2 0h0m5 0h0m-6 2h0m-2 2h0m1 0h0m3 1h0m-4 1h0m4 0h0m2 0h0m-2 1h0m0 1h0m3 0h0m2 1h0m-7 1h0m1 0h0m1 0h0m-6 1h0m4 1h0m4 0h0m-4 1h0m0 2h0m1 0h0m4 1h0m-7 1h0m4 0h0m0 1h0m1 0h0m3 1h0m-6 3h0m5 0h0m1 0h0m-6 1h0m5 1h0m-9 2h0m2 1h0m6 1h0m2 0h0m-6 1h0m6 1h0m-7 1h0m7 2h0m-4 1h0m-3 1h0m5 4h0m0 2h0m1 0h0m-7 5h0m9 1h0m-7 2h0m5 0h0m-7 5h0m3 0h0m-4 3h0m4 3h0m6 2h0m-1 4h0m0 1h0m-6 3h0m17 1h0m0-13h0m0-1h0m-7-1h0m1-1h0m0-8h0m4-5h0m4 0h0m-11-1h0m4-2h0m-4-1h0m1 0h0m4 0h0m0-2h0m6-1h0m-11-2h0m2 0h0m3 0h0m2 0h0m3 0h0m-8-1h0m9 0h0m-3-1h0m-6-1h0m2-1h0m-2-5h0m2 0h0m7 0h0m-2-1h0m1-1h0m-6-1h0m1 0h0m-3-2h0m-1-1h0m5-1h0m-3-2h0m8 0h0m-1-1h0m-10-1h0m6 0h0m-5-1h0m1 0h0m2 0h0m3 0h0m-7-1h0m2 0h0m1 0h0m6 0h0m-8-1h0m10 0h0m-9-1h0m9 0h0m-3-1h0m-2-1h0m4 0h0m-2-1h0m1 0h0m2 0h0m-6-1h0m-3-2h0m0-1h0m3-1h0m3-1h0m1 0h0m-9-2h0m10 0h0m-5-2h0m0-1h0m6-1h0m-9-1h0m4 0h0m4-3h0m-7-1h0m2 0h0m6 0h0m-10-4h0m8 0h0m2-1h0m-10-2h0m4 0h0m-4-2h0m1-1h0m1 0h0m1-3h0m-4-4h0m1 0h0m9-6h0m-9-2h0m4 0h0m4-16h0m-6-1h0m-1-5h0m16 7h0m-2 6h0m0 6h0m-1 2h0m7 2h0m-8 3h0m2 0h0m-4 3h0m2 7h0m7 0h0m2 1h0m-2 2h0m1 1h0m-9 1h0m1 1h0m4 0h0m-3 1h0m4 1h0m1 0h0m-8 1h0m10 0h0m-8 1h0m7 0h0m2 0h0m-2 2h0m-9 3h0m1 0h0m4 0h0m6 0h0m-6 2h0m4 0h0m-9 1h0m2 1h0m2 0h0m-3 2h0m4 1h0m-1 1h0m6 0h0m-9 1h0m8 1h0m1 0h0m-8 1h0m0 1h0m2 0h0m7 0h0m-10 1h0m1 0h0m5 0h0m2 0h0m1 1h0m1 0h0m-11 1h0m8 0h0m2 0h0m-6 1h0m-3 1h0m0 2h0m7 1h0m-7 2h0m3 0h0m-1 1h0m6 1h0m-6 1h0m1 0h0m-3 1h0m6 0h0m-3 1h0m-3 1h0m9 1h0m-10 2h0m9 1h0m-9 1h0m9 1h0m0 2h0m-9 1h0m2 1h0m-1 3h0m7 0h0m1 1h0m-8 2h0m2 1h0m-1 1h0m1 0h0m6 0h0m-8 2h0m3 2h0m-4 9h0m8 13h0m0 4h0m15-1h0m-10-11h0m9 0h0m1-7h0m-1-8h0m-10-1h0m10 0h0m-10-5h0m10 0h0m-2-6h0m-8-1h0m0-1h0m2 0h0m-2-1h0m1-4h0m10-4h0m-11-1h0m1-1h0m9 0h0m-8-2h0m8-3h0m0-1h0m-9-1h0m-1-1h0m0-1h0m1-2h0m-1-1h0m10-3h0m1-2h0m-2-6h0m-9-6h0m11-7h0m-1-7h0m1-4h0m-10-4h0m20-23h0m-1 6h0m-3 30h0m-3 2h0m1 0h0m0 1h0m4 0h0m-4 1h0m4 4h0m-7 1h0m1 1h0m3 1h0m0 1h0m-4 1h0m4 2h0m-1 1h0m-2 1h0m2 0h0m1 2h0m2 1h0m-4 3h0m1 0h0m4 0h0m-3 1h0m3 0h0m-7 1h0m0 1h0m2 0h0m0 1h0m4 0h0m3 0h0m-6 1h0m6 0h0m-6 1h0m1 1h0m-3 1h0m8 0h0m-5 2h0m2 0h0m-2 1h0m-4 1h0m3 0h0m4 0h0m0 1h0m1 0h0m-6 2h0m-2 1h0m1 2h0m1 2h0m0 3h0m1 2h0m0 1h0m3 0h0m-3 1h0m0 1h0m-1 1h0m8 0h0m-8 1h0m0 1h0m2 0h0m1 0h0m4 0h0m-5 2h0m-2 2h0m3 0h0m6 0h0m-8 1h0m4 1h0m3 5h0m-8 3h0m2 2h0m5 0h0m-8 4h0m2 0h0m7 4h0m-1 5h0m-2 7h0m1 0h0m-1 2h0m5 3h0m7-2h0m-5-35h0m5-8h0m-1-1h0m1-1h0m-6-2h0m0-1h0m3-1h0m5 0h0m-1-1h0m1 0h0m2 0h0m-7-1h0m6 0h0m-8-1h0m2 0h0m4-2h0m1-1h0m-7-1h0m8-3h0m1 0h0m-10-2h0m7-1h0m3 0h0m-10-1h0m10 0h0m-1-1h0m-1-1h0m-6-2h0m1-1h0m-2-1h0m1-1h0m6-1h0m-1-2h0m1 0h0m-9-2h0m3 0h0m7-1h0m-8-1h0m-1-3h0m1-2h0m6 0h0m-1-1h0m3 0h0m-9-1h0m-1-1h0m2 0h0m-1-2h0m6 0h0m-6-2h0m8-4h0m-4-2h0m0-2h0m2-4h0m0-3h0m-5-4h0m3-3h0m6-1h0m-3-9h0m1 0h0m-3-5h0m-5-1h0m3-1h0m-1-1h0m8 0h0m5 14h0m-3 8h0m-1 3h0m3 12h0m3 5h0m-5 1h0m9 0h0m1 1h0m-5 1h0m1 0h0m-4 1h0m2 0h0m-2 1h0m-2 2h0m1 0h0m5 0h0m4 0h0m-3 2h0m-4 1h0m3 0h0m0 1h0m-5 1h0m-1 1h0m2 0h0m3 1h0m-3 1h0m4 0h0m-2 1h0m2 0h0m-2 1h0m4 0h0m2 0h0m-9 1h0m9 1h0m-5 3h0m3 0h0m-1 1h0m-5 1h0m1 0h0m3 0h0m-7 1h0m8 0h0m2 1h0m-5 2h0m1 0h0m-4 1h0m7 0h0m-9 1h0m5 0h0m2 1h0m-3 1h0m5 0h0m-6 1h0m-2 1h0m6 1h0m-5 1h0m0 1h0m8 0h0m1 0h0m-11 1h0m8 0h0m-5 1h0m-3 1h0m1 0h0m2 0h0m2 0h0m-3 1h0m7 0h0m-8 1h0m4 0h0m2 0h0m3 2h0m-5 1h0m-3 2h0m-1 1h0m5 0h0m-2 1h0m6 0h0m-5 2h0m1 4h0m2 0h0m-6 1h0m-2 11h0m8 0h0m-3 4h0m1 3h0m4 3h0m-3 14h0m-5 2h0m10-46h0m0-28h0m23-10h0m0 28h0m-1 1h0m6 53h0m2 0h0m-5-10h0m0-9h0m1-1h0m-1-2h0m6-1h0m0-13h0m1-4h0m3 0h0m-2-1h0m-7-1h0m6-1h0m-2-1h0m5-1h0m-4-1h0m-6-4h0m0-1h0m8 0h0m-9-2h0m1 0h0m0-3h0m1 0h0m1 0h0m-3-3h0m5 0h0m1-1h0m1 0h0m3 0h0m-10-1h0m8 0h0m-7-1h0m5 0h0m2 0h0m0-1h0m2-1h0m-7-1h0m-2-1h0m-1-1h0m1 0h0m9 0h0m-7-1h0m1 0h0m4 0h0m2 0h0m-9-1h0m2-1h0m2 0h0m6 0h0m-11-1h0m1 0h0m4 0h0m1-1h0m4 0h0m-7-1h0m8 0h0m-11-1h0m3-1h0m5 0h0m3 0h0m-3-1h0m-1-3h0m-1-3h0m3 0h0m0-1h0m-3-3h0m5 0h0m-10-2h0m1-1h0m7-1h0m-8-3h0m2-1h0m3 0h0m-4-1h0m8-2h0m-3-7h0m-7-2h0m8 0h0m-6-6h0m-1-1h0m8 0h0m-8-1h0m3-7h0m2-10h0m8 17h0m3 4h0m6 10h0m-1 5h0m-8 1h0m5 0h0m3 3h0m-7 2h0m5 1h0m-5 1h0m7 0h0m-7 1h0m-3 3h0m2 1h0m5 1h0m4 1h0m-10 1h0m9 3h0m-5 1h0m0 1h0m1 0h0m1 0h0m2 1h0m2 0h0m-1 2h0m-10 7h0m6 0h0m3 3h0m-8 1h0m1 0h0m2 0h0m6 0h0m0 1h0m-9 1h0m9 2h0m-8 1h0m0 1h0m7 0h0m-8 1h0m10 0h0m-1 1h0m-9 1h0m8 0h0m-9 1h0m2 1h0m2 1h0m6 1h0m-10 2h0m6 3h0m0 1h0m-6 3h0m2 0h0m5 3h0m-2 14h0m14 23h0m-4-4h0m-2-4h0m4-9h0m2-4h0m3-4h0m0-3h0m0-3h0m-5-1h0m5-3h0m-2-1h0m3-5h0m-9-1h0m2-2h0m5 0h0m2 0h0m-10-4h0m8-1h0m1 0h0m-9-1h0m9 0h0m-10-1h0m7 0h0m3 0h0m-10-2h0m1 0h0m-1-2h0m10 0h0m-8-2h0m-2-2h0m10 0h0m-10-1h0m5 0h0m4 0h0m2 0h0m-8-1h0m8 0h0m-9-1h0m1-1h0m2 0h0m5 0h0m-3-1h0m2-1h0m-9-1h0m6-1h0m0-2h0m2 0h0m-7-1h0m2-2h0m1-1h0m2 0h0m-3-2h0m7 0h0m-1-1h0m-3-1h0m2 0h0m1 0h0m1 0h0m-2-1h0m-1-1h0m-5-1h0m7-1h0m-8-2h0m8 0h0m-7-1h0m6 0h0m-2-2h0m5 0h0m-9-1h0m2-2h0m-3-2h0m9-1h0m1-5h0m-10-5h0m10-1h0m-10-1h0m5-1h0m0-4h0m1 0h0m1-1h0m1-2h0m-3-3h0m-1-9h0m0-7h0m6-2h0m9 6h0m-2 28h0m1 7h0m2 0h0m-3 1h0m-5 3h0m4 0h0m6 3h0m-11 2h0m11 3h0m-7 1h0m3 1h0m1 0h0m0 1h0m-7 2h0m-1 1h0m4 0h0m2 1h0m-2 3h0m2 3h0m5 2h0m-9 1h0m4 0h0m1 0h0m0 2h0m3 0h0m-6 1h0m1 0h0m1 0h0m-6 1h0m9 1h0m-9 1h0m5 0h0m-4 1h0m3 1h0m3 0h0m1 2h0m3 0h0m-2 4h0m-4 2h0m3 1h0m-8 1h0m2 2h0m3 0h0m5 2h0m-9 1h0m-1 5h0m6 11h0m-1 25h0m11 0h0m3-8h0m1-18h0m-2-9h0m-5-6h0m2-1h0m6-1h0m0-3h0m-9-3h0m6 0h0m-1-1h0m1-1h0m0-1h0m2 0h0m-7-2h0m6-2h0m-1-1h0m0-1h0m4 0h0m-6-1h0m4 0h0m1 0h0m-5-1h0m-3-1h0m1-1h0m5 0h0m-6-1h0m4-1h0m1 0h0m4 0h0m-9-1h0m7 0h0m-1-1h0m-6-2h0m1 0h0m7-1h0m-8-1h0m7-1h0m3-1h0m-5-1h0m1 0h0m1 0h0m-6-1h0m3 0h0m3-1h0m2 0h0m-10-2h0m1 0h0m5 0h0m1 0h0m1 0h0m-2-1h0m-4-1h0m1-1h0m4 0h0m-2-1h0m4-1h0m-8-1h0m1-1h0m1-1h0m1 0h0m1 0h0m5 0h0m-5-2h0m6-1h0m-2-5h0m-7-1h0m5-1h0m-3-6h0m6 0h0m1-2h0m-7-3h0m5-3h0m-6-3h0m8 0h0m-9-2h0m3 0h0m3-9h0m-2-4h0m2-7h0m10 6h0m5 8h0m0 3h0m-11 2h0m8 1h0m0 1h0m3 2h0m-5 7h0m-6 1h0m0 4h0m2 0h0m7 2h0m-9 3h0m3 0h0m1 0h0m-4 3h0m0 1h0m6 0h0m1 0h0m-4 1h0m8 0h0m-10 1h0m3 0h0m-2 1h0m2 1h0m-2 1h0m7 0h0m-4 1h0m1 0h0m-5 3h0m3 0h0m-4 1h0m11 1h0m-11 1h0m1 0h0m4 0h0m3 1h0m0 1h0m-5 1h0m7 1h0m-9 2h0m8 0h0m-9 2h0m5 2h0m-4 1h0m1 0h0m5 0h0m1 1h0m0 1h0m3 1h0m-11 1h0m2 0h0m7 0h0m2 1h0m-11 2h0m8 0h0m-7 1h0m9 0h0m-5 3h0m1 1h0m4 0h0m-9 3h0m2 1h0m6 0h0m-3 2h0m-3 4h0m3 0h0m-4 1h0m7 2h0m-8 3h0m8 2h0m-9 1h0m4 0h0m-2 1h0m-2 3h0m1 4h0m9 2h0m-3 4h0m4 11h0m-7 1h0m-2 11h0m21-1h0m-3-13h0m1-24h0m-8-4h0m6-3h0m-3-3h0m0-3h0m-2-5h0m9-8h0m-10-2h0m4-1h0m3 0h0m-3-1h0m5-3h0m-4-1h0m2 0h0m-6-2h0m1 0h0m2 0h0m-5-1h0m0-1h0m0-2h0m9-1h0m-6-3h0m3-2h0m4-3h0m-10-1h0m8-1h0m-3-4h0m5-1h0m-9-22h0m6-8h0m-1-9h0m29 109h0m-1-11h0m0-12h0m1-8h0m0-5h0m-1-17h0m1 0h0m-1-26h0m0-2h0m12-27h0m-3 5h0m1 0h0m3 0h0m-11 21h0m9 6h0m-2 7h0m3 1h0m-6 3h0m6 0h0m-5 1h0m5 3h0m0 1h0m-1 4h0m2 0h0m-8 2h0m4 0h0m4 0h0m-9 1h0m3 0h0m2 1h0m0 1h0m-1 1h0m5 1h0m-3 2h0m-5 1h0m-3 1h0m3 0h0m3 0h0m1 0h0m-7 1h0m6 4h0m2 0h0m-8 1h0m8 0h0m-6 1h0m1 0h0m4 0h0m1 0h0m-5 1h0m5 0h0m-4 3h0m-1 1h0m7 2h0m-6 1h0m7 0h0m-9 1h0m6 0h0m3 1h0m-2 1h0m1 1h0m-10 2h0m10 2h0m-4 3h0m-5 2h0m9 22h0m-9 6h0m2 1h0m6 0h0m10-19h0m2-7h0m-9-6h0m2-1h0m7 0h0m-3-1h0m-5-2h0m2-10h0m4-1h0m3 0h0m-3-2h0m-7-1h0m9-1h0m-6-5h0m6 0h0m-6-1h0m7 0h0m-3-1h0m-6-2h0m1-4h0m-2-1h0m3-1h0m7 0h0m1-1h0m-8-4h0m6-1h0m-8-3h0m-1-1h0m1-5h0m2 0h0m-1-6h0m7-3h0m-9-1h0m5 0h0m-5-19h0m20-15h0m1 25h0m-7 13h0m9 5h0m-7 3h0m1 3h0m-4 2h0m10 4h0m-10 2h0m3 6h0m6 0h0m1 1h0m-6 1h0m1 1h0m2 0h0m-8 2h0m2 3h0m7 0h0m-9 1h0m0 2h0m3 4h0m2 1h0m-1 4h0m-3 3h0m10 1h0m-10 1h0m2 2h0m3 12h0m16 12h0m1-17h0m-4-5h0m2-7h0m-3-2h0m1 0h0m-1-2h0m2-2h0m3 0h0m-6-3h0m1 0h0m2-2h0m1-1h0m1-1h0m-10-1h0m0-1h0m9 0h0m-1-2h0m-2-1h0m2 0h0m3 0h0m-10-3h0m7 0h0m-1-5h0m4-1h0m-5-1h0m5-2h0m-2-3h0m-2-3h0m1-10h0m3-15h0m2-20h0m2 12h0m0 4h0m3 6h0m4 1h0m0 3h0m-10 8h0m10 1h0m-4 3h0m2 0h0m-2 1h0m4 1h0m-8 2h0m6 0h0m1 1h0m-5 3h0m3 2h0m-4 1h0m1 0h0m1 0h0m6 1h0m-8 2h0m1 0h0m3 0h0m1 1h0m-4 2h0m5 0h0m-8 1h0m1 4h0m1 0h0m1 0h0m0 1h0m7 1h0m-8 1h0m5 0h0m-5 1h0m1 1h0m1 0h0m4 0h0m1 0h0m-1 2h0m-8 1h0m0 1h0m9 0h0m-9 1h0m3 0h0m2 1h0m-4 1h0m2 0h0m7 0h0m-2 2h0m-5 1h0m2 0h0m-4 1h0m0 1h0m1 0h0m2 0h0m-5 1h0m0 1h0m9 0h0m-4 1h0m-3 2h0m2 0h0m0 1h0m-3 1h0m8 0h0m-6 1h0m0 2h0m2 1h0m1 2h0m-1 2h0m-2 5h0m-1 7h0m3 6h0m5 2h0m-6 8h0m6 0h0m-8 8h0m8 2h0m5-19h0m6-1h0m-4-3h0m-4-10h0m3-8h0m0-2h0m0-1h0m1 0h0m2 0h0m-2-5h0m-5-2h0m5 0h0m-1-4h0m1 0h0m5 0h0m-6-2h0m1 0h0m-2-1h0m1 0h0m3-4h0m-3-2h0m0-3h0m-2-1h0m4 0h0m-1-1h0m1-1h0m4-1h0m-4-1h0m5 0h0m-2-4h0m-2-1h0m-5-1h0m3 0h0m1 0h0m1-2h0m-5-1h0m1 0h0m1 0h0m-1-4h0m2 0h0m0-2h0m0-1h0m4 0h0m-5-2h0m3-3h0m-2-2h0m1-1h0m-2-36h0m10 10h0m3 13h0m1 22h0m1 1h0m1 0h0m-8 2h0m4 5h0m-2 3h0m1 0h0m-3 3h0m3 0h0m4 0h0m-2 5h0m6 8h0m-3 2h0m3 3h0m-10 1h0m1 3h0m6 5h0m2 1h0m-10 1h0m2 4h0m4 3h0m29-47h0m0 5h0m-2 9h0m2 1h0m-1 2h0m0 2h0m0 10h0m10 55h0m-7-11h0m4-17h0m0-15h0m-1-2h0m-4-2h0m1-4h0m2-1h0m5-1h0m-4-2h0m2 0h0m1-1h0m-1-1h0m1-2h0m-1-3h0m0-1h0m2 0h0m-2-2h0m1 0h0m-7-1h0m6 0h0m0-1h0m-5-3h0m5-2h0m4 0h0m-10-5h0m6-1h0m1-3h0m-1-1h0m-1-8h0m2-1h0m-2-5h0m-3-12h0m17-16h0m-5 5h0m9 4h0m-2 23h0m-4 7h0m-4 2h0m0 3h0m7 1h0m-6 1h0m0 3h0m5 2h0m-7 1h0m2 2h0m4 1h0m-5 5h0m9 2h0m-9 1h0m2 0h0m7 1h0m-7 1h0m1 0h0m-2 1h0m1 4h0m1 0h0m-2 2h0m0 3h0m9 2h0m-11 1h0m1 0h0m-1 1h0m1 5h0m9 1h0m3 29h0m7-23h0m-2-8h0m-5-6h0m8-1h0m2-3h0m-2-3h0m-3-1h0m-1-6h0m5-1h0m1 0h0m-9-1h0m2-2h0m0-2h0m4 0h0m-5-1h0m6-1h0m-3-2h0m-6-3h0m6-1h0m-6-1h0m4-6h0m2 0h0m-1-1h0m1-2h0m2-2h0m-2-10h0m-4-2h0m-1-28h0m16 25h0m-3 4h0m9 2h0m-10 1h0m1 6h0m-1 6h0m2 2h0m-1 1h0m-2 3h0m3 0h0m8 0h0m-9 3h0m5 0h0m-6 7h0m10 2h0m-10 2h0m9 1h0m1 2h0m-10 2h0m9 0h0m-8 9h0m-1 17h0m0 2h0m0 6h0m19 16h0m-5-5h0m6-1h0m1-9h0m-8-15h0m6 0h0m-1-3h0m-7-3h0m8 0h0m1-2h0m0-1h0m-7-1h0m4 0h0m1-1h0m4 0h0m-9-2h0m5 0h0m2-4h0m-5-1h0m5-2h0m1 0h0m-7-1h0m2 0h0m5 0h0m-4-2h0m2 0h0m-6-1h0m1-3h0m2-1h0m1 0h0m0-2h0m1 0h0m-5-3h0m-2-1h0m2 0h0m5 0h0m2 0h0m-7-4h0m2-2h0m7 0h0m-1-1h0m-9-2h0m9 0h0m-1-1h0m2 0h0m-5-1h0m1 0h0m-7-1h0m11-2h0m-9-1h0m-2-2h0m6 0h0m4 0h0m-8-1h0m9-1h0m-7-1h0m6 0h0m0-1h0m0-1h0m-9-3h0m3-14h0m4-9h0m-4-5h0m19 6h0m-7 4h0m-2 5h0m8 11h0m-1 3h0m-1 2h0m-2 3h0m5 4h0m0 1h0m-1 2h0m0 1h0m-1 1h0m-3 1h0m1 3h0m4 0h0m-10 1h0m2 0h0m2 1h0m2 0h0m1 0h0m0 1h0m2 0h0m-3 1h0m1 1h0m-8 2h0m2 0h0m4 1h0m-2 2h0m3 0h0m-2 1h0m-5 2h0m5 3h0m4 0h0m-1 1h0m0 4h0m1 2h0m0 6h0m0 5h0m0 1h0m-5 9h0m5 1h0m-1 10h0m-6 5h0m3 14h0m-3 2h0m16 1h0m0-1h0m-2-6h0m3-9h0m-1-8h0m4-2h0m-10-9h0m10 0h0m-10-6h0m1-3h0m1-1h0m-2-2h0m9-2h0m1-2h0m-9-3h0m7 0h0m1-3h0m-6-1h0m2 0h0m4-1h0m-5-2h0m-4-5h0m3 0h0m6-1h0m-9-1h0m8-1h0m-3-2h0m2-3h0m2 0h0m-8-1h0m9 0h0m-6-1h0m-4-3h0m10-5h0m-4-4h0m4-7h0m-3-8h0m-3-3h0m6-13h0m23 63h0m2-9h0m0-5h0m0-1h0m-2-14h0m1-6h0m1-2h0m-2-36h0m3 8h0m7 27h0m2 9h0m-3 5h0m3 1h0m-9 1h0m0 1h0m7 0h0m-5 1h0m0 1h0m8 1h0m0 2h0m-8 1h0m7 0h0m-1 2h0m3 2h0m-11 2h0m2 2h0m0 5h0m9 0h0m-10 1h0m1 0h0m-1 1h0m9 2h0m-1 1h0m-7 1h0m3 1h0m-3 1h0m1 0h0m2 5h0m4 0h0m1 0h0m-1 2h0m-3 2h0m-5 3h0m10 0h0m-1 2h0m-10 1h0m11 18h0m-1 5h0m-2 9h0m-4 3h0m19-29h0m-4-4h0m1-2h0m2 0h0m-1-8h0m-3-5h0m3 0h0m-9-1h0m6-2h0m5-2h0m-11-3h0m5 0h0m5 0h0m-3-2h0m1 0h0m-7-6h0m1-2h0m4 0h0m-2-2h0m7-1h0m-1-1h0m-8-1h0m3-1h0m1 0h0m4 0h0m-8-1h0m0-2h0m1 0h0m4-1h0m2 0h0m-1-1h0m-6-3h0m5 0h0m-5-5h0m6 0h0m-1-5h0m-7-1h0m11-4h0m-9-13h0m2-10h0m17 3h0m-2 30h0m-7 2h0m0 1h0m0 2h0m8 2h0m-8 1h0m3 0h0m3 3h0m1 1h0m1 2h0m-6 1h0m-2 4h0m8 3h0m-2 1h0m-2 1h0m-4 2h0m0 1h0m11 0h0m-11 2h0m0 2h0m2 1h0m6 0h0m-1 3h0m-4 50h0m14-3h0m6-13h0m-2-3h0m-9-16h0m5 0h0m-1-9h0m0-9h0m5 0h0m2-1h0m-10-2h0m5-2h0m-4-1h0m2 0h0m2-3h0m-2-3h0m7 0h0m-9-1h0m0-1h0m7 0h0m0-1h0m-5-1h0m2 0h0m-2-1h0m1-4h0m-3-1h0m1-1h0m-2-2h0m6-3h0m-1-1h0m-2-2h0m5 0h0m-8-3h0m3-5h0m3-9h0m1-3h0m-7-1h0m2-3h0m9-15h0m8 1h0m2 0h0m1 2h0m-4 9h0m-6 2h0m-1 2h0m8 11h0m-4 7h0m2 3h0m4 5h0m-6 1h0m3 2h0m2 0h0m1 0h0m-1 1h0m-4 1h0m5 0h0m-6 2h0m-2 1h0m1 0h0m3 0h0m0 3h0m4 2h0m-7 2h0m2 1h0m3 0h0m1 3h0m-4 1h0m3 1h0m-2 2h0m1 0h0m4 1h0m0 2h0m-2 2h0m1 1h0m1 1h0m0 2h0m-2 1h0m-8 4h0m5 1h0m-5 5h0m3 4h0m1 4h0m-4 1h0m10 0h0m7 28h0m5-10h0m-3-1h0m0-1h0m-1-11h0m-2-1h0m-3-5h0m5-2h0m2 0h0m-8-1h0m10-5h0m-1-1h0m-1-3h0m-5-1h0m5 0h0m-2-3h0m-3-2h0m-2-1h0m9 0h0m-3-1h0m-7-3h0m2 0h0m6 0h0m-2-1h0m-6-2h0m1-1h0m8 0h0m-9-1h0m4 0h0m2 0h0m1-4h0m1 0h0m1 0h0m0-1h0m-10-2h0m2-1h0m8 0h0m-7-1h0m2 0h0m2 0h0m-6-3h0m6-1h0m1 0h0m-5-1h0m1 0h0m-4-1h0m8 0h0m3 0h0m-11-1h0m8-1h0m-7-1h0m6 0h0m4-1h0m-2-1h0m-3-3h0m1-2h0m0-1h0m0-2h0m0-2h0m-6-5h0m0-3h0m2-5h0m1-5h0m0-14h0m9 27h0m1 1h0m-1 6h0m0 2h0m7 5h0m-8 1h0m3 2h0m7 0h0m-7 1h0m-3 3h0m4 0h0m3 2h0m1 2h0m-4 1h0m-2 1h0m6 1h0m-4 2h0m-4 1h0m5 1h0m0 1h0m2 0h0m-3 2h0m4 0h0m-3 2h0m3 0h0m-3 3h0m-3 1h0m0 3h0m4 2h0m-1 8h0m3 4h0m-1 1h0m-2 5h0m1 0h0m27-73h0m0 12h0m2 2h0m0 3h0m0 2h0m-2 14h0m0 1h0m2 10h0m-2 7h0m-1 8h0m15 41h0m-1-6h0m-4-5h0m0-8h0m-4-9h0m4-3h0m-4-5h0m1-3h0m4-5h0m-6-2h0m6-2h0m-4-1h0m6 0h0m-3-1h0m2 0h0m-3-1h0m5 0h0m-3-1h0m-1-2h0m4-2h0m-7-1h0m0-1h0m-1-1h0m1 0h0m2 0h0m-3-1h0m9 0h0m-11-3h0m4-3h0m-4-4h0m3-2h0m-1-1h0m4-1h0m-1-4h0m5-1h0m-5-2h0m1-1h0m-4-2h0m4-2h0m-6-3h0m3-1h0m8-1h0m-8-9h0m-1-1h0m5 0h0m-3-3h0m2-11h0m12-8h0m-5 30h0m7 2h0m-1 4h0m1 0h0m-7 1h0m2 2h0m8 0h0m-5 2h0m1 2h0m2 0h0m-8 1h0m7 0h0m-4 3h0m4 1h0m-3 1h0m-4 1h0m1 0h0m3 0h0m0 1h0m1 0h0m-6 1h0m4 1h0m3 1h0m1 2h0m-8 2h0m4 2h0m6 1h0m-3 3h0m-7 1h0m1 0h0m-1 2h0m3 1h0m5 0h0m0 3h0m-8 2h0m10 0h0m1 1h0m-1 1h0m-8 2h0m6 1h0m-4 1h0m3 0h0m1 0h0m0 3h0m-8 4h0m0 2h0m9 3h0m-2 3h0m-2 4h0m4 27h0m-4 2h0m-2 1h0m19-35h0m1-1h0m-4-7h0m4 0h0m-11-1h0m9-2h0m-9-1h0m7-1h0m0-5h0m2 0h0m0-2h0m-2-2h0m2 0h0m1-1h0m-2-1h0m-7-1h0m1 0h0m8-1h0m-10-2h0m9 0h0m1-9h0m-2-4h0m-7-5h0m9-1h0m-1-4h0m-2-6h0m4 0h0m11-24h0m-8 1h0m4 1h0m4 2h0m-9 3h0m-1 3h0m1 8h0m6 3h0m1 0h0m-2 2h0m5 0h0m-4 1h0m3 0h0m-10 5h0m5 0h0m-1 1h0m5 3h0m-4 1h0m4 0h0m-7 2h0m8 0h0m-5 1h0m-1 2h0m7 0h0m-11 1h0m1 0h0m5 0h0m-4 3h0m4 1h0m-3 1h0m3 0h0m-6 1h0m2 0h0m9 0h0m-5 1h0m1 0h0m-2 1h0m5 0h0m-8 1h0m7 0h0m1 0h0m1 0h0m0 2h0m-11 1h0m11 0h0m-11 3h0m3 0h0m8 0h0m-6 1h0m-5 1h0m3 1h0m-3 1h0m11 0h0m-10 1h0m3 0h0m-3 4h0m4 0h0m-5 2h0m9 1h0m-3 1h0m3 1h0m-8 3h0m6 0h0m0 1h0m-5 1h0m4 3h0m-1 3h0m6 8h0m-2 25h0m12 2h0m-3-7h0m-5-3h0m7-13h0m3-2h0m-4-2h0m-7-4h0m2 0h0m9 0h0m-10-1h0m3 0h0m1-1h0m3 0h0m-7-1h0m9-3h0m-2-2h0m2 0h0m-2-1h0m-1-2h0m0-1h0m-7-1h0m4 0h0m-1-1h0m-2-2h0m1 0h0m3-1h0m4-3h0m1 0h0m-1-1h0m1 0h0m-3-1h0m2-1h0m-2-3h0m2 0h0m-4-1h0m-3-1h0m-1-1h0m9 0h0m-5-1h0m1-1h0m1 0h0m-7-1h0m1 0h0m9 0h0m-7-1h0m7 0h0m-5-1h0m-2-1h0m0-1h0m-3-1h0m6-1h0m-6-1h0m7 0h0m-1-2h0m-6-1h0m7-4h0m-6-1h0m1 0h0m2-1h0m2 0h0m3-1h0m-9-1h0m2 0h0m5-1h0m0-3h0m1 0h0m-5-2h0m-2-3h0m5 0h0m2-3h0m-4-1h0m3-2h0m0-5h0m0-2h0m1-1h0m-7-8h0m-1-12h0m2-7h0m5 0h0m-7-2h0m17 2h0m4 14h0m-9 9h0m8 5h0m0 5h0m2 1h0m-5 2h0m2 5h0m-5 1h0m4 0h0m-2 3h0m-3 3h0m4 0h0m1 0h0m2 0h0m-3 1h0m-2 1h0m2 1h0m0 3h0m-3 1h0m3 0h0m-3 1h0m-1 1h0m3 0h0m2 0h0m-5 1h0m2 0h0m2 1h0m0 2h0m-5 1h0m4 0h0m4 2h0m-3 1h0m-3 1h0m4 0h0m-3 1h0m-1 3h0m6 0h0m0 1h0m-2 1h0m0 1h0m-6 1h0m7 0h0m-6 3h0m1 0h0m2 1h0m3 0h0m-7 1h0m1 1h0m7 0h0m2 1h0m-3 1h0m-3 3h0m-3 1h0m1 0h0m-1 3h0m9 2h0m-9 1h0m5 2h0m-3 3h0m2 4h0m5 26h0m-3 2h0m12-2h0m1-15h0m0-6h0m-7-13h0m5-3h0m-2-2h0m4-5h0m-5-1h0m1-1h0m5-4h0m-8-1h0m8-2h0m-7-6h0m3 0h0m4-2h0m-9-5h0m5 0h0m2-2h0m1-1h0m-2-2h0m3-2h0m0-1h0m-8-1h0m7 0h0m-7-13h0m-1-1h0m1-19h0m-1-13h0m33 122h0m2-34h0m-2-5h0m1-18h0m1-1h0m-2-2h0m2 0h0m0-4h0m0-12h0m0-8h0m-1-27h0m1-4h0m0-15h0m12 6h0m-10 19h0m-1 1h0m5 4h0m-5 5h0m11 1h0m-6 2h0m2 5h0m3 0h0m1 1h0m-10 3h0m6 1h0m-6 1h0m2 1h0m8 4h0m-9 2h0m5 2h0m-1 1h0m4 0h0m-4 1h0m3 0h0m-2 1h0m4 1h0m-5 3h0m2 1h0m2 0h0m-5 5h0m-4 1h0m5 1h0m-5 1h0m10 0h0m0 1h0m-5 1h0m1 0h0m4 0h0m-4 1h0m3 3h0m1 0h0m-5 1h0m5 4h0m-10 1h0m1 4h0m5 1h0m-7 1h0m4 2h0m2 0h0m0 1h0m0 1h0m-6 2h0m11 1h0m-8 12h0m3 1h0m-6 10h0m14 1h0m-1-14h0m1-4h0m0-4h0m0-3h0m2-5h0m3-1h0m2-1h0m-7-1h0m6 0h0m-8-1h0m11-1h0m-7-2h0m1-3h0m-4-3h0m4 0h0m1-1h0m-5-2h0m5-1h0m2-1h0m1 0h0m-6-2h0m4 0h0m-2-1h0m-3-1h0m-1-1h0m3 0h0m3 0h0m3 0h0m-7-1h0m1 0h0m3 0h0m-6-1h0m1 0h0m1 0h0m-3-1h0m6 0h0m3-1h0m-9-2h0m10-2h0m-7-2h0m8 0h0m-4-2h0m-1-3h0m-4-1h0m5-1h0m-2-3h0m4 0h0m1-1h0m-9-2h0m0-1h0m4 0h0m-3-1h0m6 0h0m3-6h0m-11-4h0m6 0h0m3 0h0m-2-4h0m-4-2h0m-3-2h0m9-2h0m-1-1h0m-7-1h0m5 0h0m5-6h0m-8-10h0m19 7h0m-9 13h0m1 2h0m3 4h0m-3 1h0m9 5h0m-5 3h0m2 0h0m1 0h0m-5 2h0m7 0h0m-3 2h0m-5 1h0m4 1h0m1 0h0m3 0h0m-9 2h0m1 1h0m2 0h0m3 0h0m-8 1h0m9 1h0m-7 2h0m5 2h0m3 0h0m-3 1h0m4 0h0m-7 1h0m5 0h0m-7 1h0m9 0h0m-4 3h0m2 0h0m-6 3h0m7 0h0m-6 1h0m5 0h0m-3 1h0m4 0h0m-1 1h0m2 0h0m-10 1h0m8 0h0m1 0h0m-10 1h0m10 1h0m-1 1h0m-8 2h0m8 0h0m-2 1h0m-1 2h0m2 0h0m-1 1h0m3 0h0m-7 1h0m1 0h0m7 0h0m-5 1h0m2 0h0m2 0h0m-1 3h0m1 0h0m-7 2h0m8 0h0m-5 1h0m0 1h0m2 0h0m-4 1h0m-1 1h0m4 4h0m3 1h0m-2 6h0m-6 3h0m3 14h0m5 5h0m-4 7h0m-5 2h0m19-11h0m2-1h0m-6-5h0m-4-12h0m5-3h0m-4-11h0m1-2h0m6 0h0m-8-4h0m1-2h0m0-2h0m9-1h0m-3-2h0m2-5h0m-8-1h0m4-5h0m-3-1h0m8-1h0m1 0h0m-1-5h0m1-1h0m-8-1h0m7 0h0m-6-1h0m6 0h0m-1-1h0m-5-2h0m6-3h0m-7-3h0m2-10h0m-2-1h0m4-10h0m-6-6h0m3-4h0m4-2h0m14-10h0m-1 14h0m-1 16h0m-6 5h0m5 0h0m-7 2h0m1 6h0m9 3h0m-4 6h0m-2 1h0m2 0h0m-6 2h0m6 1h0m-2 1h0m-4 1h0m0 3h0m4 1h0m7 0h0m-7 2h0m2 0h0m-4 2h0m3 0h0m-5 6h0m7 1h0m1 2h0m-5 1h0m7 0h0m-10 1h0m3 1h0m6 1h0m-2 1h0m-4 2h0m1 0h0m-3 1h0m5 2h0m-1 7h0m4 1h0m2 17h0m-10 4h0m10 11h0m-10 6h0m11-4h0m4 0h0m-4-18h0m5-3h0m-5-11h0m0-2h0m6 0h0m-6-1h0m9 0h0m-1-2h0m3-2h0m0-2h0m-8-2h0m2-1h0m3 0h0m-3-3h0m4 0h0m-3-2h0m-1-1h0m5-3h0m-10-1h0m8 0h0m-6-3h0m9 0h0m-8-1h0m2 0h0m3 0h0m2 0h0m-9-5h0m5 0h0m5 0h0m-4-3h0m1-1h0m1 0h0m2 0h0m-5-1h0m1 0h0m1 0h0m3-1h0m-7-1h0m3 0h0m1-2h0m-7-1h0m6-2h0m1 0h0m3-1h0m-4-3h0m4-1h0m-6-1h0m5 0h0m1 0h0m-3-1h0m-1-1h0m4 0h0m-3-2h0m-8-1h0m10-1h0m-2-2h0m-5-1h0m3-8h0m-6-5h0m13-10h0m2 8h0m6 2h0m0 8h0m-6 2h0m-2 1h0m2 3h0m5 2h0m1 2h0m-6 1h0m0 3h0m-2 1h0m-1 1h0m4 1h0m-2 5h0m-2 1h0m0 1h0m6 0h0m2 1h0m-4 1h0m-1 1h0m5 0h0m-2 1h0m-1 1h0m-1 1h0m-4 1h0m1 1h0m3 0h0m-4 1h0m4 3h0m4 0h0m-6 1h0m3 2h0m1 0h0m-1 1h0m-1 2h0m-4 1h0m8 1h0m1 0h0m-4 1h0m2 3h0m-5 2h0m2 0h0m5 1h0m-4 1h0m-5 1h0m4 0h0m-2 2h0m1 3h0m0 2h0m6 4h0m-2 9h0m-5 1h0m4 12h0m29-112h0m-1 30h0m1 2h0m-3 3h0m0 2h0m2 2h0m1 11h0m-2 1h0m1 1h0m1 0h0m-2 7h0m2 0h0m-1 1h0m0 1h0m-1 1h0m1 0h0m1 3h0m5 61h0m0-15h0m-1-14h0m4-1h0m-6-10h0m9-8h0m-5-2h0m1-4h0m-5-1h0m-1-2h0m7 0h0m-5-1h0m2-1h0m-2-3h0m6 0h0m2-4h0m-2-2h0m3 0h0m-1-1h0m-7-2h0m-1-1h0m4 0h0m-5-2h0m4-2h0m4 0h0m-5-1h0m2-1h0m1 0h0m-7-1h0m3 0h0m-1-1h0m2-2h0m-4-3h0m2-2h0m3 0h0m-4-4h0m1 0h0m5-3h0m-3-28h0m13-5h0m-2 12h0m1 16h0m-2 2h0m0 6h0m2 2h0m7 6h0m-6 3h0m2 2h0m-2 7h0m-3 2h0m2 0h0m-2 1h0m3 1h0m-1 3h0m-2 2h0m2 1h0m-1 2h0m-2 1h0m10 1h0m-6 4h0m-2 1h0m-1 2h0m1 0h0m0 7h0m1 4h0m0 3h0m-2 9h0m2 6h0m-4 1h0m4 9h0m18-28h0m-6-2h0m0-5h0m-1-10h0m-3-10h0m0-2h0m2-3h0m7 0h0m1 0h0m-8-1h0m8-3h0m-10-1h0m1-2h0m5 0h0m4 0h0m0-1h0m0-7h0m-4-2h0m4-9h0m-10-6h0m8-3h0m2-5h0m1-1h0m-3-5h0m5 11h0m5 4h0m0 16h0m1 3h0m1 2h0m2 4h0m-10 2h0m5 5h0m5 3h0m-9 1h0m6 0h0m3 1h0m-1 1h0m0 3h0m-2 2h0m-2 1h0m6 1h0m-10 1h0m10 2h0m-1 1h0m-7 3h0m3 1h0m4 5h0m1 15h0m11 18h0m-10-2h0m6-9h0m-6-15h0m4-3h0m1-3h0m-1-9h0m-1-1h0m4-4h0m-3-1h0m2-3h0m-2-1h0m5 0h0m0-1h0m-5-6h0m6-2h0m-8-2h0m4-1h0m1 0h0m-1-3h0m-2-1h0m7-1h0m-11-2h0m4-2h0m2-1h0m-1-2h0m0-5h0m0-4h0m-3-1h0m5-1h0m-7-1h0m6-18h0m11 16h0m1 1h0m-1 4h0m-1 2h0m0 3h0m-1 5h0m7 3h0m-3 1h0m-1 3h0m3 1h0m-3 3h0m-2 4h0m2 0h0m2 0h0m-3 6h0m2 0h0m4 0h0m-10 1h0m3 2h0m4 1h0m-8 2h0m3 2h0m6 0h0m-7 1h0m2 2h0m2 0h0m2 5h0m1 3h0m-1 1h0m-5 1h0m1 2h0m-1 10h0m6 10h0m-7 11h0m15-9h0m-5-23h0m6-4h0m-6-9h0m7 0h0m-5-4h0m4 0h0m2 0h0m-2-1h0m1 0h0m-5-3h0m-2-2h0m6 0h0m-6-2h0m2-1h0m5-2h0m-7-2h0m6-2h0m-3-1h0m0-7h0m5-2h0m-3-1h0m-5-1h0m8-2h0m0-7h0m-4-7h0m-4-10h0m31 67h0m1-1h0m1-15h0m2-1h0m-3-3h0m1-4h0m1-23h0m4-43h0m-2 15h0m8 15h0m-7 12h0m0 2h0m1 1h0m9 2h0m-10 1h0m1 0h0m1 2h0m1 2h0m-3 2h0m6 0h0m-6 2h0m10 0h0m-1 2h0m1 0h0m-6 1h0m-4 1h0m3 0h0m5 1h0m-2 2h0m1 0h0m-5 3h0m7 5h0m-5 1h0m-2 1h0m-1 4h0m4 0h0m4 0h0m-8 2h0m9 0h0m-10 3h0m3 0h0m-4 1h0m9 2h0m-8 3h0m-1 2h0m2 0h0m0 2h0m9 1h0m-11 4h0m0 18h0m3 15h0m-3 3h0m14-42h0m1-2h0m0-3h0m-1-9h0m2-3h0m-4-2h0m4-11h0m-1-9h0m-1-9h0m2-30h0m18 45h0m1 11h0m0 12h0m-1 14h0m1 6h0m8 31h0m-4-3h0m3-16h0m-1-1h0m3-2h0m3 0h0m-8-7h0m-2-4h0m4-2h0m-1-2h0m0-2h0m7-1h0m-11-1h0m3 0h0m1-1h0m-3-4h0m3-4h0m-1-1h0m1 0h0m-3-4h0m3 0h0m6-1h0m-6-3h0m1 0h0m-5-3h0m10-1h0m-8-1h0m7 0h0m1 0h0m-6-1h0m1 0h0m0-1h0m4 0h0m-6-1h0m-1-4h0m4 0h0m-4-2h0m9-3h0m-7-1h0m6 0h0m-10-1h0m4 0h0m3-1h0m-7-1h0m9 0h0m2 0h0m0-6h0m-2-1h0m-2-4h0m-4-2h0m0-6h0m6-13h0m13-17h0m1 18h0m-3 19h0m1 3h0m1 0h0m-5 2h0m3 0h0m-8 1h0m1 4h0m6 2h0m2 1h0m-5 1h0m3 0h0m1 0h0m-2 1h0m-2 1h0m1 1h0m-3 1h0m1 1h0m-2 1h0m6 0h0m-7 2h0m0 1h0m4 0h0m1 0h0m6 2h0m-11 1h0m1 0h0m10 0h0m-4 1h0m2 2h0m-5 2h0m3 0h0m3 0h0m-10 1h0m8 4h0m-3 1h0m0 1h0m2 0h0m3 0h0m-8 3h0m4 2h0m-2 2h0m4 2h0m-6 1h0m7 4h0m-4 6h0m-2 29h0m8 3h0m12-11h0m-11-6h0m10 0h0m-10-8h0m9-1h0m-6-3h0m5-2h0m-5-6h0m6 0h0m-1-1h0m-5-2h0m-1-2h0m4-2h0m-3-2h0m8 0h0m0-1h0m-6-3h0m4 0h0m-1-1h0m2 0h0m-6-1h0m3-4h0m1-1h0m3 0h0m-4-1h0m4-1h0m-9-1h0m6 0h0m2-3h0m1 0h0m-9-2h0m0-3h0m5 0h0m0-2h0m-5-2h0m8-3h0m-3-1h0m4-1h0m-1-3h0m-2-1h0m3 0h0m0-1h0m-7-1h0m7 0h0m-1-2h0m-7-1h0m2 0h0m3 0h0m-3-1h0m6-11h0m-4-31h0m11 32h0m-4 3h0m1 0h0m2 7h0m-4 3h0m3 0h0m-3 3h0m5 1h0m-6 1h0m0 1h0m3 0h0m-3 1h0m2 0h0m-1 4h0m1 5h0m0 1h0m0 1h0m-1 1h0m3 0h0m-4 4h0m2 0h0m2 1h0m-4 4h0m1 1h0m4 1h0m-3 1h0m-2 1h0m4 2h0m-3 1h0m2 0h0m-2 3h0m2 0h0m1 3h0m-3 2h0m0 1h0m4 0h0m-2 32h0m29-83h0m0 11h0m0 30h0m-1 13h0m16 41h0m-7-2h0m7-33h0m-9-6h0m1-6h0m4 0h0m3-8h0m-10-4h0m1 0h0m3-1h0m-1-1h0m6 0h0m-9-4h0m10-1h0m-7-3h0m6-2h0m-6-1h0m-1-1h0m-2-1h0m2 0h0m1 0h0m-1-1h0m9 0h0m-8-2h0m-2-2h0m8-2h0m2 0h0m-6-4h0m5-1h0m-1-2h0m2 0h0m-9-3h0m2-2h0m7-4h0m-8-16h0m6-20h0m3 15h0m1 8h0m10 1h0m-9 14h0m2 0h0m-4 1h0m0 3h0m10 0h0m-4 1h0m-5 2h0m5 0h0m2 0h0m-7 1h0m1 0h0m1 0h0m-2 2h0m5 1h0m4 0h0m-10 3h0m8 0h0m2 2h0m-10 1h0m0 1h0m2 1h0m4 0h0m2 0h0m0 1h0m-7 1h0m-1 1h0m3 0h0m3 0h0m4 0h0m-1 1h0m-4 1h0m4 1h0m-1 1h0m1 1h0m-6 1h0m4 0h0m-1 1h0m-1 1h0m2 0h0m1 0h0m-1 2h0m1 0h0m-7 3h0m1 0h0m2 0h0m1 0h0m1 0h0m4 5h0m-2 1h0m2 0h0m-5 1h0m1 3h0m-4 1h0m9 0h0m-11 2h0m11 0h0m-6 1h0m-4 1h0m3 0h0m5 0h0m-4 5h0m-3 2h0m5 6h0m-3 1h0m1 10h0m2 2h0m-7 1h0m15 12h0m-2-1h0m4-4h0m6-23h0m-9-3h0m3-3h0m-1-3h0m5-4h0m1 0h0m-6-1h0m1-1h0m3 0h0m-1-1h0m-5-2h0m4 0h0m4-1h0m-9-1h0m1 0h0m-1-2h0m3 0h0m1-1h0m1-2h0m-4-1h0m9 0h0m-5-1h0m-1-1h0m-4-2h0m4-4h0m-1-6h0m7 0h0m-3-1h0m-5-2h0m0-1h0m3-1h0m-2-2h0m3 0h0m-3-2h0m-4-1h0m1 0h0m2 0h0m3-3h0m1 0h0m2 0h0m-8-1h0m5-3h0m-1-3h0m3 0h0m1 0h0m1-1h0m-7-3h0m7-1h0m-4-1h0m5 0h0m-8-6h0m-1-5h0m4-4h0m0-10h0m-4-6h0m2 0h0m18 21h0m-5 8h0m1 11h0m-4 3h0m2 2h0m-3 3h0m9 2h0m-6 3h0m4 2h0m-2 4h0m-1 1h0m2 0h0m-7 1h0m2 0h0m1 1h0m1 0h0m-1 1h0m-2 1h0m-1 1h0m10 0h0m-10 2h0m4 0h0m-1 2h0m2 0h0m1 0h0m-6 3h0m10 0h0m-10 5h0m6 0h0m0 1h0m1 0h0m-1 2h0m-3 3h0m-3 7h0m5 1h0m-2 6h0m7 10h0m12 9h0m-7-2h0m-2-3h0m10 0h0m-9-7h0m6-10h0m-7-3h0m8-1h0m2-5h0m-4-1h0m4 0h0m-10-5h0m7-2h0m-7-4h0m3-2h0m7 0h0m-11-1h0m5-1h0m6-1h0m-5-1h0m-5-1h0m5 0h0m5-1h0m-9-1h0m5 0h0m-4-1h0m7 0h0m-1-2h0m-1-1h0m-6-1h0m8 0h0m-7-2h0m3 0h0m-6-1h0m4 0h0m0-1h0m4 0h0m1 0h0m-8-1h0m3 0h0m-2-2h0m9 0h0m-3-2h0m1 0h0m-8-1h0m10-1h0m-4-1h0m-3-1h0m-3-2h0m-1-1h0m10 0h0m-4-2h0m1-1h0m-2-1h0m4-1h0m-2-17h0m-4-8h0m0-15h0m18 6h0m-1 9h0m-2 18h0m-5 9h0m9 0h0m-5 3h0m6 1h0m-5 1h0m-6 3h0m11 1h0m-4 2h0m2 0h0m1 0h0m-6 1h0m3 0h0m-3 1h0m-3 4h0m9 0h0m1 0h0m0 2h0m-3 1h0m3 2h0m-1 3h0m1 1h0m-11 1h0m1 2h0m9 1h0m-9 1h0m9 0h0m-5 1h0m-4 1h0m8 0h0m2 2h0m-8 1h0m-2 1h0m7 1h0m2 0h0m-1 1h0m-9 1h0m2 0h0m6 0h0m-2 1h0m3 0h0m0 3h0m2 3h0m-5 4h0m-5 4h0m0 1h0m9 5h0m-5 4h0m3 4h0m4 14h0m5-6h0m-3-6h0m-1-28h0m5-2h0m-1-1h0m-1-4h0m2-1h0m-3-1h0m2 0h0m-3-2h0m4 0h0m-1-1h0m2-3h0m-1-1h0m-5-2h0m4-1h0m1-3h0m1-1h0m0-6h0m-7-5h0m1-3h0m2 0h0m2 0h0m2-3h0m-1-2h0m-6-1h0m7-11h0m-2-19h0m1-9h0m25 128h0m2-13h0m0-8h0m-2-2h0m-1-4h0m1-4h0m2-7h0m-3-5h0m2-3h0m1 0h0m1 0h0m0-3h0m0-2h0m0-3h0m-2-3h0m-2-2h0m0-3h0m3-6h0m-3-3h0m4 0h0m1 0h0m-2-1h0m-2-1h0m2 0h0m-1-4h0m2-2h0m-3-1h0m3 0h0m-3-11h0m3-3h0m1-5h0m-2-9h0m13-23h0m-5 20h0m4 3h0m2 1h0m0 3h0m-4 10h0m2 1h0m-7 1h0m2 3h0m7 0h0m0 3h0m-8 4h0m6 0h0m-3 3h0m5 1h0m-1 1h0m-6 4h0m6 1h0m-1 3h0m2 0h0m-9 2h0m5 1h0m-7 4h0m7 1h0m-3 2h0m3 1h0m-6 1h0m-1 1h0m7 0h0m3 0h0m-7 3h0m6 3h0m0 4h0m-3 2h0m0 9h0m2 2h0m-6 4h0m5 0h0m-6 2h0m1 30h0m11-4h0m3-9h0m1-7h0m0-9h0m-5-8h0m1 0h0m6-5h0m-4-1h0m8 0h0m-8-2h0m-3-3h0m1 0h0m10 0h0m-7-3h0m0-1h0m-4-3h0m0-1h0m10 0h0m-10-1h0m6-2h0m3-1h0m-6-1h0m-3-1h0m4 0h0m5 0h0m1 0h0m-5-1h0m2-1h0m-1-1h0m1 0h0m2 0h0m-3-1h0m3 0h0m-5-2h0m4 0h0m-1-1h0m4 0h0m-11-1h0m6 0h0m0-1h0m4 0h0m-4-1h0m-3-7h0m-1-1h0m2 0h0m6 0h0m0-1h0m-5-1h0m-3-2h0m5-1h0m-2-1h0m5 0h0m-7-1h0m6 0h0m2-4h0m-8-1h0m3 0h0m-1-1h0m2 0h0m3 0h0m-8-1h0m7-1h0m1-1h0m1-3h0m-2-2h0m-3-3h0m-3-4h0m-1-14h0m3-6h0m-5-1h0m14-5h0m5 15h0m2 5h0m-6 6h0m-2 1h0m3 3h0m2 2h0m0 5h0m3 5h0m-5 1h0m7 0h0m-10 3h0m3 1h0m1 0h0m1 0h0m3 2h0m0 1h0m-7 1h0m7 0h0m0 2h0m-9 1h0m7 1h0m1 0h0m-1 1h0m-3 1h0m-2 1h0m2 1h0m-4 3h0m11 1h0m-5 1h0m-2 1h0m5 0h0m-1 1h0m-6 1h0m3 0h0m6 0h0m-6 1h0m4 0h0m0 2h0m-4 1h0m4 0h0m-8 3h0m9 0h0m-5 1h0m-2 1h0m2 0h0m5 0h0m1 0h0m-7 2h0m7 0h0m-8 2h0m7 1h0m-5 1h0m2 2h0m0 2h0m-6 2h0m6 0h0m-5 4h0m9 0h0m-8 1h0m2 1h0m6 4h0m-10 1h0m4 0h0m-4 2h0m8 1h0m-1 2h0m-4 1h0m4 2h0m-3 2h0m3 1h0m3 7h0m7 15h0m-1-8h0m-4-10h0m0-1h0m9 0h0m-7-11h0m1 0h0m6 0h0m-2-10h0m-6-2h0m1-2h0m-3-2h0m5 0h0m-2-2h0m2 0h0m-2-3h0m4 0h0m4-1h0m-7-1h0m7-1h0m-10-1h0m10-1h0m-11-1h0m0-1h0m5 0h0m6 0h0m-11-3h0m4 0h0m5-1h0m-9-1h0m6-1h0m3-2h0m2 0h0m-9-2h0m1 0h0m7-2h0m-8-1h0m2 0h0m6-1h0m-7-3h0m1 0h0m4-1h0m-6-1h0m2-1h0m2 0h0m5-1h0m-10-1h0m1-1h0m0-2h0m9 0h0m0-3h0m-11-4h0m4 0h0m6-1h0m-8-1h0m-1-3h0m1 0h0m8 0h0m1 0h0m-1-10h0m-3-4h0m-6-5h0m10-14h0m-5-7h0m9 42h0m7 7h0m-9 1h0m10 0h0m-11 1h0m7 0h0m-7 3h0m3 0h0m4 0h0m-6 1h0m2 2h0m2 0h0m1 4h0m5 7h0m-9 3h0m0 2h0m-2 2h0m1 0h0m10 2h0m-2 3h0m-7 1h0m8 1h0m-3 1h0m-3 1h0m-4 1h0m9 1h0m-7 3h0m7 1h0m-8 10h0m-1 8h0m9 18h0m3 1h0m6-26h0m-5-1h0m-1-4h0m6-1h0m-5-4h0m2-3h0m5 0h0m-4-2h0m1-1h0m2 0h0m-1-1h0m3-2h0m-4-1h0m0-2h0m1-3h0m2 0h0m-3-2h0m-1-4h0m-4-2h0m3-1h0m1 0h0m0-4h0m1-2h0m2 0h0m4-5h0m-11-2h0m9 0h0m1-4h0m-5-4h0m0-1h0m1-20h0m1-3h0m-5-11h0m12-7h0m-1 9h0m0 16h0m0 2h0m3 1h0m-2 12h0m5 7h0m-7 1h0m0 1h0m0 2h0m2 1h0m4 1h0m-5 2h0m1 0h0m1 1h0m-3 1h0m5 1h0m-2 1h0m1 2h0m4 0h0m-8 1h0m6 1h0m-3 1h0m0 1h0m3 1h0m1 1h0m-5 1h0m1 1h0m4 0h0m-6 1h0m1 0h0m2 1h0m3 2h0m-7 1h0m2 1h0m2 0h0m2 2h0m-5 2h0m5 1h0m1 1h0m-6 1h0m4 21h0m0 1h0m-3 2h0m2 7h0m-2 18h0m29-125h0m-1 6h0m3 9h0m0 5h0m-3 2h0m0 8h0m3 0h0m-3 2h0m3 1h0m2 3h0m-3 2h0m1 2h0m1 2h0m0 2h0m-1 1h0m1 5h0m-1 2h0m-2 1h0m0 1h0m-1 1h0m5 0h0m-5 6h0m1 0h0m-1 1h0m3 3h0m-3 1h0m5 0h0m0 2h0m-3 2h0m-2 5h0m4 0h0m-1 2h0m0 1h0m-2 1h0m3 8h0m-2 2h0m2 1h0m-1 5h0m0 1h0m0 8h0m2 5h0m-4 1h0m16-24h0m-10-1h0m10 0h0m-11-3h0m6-1h0m5 0h0m-3-2h0m-4-2h0m7-1h0m-10-1h0m6 0h0m1-1h0m-2-2h0m-3-1h0m0-3h0m1 0h0m5-1h0m1-1h0m-8-2h0m5 0h0m1 0h0m2 0h0m-3-1h0m3-1h0m0-4h0m-10-1h0m1 0h0m10-2h0m-8-1h0m3 0h0m5 0h0m-9-1h0m-1-2h0m9 0h0m-8-3h0m5-5h0m3 0h0m0-1h0m0-2h0m-10-1h0m3 0h0m4 0h0m-7-13h0m5-3h0m-2-5h0m6-2h0m1 0h0m-6-6h0m-4-3h0m0-14h0m16 4h0m7 0h0m-7 4h0m2 16h0m-5 3h0m1 3h0m8 2h0m1 4h0m-6 6h0m5 0h0m-10 1h0m1 3h0m2 0h0m-1 2h0m5 1h0m-7 1h0m1 0h0m1 2h0m1 0h0m8 0h0m-7 1h0m3 2h0m-5 1h0m1 0h0m-1 2h0m6 0h0m1 0h0m-8 1h0m2 1h0m-1 1h0m3 0h0m-3 1h0m4 1h0m-4 1h0m7 0h0m-9 1h0m5 0h0m-2 1h0m4 0h0m4 0h0m-8 1h0m-2 1h0m6 0h0m-2 2h0m1 1h0m-4 1h0m2 0h0m3 1h0m1 0h0m2 0h0m-7 1h0m7 2h0m-8 1h0m0 1h0m3 2h0m4 1h0m2 2h0m-6 1h0m3 0h0m-5 1h0m-1 1h0m4 0h0m1 0h0m2 2h0m-2 2h0m-2 1h0m-3 1h0m2 1h0m-2 1h0m0 1h0m2 0h0m1 1h0m3 4h0m0 2h0m-5 3h0m2 24h0m18 0h0m-1-18h0m1-10h0m-2-9h0m-6-2h0m-2-3h0m2-1h0m0-4h0m8-1h0m-10-3h0m8-1h0m0-2h0m-6-3h0m7 0h0m-7-3h0m4-3h0m-3-1h0m5 0h0m-1-1h0m1-1h0m-8-1h0m7-1h0m-7-7h0m8-1h0m-3-4h0m-2-1h0m5-1h0m-1-27h0m-6-9h0m7-5h0m0-1h0m12 12h0m-5 1h0m-3 1h0m7 4h0m-4 3h0m4 3h0m1 7h0m-7 1h0m4 1h0m-5 1h0m4 2h0m2 1h0m2 4h0m-3 2h0m-2 1h0m3 0h0m-7 1h0m7 1h0m-4 1h0m1 0h0m2 2h0m1 1h0m2 0h0m-6 1h0m4 2h0m-4 1h0m3 0h0m1 0h0m2 1h0m-8 1h0m2 0h0m3 0h0m-1 4h0m2 0h0m-1 2h0m4 1h0m-9 2h0m7 2h0m0 1h0m-3 1h0m5 0h0m-2 1h0m-2 1h0m1 1h0m0 1h0m2 3h0m-3 2h0m3 0h0m-2 2h0m1 2h0m-7 3h0m2 6h0m3 1h0m5 0h0m-5 4h0m5 0h0m-3 6h0m1 2h0m-9 4h0m8 3h0m15 6h0m-11-3h0m11 0h0m-1-7h0m-1-2h0m-6-4h0m-2-4h0m2-6h0m6 0h0m-8-1h0m2-4h0m-2-1h0m3-1h0m-2-2h0m-1-1h0m0-7h0m2-3h0m-1-1h0m1 0h0m1-1h0m5 0h0m0-1h0m-5-1h0m6 0h0m-8-1h0m7-1h0m-5-2h0m-2-1h0m6-1h0m-8-3h0m7-2h0m-6-2h0m5-1h0m4 0h0m-8-2h0m-1-1h0m9 0h0m0-2h0m1 0h0m-8-1h0m2 0h0m-3-1h0m1-1h0m1 0h0m6-1h0m-4-2h0m2-3h0m-7-1h0m8 0h0m2-1h0m-5-1h0m3-1h0m-4-1h0m0-1h0m0-1h0m-5-2h0m9-3h0m2-1h0m-3-4h0m-8-1h0m5 0h0m5-6h0m0-1h0m0-6h0m-10-5h0m9-5h0m-8-2h0m12 3h0m3 13h0m5 3h0m-3 3h0m0 6h0m-4 8h0m8 2h0m1 1h0m-3 1h0m-7 4h0m2 1h0m1 2h0m-1 2h0m3 0h0m3 2h0m-3 1h0m5 0h0m-11 1h0m2 0h0m1 1h0m-1 2h0m1 0h0m7 3h0m-6 4h0m6 0h0m0 1h0m-10 2h0m9 1h0m-1 1h0m0 4h0m1 0h0m-1 3h0m3 0h0m-1 1h0m-1 3h0m1 3h0m-1 1h0m-6 4h0m3 0h0m3 2h0m-5 1h0m1 7h0m6 2h0m-7 4h0m3 0h0m-7 1h0m7 18h0m2 10h0m8-48h0m-3-6h0m5-4h0m0-2h0m-7-4h0m1-1h0m4-8h0m2 0h0m-2-1h0m-5-1h0m1-8h0m-1-9h0m5-5h0m2-3h0m-1-9h0"/>
<path transform="scale(.5)" fill="none" stroke="#D9423A" stroke-width="5.6" stroke-linecap="round" d="M1919 1428h0m2 0h0m5 0h0m-4 164h0m5 0h0m10 0h0m-3-164h0m2 0h0m6 0h0m4 0h0m1 0h0m7 0h0m-10 4h0m6 153h0m-1 7h0m1 0h0m4 0h0m16 0h0m1 0h0m3 0h0m11 0h0m0-154h0m-4-10h0m1 0h0m6 0h0m7 0h0m2 0h0m3 0h0m0 162h0m-2 2h0m5 0h0m30 0h0m3 0h0m-6-164h0m11 164h0m20-154h0m-9-10h0m2 0h0m3 0h0m7 0h0m5 164h0m8 0h0m2 0h0m4 0h0m-3-6h0m5-5h0m-9-153h0m4 0h0m3 0h0m7 0h0m6 0h0m-7 10h0m16 154h0m5-164h0m1 0h0m29 0h0m6 3h0m-1 161h0m4 0h0m14-164h0m7 0h0m-1 164h0m9 0h0m-2-164h0m12 0h0m6 0h0m-1 7h0m0 147h0m0 10h0m8 0h0m-3-11h0m4-153h0m15 10h0m2 154h0m28 0h0m-3-164h0m1 0h0m23 164h0m14-10h0m1 10h0m10 0h0m7-3h0m-5-4h0m-2-157h0m1 0h0m9 0h0m11 0h0m-10 164h0m6 0h0m5 0h0m11 0h0m34-164h0m-5 155h0m3 9h0m16 0h0m1-160h0m-4-4h0m10 0h0m15 164h0m-2-164h0m5 0h0m2 0h0m3 0h0m1 0h0m1 0h0m-4 164h0m17 0h0m-7-164h0m3 0h0m10 164h0m5 0h0m1 0h0m28 0h0m9 0h0m-8-164h0m23 0h0m-3 160h0m-1 4h0m13 0h0m0-156h0m9-8h0m6 0h0m-10 164h0m11 0h0m5 0h0m5 0h0m-4-164h0m1 0h0m9 0h0m3 0h0m-5 157h0m7 7h0m7 0h0m39-164h0m0 11h0m2 144h0m-4 9h0m7 0h0m2 0h0m6-4h0m-7-160h0m10 0h0m4 0h0m6 0h0m1 0h0m-4 164h0m8 0h0m2 0h0m3 0h0m12-11h0m-5 11h0m9 0h0m11 0h0m-4-7h0m-6-157h0m16 154h0m0 10h0m31-164h0m4 164h0m16-164h0m-4 164h0m11-164h0m7 0h0m12 0h0m-6 164h0m8 0h0m14-164h0m10 0h0m-3 7h0m5-7h0m31 164h0m10 0h0m7 0h0m2-164h0m20 164h0m1 0h0m6 0h0m3-164h0m5 0h0m8 161h0m-8 3h0m14 0h0m3 0h0m4-5h0m6 5h0m42 0h0m-9-161h0m2-3h0m17 0h0m1 0h0m-9 154h0m6 5h0m2 5h0m8 0h0m1 0h0m5 0h0m-8-160h0m2-1h0m11-3h0m10 164h0m2 0h0m8-164h0m0 8h0m2 156h0m10-158h0m31 158h0m6-164h0m16 164h0m2 0h0m1-4h0m8-160h0m-2 164h0m3 0h0m6 0h0m8 0h0m1-164h0m9 0h0m4 0h0m1 156h0m-9 3h0m2 5h0m8 0h0m5-157h0m-4-7h0m6 0h0m13 164h0m23-164h0m3 0h0m8 164h0m2 0h0m1 0h0m3 0h0m-4-164h0m4 0h0m8 0h0m-6 164h0m3 0h0m4 0h0m9 0h0m6 0h0m-1-164h0m7 0h0m4 0h0m-2 164h0m4 0h0m4 0h0m1 0h0m6-164h0m3 0h0m6 0h0m2 11h0m-7 153h0m3 0h0m1 0h0m3 0h0m4 0h0m0-164h0m2 0h0m4 0h0"/>
<line x1="958.00" y1="842.25" x2="958.00" y2="932.50" stroke="#000" stroke-width="2.0"/>
<line x1="953.50" y1="846.25" x2="958.00" y2="846.25" stroke="#000" stroke-width="1.8"/>
<text x="951.80" y="850.35" font-size="16.5" font-weight="bold" text-anchor="end" fill="#000">1.00</text>
<line x1="953.50" y1="867.00" x2="958.00" y2="867.00" stroke="#000" stroke-width="1.8"/>
<text x="951.80" y="871.10" font-size="16.5" font-weight="bold" text-anchor="end" fill="#000">0.75</text>
<line x1="953.50" y1="887.75" x2="958.00" y2="887.75" stroke="#000" stroke-width="1.8"/>
<text x="951.80" y="891.85" font-size="16.5" font-weight="bold" text-anchor="end" fill="#000">0.50</text>
<line x1="953.50" y1="908.50" x2="958.00" y2="908.50" stroke="#000" stroke-width="1.8"/>
<text x="951.80" y="912.60" font-size="16.5" font-weight="bold" text-anchor="end" fill="#000">0.25</text>
<line x1="953.50" y1="929.25" x2="958.00" y2="929.25" stroke="#000" stroke-width="1.8"/>
<text x="951.80" y="933.35" font-size="16.5" font-weight="bold" text-anchor="end" fill="#000">0.00</text>
<line x1="958.00" y1="932.50" x2="1003.00" y2="932.50" stroke="#000" stroke-width="2.0"/>
<text x="980.50" y="950.00" font-size="15" font-weight="bold" text-anchor="middle" fill="#000">chr13</text>
<line x1="1011.80" y1="932.50" x2="1056.80" y2="932.50" stroke="#000" stroke-width="2.0"/>
<text x="1034.30" y="950.00" font-size="15" font-weight="bold" text-anchor="middle" fill="#000">chr14</text>
<line x1="1065.60" y1="932.50" x2="1110.60" y2="932.50" stroke="#000" stroke-width="2.0"/>
<text x="1088.10" y="950.00" font-size="15" font-weight="bold" text-anchor="middle" fill="#000">chr15</text>
<line x1="1119.40" y1="932.50" x2="1164.40" y2="932.50" stroke="#000" stroke-width="2.0"/>
<text x="1141.90" y="950.00" font-size="15" font-weight="bold" text-anchor="middle" fill="#000">chr16</text>
<line x1="1173.20" y1="932.50" x2="1218.20" y2="932.50" stroke="#000" stroke-width="2.0"/>
<text x="1195.70" y="950.00" font-size="15" font-weight="bold" text-anchor="middle" fill="#000">chr17</text>
<line x1="1227.00" y1="932.50" x2="1272.00" y2="932.50" stroke="#000" stroke-width="2.0"/>
<text x="1249.50" y="950.00" font-size="15" font-weight="bold" text-anchor="middle" fill="#000">chr18</text>
<line x1="1280.80" y1="932.50" x2="1325.80" y2="932.50" stroke="#000" stroke-width="2.0"/>
<text x="1303.30" y="950.00" font-size="15" font-weight="bold" text-anchor="middle" fill="#000">chr19</text>
<line x1="1334.60" y1="932.50" x2="1379.60" y2="932.50" stroke="#000" stroke-width="2.0"/>
<text x="1357.10" y="950.00" font-size="15" font-weight="bold" text-anchor="middle" fill="#000">chr20</text>
<line x1="1388.40" y1="932.50" x2="1433.40" y2="932.50" stroke="#000" stroke-width="2.0"/>
<text x="1410.90" y="950.00" font-size="15" font-weight="bold" text-anchor="middle" fill="#000">chr21</text>
<line x1="1442.20" y1="932.50" x2="1487.20" y2="932.50" stroke="#000" stroke-width="2.0"/>
<text x="1464.70" y="950.00" font-size="15" font-weight="bold" text-anchor="middle" fill="#000">chr22</text>
<line x1="1496.00" y1="932.50" x2="1541.00" y2="932.50" stroke="#000" stroke-width="2.0"/>
<text x="1518.50" y="950.00" font-size="15" font-weight="bold" text-anchor="middle" fill="#000">chrY</text>
<path fill="#68BDC2" d="M1013.3 882.1h3.7v11.0h-3.7zM1016.8 881.2h3.7v9.7h-3.7zM1020.3 883.5h3.7v7.9h-3.7zM1023.8 881.2h3.7v9.9h-3.7zM1027.3 881.1h3.7v10.8h-3.7zM1030.8 882.3h3.7v11.0h-3.7zM1034.3 882.4h3.7v12.5h-3.7zM1037.8 885.4h3.7v6.9h-3.7zM1041.3 881.8h3.7v12.5h-3.7zM1044.8 884.8h3.7v8.1h-3.7zM1048.3 884.0h3.7v7.9h-3.7zM1051.8 885.2h3.7v7.5h-3.7zM1067.1 883.1h3.7v9.3h-3.7zM1070.6 880.1h3.7v13.5h-3.7zM1074.1 881.7h3.7v10.3h-3.7zM1077.6 880.6h3.7v13.5h-3.7zM1081.1 881.7h3.7v8.2h-3.7zM1084.6 884.7h3.7v9.7h-3.7zM1088.1 882.1h3.7v8.4h-3.7zM1091.6 881.2h3.7v10.7h-3.7zM1095.1 881.5h3.7v12.1h-3.7zM1098.6 884.1h3.7v10.1h-3.7zM1102.1 883.2h3.7v12.3h-3.7zM1105.6 881.7h3.7v13.1h-3.7zM1120.9 879.8h3.7v15.3h-3.7zM1124.4 882.9h3.7v13.2h-3.7zM1127.9 883.0h3.7v10.6h-3.7zM1131.4 881.9h3.7v12.0h-3.7zM1145.4 884.0h3.7v9.9h-3.7zM1148.9 879.8h3.7v15.0h-3.7zM1152.4 881.6h3.7v11.6h-3.7zM1155.9 879.5h3.7v15.3h-3.7zM1159.4 879.1h3.7v13.5h-3.7zM1174.7 882.9h3.7v13.3h-3.7zM1178.2 880.1h3.7v13.4h-3.7zM1181.7 879.4h3.7v18.5h-3.7zM1185.2 878.2h3.7v19.5h-3.7zM1188.7 878.2h3.7v16.7h-3.7zM1192.2 880.7h3.7v15.1h-3.7zM1195.7 878.3h3.7v16.5h-3.7zM1199.2 879.7h3.7v13.7h-3.7zM1202.7 878.8h3.7v19.1h-3.7zM1206.2 880.0h3.7v14.7h-3.7zM1209.7 879.4h3.7v18.5h-3.7zM1213.2 881.7h3.7v11.5h-3.7zM1282.3 880.3h3.7v16.4h-3.7zM1285.8 880.8h3.7v17.7h-3.7zM1289.3 879.6h3.7v13.9h-3.7zM1292.8 877.6h3.7v23.4h-3.7zM1296.3 882.4h3.7v12.3h-3.7zM1306.8 876.3h3.7v21.5h-3.7zM1310.3 876.4h3.7v21.6h-3.7zM1313.8 879.4h3.7v13.7h-3.7zM1317.3 881.4h3.7v16.2h-3.7zM1320.8 879.9h3.7v16.8h-3.7zM1336.1 881.5h3.7v8.4h-3.7zM1339.6 883.3h3.7v7.7h-3.7zM1343.1 881.8h3.7v12.0h-3.7zM1346.6 883.2h3.7v9.3h-3.7zM1350.1 883.7h3.7v8.4h-3.7zM1353.6 881.3h3.7v12.0h-3.7zM1357.1 884.4h3.7v6.5h-3.7zM1360.6 880.0h3.7v11.5h-3.7zM1364.1 881.3h3.7v12.5h-3.7zM1367.6 882.4h3.7v6.7h-3.7zM1371.1 885.9h3.7v7.6h-3.7zM1374.6 881.5h3.7v9.0h-3.7zM1443.7 880.0h3.7v13.4h-3.7zM1447.2 881.2h3.7v12.4h-3.7zM1450.7 884.7h3.7v7.9h-3.7zM1454.2 881.8h3.7v13.0h-3.7zM1457.7 881.9h3.7v12.0h-3.7zM1461.2 880.2h3.7v12.2h-3.7zM1464.7 884.9h3.7v8.0h-3.7zM1468.2 882.0h3.7v9.2h-3.7zM1471.7 880.3h3.7v12.5h-3.7zM1475.2 883.2h3.7v13.2h-3.7zM1478.7 885.6h3.7v8.3h-3.7zM1482.2 880.5h3.7v13.1h-3.7z"/>
<path transform="scale(.5)" fill="none" stroke="#5FB7BD" stroke-width="5.8" stroke-linecap="round" d="M1918 1759h0m12-7h0m0 9h0m0 2h0m-1 6h0m1 1h0m-1 2h0m-1 2h0m2 1h0m1 3h0m-10 2h0m10 0h0m-1 4h0m1 2h0m0 3h0m-9 10h0m0 3h0m13 35h0m-1-43h0m9-4h0m-10-6h0m8-4h0m-7-2h0m7-3h0m-4-2h0m4 0h0m-7-2h0m-1-4h0m0-1h0m-1-5h0m11-2h0m-7-1h0m6-6h0m-8-15h0m8-31h0m3 32h0m4 13h0m1 6h0m3 1h0m0 1h0m2 1h0m-5 2h0m4 4h0m-5 2h0m1 0h0m3 0h0m-4 2h0m3 1h0m-6 2h0m3 0h0m-3 1h0m2 5h0m0 2h0m0 5h0m1 0h0m3 0h0m3 3h0m-9 7h0m5 1h0m3 0h0m1 21h0m-5 7h0m-4 2h0m10 2h0m0-50h0m22-72h0m-1 27h0m0 21h0m-9 14h0m4 3h0m1 0h0m-2 2h0m-1 4h0m4 4h0m0 8h0m5 5h0m-5 16h0m17-13h0m-1-16h0m-6-1h0m-2-3h0m-2-1h0m11 0h0m-11-1h0m3 0h0m8-1h0m-8-2h0m1 0h0m7-2h0m-6-10h0m1 0h0m4-16h0m12-1h0m-10 6h0m0 1h0m0 12h0m2 1h0m6 1h0m-8 1h0m2 2h0m-1 4h0m1 3h0m1 0h0m5 1h0m3 1h0m-2 1h0m-9 4h0m8 1h0m0 1h0m-2 7h0m0 3h0m-4 18h0m9 9h0m23-60h0m0 5h0m1 3h0m0 9h0m-1 7h0m1 6h0m0 5h0m0 9h0m8-2h0m1-11h0m-8-1h0m6-1h0m0-1h0m-2-1h0m6-1h0m-4-4h0m-4-1h0m7-1h0m-5-1h0m2 0h0m-1-1h0m6-5h0m-9-2h0m2 0h0m1 0h0m-2-5h0m3-9h0m-3-3h0m1 0h0m-3-2h0m7-1h0m2-8h0m13-9h0m-3 10h0m-4 5h0m0 6h0m5 0h0m-7 3h0m3 0h0m3 2h0m-5 6h0m6 1h0m-7 1h0m3 0h0m4 4h0m1 0h0m-9 1h0m9 0h0m-3 1h0m-2 1h0m4 2h0m-5 2h0m7 1h0m-9 3h0m3 0h0m3 0h0m1 0h0m-2 8h0m3 0h0m-3 4h0m-1 3h0m-1 4h0m3 0h0m2 7h0m-4 4h0m11 26h0m3 0h0m1-8h0m1-24h0m-5-5h0m6-1h0m-4-5h0m1-3h0m0-4h0m2 0h0m-1-1h0m-1-2h0m0-1h0m3 0h0m-1-2h0m-6-2h0m5 0h0m2-2h0m-2-3h0m-6-1h0m-3-1h0m4-1h0m1-1h0m4 0h0m-3-1h0m-4-1h0m6 0h0m0-1h0m-7-2h0m2-2h0m1 0h0m1-1h0m5 0h0m-7-2h0m7-1h0m-3-1h0m-5-2h0m7-1h0m1-1h0m-8-1h0m8-1h0m-2-2h0m-7-18h0m8 0h0m9-14h0m1 32h0m3 10h0m-4 1h0m1 2h0m1 3h0m-2 5h0m-2 2h0m1 0h0m3 3h0m2 0h0m1 9h0m-10 3h0m10 3h0m7 48h0m2-5h0m-2-17h0m1-2h0m-1-14h0m-5-4h0m5-1h0m-4-5h0m3-5h0m3-8h0m-2-2h0m-2-2h0m7 0h0m-9-1h0m2-1h0m7 0h0m-3-1h0m-4-1h0m4-4h0m3 0h0m-7-1h0m7 0h0m-10-4h0m1 0h0m9 0h0m-4-1h0m0-1h0m-2-1h0m2-3h0m-6-2h0m8-2h0m-9-16h0m9-3h0m-3-26h0m13 14h0m1 11h0m-6 5h0m3 2h0m-2 5h0m0 3h0m-2 2h0m0 3h0m4 5h0m5 0h0m-9 1h0m6 0h0m1 2h0m-2 1h0m-1 1h0m1 1h0m-2 4h0m-4 2h0m3 0h0m1 2h0m6 0h0m-9 1h0m-1 1h0m2 0h0m3 0h0m-1 1h0m-3 1h0m1 1h0m2 1h0m-3 3h0m3 0h0m7 0h0m-11 1h0m3 0h0m5 1h0m-3 1h0m-5 1h0m6 0h0m-4 2h0m3 1h0m-3 4h0m4 0h0m-4 1h0m-1 1h0m8 11h0m2 0h0m-10 19h0m0 5h0m2 8h0m0 5h0m20-34h0m-3-11h0m-1-4h0m-5-6h0m1 0h0m0-1h0m-2-2h0m8-1h0m-2-1h0m3-3h0m-1-1h0m-6-3h0m6-1h0m-3-6h0m0-2h0m3 0h0m0-1h0m-2-1h0m3-3h0m-6-7h0m4-3h0m0-2h0m-5-1h0m3-5h0m3-15h0m25 79h0m1-7h0m-1-3h0m1-8h0m-1-1h0m0-1h0m1 0h0m0-4h0m-1-2h0m0-1h0m0-2h0m1-3h0m-1-1h0m0-2h0m1-1h0m12-29h0m-8 5h0m-1 3h0m4 2h0m-4 4h0m-2 1h0m2 1h0m-2 3h0m11 2h0m-9 4h0m2 0h0m6 0h0m-6 2h0m6 0h0m-3 1h0m3 1h0m-7 1h0m7 1h0m-9 1h0m9 0h0m-5 2h0m4 0h0m2 0h0m-8 2h0m0 1h0m8 0h0m-9 1h0m9 4h0m0 2h0m-5 1h0m5 0h0m-11 2h0m4 0h0m2 0h0m-2 2h0m7 1h0m-4 2h0m2 1h0m2 1h0m0 2h0m0 2h0m-2 4h0m-4 3h0m-2 1h0m4 3h0m-6 5h0m10 2h0m7 23h0m5-9h0m-9-6h0m4-9h0m-1-13h0m4-4h0m-2-1h0m-4-3h0m1 0h0m2-6h0m-6-1h0m1-2h0m-1-2h0m5-1h0m-3-2h0m3-1h0m-4-3h0m2 0h0m3 0h0m2 0h0m2 0h0m-9-2h0m-1-2h0m1 0h0m6 0h0m1 0h0m-3-4h0m0-1h0m6 0h0m-3-5h0m-2-2h0m-6-1h0m1-1h0m0-1h0m2 0h0m2-1h0m0-1h0m1 0h0m-6-6h0m1 0h0m3-4h0m-3-7h0m5-4h0m-2-6h0m3-5h0m-4-20h0m16 20h0m-2 15h0m3 0h0m1 2h0m-4 8h0m6 2h0m-7 2h0m6 6h0m-5 1h0m6 1h0m-8 1h0m6 0h0m-1 3h0m1 1h0m-7 2h0m6 1h0m-8 1h0m9 1h0m-4 2h0m5 0h0m-10 1h0m3 0h0m3 0h0m-4 1h0m6 0h0m-4 1h0m1 0h0m-2 5h0m6 0h0m-1 2h0m1 4h0m1 0h0m-4 1h0m0 1h0m3 0h0m0 2h0m1 0h0m-9 2h0m7 9h0m3 32h0m-5 5h0m2 2h0m7-22h0m3-1h0m1-30h0m1-3h0m-5-2h0m8 0h0m-4-6h0m-7-7h0m5 0h0m-4-3h0m0-2h0m1-3h0m9 0h0m-10-1h0m3-5h0m-3-2h0m1-4h0m12-42h0m0 4h0m-1 7h0m9 12h0m0 15h0m-2 3h0m-7 1h0m1 1h0m-1 1h0m0 2h0m0 9h0m10 0h0m-8 1h0m4 3h0m-7 2h0m2 3h0m6 1h0m-5 1h0m-1 1h0m9 1h0m-4 3h0m-2 1h0m-2 1h0m-1 1h0m0 1h0m6 0h0m-1 1h0m1 0h0m-6 1h0m3 0h0m5 0h0m-8 1h0m7 13h0m-7 3h0m7 9h0m-9 2h0m4 0h0m4 1h0m2 16h0m-3 1h0m15 11h0m-9-6h0m-1-18h0m9-6h0m-5-1h0m3-2h0m4-1h0m-11-4h0m9-4h0m-8-9h0m-1-1h0m1-3h0m5 0h0m5 0h0m-11-1h0m3 0h0m-1-4h0m5-3h0m3 0h0m-6-5h0m-4-1h0m2-3h0m3 0h0m4 0h0m-7-1h0m1-1h0m-3-1h0m6-2h0m2 0h0m1-2h0m1-6h0m-1-1h0m-9-1h0m4 0h0m7 0h0m-11-1h0m9 0h0m1 0h0m-9-3h0m5-2h0m-1-4h0m-4-1h0m3 0h0m-4-2h0m10-3h0m-7-8h0m11-6h0m8 15h0m0 4h0m-6 10h0m4 0h0m-1 2h0m2 3h0m-1 2h0m2 1h0m-10 4h0m5 2h0m3 2h0m-1 1h0m-7 2h0m5 1h0m0 1h0m-4 1h0m3 0h0m1 3h0m-5 2h0m10 0h0m-5 1h0m5 4h0m0 3h0m-9 7h0m10 3h0m-7 15h0m-1 19h0m6 2h0m26-75h0m0 6h0m-1 8h0m1 14h0m10 54h0m-1-2h0m1-4h0m-9-9h0m7-11h0m-3-2h0m6-3h0m-8-3h0m7 0h0m-9-2h0m7-1h0m-7-1h0m2-1h0m3-5h0m3 0h0m-8-3h0m10 0h0m-1-1h0m-9-1h0m9 0h0m-5-1h0m-4-1h0m5 0h0m4-1h0m-9-3h0m9-2h0m1 0h0m1 0h0m-8-1h0m4-1h0m-7-1h0m9 0h0m-3-1h0m2 0h0m-6-1h0m7 0h0m1 0h0m-10-1h0m0-1h0m5 0h0m6 0h0m-6-1h0m-4-1h0m7-1h0m1 0h0m2-1h0m0-3h0m-1-1h0m1 0h0m-2-1h0m0-2h0m2 0h0m-3-1h0m1 0h0m-5-4h0m0-1h0m6-2h0m-2-1h0m-4-1h0m-4-3h0m0-3h0m11-1h0m-11-1h0m0-3h0m9 0h0m-5-1h0m4-2h0m-7-15h0m1-18h0m-1-6h0m22 7h0m-7 23h0m6 11h0m-6 6h0m-3 4h0m7 2h0m0 2h0m2 0h0m-1 4h0m-9 2h0m0 1h0m2 2h0m6 0h0m2 1h0m-8 1h0m8 2h0m-9 1h0m1 0h0m0 6h0m9 0h0m0 2h0m-5 4h0m3 2h0m-8 3h0m3 0h0m-4 2h0m1 4h0m7 3h0m-5 11h0m8 9h0m-2 3h0m5 6h0m-1-3h0m5-15h0m-6-1h0m9-8h0m-7-1h0m5-1h0m-1-1h0m0-4h0m-4-1h0m4-3h0m-4-1h0m4-1h0m1-1h0m1 0h0m-1-2h0m-4-1h0m2 0h0m-5-2h0m5-1h0m-5-2h0m9-1h0m1 0h0m-4-1h0m-3-1h0m-1-2h0m-2-2h0m9 0h0m-9-2h0m8-1h0m2 0h0m-7-1h0m3-2h0m2 0h0m0-1h0m-3-1h0m2 0h0m-1-5h0m0-1h0m1 0h0m-7-1h0m8 0h0m0-4h0m-1-1h0m1 0h0m-4-2h0m-1-2h0m-1-1h0m4-2h0m1 0h0m-4-3h0m-2-2h0m9-3h0m-7-9h0m2 0h0m-3-2h0m7-13h0m-1-1h0m2-6h0m13 29h0m-1 12h0m1 0h0m-1 6h0m0 1h0m0 4h0m1 14h0m0 2h0m0 2h0m-1 5h0m1 5h0m0 2h0m-2 5h0m1 1h0m0 5h0m0 19h0m11 10h0m-7-6h0m8-8h0m-3-3h0m-1-5h0m1-3h0m-7-1h0m6-1h0m-4-2h0m2-4h0m7-1h0m-10-3h0m4 0h0m-4-3h0m6 0h0m-3-3h0m0-7h0m1 0h0m-4-1h0m8 0h0m-5-1h0m4-2h0m-6-3h0m9 0h0m-7-1h0m2-3h0m5 0h0m-5-1h0m5 0h0m-6-2h0m-1-1h0m2 0h0m-2-1h0m0-2h0m0-1h0m6 0h0m1-2h0m-11-2h0m6-2h0m4-2h0m-5-2h0m0-2h0m1 0h0m3-8h0m-4-3h0m-4-13h0m0-12h0m12-3h0m3 0h0m4 18h0m-8 10h0m5 3h0m1 2h0m0 1h0m1 1h0m-1 4h0m4 2h0m-1 1h0m2 1h0m-4 1h0m-6 2h0m6 3h0m-3 1h0m7 0h0m-11 1h0m1 1h0m7 0h0m3 0h0m-10 1h0m6 0h0m-2 2h0m2 0h0m1 0h0m1 0h0m1 0h0m-5 1h0m1 0h0m2 2h0m0 3h0m-4 1h0m7 0h0m-9 1h0m9 0h0m-3 1h0m1 0h0m0 1h0m-6 3h0m7 3h0m-8 1h0m8 1h0m1 2h0m-4 1h0m2 0h0m1 1h0m-5 1h0m-4 1h0m4 0h0m4 2h0m-5 3h0m-3 3h0m5 1h0m2 2h0m-8 1h0m8 2h0m1 3h0m-1 1h0m0 1h0m-7 1h0m-1 1h0m4 1h0m4 0h0m-5 24h0m17 6h0m-5-15h0m6-17h0m0-4h0m-1-2h0m-8-4h0m3 0h0m1-1h0m1-1h0m-4-2h0m6-3h0m-3-1h0m5 0h0m0-2h0m1 0h0m-8-2h0m7 0h0m-6-2h0m5 0h0m-3-3h0m-1-1h0m5-1h0m-6-1h0m2 0h0m2-2h0m1 0h0m-6-1h0m5 0h0m0-1h0m2 0h0m-2-2h0m-6-2h0m9 0h0m-7-2h0m-3-5h0m1 0h0m1 0h0m3-4h0m4-1h0m-5-1h0m3-2h0m3 0h0m-4-3h0m-1-9h0m0-16h0m5-18h0m25 123h0m0-6h0m0-17h0m-1-5h0m1-2h0m-1-2h0m1 0h0m0-3h0m-2-2h0m0-6h0m2-10h0m-1-1h0m0-3h0m1 0h0m-1-5h0m0-1h0m-1-2h0m0-2h0m1-7h0m0-7h0m1-4h0m7-40h0m-5 5h0m6 15h0m-7 4h0m1 8h0m3 6h0m0 5h0m5 5h0m-6 1h0m3 0h0m2 0h0m-7 1h0m2 2h0m1 0h0m-3 1h0m3 0h0m-3 3h0m1 0h0m1 0h0m-1 2h0m-1 2h0m2 0h0m2 0h0m-3 1h0m8 0h0m-8 1h0m5 2h0m3 0h0m1 1h0m-4 1h0m-3 2h0m-4 1h0m4 0h0m1 0h0m-5 1h0m7 1h0m-5 2h0m3 0h0m1 0h0m-3 3h0m-3 1h0m8 0h0m-8 1h0m3 0h0m0 2h0m1 0h0m-4 1h0m3 0h0m3 2h0m-5 1h0m1 0h0m3 2h0m-1 1h0m6 0h0m-9 1h0m5 0h0m-4 3h0m2 0h0m-1 1h0m-3 2h0m0 6h0m9 2h0m0 3h0m11 5h0m-6-6h0m2 0h0m0-5h0m2 0h0m-1-2h0m-1-5h0m4-2h0m3-1h0m-3-4h0m0-2h0m1 0h0m-8-1h0m6-1h0m0-2h0m2 0h0m-1-1h0m0-2h0m1-1h0m2-1h0m-3-1h0m0-1h0m1 0h0m-1-1h0m-8-3h0m5-1h0m1 0h0m2 0h0m-8-3h0m2 0h0m9-2h0m-4-1h0m-7-1h0m6 0h0m3 0h0m-1-1h0m-3-2h0m-5-1h0m2 0h0m0-1h0m6 0h0m0-1h0m1-1h0m-9-1h0m8 0h0m-6-3h0m4 0h0m-2-1h0m3 0h0m-7-6h0m7-1h0m-1-1h0m-4-4h0m6 0h0m-1-1h0m1 0h0m1 0h0m-3-3h0m4-2h0m-5-5h0m5-1h0m-7-4h0m7 0h0m-9-9h0m9-4h0m0-7h0m8 10h0m-3 6h0m0 7h0m7 1h0m-2 4h0m0 8h0m-6 3h0m2 0h0m3 0h0m3 0h0m1 4h0m-4 2h0m2 1h0m-7 5h0m5 1h0m-6 3h0m10 1h0m-10 2h0m8 1h0m-3 1h0m2 1h0m-8 1h0m8 0h0m1 0h0m-3 1h0m2 0h0m0 1h0m3 1h0m-2 1h0m-2 2h0m-7 2h0m5 1h0m-3 1h0m7 0h0m-3 2h0m-5 1h0m3 0h0m-4 4h0m4 0h0m5 0h0m0 1h0m-5 2h0m7 3h0m-2 3h0m1 0h0m-1 4h0m0 1h0m-2 1h0m-5 1h0m-1 2h0m9 1h0m-1 1h0m-1 6h0m-1 16h0m13-5h0m0-11h0m0-2h0m-4-3h0m-3-1h0m1-3h0m7-1h0m-6-3h0m5 0h0m-7-5h0m6-1h0m-3-3h0m6-1h0m-5-2h0m4 0h0m-2-2h0m1 0h0m2 0h0m-10-2h0m6-1h0m0-1h0m4 0h0m-8-1h0m-1-2h0m8-2h0m-6-1h0m5-5h0m0-1h0m-2-1h0m5 0h0m0-2h0m-2-1h0m-6-1h0m5 0h0m2-1h0m1 0h0m-9-2h0m4 0h0m-2-1h0m1 0h0m3 0h0m2-1h0m-5-1h0m3-1h0m-8-2h0m3-2h0m7 0h0m-3-2h0m-1-3h0m-4-1h0m6-6h0m1-1h0m-8-2h0m5-3h0m3-2h0m-5-22h0m11 7h0m1 3h0m3 0h0m0 9h0m3 0h0m-2 3h0m-2 4h0m-6 3h0m5 0h0m1 0h0m-4 2h0m-1 1h0m-1 1h0m0 2h0m3 1h0m6 5h0m-8 1h0m0 1h0m4 1h0m-4 3h0m7 0h0m0 1h0m1 0h0m-6 1h0m-1 1h0m1 2h0m1 0h0m3 0h0m1 1h0m0 2h0m-6 1h0m2 0h0m-4 1h0m3 0h0m0 1h0m5 1h0m-7 1h0m2 0h0m4 0h0m-6 1h0m9 0h0m-2 2h0m-2 1h0m-4 2h0m2 0h0m4 0h0m3 0h0m-3 1h0m-3 1h0m1 1h0m-4 1h0m-1 1h0m1 1h0m6 2h0m-6 5h0m3 1h0m-5 1h0m2 0h0m6 2h0m-7 2h0m4 0h0m-5 2h0m2 5h0m-1 4h0m2 2h0m1 8h0m7 5h0m-2 3h0m-9 18h0m15-1h0m2-14h0m4 0h0m1-7h0m-9-8h0m4-8h0m5 0h0m-7-4h0m8 0h0m-9-2h0m3-2h0m3-3h0m1 0h0m-9-1h0m2 0h0m3 0h0m5-1h0m-7-1h0m2-1h0m-1-2h0m-1-1h0m2 0h0m-1-1h0m4 0h0m-3-1h0m1-4h0m1 0h0m-5-4h0m5-1h0m-5-4h0m6 0h0m-5-1h0m2-1h0m2 0h0m-4-2h0m3 0h0m-5-1h0m7-1h0m2-1h0m-3-1h0m2 0h0m-9-2h0m5 0h0m-4-1h0m9 0h0m-5-3h0m1-1h0m-3-1h0m1-2h0m7-1h0m-4-4h0m-3-2h0m1-7h0m5-5h0m-2-1h0m-4-4h0m6 0h0m-1-1h0m0-10h0m-6-3h0m8-2h0m-3-1h0m-3-2h0m16 2h0m-7 8h0m-1 10h0m9 11h0m0 1h0m0 3h0m-10 6h0m9 0h0m-9 1h0m10 1h0m-2 1h0m1 0h0m-6 5h0m7 0h0m-6 1h0m5 3h0m-9 3h0m3 1h0m4 0h0m-3 2h0m1 3h0m5 1h0m-10 1h0m10 0h0m-8 1h0m8 0h0m-6 2h0m5 0h0m-1 1h0m-4 2h0m6 0h0m-6 1h0m5 4h0m-8 8h0m9 6h0m0 1h0m-8 1h0m6 0h0m-2 4h0m1 3h0m1 1h0m1 3h0m-2 6h0m37 5h0m-4-12h0m-3-9h0m6-4h0m-2-3h0m-2-16h0m3-1h0m-5-3h0m10-7h0m-10-1h0m4 0h0m2-1h0m-2-4h0m6-2h0m-6-29h0m9-26h0m6 38h0m3 2h0m-9 16h0m3 2h0m1 0h0m-5 4h0m5 0h0m-4 2h0m8 0h0m-10 2h0m8 1h0m-2 1h0m-5 2h0m0 1h0m1 1h0m4 0h0m-6 1h0m9 1h0m-9 3h0m1 0h0m7 0h0m2 1h0m-6 1h0m-3 2h0m9 3h0m-9 4h0m8 2h0m-6 38h0m10 3h0m4-37h0m0-3h0m-4-8h0m5-2h0m1-8h0m0-3h0m-7-2h0m11-11h0m-2-3h0m-8-35h0m20 27h0m-9 2h0m11 5h0m-4 2h0m-4 1h0m4 9h0m-2 1h0m2 0h0m1 5h0m-6 6h0m4 1h0m5 2h0m-7 4h0m-1 41h0m19-11h0m-1-7h0m-3-1h0m4-5h0m-3-12h0m-6-6h0m7-2h0m-3-6h0m-4-2h0m7-4h0m-8-3h0m7-2h0m4-1h0m-4-5h0m-3-1h0m-4-8h0m18-45h0m1 3h0m-7 33h0m1 5h0m5 0h0m-4 3h0m3 1h0m0 1h0m-3 7h0m1 2h0m4 1h0m2 1h0m-5 4h0m-2 1h0m-1 1h0m-1 3h0m2 0h0m4 0h0m5 6h0m-11 2h0m5 0h0m-1 3h0m2 4h0m2 0h0m8 50h0m1-24h0m1-15h0m3-5h0m-5-8h0m-1-2h0m1-4h0m4 0h0m-4-1h0m-1-1h0m7-5h0m-1-1h0m-9-1h0m10 0h0m-1-2h0m1-1h0m-8-3h0m1-2h0m1 0h0m-1-3h0m5-1h0m-5-12h0m30 85h0m1-10h0m0-4h0m-2-1h0m1-6h0m0-2h0m1-6h0m1-1h0m-1-1h0m-1-5h0m1-3h0m1 0h0m-1-8h0m1 0h0m0-1h0m-2-6h0m2 0h0m-1-1h0m0-1h0m1 0h0m-1-2h0m-1-12h0m0-1h0m0-2h0m2-2h0m-2-7h0m2-9h0m-1-1h0m0-1h0m1-3h0m0-32h0m1 14h0m10 7h0m-5 1h0m6 0h0m-6 1h0m2 0h0m-1 7h0m-5 4h0m10 0h0m-11 1h0m0 8h0m8 0h0m0 2h0m1 1h0m-1 2h0m-4 1h0m1 1h0m6 0h0m-1 1h0m1 0h0m-1 1h0m-10 1h0m4 1h0m6 0h0m0 1h0m-4 2h0m2 0h0m2 0h0m-9 1h0m2 0h0m6 3h0m1 0h0m0 1h0m-9 1h0m1 0h0m7 0h0m1 0h0m-5 1h0m1 0h0m3 0h0m-8 1h0m2 0h0m-2 2h0m4 0h0m3 0h0m3 0h0m-9 1h0m3 0h0m-4 2h0m4 2h0m5 0h0m-9 1h0m4 0h0m3 0h0m1 0h0m-8 1h0m1 0h0m1 0h0m1 2h0m1 0h0m-2 1h0m6 1h0m2 0h0m-8 2h0m-3 3h0m3 0h0m4 0h0m4 2h0m-5 1h0m-6 1h0m4 0h0m-2 6h0m7 0h0m1 0h0m1 0h0m-6 2h0m-2 1h0m8 0h0m-4 1h0m2 0h0m-5 1h0m4 0h0m3 4h0m-1 7h0m-10 2h0m5 5h0m4 0h0m-4 10h0m-4 5h0m4 1h0m8 4h0m6-5h0m-4-9h0m7-15h0m-2-1h0m1-1h0m-6-8h0m7-4h0m-8-1h0m4 0h0m2 0h0m-7-2h0m7-1h0m-5-1h0m-3-1h0m2-1h0m8 0h0m-6-1h0m3-1h0m-4-1h0m7-1h0m-5-1h0m3 0h0m-8-1h0m5 0h0m6-1h0m-11-1h0m8 0h0m2 0h0m-10-1h0m4 0h0m1 0h0m3 0h0m-7-1h0m5 0h0m3-1h0m-2-2h0m-1-1h0m-3-2h0m2 0h0m-1-1h0m4 0h0m2 0h0m-4-1h0m1 0h0m3 0h0m1 0h0m-11-2h0m4 0h0m4 0h0m-7-2h0m4 0h0m-1-1h0m2 0h0m4 0h0m-7-1h0m4 0h0m-2-1h0m-5-1h0m5 0h0m6 0h0m-4-1h0m3-1h0m-7-1h0m3 0h0m-5-1h0m4-1h0m-5-1h0m10 0h0m-7-2h0m1 0h0m5 0h0m0-2h0m-8-2h0m10-2h0m0-4h0m-7-3h0m3-2h0m1-4h0m1 0h0m2-7h0m-6-1h0m-3-6h0m4-6h0m2-4h0m-3-2h0m-5-2h0m21-6h0m-9 1h0m11 10h0m-10 2h0m1 7h0m0 2h0m0 2h0m4 4h0m0 3h0m-2 4h0m-2 3h0m2 3h0m1 0h0m6 3h0m-10 1h0m5 1h0m-5 4h0m8 0h0m-8 2h0m8 0h0m-9 1h0m0 1h0m3 1h0m3 1h0m-4 1h0m2 0h0m1 0h0m-5 1h0m5 0h0m-2 1h0m-3 1h0m6 0h0m-5 1h0m3 0h0m5 0h0m-6 1h0m-1 2h0m1 1h0m-3 1h0m9 1h0m-9 1h0m3 0h0m7 0h0m0 1h0m-2 1h0m-5 1h0m7 2h0m-7 1h0m3 0h0m2 0h0m1 0h0m-6 2h0m7 0h0m-2 1h0m2 0h0m-8 1h0m5 0h0m3 1h0m-6 1h0m5 0h0m-7 1h0m7 0h0m-9 2h0m2 0h0m-2 2h0m10 0h0m0 1h0m-1 4h0m-3 1h0m3 2h0m-2 2h0m-7 1h0m8 1h0m-5 1h0m6 4h0m0 1h0m-8 2h0m2 1h0m2 2h0m-2 4h0m7 1h0m1 2h0m-2 3h0m-8 16h0m17-14h0m-1-2h0m1-8h0m5-5h0m-1-1h0m-3-6h0m3-6h0m-4-3h0m3-1h0m-1-1h0m3-1h0m0-2h0m-5-1h0m0-1h0m-1-1h0m0-3h0m2 0h0m-1-1h0m-1-1h0m4-2h0m1 0h0m-4-2h0m3 0h0m-2-2h0m4 0h0m-6-1h0m2 0h0m1-1h0m2 0h0m-4-1h0m5 0h0m-4-1h0m-3-1h0m6 0h0m-3-1h0m1 0h0m-2-1h0m1 0h0m4-2h0m-6-2h0m6 0h0m-1-2h0m-3-1h0m1 0h0m1 0h0m-1-1h0m1-1h0m-3-3h0m3 0h0m-3-8h0m2 0h0m-1-1h0m0-1h0m-1-8h0m-2-1h0m5-2h0m2-2h0m-3-5h0m-1-15h0m0-2h0m2-1h0m7-5h0m7 2h0m-6 2h0m-1 5h0m7 4h0m0 2h0m-5 3h0m1 1h0m3 9h0m-2 2h0m2 5h0m-5 4h0m5 4h0m1 0h0m0 2h0m-1 1h0m-4 3h0m5 2h0m-4 1h0m0 5h0m2 1h0m-7 1h0m4 0h0m5 1h0m-5 1h0m-6 1h0m3 0h0m1 0h0m1 0h0m5 1h0m-8 2h0m3 0h0m-2 2h0m1 0h0m-4 3h0m6 0h0m-5 1h0m7 1h0m-5 1h0m-3 1h0m6 1h0m3 2h0m2 1h0m-5 3h0m-2 1h0m2 0h0m0 2h0m-2 1h0m3 3h0m0 1h0m4 1h0m-6 3h0m-4 2h0m3 2h0m2 2h0m0 7h0m-2 1h0m-2 1h0m2 0h0m6 0h0m-4 6h0m-4 12h0m6 12h0m13-5h0m-9-8h0m11 0h0m-6-7h0m6-2h0m-11-10h0m10 0h0m-7-1h0m7-4h0m-9-2h0m9-1h0m-4-2h0m3-1h0m-9-1h0m5 0h0m4 0h0m-2-1h0m-7-1h0m1-1h0m2-1h0m2 0h0m2-3h0m-3-1h0m-4-1h0m3 0h0m2-1h0m-4-1h0m2 0h0m-1-1h0m1 0h0m4 0h0m-1-1h0m3 0h0m-4-1h0m5 0h0m-10-1h0m1 0h0m1 0h0m5 0h0m-3-1h0m7 0h0m-11-1h0m10 0h0m-7-1h0m3 0h0m0-1h0m2 0h0m-1-1h0m-7-1h0m3 0h0m1 0h0m4 0h0m-6-1h0m-1-1h0m5-1h0m2 0h0m-7-1h0m1 0h0m3 0h0m-3-1h0m3 0h0m4 0h0m-8-1h0m2 0h0m4-1h0m-7-2h0m6 0h0m0-1h0m-5-1h0m-1-1h0m1 0h0m1 0h0m7 0h0m-4-1h0m-5-1h0m7 0h0m-7-1h0m1-3h0m9 0h0m0-1h0m-6-1h0m7 0h0m-1-2h0m-7-2h0m5-1h0m3-1h0m-11-1h0m6-1h0m2-4h0m-4-2h0m4-1h0m-4-1h0m-3-7h0m2-2h0m1-1h0m-3-7h0m9-5h0m-3-3h0m0-8h0m12 1h0m1 1h0m-1 24h0m-3 15h0m-2 1h0m4 0h0m1 3h0m-3 1h0m2 0h0m-6 1h0m1 1h0m3 0h0m-2 2h0m4 5h0m1 2h0m-7 1h0m6 0h0m-2 1h0m-4 2h0m1 2h0m3 0h0m3 3h0m-3 1h0m-2 2h0m-1 1h0m6 1h0m0 1h0m-4 2h0m3 1h0m2 2h0m0 3h0m-8 4h0m2 6h0m5 1h0m-1 1h0m-1 1h0m-2 5h0m1 3h0m3 16h0m26-120h0m-1 42h0m2 14h0m-1 3h0m1 0h0m0 1h0m1 0h0m-1 5h0m0 1h0m0 4h0m0 5h0m0 8h0m0 20h0m4 11h0m7-3h0m-3-9h0m1-13h0m4-2h0m-11-5h0m1-1h0m4-2h0m-5-1h0m3-1h0m-2-5h0m2 0h0m8-1h0m-6-1h0m4 0h0m1 0h0m-7-3h0m7-4h0m-8-1h0m8 0h0m1-1h0m-10-3h0m2 0h0m-2-5h0m10 0h0m-10-2h0m10 0h0m-9-2h0m1-2h0m-2-7h0m8-2h0m1 0h0m1-2h0m-2-2h0m-5-5h0m-2-3h0m7-11h0m2-2h0m10-2h0m2 2h0m-3 29h0m-6 12h0m3 1h0m-1 3h0m0 6h0m0 2h0m7 0h0m-7 2h0m7 4h0m-10 2h0m2 1h0m0 2h0m7 0h0m-4 7h0m2 0h0m-8 2h0m3 0h0m0 12h0m4 17h0m-4 12h0m10-10h0m10-10h0m0-3h0m-8-2h0m5-2h0m-4-2h0m6-1h0m-2-1h0m2-3h0m-4-5h0m-4-4h0m2 0h0m4 0h0m1-1h0m1 0h0m-4-3h0m3-1h0m-5-1h0m-1-1h0m8-3h0m-1-2h0m-4-2h0m3 0h0m-2-3h0m1 0h0m2-1h0m-2-3h0m0-1h0m1 0h0m-6-1h0m4-1h0m4-1h0m-9-1h0m6-1h0m-3-1h0m4-1h0m-3-1h0m-1-4h0m4 0h0m-6-1h0m2 0h0m4-3h0m0-1h0m-5-3h0m-4-4h0m9-2h0m-1-2h0m1 0h0m-3-6h0m-1-19h0m13 1h0m-5 2h0m0 9h0m2 1h0m-2 17h0m2 0h0m5 5h0m-5 1h0m6 4h0m-7 4h0m5 0h0m-3 1h0m1 5h0m5 0h0m-8 2h0m8 0h0m-4 2h0m-4 3h0m3 0h0m0 1h0m-3 7h0m3 2h0m5 0h0m-6 2h0m6 0h0m-4 1h0m-5 1h0m9 0h0m-4 1h0m-1 1h0m-3 5h0m-1 6h0m3 5h0m-3 16h0m-1 8h0m3 11h0m14-16h0m-1-7h0m-4-11h0m5-3h0m3-3h0m-7-3h0m8-1h0m-9-3h0m11-8h0m-1-1h0m-7-1h0m7 0h0m1-1h0m0-3h0m-6-1h0m4-3h0m2 0h0m-11-1h0m6-4h0m-6-3h0m2-1h0m7 0h0m0-2h0m1 0h0m-2-1h0m-3-4h0m1 0h0m-2-5h0m6-1h0m-1-2h0m-3-1h0m6-45h0m1 10h0m8 1h0m0 20h0m2 6h0m-8 12h0m-2 8h0m8 0h0m-7 3h0m8 1h0m-8 2h0m3 6h0m4 6h0m-6 4h0m1 0h0m-2 1h0m6 1h0m-2 2h0m-5 2h0m0 2h0m3 1h0m0 10h0m1 8h0m-3 17h0m1 10h0m17-15h0m-5-13h0m-3-2h0m2-11h0m-2-3h0m5-1h0m3 0h0m-8-7h0m1-1h0m2-1h0m3 0h0m-6-3h0m1-2h0m2-1h0m-2-9h0m1-12h0m-2-3h0m0-6h0m1-7h0m68-10h0m-1 17h0m-1 9h0m0 2h0m4 3h0m-10 5h0m10 2h0m-4 9h0m2 1h0m1 7h0m11 13h0m-8-8h0m1-3h0m0-1h0m5-3h0m-1-2h0m2 0h0m1-1h0m-9-1h0m3-1h0m3-3h0m4-1h0m-7-2h0m6 0h0m-1-3h0m-7-3h0m7-2h0m-6-1h0m7-1h0m1-5h0m0-3h0m-1-14h0m-4-26h0m3-9h0m11 20h0m-2 1h0m3 22h0m1 2h0m-2 5h0m-3 1h0m3 8h0m-3 1h0m-1 3h0m4 1h0m1 0h0m2 0h0m-3 1h0m2 0h0m2 2h0m-3 9h0m-3 4h0m5 1h0m-7 2h0m6 0h0m1 4h0m-5 10h0m1 13h0m12 4h0m-5-29h0m5 0h0m5-6h0m-11-4h0m5-1h0m1 0h0m3 0h0m-2-1h0m-2-4h0m-2-2h0m2 0h0m0-1h0m-1-3h0m7-2h0m-9-1h0m4 0h0m-5-2h0m9-4h0m-10-1h0m5-42h0m2 0h0m13 24h0m-5 8h0m3 28h0m-6 3h0m5 0h0m27-45h0m8 109h0m-3-29h0m4 0h0m-2-8h0m7-7h0m-5-2h0m3-5h0m1 0h0m-5-1h0m5-1h0m2-2h0m-1-11h0m-2-1h0m-5-4h0m0-1h0m1 0h0m0-1h0m-3-8h0m3 0h0m2 0h0m5 0h0m-7-1h0m4 0h0m-1-1h0m-4-1h0m0-1h0m1-1h0m3-2h0m-1-1h0m3-2h0m-5-3h0m2-1h0m-4-1h0m8-1h0m-1-3h0m1-3h0m-6-2h0m5-14h0m-3-20h0m9 43h0m-3 3h0m10 15h0m-6 1h0m-4 1h0m3 1h0m3 0h0m-3 3h0m0 3h0m1 0h0m1 4h0m-1 1h0m6 0h0m1 11h0m-5 3h0m-4 1h0m-2 2h0m9 1h0m-3 18h0m2 11h0m14-9h0m-10-7h0m1-9h0m8-1h0m-1-2h0m-5-1h0m1-2h0m-1-5h0m-2-3h0m0-2h0m2-1h0m2-2h0m6 0h0m-4-2h0m-3-1h0m5-2h0m-9-3h0m1 0h0m3-1h0m-2-6h0m3-1h0m0-2h0m3-2h0m-5-5h0m4-8h0m-3-11h0m7-11h0m0-5h0m7-9h0m5 1h0m-11 4h0m1 15h0m6 4h0m1 4h0m3 2h0m-4 9h0m-1 3h0m-3 2h0m1 2h0m1 2h0m1 0h0m4 0h0m-8 2h0m3 0h0m0 2h0m-5 3h0m5 0h0m1 0h0m-4 1h0m8 0h0m-1 1h0m1 1h0m-6 3h0m-4 3h0m11 0h0m-9 2h0m5 0h0m1 1h0m-7 1h0m-1 1h0m4 0h0m-4 1h0m6 0h0m-6 1h0m2 0h0m0 1h0m2 0h0m-3 6h0m1 1h0m5 1h0m0 1h0m2 0h0m-6 1h0m-1 1h0m19 4h0m-1-2h0m1 0h0m0-10h0m-3-2h0m2-1h0m1 0h0m-4-2h0m2 0h0m-7-1h0m9 0h0m-3-1h0m2-1h0m1 0h0m-1-1h0m-7-1h0m9-3h0m-1-2h0m-6-5h0m6 0h0m-1-1h0m-6-1h0m8 0h0m-2-1h0m2-1h0m-5-2h0m5-2h0m-8-1h0m5 0h0m0-1h0m-4-1h0m4 0h0m-7-1h0m6-15h0m-1-29h0m-2-1h0m4-7h0m15 5h0m-3 10h0m-1 21h0m3 4h0m-7 1h0m2 0h0m3 1h0m-6 1h0m6 1h0m-3 4h0m6 4h0m-4 8h0m5 0h0m-8 2h0m1 0h0m0 1h0m1 1h0m4 0h0m0 2h0m-5 3h0m-3 2h0m-1 1h0m4 1h0m6 0h0m-10 2h0m1 1h0m3 1h0m2 0h0m5 0h0m-8 2h0m7 0h0m-9 1h0m8 0h0m-2 1h0m-2 1h0m1 1h0m-3 5h0m0 5h0m2 3h0m-1 5h0m6 33h0m9-47h0m-7-6h0m3-2h0m-1-1h0m6-2h0m-6-1h0m-2-2h0m6 0h0m1-1h0m-1-6h0m-6-3h0m2-6h0m-1-2h0m2 0h0m3-5h0m-4-11h0m-2-6h0m3-13h0m3-3h0m2-8h0"/>
<path transform="scale(.5)" fill="none" stroke="#D9423A" stroke-width="5.6" stroke-linecap="round" d="M1948 1854h0m27-162h0m2 0h0m-1 166h0m4 0h0m53 0h0m10-166h0m-2 166h0m2 0h0m2 0h0m2 0h0m2 0h0m12-166h0m8 0h0m1 5h0m13 1h0m24-6h0m32 166h0m9 0h0m3 0h0m1-166h0m17 9h0m3 157h0m9-161h0m-6-5h0m8 0h0m3 0h0m1 0h0m3 0h0m11 160h0m0-152h0m10-8h0m6 0h0m-4 166h0m40 0h0m-6-162h0m-3-4h0m19 166h0m2 0h0m4 0h0m1 0h0m7 0h0m-2-155h0m0-7h0m0-4h0m2 0h0m15 166h0m3 0h0m5 0h0m7-166h0m4 0h0m2 0h0m-1 162h0m-6 4h0m4 0h0m3 0h0m4 0h0m4-166h0m4 0h0m25 166h0m1-166h0m5 166h0m16 0h0m3 0h0m0-7h0m2-159h0m5 0h0m4 166h0m11 0h0m3-166h0m1 166h0m3 0h0m1 0h0m2 0h0m11 0h0m5 0h0m10-166h0m1 0h0m-6 10h0m5 156h0m31 0h0m7-166h0m4 166h0m14-166h0m13 166h0m10-158h0m13 158h0m39 0h0m11-166h0m2 155h0m-5 11h0m18 0h0m1-6h0m-1-151h0m-1-9h0m6 0h0m5 0h0m1 0h0m-7 3h0m4 157h0m-3 6h0m14 0h0m1-166h0m9 0h0m7 0h0m-7 166h0m5 0h0m4 0h0m9-9h0m-7-155h0m3-2h0m1 0h0m1 0h0m1 0h0m8 163h0m29-152h0m14 152h0m-7-163h0m16 166h0m9 0h0m9 0h0m5 0h0m8 0h0m-2-10h0m10-156h0m13 166h0m84 0h0m8 0h0m2 0h0m13-3h0m-8-154h0m44-9h0m3 166h0m1 0h0m14-166h0m11 166h0m-4-2h0m16-164h0m0 5h0m5 5h0m1 148h0m10 8h0m-3-166h0m8 0h0m5 0h0m10 166h0m-4-166h0m1 0h0m4 0h0m27 166h0m82-166h0"/>
<text x="914.60" y="820.50" font-size="16.9" font-weight="bold" text-anchor="middle" transform="rotate(-90 914.60 820.50)" fill="#000">Reference allele (rel. units)</text>
<line x1="982.00" y1="1766.00" x2="982.00" y2="1855.75" stroke="#000" stroke-width="2.0"/>
<line x1="977.50" y1="1770.00" x2="982.00" y2="1770.00" stroke="#000" stroke-width="1.8"/>
<text x="975.80" y="1774.10" font-size="16.5" font-weight="bold" text-anchor="end" fill="#000">1.00</text>
<line x1="977.50" y1="1790.62" x2="982.00" y2="1790.62" stroke="#000" stroke-width="1.8"/>
<text x="975.80" y="1794.72" font-size="16.5" font-weight="bold" text-anchor="end" fill="#000">0.75</text>
<line x1="977.50" y1="1811.25" x2="982.00" y2="1811.25" stroke="#000" stroke-width="1.8"/>
<text x="975.80" y="1815.35" font-size="16.5" font-weight="bold" text-anchor="end" fill="#000">0.50</text>
<line x1="977.50" y1="1831.88" x2="982.00" y2="1831.88" stroke="#000" stroke-width="1.8"/>
<text x="975.80" y="1835.97" font-size="16.5" font-weight="bold" text-anchor="end" fill="#000">0.25</text>
<line x1="977.50" y1="1852.50" x2="982.00" y2="1852.50" stroke="#000" stroke-width="1.8"/>
<text x="975.80" y="1856.60" font-size="16.5" font-weight="bold" text-anchor="end" fill="#000">0.00</text>
<line x1="982.00" y1="1855.75" x2="1027.00" y2="1855.75" stroke="#000" stroke-width="2.0"/>
<text x="1004.50" y="1876.00" font-size="15" font-weight="bold" text-anchor="middle" fill="#000">chr1</text>
<line x1="1035.70" y1="1855.75" x2="1080.70" y2="1855.75" stroke="#000" stroke-width="2.0"/>
<text x="1058.20" y="1876.00" font-size="15" font-weight="bold" text-anchor="middle" fill="#000">chr2</text>
<line x1="1089.40" y1="1855.75" x2="1134.40" y2="1855.75" stroke="#000" stroke-width="2.0"/>
<text x="1111.90" y="1876.00" font-size="15" font-weight="bold" text-anchor="middle" fill="#000">chr3</text>
<line x1="1143.10" y1="1855.75" x2="1188.10" y2="1855.75" stroke="#000" stroke-width="2.0"/>
<text x="1165.60" y="1876.00" font-size="15" font-weight="bold" text-anchor="middle" fill="#000">chr4</text>
<line x1="1196.80" y1="1855.75" x2="1241.80" y2="1855.75" stroke="#000" stroke-width="2.0"/>
<text x="1219.30" y="1876.00" font-size="15" font-weight="bold" text-anchor="middle" fill="#000">chr5</text>
<line x1="1250.50" y1="1855.75" x2="1295.50" y2="1855.75" stroke="#000" stroke-width="2.0"/>
<text x="1273.00" y="1876.00" font-size="15" font-weight="bold" text-anchor="middle" fill="#000">chr6</text>
<line x1="1304.20" y1="1855.75" x2="1349.20" y2="1855.75" stroke="#000" stroke-width="2.0"/>
<text x="1326.70" y="1876.00" font-size="15" font-weight="bold" text-anchor="middle" fill="#000">chr7</text>
<line x1="1357.90" y1="1855.75" x2="1402.90" y2="1855.75" stroke="#000" stroke-width="2.0"/>
<text x="1380.40" y="1876.00" font-size="15" font-weight="bold" text-anchor="middle" fill="#000">chr8</text>
<line x1="1411.60" y1="1855.75" x2="1456.60" y2="1855.75" stroke="#000" stroke-width="2.0"/>
<text x="1434.10" y="1876.00" font-size="15" font-weight="bold" text-anchor="middle" fill="#000">chr9</text>
<line x1="1465.30" y1="1855.75" x2="1510.30" y2="1855.75" stroke="#000" stroke-width="2.0"/>
<text x="1487.80" y="1876.00" font-size="15" font-weight="bold" text-anchor="middle" fill="#000">chr10</text>
<line x1="1519.00" y1="1855.75" x2="1564.00" y2="1855.75" stroke="#000" stroke-width="2.0"/>
<text x="1541.50" y="1876.00" font-size="15" font-weight="bold" text-anchor="middle" fill="#000">chr11</text>
<line x1="1572.70" y1="1855.75" x2="1617.70" y2="1855.75" stroke="#000" stroke-width="2.0"/>
<text x="1595.20" y="1876.00" font-size="15" font-weight="bold" text-anchor="middle" fill="#000">chr12</text>
<path fill="#68BDC2" d="M983.5 1801.7h3.7v17.1h-3.7zM987.0 1800.0h3.7v18.9h-3.7zM990.5 1800.4h3.7v18.3h-3.7zM994.0 1806.0h3.7v10.8h-3.7zM997.5 1800.4h3.7v20.4h-3.7zM1008.0 1802.8h3.7v20.0h-3.7zM1011.5 1804.6h3.7v15.5h-3.7zM1015.0 1802.8h3.7v16.2h-3.7zM1018.5 1807.1h3.7v10.7h-3.7zM1022.0 1802.8h3.7v13.5h-3.7zM1037.2 1805.6h3.7v13.4h-3.7zM1040.7 1804.0h3.7v13.5h-3.7zM1044.2 1805.6h3.7v10.9h-3.7zM1047.7 1803.7h3.7v18.0h-3.7zM1051.2 1807.0h3.7v11.1h-3.7zM1054.7 1808.2h3.7v10.1h-3.7zM1058.2 1800.4h3.7v17.9h-3.7zM1061.7 1805.1h3.7v9.5h-3.7zM1065.2 1805.3h3.7v14.4h-3.7zM1068.7 1804.3h3.7v17.2h-3.7zM1072.2 1803.1h3.7v15.0h-3.7zM1075.7 1804.6h3.7v15.5h-3.7zM1090.9 1805.1h3.7v13.8h-3.7zM1094.4 1808.4h3.7v9.2h-3.7zM1097.9 1806.8h3.7v7.4h-3.7zM1101.4 1807.9h3.7v10.4h-3.7zM1104.9 1803.8h3.7v12.1h-3.7zM1115.4 1805.9h3.7v11.5h-3.7zM1118.9 1808.4h3.7v9.4h-3.7zM1122.4 1804.8h3.7v8.8h-3.7zM1125.9 1806.1h3.7v13.0h-3.7zM1129.4 1806.7h3.7v13.0h-3.7zM1144.6 1804.1h3.7v13.6h-3.7zM1148.1 1805.3h3.7v10.6h-3.7zM1151.6 1804.3h3.7v10.6h-3.7zM1155.1 1803.9h3.7v12.5h-3.7zM1158.6 1808.8h3.7v8.5h-3.7zM1162.1 1806.0h3.7v9.4h-3.7zM1165.6 1804.4h3.7v10.9h-3.7zM1169.1 1805.9h3.7v8.0h-3.7zM1172.6 1806.8h3.7v9.0h-3.7zM1176.1 1803.0h3.7v13.9h-3.7zM1179.6 1805.8h3.7v7.5h-3.7zM1183.1 1803.5h3.7v11.6h-3.7zM1198.3 1807.1h3.7v7.5h-3.7zM1201.8 1805.2h3.7v11.6h-3.7zM1205.3 1804.1h3.7v13.0h-3.7zM1208.8 1805.8h3.7v11.8h-3.7zM1212.3 1807.0h3.7v7.9h-3.7zM1215.8 1805.5h3.7v13.3h-3.7zM1219.3 1803.3h3.7v14.0h-3.7zM1222.8 1806.0h3.7v11.6h-3.7zM1226.3 1802.9h3.7v12.7h-3.7zM1229.8 1809.1h3.7v8.0h-3.7zM1233.3 1806.6h3.7v8.8h-3.7zM1236.8 1805.4h3.7v9.8h-3.7zM1252.0 1808.0h3.7v9.0h-3.7zM1255.5 1804.7h3.7v11.1h-3.7zM1259.0 1803.5h3.7v13.5h-3.7zM1273.0 1804.1h3.7v16.5h-3.7zM1276.5 1807.3h3.7v8.4h-3.7zM1280.0 1806.8h3.7v10.6h-3.7zM1283.5 1801.8h3.7v16.2h-3.7zM1287.0 1805.0h3.7v14.0h-3.7zM1290.5 1805.9h3.7v10.5h-3.7zM1305.7 1805.9h3.7v13.9h-3.7zM1309.2 1804.6h3.7v17.1h-3.7zM1312.7 1801.2h3.7v16.9h-3.7zM1316.2 1804.1h3.7v14.7h-3.7zM1319.7 1803.0h3.7v15.3h-3.7zM1323.2 1808.3h3.7v9.8h-3.7zM1326.7 1803.4h3.7v17.6h-3.7zM1330.2 1803.6h3.7v15.9h-3.7zM1333.7 1802.3h3.7v15.4h-3.7zM1337.2 1804.7h3.7v15.6h-3.7zM1340.7 1803.9h3.7v13.1h-3.7zM1344.2 1802.0h3.7v15.6h-3.7zM1359.4 1806.3h3.7v11.1h-3.7zM1362.9 1806.4h3.7v8.2h-3.7zM1366.4 1807.4h3.7v6.1h-3.7zM1369.9 1807.9h3.7v8.0h-3.7zM1373.4 1808.1h3.7v9.0h-3.7zM1376.9 1807.9h3.7v10.6h-3.7zM1380.4 1806.6h3.7v6.4h-3.7zM1383.9 1806.9h3.7v8.8h-3.7zM1387.4 1807.3h3.7v9.9h-3.7zM1390.9 1805.8h3.7v7.8h-3.7zM1394.4 1806.5h3.7v7.1h-3.7zM1397.9 1805.3h3.7v10.3h-3.7zM1413.1 1805.0h3.7v10.5h-3.7zM1416.6 1808.6h3.7v8.9h-3.7zM1434.1 1805.9h3.7v12.9h-3.7zM1437.6 1806.7h3.7v11.2h-3.7zM1441.1 1806.2h3.7v7.7h-3.7zM1444.6 1805.6h3.7v7.8h-3.7zM1448.1 1806.5h3.7v9.7h-3.7zM1451.6 1806.0h3.7v13.6h-3.7zM1466.8 1807.5h3.7v10.0h-3.7zM1470.3 1804.8h3.7v9.5h-3.7zM1473.8 1807.7h3.7v8.9h-3.7zM1477.3 1804.9h3.7v11.0h-3.7zM1480.8 1807.6h3.7v10.3h-3.7zM1484.3 1804.7h3.7v9.2h-3.7zM1487.8 1806.8h3.7v7.9h-3.7zM1491.3 1806.6h3.7v9.0h-3.7zM1494.8 1806.6h3.7v11.1h-3.7zM1498.3 1806.4h3.7v8.3h-3.7zM1501.8 1806.7h3.7v7.1h-3.7zM1505.3 1805.7h3.7v10.1h-3.7zM1520.5 1802.6h3.7v17.5h-3.7zM1524.0 1801.9h3.7v15.3h-3.7zM1527.5 1807.4h3.7v9.7h-3.7zM1531.0 1802.9h3.7v18.2h-3.7zM1534.5 1806.9h3.7v9.4h-3.7zM1538.0 1804.5h3.7v11.3h-3.7zM1541.5 1805.1h3.7v14.0h-3.7zM1545.0 1807.8h3.7v10.5h-3.7zM1548.5 1804.4h3.7v16.8h-3.7zM1552.0 1802.9h3.7v13.9h-3.7zM1555.5 1802.1h3.7v17.5h-3.7zM1559.0 1807.0h3.7v11.0h-3.7zM1574.2 1807.1h3.7v10.6h-3.7zM1577.7 1801.4h3.7v17.7h-3.7zM1581.2 1804.1h3.7v15.1h-3.7zM1584.7 1802.5h3.7v13.7h-3.7zM1588.2 1802.8h3.7v14.7h-3.7zM1591.7 1805.8h3.7v14.4h-3.7zM1595.2 1803.9h3.7v11.4h-3.7zM1598.7 1804.4h3.7v10.1h-3.7zM1602.2 1807.4h3.7v10.2h-3.7zM1605.7 1802.9h3.7v16.7h-3.7zM1609.2 1803.9h3.7v11.5h-3.7zM1612.7 1802.4h3.7v18.0h-3.7z"/>
<path transform="scale(.5)" fill="none" stroke="#5FB7BD" stroke-width="5.8" stroke-linecap="round" d="M1966 3687h0m1-21h0m0-15h0m-1-1h0m1-7h0m0-12h0m-1-11h0m0-1h0m1-2h0m0-2h0m-1-14h0m0-6h0m0-2h0m1-35h0m3 4h0m5 9h0m-5 7h0m-2 4h0m7 7h0m2 0h0m-6 3h0m7 0h0m-3 4h0m-7 2h0m4 1h0m6 0h0m-10 4h0m4 0h0m7 0h0m-10 3h0m2 0h0m-3 2h0m1 0h0m4 0h0m0 2h0m-1 1h0m4 0h0m-6 3h0m4 1h0m5 0h0m-6 1h0m-4 4h0m9 0h0m-1 1h0m2 0h0m-11 2h0m8 1h0m0 1h0m-8 1h0m5 1h0m2 0h0m-7 1h0m8 0h0m-8 1h0m11 0h0m-7 1h0m2 0h0m-2 1h0m5 0h0m2 1h0m0 1h0m-8 1h0m5 1h0m-2 1h0m-5 3h0m2 1h0m1 0h0m4 0h0m-4 1h0m0 1h0m-2 1h0m9 1h0m-11 1h0m5 4h0m0 2h0m2 1h0m4 3h0m-9 2h0m1 4h0m-1 1h0m9 2h0m-4 2h0m-3 1h0m-4 1h0m5 1h0m1 0h0m-4 17h0m1 0h0m-3 1h0m11 3h0m8 2h0m-7-6h0m3-4h0m0-4h0m2-5h0m-2-8h0m1-2h0m-1-11h0m8-2h0m-10-1h0m10-2h0m-6-1h0m1-1h0m-2-1h0m-3-1h0m4-2h0m-3-2h0m7-2h0m0-1h0m2-1h0m0-2h0m-10-2h0m10 0h0m-10-1h0m5-3h0m5 0h0m-9-2h0m-1-1h0m1 0h0m2 0h0m7 0h0m-10-1h0m3 0h0m7 0h0m-7-2h0m-3-1h0m2 0h0m4-1h0m1 0h0m-2-2h0m-6-1h0m2 0h0m2 0h0m3-1h0m4 0h0m-10-1h0m10-2h0m-8-3h0m6 0h0m2-1h0m-10-1h0m2 0h0m5 0h0m1 0h0m1-1h0m0-1h0m-7-1h0m1-1h0m5-1h0m-8-1h0m2-1h0m4-1h0m-1-10h0m-5-1h0m6-4h0m-5-15h0m6-2h0m-4-11h0m12 5h0m1 5h0m-1 5h0m-2 5h0m3 0h0m-2 6h0m2 5h0m3 1h0m-2 4h0m-4 3h0m1 2h0m-3 1h0m2 0h0m8 0h0m-8 1h0m1 0h0m2 0h0m-4 1h0m2 3h0m-2 2h0m5 0h0m-5 2h0m0 2h0m7 0h0m-4 1h0m1 0h0m-5 2h0m0 1h0m4 0h0m1 0h0m-4 1h0m10 0h0m-6 1h0m-2 1h0m-1 3h0m-2 1h0m2 2h0m-2 1h0m1 0h0m4 0h0m4 0h0m-1 1h0m-6 1h0m2 0h0m-4 1h0m3 0h0m-2 1h0m1 1h0m3 2h0m-2 1h0m8 0h0m-7 4h0m-3 1h0m2 0h0m3 0h0m-2 1h0m6 2h0m-8 2h0m3 0h0m1 0h0m-2 2h0m-1 3h0m0 2h0m2 2h0m-4 2h0m5 0h0m-1 1h0m0 5h0m-5 2h0m0 1h0m2 11h0m3 1h0m-3 8h0m3 5h0m2 0h0m16-42h0m-1-1h0m1 0h0m0-2h0m-3-7h0m3-3h0m-11-4h0m1-2h0m-1-1h0m1-13h0m-1-1h0m1-7h0m-1-45h0m11-4h0m10-1h0m-7 5h0m0 7h0m8 3h0m0 4h0m-1 4h0m1 5h0m1 0h0m-1 5h0m-8 7h0m2 0h0m5 5h0m-7 1h0m6 2h0m-2 1h0m1 0h0m4 1h0m-8 1h0m0 3h0m1 0h0m1 0h0m-4 2h0m10 0h0m-6 1h0m-2 1h0m6 0h0m-1 3h0m-7 1h0m1 0h0m0 3h0m3 0h0m5 0h0m-7 1h0m2 2h0m3 0h0m-7 1h0m10 0h0m-3 1h0m1 0h0m-8 1h0m7 1h0m-6 2h0m5 0h0m2 1h0m1 0h0m-5 2h0m-1 2h0m-4 5h0m2 0h0m6 2h0m3 0h0m-11 1h0m7 1h0m-6 1h0m2 2h0m3 1h0m5 1h0m-3 1h0m3 0h0m-10 1h0m3 0h0m-4 2h0m0 1h0m8 0h0m-5 1h0m-2 6h0m4 5h0m-4 1h0m10 7h0m-1 1h0m1 13h0m10-2h0m-8-1h0m4-15h0m0-3h0m1-1h0m5 0h0m-2-5h0m-4-5h0m0-3h0m1-4h0m-3-1h0m-3-1h0m0-1h0m5 0h0m0-1h0m6-3h0m-9-2h0m4-1h0m1-2h0m1-1h0m-4-2h0m1 0h0m-4-1h0m5-1h0m-6-1h0m10 0h0m-10-1h0m5 0h0m0-2h0m4-1h0m-5-1h0m2 0h0m2 0h0m-8-2h0m3 0h0m4 0h0m2-1h0m-7-1h0m2 0h0m1 0h0m4 0h0m-3-1h0m-4-1h0m0-1h0m1 0h0m-3-1h0m3 0h0m1 0h0m-1-1h0m0-1h0m4 0h0m-2-1h0m-4-2h0m7-1h0m-5-3h0m4-1h0m-6-1h0m5-1h0m1-6h0m2-6h0m-2-1h0m-3-2h0m-1-6h0m-2-6h0m3-2h0m2-7h0m1-1h0m3-4h0m3 0h0m8 12h0m-6 9h0m6 2h0m1 3h0m-8 2h0m8 0h0m-4 4h0m5 2h0m-10 1h0m5 0h0m1 2h0m1 2h0m2 2h0m-5 1h0m-4 1h0m8 0h0m0 1h0m-7 1h0m6 0h0m-4 1h0m4 0h0m1 1h0m-4 1h0m-1 1h0m1 0h0m2 0h0m-7 2h0m5 0h0m4 0h0m-2 1h0m-6 1h0m1 1h0m-2 1h0m4 1h0m2 0h0m5 0h0m-4 1h0m-1 1h0m4 0h0m-9 1h0m4 0h0m5 1h0m-4 1h0m-1 1h0m1 1h0m4 0h0m-4 1h0m-5 1h0m3 0h0m1 0h0m1 0h0m1 0h0m-4 1h0m1 2h0m4 0h0m0 1h0m2 0h0m-7 1h0m4 0h0m1 0h0m1 0h0m-5 1h0m-4 2h0m4 0h0m5 1h0m-8 1h0m6 1h0m0 1h0m-4 1h0m-3 1h0m4 0h0m3 0h0m2 0h0m1 0h0m-4 1h0m5 1h0m-2 1h0m-7 1h0m8 1h0m-4 4h0m5 2h0m-5 3h0m4 0h0m-8 3h0m0 2h0m7 3h0m-5 2h0m6 2h0m25-84h0m0 33h0m0 2h0m0 4h0m-1 6h0m0 8h0m8 52h0m-6-15h0m0-16h0m1-2h0m5-1h0m-4-6h0m0-2h0m4-1h0m-6-1h0m5 0h0m-4-2h0m5-3h0m2-1h0m-3-1h0m4-6h0m-8-2h0m5 0h0m1 0h0m0-1h0m-6-2h0m9 0h0m-5-2h0m3-1h0m-3-1h0m6 0h0m-4-6h0m-3-2h0m1-1h0m6 0h0m0-1h0m-5-2h0m-4-7h0m-2-4h0m7 0h0m2-1h0m1 0h0m-2-2h0m-2-5h0m-6-3h0m1-3h0m-1-1h0m5-2h0m-5-1h0m5-3h0m-3-2h0m7-5h0m-8-3h0m0-12h0m10 0h0m10 3h0m-4 22h0m-2 1h0m8 0h0m-4 1h0m-3 6h0m6 2h0m-5 6h0m2 0h0m-5 6h0m1 0h0m-3 1h0m10 2h0m-3 1h0m-7 5h0m10 1h0m-10 2h0m4 0h0m3 2h0m0 1h0m2 4h0m-3 2h0m0 2h0m4 0h0m-6 1h0m3 0h0m1 1h0m-4 2h0m1 0h0m-3 2h0m6 0h0m2 2h0m-8 3h0m4 2h0m-6 1h0m5 4h0m-2 1h0m3 1h0m-5 7h0m-1 1h0m8 3h0m-1 1h0m0 4h0m-4 6h0m-1 12h0m-2 2h0m22-10h0m-7-8h0m3-2h0m2-5h0m-6-2h0m-1-2h0m0-4h0m1-2h0m6 0h0m-1-5h0m-4-1h0m8 0h0m0-2h0m-5-1h0m-3-1h0m7 0h0m-8-2h0m5-1h0m1-2h0m1-1h0m-2-1h0m-1-2h0m2-1h0m-1-1h0m2 0h0m-9-2h0m4 0h0m2-1h0m1 0h0m3 0h0m-3-1h0m-5-1h0m2 0h0m-1-1h0m4 0h0m-7-3h0m3 0h0m1 0h0m2-1h0m3-1h0m-1-1h0m1-2h0m-3-2h0m-1-1h0m-3-3h0m0-2h0m8 0h0m-4-1h0m4 0h0m-6-1h0m3-1h0m0-3h0m-2-4h0m2 0h0m-7-1h0m3 0h0m5-2h0m0-1h0m2 0h0m-9-32h0m11-2h0m9 10h0m-3 2h0m-4 13h0m8 5h0m-6 3h0m0 3h0m-2 1h0m-2 2h0m5 0h0m-4 1h0m3 4h0m-1 1h0m1 0h0m-2 1h0m0 1h0m1 5h0m7 0h0m-1 1h0m-5 2h0m3 0h0m4 0h0m-11 3h0m3 0h0m1 0h0m5 0h0m-9 1h0m10 1h0m-8 1h0m8 9h0m-9 2h0m0 1h0m1 1h0m9 0h0m-11 1h0m1 5h0m3 0h0m3 0h0m-5 1h0m6 1h0m3 0h0m-11 1h0m8 0h0m2 0h0m1 0h0m-1 1h0m-7 1h0m4 1h0m-1 1h0m-4 1h0m1 2h0m8 2h0m-10 5h0m10 2h0m-6 6h0m-5 4h0m8 10h0m3 11h0m4 3h0m-2-13h0m1 0h0m3-13h0m-2-9h0m-2-1h0m1 0h0m-2-3h0m9-1h0m2-2h0m0-1h0m-2-1h0m-8-3h0m3 0h0m1 0h0m-5-1h0m7 0h0m1-1h0m-5-2h0m7-1h0m-9-2h0m10-1h0m-11-1h0m5-1h0m-3-1h0m3 0h0m-4-1h0m2 0h0m-2-1h0m4 0h0m-2-2h0m-2-1h0m4-2h0m4 0h0m-3-1h0m3-2h0m0-1h0m2 0h0m-9-1h0m6-1h0m-7-1h0m3 0h0m-4-1h0m1-2h0m2 0h0m-2-1h0m1 0h0m3-1h0m-4-1h0m2 0h0m6 0h0m2 0h0m-2-1h0m-6-2h0m8 0h0m-11-2h0m11 0h0m-6-3h0m0-2h0m-1-6h0m7-2h0m-1-6h0m-10-4h0m0-2h0m1-3h0m-1-4h0m4 0h0m-2-4h0m13-5h0m-3 2h0m9 4h0m-6 22h0m-2 1h0m7 2h0m1 3h0m-7 4h0m3 0h0m3 0h0m-7 1h0m10 2h0m-5 1h0m3 0h0m2 0h0m-11 7h0m1 1h0m3 1h0m-3 1h0m3 0h0m2 0h0m4 0h0m-10 1h0m10 0h0m-3 3h0m-6 1h0m2 0h0m1 0h0m-2 3h0m6 0h0m-8 2h0m0 1h0m7 0h0m3 1h0m-6 1h0m5 0h0m0 1h0m-9 3h0m11 0h0m0 1h0m-9 2h0m0 1h0m0 1h0m8 2h0m-6 3h0m-3 2h0m-1 1h0m11 5h0m0 4h0m-9 1h0m7 1h0m-9 8h0m4 8h0m7 11h0m5-1h0m5 0h0m2-1h0m-8-3h0m6-6h0m-9-16h0m7 0h0m1-3h0m-7-1h0m8-5h0m-3-2h0m0-1h0m3 0h0m-8-6h0m5 0h0m2 0h0m-6-2h0m6 0h0m-1-1h0m-4-2h0m1 0h0m4 0h0m-6-2h0m3-1h0m-1-1h0m4-1h0m2-2h0m-9-1h0m3 0h0m6-2h0m-7-1h0m2 0h0m0-1h0m3-1h0m2 0h0m-5-3h0m-1-2h0m7-3h0m-3-1h0m1 0h0m-5-1h0m0-3h0m1 0h0m1-2h0m-2-2h0m0-1h0m3 0h0m-2-2h0m-5-1h0m2-1h0m5-1h0m4 0h0m-11-1h0m7 0h0m-2-1h0m3 0h0m1 0h0m-4-1h0m2 0h0m1-7h0m-2-1h0m2 0h0m1 0h0m2-10h0m-2-15h0m-8-2h0m34 115h0m-1-11h0m0-19h0m1-16h0m-1-5h0m-1-9h0m0-3h0m1-9h0m0-9h0m12-41h0m-5 32h0m5 9h0m-2 2h0m0 1h0m-6 7h0m9 1h0m-1 3h0m-9 1h0m10 2h0m-3 1h0m3 1h0m-4 5h0m-7 1h0m5 0h0m-2 4h0m5 3h0m-3 1h0m-4 1h0m-1 1h0m8 17h0m1 0h0m-7 1h0m8 6h0m-10 6h0m3 2h0m-2 1h0m2 0h0m7 18h0m-2 6h0m4-5h0m11-5h0m-11-6h0m1-1h0m6-9h0m4-2h0m-9-3h0m-2-3h0m2 0h0m1 0h0m-2-6h0m1-3h0m2-1h0m6 0h0m-9-2h0m-1-4h0m1-2h0m1-2h0m0-1h0m3 0h0m5 0h0m-9-2h0m1-1h0m4-5h0m2 0h0m-8-6h0m0-2h0m1-3h0m-1-4h0m5-1h0m-5-1h0m1 0h0m2 0h0m2 0h0m5-1h0m-8-2h0m-2-1h0m1-2h0m1-1h0m-1-3h0m8 0h0m-7-10h0m2-11h0m2-12h0m-4-1h0m19-3h0m2 6h0m-6 2h0m6 16h0m-8 7h0m1 0h0m1 7h0m0 4h0m-2 1h0m8 0h0m-6 2h0m1 2h0m-2 1h0m6 1h0m-5 11h0m0 2h0m-2 2h0m7 2h0m0 2h0m0 1h0m-6 2h0m-4 2h0m7 0h0m1 1h0m1 0h0m1 0h0m1 3h0m-1 1h0m-5 1h0m3 0h0m3 4h0m-11 9h0m6 7h0m4 13h0m-5 3h0m16 7h0m0-15h0m0-18h0m-3-10h0m-6-1h0m9 0h0m-1-5h0m0-3h0m0-2h0m0-1h0m-2-1h0m5-2h0m-1-1h0m-1-3h0m0-3h0m1 0h0m0-2h0m1-1h0m-4-2h0m0-2h0m2-10h0m2-1h0m-1-2h0m-3-11h0m6-26h0m5 2h0m-5 10h0m4 6h0m1 1h0m-6 24h0m0 1h0m4 1h0m7 1h0m-5 1h0m-4 4h0m-1 1h0m0 1h0m5 0h0m-5 1h0m2 0h0m-3 1h0m4 0h0m-3 2h0m1 0h0m2 0h0m4 1h0m-2 1h0m-4 1h0m2 0h0m4 3h0m-6 1h0m2 0h0m0 1h0m5 1h0m-5 3h0m3 2h0m-2 11h0m1 4h0m0 1h0m-5 2h0m5 2h0m4 20h0m-2 8h0m2 0h0m6 12h0m2-20h0m4-6h0m-4-8h0m-4-2h0m7-6h0m-9-2h0m5-2h0m-2-1h0m2 0h0m-3-1h0m4 0h0m-4-1h0m2-4h0m1-1h0m3 0h0m-2-1h0m5-1h0m-5-1h0m-6-2h0m0-1h0m4-4h0m6 0h0m-10-4h0m8 0h0m0-2h0m-4-2h0m6 0h0m-10-1h0m6-2h0m2 0h0m2-2h0m-5-2h0m-4-5h0m2-2h0m7-1h0m-7-3h0m3-3h0m-1-2h0m1-4h0m-3-6h0m2-1h0m0-5h0m0-24h0m16 8h0m-3 10h0m-1 15h0m2 4h0m1 1h0m-2 7h0m-5 2h0m5 0h0m-5 1h0m3 0h0m6 0h0m-5 3h0m4 1h0m-4 4h0m5 0h0m-6 1h0m-2 1h0m5 1h0m3 0h0m-7 2h0m-2 1h0m2 1h0m1 0h0m4 1h0m-1 2h0m1 1h0m-5 1h0m4 0h0m3 2h0m-7 1h0m0 3h0m1 1h0m5 0h0m1 0h0m-8 1h0m1 0h0m0 1h0m4 4h0m-6 1h0m1 1h0m4 0h0m-6 2h0m1 3h0m5 3h0m3 2h0m-4 7h0m2 0h0m-1 1h0m-3 3h0m31-59h0m-1 20h0m2 22h0m-1 6h0m5 36h0m-2-14h0m9-5h0m-10-15h0m8-4h0m-8-5h0m4-4h0m-4-4h0m3-1h0m1-2h0m0-1h0m0-2h0m6-6h0m-7-1h0m-1-4h0m3 0h0m-2-1h0m1-1h0m-4-3h0m1-1h0m5-1h0m4 0h0m1 0h0m-2-1h0m0-2h0m-6-1h0m0-1h0m2 0h0m-2-4h0m0-16h0m-3-7h0m7-6h0m-2-7h0m4-7h0m8 2h0m-5 7h0m10 0h0m-2 5h0m-2 28h0m2 0h0m-4 1h0m-2 1h0m8 0h0m-9 2h0m1 2h0m-1 1h0m5 4h0m-2 2h0m1 0h0m2 0h0m3 0h0m-2 5h0m1 0h0m1 2h0m-5 1h0m6 0h0m-9 2h0m5 3h0m-4 1h0m6 1h0m1 0h0m-3 1h0m-6 1h0m3 2h0m3 1h0m-3 1h0m3 0h0m-5 1h0m1 1h0m5 0h0m2 3h0m-3 5h0m2 1h0m2 0h0m-6 5h0m-2 5h0m4 1h0m-1 10h0m9 25h0m8-4h0m-10-7h0m8-23h0m-6-7h0m8-5h0m-11-11h0m1-1h0m3-3h0m-2-2h0m9 0h0m0-2h0m-2-2h0m1-1h0m-10-3h0m7-2h0m3-1h0m-9-1h0m1-6h0m8 0h0m-5-6h0m-2-2h0m-1-8h0m6-3h0m-8-3h0m1-4h0m8 0h0m2-16h0m6 4h0m3 2h0m1 3h0m-3 17h0m5 0h0m-5 6h0m4 4h0m1 1h0m-11 1h0m3 0h0m2 0h0m2 2h0m-4 2h0m-3 2h0m3 2h0m2 0h0m5 2h0m-7 3h0m6 1h0m2 0h0m0 2h0m-2 5h0m1 0h0m-5 1h0m3 1h0m-4 1h0m5 0h0m1 0h0m-1 4h0m-3 2h0m3 0h0m0 2h0m-9 1h0m1 1h0m8 2h0m-8 8h0m1 2h0m7 2h0m-5 9h0m7 18h0m2-24h0m-1-7h0m9-1h0m-8-9h0m10-4h0m-11-2h0m1 0h0m8 0h0m2-4h0m-7-1h0m6-4h0m-6-1h0m3 0h0m3-1h0m-8-1h0m2 0h0m0-1h0m1 0h0m-5-1h0m9-3h0m-6-5h0m6 0h0m-6-3h0m5 0h0m-5-5h0m1 0h0m-3-1h0m1 0h0m5-1h0m-3-1h0m13-43h0m6 15h0m-4 15h0m-7 2h0m3 0h0m2 9h0m6 5h0m-10 1h0m5 0h0m-5 7h0m2 4h0m-3 1h0m5 1h0m5 1h0m-1 1h0m2 2h0m-10 8h0m6 0h0m-6 1h0m8 0h0m-6 2h0m1 9h0m4 12h0m0 9h0m-1 22h0m10-25h0m2-6h0m-7-2h0m1-3h0m2-4h0m6-4h0m-3-2h0m-6-1h0m4-1h0m4 0h0m-5-1h0m1 0h0m3-4h0m0-7h0m-7-1h0m9-3h0m-9-1h0m7-2h0m-6-4h0m5-6h0m-4-5h0m-1-8h0m3-2h0m5 0h0m-3-11h0m-1-26h0m28 100h0m0-14h0m0-8h0m0-1h0m-1-4h0m0-2h0m1 0h0m1-2h0m-1-1h0m-1-6h0m2-14h0m1-2h0m-1-41h0m-1-2h0m8 10h0m2 3h0m-3 11h0m2 5h0m0 2h0m1 4h0m0 3h0m-2 1h0m5 5h0m-4 1h0m-1 3h0m2 1h0m-3 9h0m2 3h0m1 0h0m2 2h0m1 0h0m-8 1h0m4 0h0m5 2h0m-7 1h0m3 1h0m-7 2h0m1 2h0m10 0h0m-8 1h0m4 0h0m2 4h0m0 2h0m-6 1h0m5 0h0m-6 3h0m2 1h0m3 3h0m-6 1h0m3 2h0m-1 1h0m5 1h0m1 2h0m-9 3h0m9 4h0m1 3h0m-1 3h0m-2 12h0m9 5h0m2-7h0m1-15h0m3-1h0m-4-5h0m0-10h0m5 0h0m-7-3h0m5-2h0m-5-1h0m4 0h0m1-4h0m-2-4h0m-7-1h0m11 0h0m-3-3h0m-3-1h0m2-2h0m-7-2h0m8-4h0m-5-1h0m4-1h0m3 0h0m-9-2h0m8 0h0m-1-1h0m3-1h0m-8-2h0m4-2h0m0-3h0m1-2h0m0-6h0m-5-2h0m4 0h0m-7-9h0m3-10h0m8-1h0m12 14h0m-11 1h0m4 2h0m3 6h0m-7 4h0m6 0h0m5 3h0m-2 2h0m-9 1h0m0 2h0m9 1h0m1 0h0m-6 1h0m5 4h0m-8 2h0m0 2h0m5 2h0m-1 1h0m2 0h0m-4 1h0m7 2h0m-4 1h0m-5 3h0m7 1h0m-6 1h0m4 0h0m-6 5h0m7 1h0m4 5h0m-7 1h0m3 0h0m2 0h0m-3 1h0m1 3h0m-7 3h0m9 3h0m-9 4h0m7 1h0m-6 12h0m10 7h0m9 0h0m-2-31h0m2 0h0m3-2h0m-8-3h0m-3-2h0m11-1h0m-1-1h0m0-5h0m-2-1h0m0-2h0m-4-1h0m-2-1h0m9 0h0m-3-5h0m1 0h0m0-1h0m1-3h0m-8-2h0m8 0h0m-10-4h0m4 0h0m-4-1h0m10-1h0m-10-2h0m9-1h0m-4-3h0m3-1h0m-2-1h0m1 0h0m3 0h0m-1-1h0m1-2h0m-8-1h0m1 0h0m-1-2h0m9-21h0m0-17h0m5 14h0m-2 22h0m4 3h0m-5 2h0m2 0h0m3 6h0m1 3h0m1 1h0m1 2h0m0 1h0m-9 1h0m11 2h0m-4 1h0m2 0h0m2 0h0m-11 1h0m3 0h0m-3 1h0m9 0h0m2 0h0m-11 1h0m3 3h0m8 1h0m-11 4h0m0 1h0m10 0h0m-2 2h0m2 1h0m0 2h0m-2 2h0m-8 1h0m11 0h0m-9 1h0m8 4h0m-7 2h0m6 12h0m1 2h0m1 2h0m-8 1h0m6 5h0m-7 23h0m14-1h0m1-8h0m-3-11h0m5-17h0m-7-4h0m9-6h0m-8-7h0m0-2h0m2-5h0m3-1h0m-5-1h0m-1-1h0m4-3h0m-2-2h0m3 0h0m1-1h0m1-3h0m-5-4h0m1 0h0m6 0h0m2-2h0m-7-2h0m1 0h0m-1-1h0m-1-2h0m0-5h0m3-2h0m2-5h0m-8-10h0m5-8h0m-2-14h0m16 3h0m-4 22h0m-3 17h0m8 2h0m-4 3h0m0 7h0m-1 3h0m2 2h0m4 0h0m-6 1h0m-1 2h0m7 1h0m-3 1h0m-5 1h0m5 2h0m-4 2h0m1 4h0m3 2h0m3 3h0m-8 6h0m0 7h0m31-85h0m1 22h0m-1 15h0m0 1h0m0 10h0m3 15h0m-1 3h0m1 5h0m-1 1h0m-1 11h0m-1 9h0m1 3h0m2 3h0m0 23h0m11-11h0m-6-20h0m7-8h0m-7-1h0m2 0h0m1-3h0m4 0h0m-1-2h0m-5-5h0m0-3h0m-2-1h0m7 0h0m-6-1h0m2 0h0m-5-1h0m2-2h0m2-2h0m2-2h0m-2-1h0m1 0h0m-1-1h0m-2-1h0m2-1h0m-1-2h0m1-1h0m-3-2h0m2 0h0m0-2h0m-4-3h0m8-3h0m-3-4h0m-2-1h0m4-5h0m1-8h0m-3-1h0m1-1h0m4-6h0m4-6h0m5 4h0m2 5h0m-2 2h0m1 0h0m1 0h0m-9 1h0m9 3h0m-1 2h0m-6 4h0m6 2h0m-1 3h0m-6 1h0m7 1h0m-6 1h0m4 0h0m0 2h0m-6 3h0m10 1h0m-3 2h0m1 1h0m-4 1h0m4 1h0m1 0h0m-3 2h0m-6 1h0m6 0h0m0 1h0m1 0h0m1 0h0m-5 1h0m4 0h0m1 0h0m-4 2h0m6 0h0m-7 1h0m1 1h0m2 0h0m-5 1h0m6 0h0m-1 1h0m3 1h0m-6 2h0m2 0h0m-5 1h0m2 1h0m4 2h0m-4 3h0m3 0h0m1 5h0m3 2h0m-2 6h0m-1 2h0m3 0h0m1 7h0m-9 8h0m1 4h0m6 19h0m12 1h0m-3-3h0m2-10h0m4-11h0m-2-1h0m-3-3h0m2-5h0m3-5h0m-5-7h0m-6-1h0m1-2h0m6-1h0m3 0h0m-9-1h0m0-3h0m7-4h0m2 0h0m-3-3h0m3-1h0m0-1h0m1-1h0m-4-1h0m1-4h0m0-1h0m-7-1h0m10-4h0m-2-1h0m1 0h0m-10-1h0m8-2h0m-2-1h0m5 0h0m0-3h0m-8-2h0m8-4h0m-5-3h0m0-13h0m-6-13h0m11 0h0m-6-1h0m4-1h0m-7-13h0m12 3h0m7 34h0m-5 2h0m-2 2h0m9 2h0m-11 6h0m7 1h0m-6 3h0m2 1h0m5 0h0m-6 1h0m0 2h0m1 1h0m5 0h0m-4 4h0m-2 1h0m8 3h0m-1 1h0m1 1h0m0 1h0m-7 1h0m7 0h0m-2 1h0m-5 1h0m7 0h0m1 0h0m-11 1h0m9 1h0m1 0h0m-7 2h0m0 2h0m7 1h0m-10 5h0m10 0h0m-8 1h0m6 4h0m2 4h0m-1 1h0m-5 10h0m2 6h0m-6 16h0m13 3h0m7-10h0m-2-25h0m-6-4h0m7 0h0m-4-7h0m2-3h0m2-1h0m-7-3h0m3 0h0m-1-4h0m9-1h0m-9-2h0m4 0h0m-3-3h0m0-1h0m6 0h0m-9-1h0m4-1h0m6 0h0m-8-4h0m7 0h0m-6-1h0m5-1h0m-6-1h0m2-1h0m1 0h0m1-1h0m-1-3h0m3 0h0m3 0h0m-9-1h0m2-1h0m2 0h0m3 0h0m-5-6h0m-4-1h0m5-1h0m-5-1h0m4-1h0m1-1h0m2-5h0m-7-8h0m0-2h0m3-2h0m1-21h0m8-4h0m1 7h0m5 11h0m-2 13h0m5 3h0m1 3h0m-9 8h0m7 0h0m1 4h0m-7 2h0m6 0h0m-3 2h0m3 1h0m1 3h0m1 0h0m-2 1h0m-4 5h0m5 0h0m-1 2h0m-3 3h0m5 0h0m-1 2h0m-2 1h0m3 1h0m1 1h0m-10 2h0m7 0h0m3 0h0m-3 4h0m2 1h0m-8 5h0m8 0h0m-4 3h0m-1 1h0m-5 5h0m10 2h0m-2 1h0m-2 2h0m5 0h0m0 12h0m-1 20h0m10-5h0m-6-5h0m-2-28h0m5-2h0m1-3h0m-5-3h0m-1-2h0m6-1h0m2 0h0m-1-1h0m-6-2h0m6 0h0m-6-1h0m5 0h0m0-1h0m2-2h0m0-1h0m-1-1h0m-5-4h0m2-2h0m4-3h0m-7-4h0m6-1h0m-1-1h0m2 0h0m-7-2h0m4 0h0m-3-1h0m4 0h0m-4-1h0m-1-1h0m6 0h0m-5-1h0m3-1h0m-4-7h0m6-3h0m-7-11h0m5-2h0m-5-12h0m5 0h0m30 115h0m-1-35h0m1-5h0m-3-9h0m3-1h0m-4-2h0m2 0h0m0-2h0m-1-8h0m2-1h0m0-6h0m1 0h0m-2-1h0m0-3h0m2 0h0m-2-8h0m-2-3h0m2-4h0m2-28h0m-2-4h0m3-1h0m8 11h0m3 0h0m-11 5h0m8 1h0m0 1h0m2 14h0m-7 3h0m-3 1h0m6 0h0m-1 1h0m-4 1h0m7 0h0m0 1h0m0 4h0m3 1h0m-2 1h0m-3 1h0m1 1h0m4 1h0m-7 1h0m3 0h0m-6 1h0m-1 1h0m8 0h0m2 4h0m-8 2h0m-1 1h0m8 0h0m-9 1h0m10 0h0m-8 1h0m2 0h0m6 0h0m-3 1h0m0 2h0m0 1h0m-5 2h0m8 0h0m-10 8h0m2 0h0m1 2h0m6 1h0m-2 1h0m3 27h0m-3 9h0m3 2h0m-7 2h0m13 5h0m4-4h0m-8-15h0m6-6h0m5-6h0m-3-5h0m-3-6h0m6-2h0m-1-3h0m-9-1h0m2 0h0m4 0h0m4 0h0m-3-2h0m2 0h0m-9-1h0m2-1h0m-3-5h0m11 0h0m-8-1h0m1 0h0m1 0h0m6 0h0m-10-1h0m6-2h0m3-1h0m-8-3h0m-2-2h0m11 0h0m-9-4h0m9 0h0m-7-1h0m2 0h0m3-1h0m-7-4h0m2 0h0m-4-2h0m5-1h0m4-1h0m-9-3h0m9-2h0m2-3h0m0-1h0m-4-5h0m4-4h0m-5-1h0m5-2h0m-3-2h0m-3-24h0m2-5h0m1 0h0m4 13h0m11 5h0m-5 9h0m-6 5h0m10 0h0m1 2h0m-9 1h0m9 1h0m-11 3h0m6 1h0m4 0h0m1 0h0m-11 2h0m5 2h0m5 0h0m0 3h0m1 3h0m-7 1h0m1 0h0m5 3h0m-5 1h0m2 1h0m2 1h0m-7 1h0m2 0h0m5 0h0m2 2h0m-1 1h0m1 1h0m-8 2h0m2 1h0m6 1h0m-11 3h0m9 0h0m-8 1h0m0 1h0m6 0h0m0 1h0m-6 1h0m4 0h0m-4 1h0m-1 2h0m1 0h0m9 1h0m-10 1h0m5 0h0m6 0h0m-11 1h0m11 0h0m-9 2h0m4 0h0m5 0h0m-6 3h0m-5 1h0m4 1h0m1 1h0m-3 1h0m4 0h0m5 2h0m-10 1h0m4 1h0m-3 1h0m5 0h0m-7 2h0m6 0h0m3 19h0m-7 3h0m2 1h0m1 13h0m7-15h0m10-6h0m-7-4h0m2 0h0m5-8h0m-10-9h0m0-1h0m2-3h0m9 0h0m-9-1h0m1-1h0m-2-1h0m1-2h0m-1-1h0m2 0h0m3-2h0m-2-2h0m0-2h0m3 0h0m3-4h0m-7-1h0m-2-2h0m1-3h0m5 0h0m-1-1h0m-5-1h0m2 0h0m7 0h0m0-2h0m-5-5h0m-4-2h0m9 0h0m1-1h0m-8-1h0m-1-1h0m-2-5h0m11 0h0m-7-2h0m-4-1h0m22-30h0m-10 18h0m7 3h0m-3 4h0m1 12h0m6 1h0m-5 1h0m1 0h0m-2 1h0m2 0h0m-6 4h0m5 0h0m1 3h0m-1 4h0m1 2h0m3 2h0m-2 1h0m1 0h0m-4 2h0m3 0h0m-7 2h0m10 2h0m-5 1h0m1 0h0m-4 1h0m5 0h0m0 4h0m3 0h0m-3 2h0m2 0h0m-4 1h0m-6 1h0m4 2h0m1 4h0m-1 2h0m7 7h0m-4 6h0m-2 8h0m0 6h0m2 0h0m4 8h0m2 0h0m1-16h0m0-3h0m-2-12h0m2-1h0m7 0h0m-4-1h0m-4-6h0m0-1h0m1 0h0m-1-9h0m5 0h0m-5-1h0m-1-5h0m1-1h0m5-5h0m-6-1h0m10 0h0m-4-4h0m-1-2h0m2 0h0m-7-4h0m7-1h0m4-1h0m-11-2h0m4-2h0m6-4h0m-10-3h0m2-4h0m0-18h0m1-10h0m9 2h0m4 6h0m-4 1h0m5 9h0m3 6h0m-5 2h0m1 1h0m-2 1h0m1 2h0m4 0h0m-3 8h0m0 1h0m0 1h0m0 1h0m1 1h0m2 0h0m-1 1h0m-1 3h0m1 1h0m2 7h0m0 2h0m-7 1h0m4 0h0m-2 2h0m-2 1h0m3 2h0m0 1h0m2 1h0m1 1h0m-5 2h0m1 0h0m4 1h0m-5 2h0m0 5h0m5 10h0m-7 9h0m4 1h0m-1 25h0m29-121h0m1 16h0m1 4h0m-3 2h0m3 12h0m0 11h0m0 2h0m0 3h0m-1 1h0m0 2h0m1 0h0m-3 2h0m-1 2h0m2 3h0m1 5h0m-2 2h0m4 1h0m-2 5h0m-1 2h0m-1 1h0m3 1h0m13 13h0m0-2h0m-9-12h0m5-2h0m-3-2h0m5-2h0m-2-3h0m0-1h0m-7-2h0m10-2h0m0-1h0m-2-1h0m2 0h0m-7-3h0m7 0h0m0-3h0m-8-3h0m4-1h0m-2-3h0m5-4h0m2 0h0m-3-7h0m-2-4h0m15-42h0m1 15h0m-3 28h0m0 2h0m1 2h0m-3 2h0m2 0h0m4 1h0m-3 2h0m-4 1h0m3 4h0m1 4h0m2 0h0m-9 5h0m7 2h0m-6 3h0m9 1h0m-3 2h0m-2 6h0m2 0h0m-1 1h0m-1 2h0m3 0h0m-9 2h0m2 1h0m5 2h0m-7 3h0m6 2h0m2 4h0m-1 2h0m15 29h0m-8-15h0m0-16h0m-1-4h0m1-1h0m8-1h0m-1-2h0m-3-3h0m-6-3h0m1-1h0m9-6h0m-8-3h0m2-3h0m-1-2h0m-1-4h0m5 0h0m3 0h0m-9-3h0m1-3h0m0-7h0m0-13h0m9-6h0m-9-1h0m0-9h0m-2-6h0m12 16h0m3 18h0m8 0h0m-5 5h0m3 0h0m1 2h0m-4 1h0m-5 1h0m3 0h0m-2 1h0m2 1h0m6 2h0m-4 1h0m-4 1h0m9 2h0m-6 1h0m-2 1h0m7 0h0m-1 2h0m-3 1h0m2 0h0m-8 2h0m2 0h0m2 0h0m1 7h0m4 0h0m-3 2h0m3 10h0m-5 4h0m1 21h0m1 2h0m11-21h0m-5-8h0m9-2h0m1-2h0m-2-7h0m2-2h0m-1-3h0m1-3h0m-1-2h0m1 0h0m-10-1h0m2-1h0m8 0h0m1 0h0m-11-1h0m4-1h0m3-9h0m-5-2h0m-1-2h0m0-5h0m0-5h0m-1-19h0m10 0h0m5-6h0m2 9h0m1 26h0m-3 1h0m0 1h0m1 3h0m-3 1h0m9 2h0m-10 2h0m6 0h0m2 2h0m3 0h0m-8 1h0m-3 5h0m2 0h0m5 1h0m-4 1h0m0 1h0m-3 2h0m5 0h0m3 0h0m-2 1h0m-4 2h0m4 0h0m-2 3h0m-1 4h0m2 0h0m-5 3h0m4 9h0m-2 15h0m1 2h0m13-15h0m-2-1h0m2-10h0m-1-12h0m-2-3h0m4 0h0m-1-10h0m3-5h0m0-1h0m-6-1h0m4 0h0m2-2h0m-3-1h0m2 0h0m1-5h0m-1-16h0m29 96h0m-3-17h0m0-5h0m0-25h0m1 0h0m2-3h0m-5-1h0m4-1h0m0-4h0m1-2h0m-3-6h0m-1-1h0m0-1h0m-1-7h0m0-12h0m6-26h0m11 1h0m-1 27h0m-9 1h0m-1 3h0m1 0h0m9 0h0m-9 1h0m2 8h0m4 0h0m2 0h0m1 1h0m0 4h0m-6 3h0m3 3h0m-6 1h0m2 0h0m5 3h0m-8 1h0m8 5h0m1 1h0m-4 3h0m6 2h0m-1 1h0m-9 1h0m3 2h0m7 4h0m-11 4h0m13 27h0m2-13h0m-2-12h0m1-1h0m1-5h0m-1-3h0m-2-6h0m2-2h0m0-4h0m-1-4h0m1-1h0m-1-4h0m1-2h0m-2-6h0m2-1h0m0-9h0m-1-7h0m2-1h0m-1-26h0m18-5h0m2 8h0m-2 23h0m2 0h0m0 1h0m1 4h0m-1 3h0m1 0h0m-3 3h0m3 1h0m-1 1h0m-1 16h0m2 2h0m-3 2h0m1 0h0m1 4h0m0 4h0m1 3h0m-1 4h0m-2 27h0m6 12h0m0-4h0m0-9h0m8-19h0m-2-1h0m-7-5h0m2-3h0m-1-4h0m5-2h0m-7-2h0m11-2h0m-6-4h0m-3-1h0m4-2h0m-5-7h0m1-3h0m7-1h0m-9-1h0m9-1h0m-2-1h0m2-5h0m-7-2h0m6 0h0m-7-2h0m1 0h0m6 0h0m0-4h0m-1-3h0m-1-6h0m-2-12h0m3-2h0m-4-5h0m7 0h0m1 0h0m-11-17h0m1-1h0m16 16h0m0 1h0m-3 15h0m1 1h0m8 2h0m-10 2h0m-1 3h0m7 2h0m1 3h0m-3 2h0m-2 2h0m1 2h0m-2 1h0m3 0h0m-1 1h0m-2 2h0m7 0h0m-5 3h0m6 0h0m-8 1h0m3 1h0m-4 2h0m2 0h0m-1 1h0m2 2h0m4 3h0m1 0h0m-6 1h0m1 0h0m-2 1h0m9 1h0m-9 2h0m1 1h0m4 2h0m1 3h0m-1 1h0m-2 1h0m5 0h0m-10 1h0m10 1h0m-7 6h0m2 0h0m6 0h0m-11 2h0m6 0h0m-4 1h0m8 0h0m-9 2h0m7 1h0m-3 7h0m4 3h0m-6 1h0m1 7h0m4 9h0m6-15h0m7-2h0m-8-5h0m10-1h0m-6-12h0m-1-1h0m4-1h0m-8-2h0m2-1h0m8 0h0m-9-2h0m1 0h0m8-4h0m-2-1h0m-2-1h0m3-1h0m-8-3h0m6-4h0m3 0h0m-7-3h0m1-1h0m6 0h0m-8-6h0m7 0h0m2 0h0m-10-1h0m-1-2h0m1-3h0m3-1h0m-3-1h0m5-2h0m2-6h0m-8-3h0m4-2h0m6-20h0m0-4h0m-9-7h0m12 41h0m5 14h0m-4 4h0m0 8h0m-1 5h0m0 3h0m2 1h0m3 2h0m-2 4h0m-3 3h0m0 10h0m2 5h0m-3 1h0m6 1h0m27-73h0m-1 12h0m1 2h0m-1 8h0m1 1h0m2 1h0m0 1h0m0 1h0m-4 1h0m4 2h0m-1 11h0m1 0h0m-3 1h0m1 0h0m1 5h0m-2 1h0m3 0h0m0 7h0m-3 6h0m-1 3h0m4 0h0m-4 13h0m-1 23h0m3 2h0m6 2h0m4-13h0m-1-1h0m1-21h0m-7-6h0m5 0h0m-5-1h0m9-3h0m-3-3h0m-4-1h0m-2-2h0m4 0h0m7 0h0m-6-1h0m3-2h0m1 0h0m-2-3h0m-7-1h0m2-1h0m8 0h0m-1-1h0m2 0h0m-5-1h0m3 0h0m-8-2h0m7-1h0m3 0h0m-8-2h0m0-3h0m7-2h0m0-1h0m-9-2h0m4 0h0m2-2h0m0-2h0m0-2h0m-6-3h0m6-7h0m-1-1h0m-1-4h0m-3-1h0m4-2h0m3-1h0m-2-7h0m2-4h0m-7-6h0m5-11h0m-3-1h0m9 12h0m-1 2h0m4 7h0m5 7h0m-9 9h0m8 0h0m-7 2h0m-1 3h0m7 0h0m2 1h0m-3 3h0m0 2h0m1 1h0m1 0h0m-8 1h0m7 0h0m-4 2h0m5 1h0m-7 1h0m-1 1h0m7 0h0m-6 2h0m2 0h0m5 0h0m1 0h0m-7 1h0m-2 1h0m1 0h0m7 1h0m-7 1h0m1 0h0m3 0h0m4 0h0m-2 1h0m-6 2h0m8 0h0m-8 1h0m7 0h0m-1 1h0m0 1h0m-6 1h0m8 0h0m0 1h0m-7 1h0m1 6h0m1 2h0m-3 1h0m7 0h0m-2 1h0m2 0h0m1 2h0m0 3h0m-4 5h0m-3 6h0m0 8h0m19 23h0m-2-7h0m-7-22h0m4-14h0m4 0h0m-4-3h0m3 0h0m1-4h0m0-4h0m-1-1h0m3 0h0m-1-1h0m-9-2h0m9-1h0m-5-2h0m5 0h0m2-1h0m-1-2h0m-7-1h0m7 0h0m1 0h0m-4-1h0m-1-2h0m-4-2h0m6 0h0m-2-2h0m1-3h0m3-2h0m1 0h0m-3-2h0m1 0h0m-3-1h0m5-1h0m-1-2h0m-3-5h0m1-3h0m1 0h0m-9-4h0m9-3h0m-6-1h0m6 0h0m8-22h0m4 10h0m-3 6h0m-3 7h0m4 1h0m3 7h0m-1 1h0m-2 1h0m-1 3h0m3 0h0m-2 2h0m0 1h0m-3 2h0m3 0h0m-4 3h0m-2 1h0m9 0h0m-4 2h0m-5 1h0m9 0h0m-9 1h0m9 2h0m-1 1h0m-5 1h0m2 0h0m1 2h0m-3 2h0m-3 1h0m0 1h0m1 1h0m-2 3h0m0 1h0m4 0h0m1 0h0m-4 2h0m7 0h0m-6 1h0m1 1h0m2 0h0m1 2h0m2 1h0m2 2h0m-5 1h0m6 6h0m-11 4h0m2 0h0m2 1h0m4 6h0m-8 1h0m10 1h0m0 1h0m-4 2h0m-5 17h0m13-32h0m9-10h0m-1-3h0m-1-2h0m-1-4h0m-6-1h0m2 0h0m2-3h0m1 0h0m4 0h0m-9-2h0m1 0h0m6 0h0m-6-1h0m8-3h0m-9-3h0m-1-1h0m9-3h0m-9-1h0m7-1h0m-6-2h0m5-5h0m4-3h0m-2-1h0m2-9h0m-1-4h0m1-10h0m-7-1h0m0-4h0m5-4h0m-3-3h0m5-1h0m-2-5h0m4 17h0m4 2h0m2 6h0m-7 1h0m2 0h0m5 7h0m4 8h0m-6 1h0m-4 1h0m4 7h0m-1 2h0m-1 1h0m5 0h0m-2 2h0m-6 10h0m10 0h0m-10 3h0m2 0h0m-2 1h0m9 8h0m-9 2h0m0 1h0m3 9h0m3 26h0m7 1h0m0-17h0m3-6h0m0-5h0m-3-3h0m2-4h0m1-1h0m-1-2h0m0-2h0m1-2h0m-3-2h0m3-1h0m-1-1h0m0-4h0m-2-6h0m2-3h0m0-3h0m0-6h0m3-15h0m-5-14h0m3-12h0m25 114h0m2-23h0m2 0h0m-3-15h0m2-4h0m1 0h0m-1-3h0m2-3h0m-4-1h0m0-1h0m2-2h0m2-3h0m-6-4h0m3 0h0m2-5h0m2 0h0m0-2h0m-3-1h0m3-2h0m-6-1h0m3-1h0m3 0h0m-2-3h0m2 0h0m-3-1h0m-1-2h0m0-1h0m3-2h0m-4-23h0m5-9h0m-5-10h0m14 7h0m1 8h0m-8 10h0m7 4h0m-2 6h0m3 7h0m-1 2h0m-3 4h0m2 0h0m-7 2h0m5 0h0m2 0h0m4 1h0m-2 1h0m0 2h0m0 1h0m-4 1h0m-1 1h0m4 1h0m1 0h0m1 1h0m-8 2h0m3 1h0m1 0h0m3 0h0m0 1h0m1 0h0m1 0h0m-11 1h0m10 1h0m-5 1h0m4 0h0m2 0h0m-5 1h0m1 1h0m-6 1h0m0 7h0m2 0h0m2 0h0m3 1h0m-8 1h0m1 0h0m5 0h0m-5 1h0m6 4h0m2 2h0m-1 3h0m-1 2h0m-5 1h0m-2 2h0m0 1h0m9 20h0m-1 8h0m4-10h0m0-1h0m0-18h0m4 0h0m-4-2h0m0-2h0m1 0h0m8 0h0m-6-2h0m0-2h0m-3-1h0m5-1h0m-1-2h0m4 0h0m-8-2h0m1 0h0m8 0h0m2 0h0m-10-4h0m8 0h0m-7-5h0m2-1h0m6 0h0m-5-2h0m5 0h0m-10-3h0m5 0h0m4-1h0m2 0h0m-11-1h0m10-3h0m-8-1h0m3 0h0m3-2h0m2 0h0m-6-3h0m-4-1h0m1 0h0m9 0h0m-2-1h0m-7-1h0m7 0h0m1-1h0m-3-1h0m1-1h0m-7-2h0m9 0h0m-5-1h0m7-1h0m-8-6h0m3-8h0m5-3h0m-11-30h0m19 14h0m2 17h0m-2 5h0m4 7h0m-5 1h0m-5 1h0m5 1h0m5 1h0m-10 3h0m1 1h0m3 0h0m-3 1h0m4 0h0m1 4h0m-5 4h0m9 0h0m-11 1h0m2 0h0m7 1h0m1 1h0m-8 1h0m9 0h0m-8 2h0m8 2h0m-11 3h0m10 2h0m-7 3h0m1 0h0m-3 1h0m5 0h0m-5 1h0m4 0h0m0 1h0m-4 3h0m0 3h0m2 0h0m2 0h0m3 4h0m-3 1h0m-4 5h0m5 1h0m4 8h0m-4 7h0m7 9h0m0-8h0m9-4h0m1-4h0m-7-7h0m6-1h0m-2-2h0m1 0h0m-8-1h0m9-4h0m-9-1h0m10 0h0m-2-1h0m-4-7h0m-4-4h0m8 0h0m-5-1h0m4 0h0m-6-7h0m4 0h0m-5-3h0m1-1h0m-2-1h0m11-3h0m-1-7h0m-10-3h0m8-1h0m-7-4h0m0-4h0m0-1h0m8-6h0m-5-4h0m6 0h0m0-10h0m-10-3h0m1-2h0m4-1h0m9-2h0m5 1h0m-2 1h0m0 11h0m6 2h0m0 2h0m-9 3h0m2 4h0m4 4h0m-7 1h0m1 0h0m0 1h0m3 0h0m-2 1h0m7 1h0m-8 5h0m8 0h0m-9 2h0m9 0h0m-8 1h0m0 3h0m2 0h0m5 0h0m-7 1h0m8 0h0m-7 1h0m0 2h0m1 3h0m2 3h0m2 0h0m1 1h0m2 0h0m-11 4h0m3 0h0m-3 1h0m6 0h0m-2 2h0m0 1h0m6 0h0m-9 2h0m2 2h0m4 0h0m-2 1h0m-5 2h0m8 1h0m-1 1h0m-6 1h0m3 5h0m0 3h0m6 0h0m-4 6h0m1 4h0m0 1h0m1 1h0m-6 6h0m5 9h0m3 0h0m1 7h0m-10 7h0m12-7h0m10-16h0m-10-4h0m2-9h0m4-3h0m-2-2h0m6 0h0m-7-4h0m-4-2h0m3 0h0m-2-3h0m1-1h0m5 0h0m2 0h0m2 0h0m-2-3h0m2-1h0m-6-1h0m5-6h0m-2-1h0m-5-3h0m1 0h0m6 0h0m-5-2h0m2-2h0m-6-3h0m1-2h0m1-2h0m-2-1h0m2-3h0m-2-3h0m8 0h0m-5-1h0m1 0h0m4-3h0m1 0h0m1 0h0m-11-2h0m3-1h0m0-15h0m0-4h0m0-13h0m4-5h0m6 12h0m-1 12h0m2 22h0m-1 1h0m2 0h0m-1 16h0m-1 5h0m2 11h0m-2 2h0m2 2h0m-2 1h0m1 3h0m0 15h0m2 19h0m27-119h0m-3 9h0m2 20h0m1 10h0m-2 1h0m1 0h0m-2 1h0m5 0h0m-4 1h0m-1 3h0m1 1h0m6 0h0m-1 3h0m-3 1h0m2 0h0m2 1h0m-6 2h0m6 1h0m-5 2h0m4 2h0m1 0h0m-2 2h0m1 0h0m-1 4h0m-3 1h0m0 1h0m4 1h0m-5 2h0m5 2h0m-1 2h0m-5 1h0m2 1h0m2 3h0m3 1h0m-7 1h0m6 0h0m-2 3h0m3 0h0m-3 3h0m-3 6h0m3 0h0m3 10h0m-5 4h0m1 9h0m7 11h0m2-37h0m0-1h0m0-8h0m0-1h0m2-1h0m-1-2h0m-5-7h0m0-6h0m0-1h0m1 0h0m2 0h0m-3-4h0m4-4h0m3 0h0m2 0h0m-8-1h0m0-1h0m4 0h0m6-3h0m-11-2h0m4-1h0m5-3h0m0-1h0m-5-1h0m-1-3h0m-3-2h0m5-34h0m9-3h0m8 23h0m-8 2h0m-2 2h0m8 3h0m-4 3h0m0 3h0m4 0h0m-8 1h0m6 2h0m0 2h0m-4 1h0m-1 3h0m1 1h0m-1 1h0m3 0h0m1 3h0m4 0h0m-3 3h0m3 0h0m-7 1h0m7 0h0m1 0h0m1 2h0m0 1h0m-9 2h0m1 2h0m5 1h0m-2 3h0m-2 2h0m-2 1h0m4 0h0m-5 1h0m1 0h0m2 0h0m4 1h0m-7 1h0m0 1h0m1 0h0m-1 2h0m4 2h0m4 0h0m-4 2h0m0 1h0m4 0h0m-6 1h0m6 0h0m-1 1h0m-8 6h0m3 4h0m7 0h0m-10 10h0m7 8h0m-5 6h0m0 15h0m10-17h0m11-18h0m-2-1h0m-2-2h0m-3-4h0m0-2h0m-4-5h0m7 0h0m4-1h0m-1-3h0m-5-1h0m-1-3h0m1 0h0m-2-1h0m3 0h0m-2-2h0m4-1h0m2-4h0m-5-1h0m4 0h0m-6-1h0m2 0h0m5 0h0m1 0h0m-10-1h0m4-3h0m-3-3h0m5-4h0m1-1h0m1-3h0m-2-1h0m2 0h0m-4-1h0m-5-1h0m4 0h0m2 0h0m-6-2h0m8 0h0m-2-1h0m-4-1h0m1-1h0m3-2h0m4 0h0m-9-1h0m9 0h0m-8-3h0m1 0h0m-2-1h0m-1-12h0m0-6h0m3-1h0m16-16h0m4 17h0m-8 19h0m-2 2h0m2 0h0m1 0h0m-2 3h0m7 0h0m-6 1h0m1 3h0m5 2h0m0 2h0m-3 4h0m0 1h0m-2 1h0m-4 1h0m6 2h0m-2 2h0m7 1h0m0 1h0m-7 2h0m-1 4h0m7 0h0m1 1h0m-9 2h0m9 1h0m-4 1h0m-4 1h0m5 1h0m-7 1h0m3 3h0m-3 2h0m1 0h0m7 0h0m1 0h0m-4 1h0m-5 2h0m0 2h0m7 0h0m-1 3h0m-1 3h0m0 1h0m4 4h0m-9 5h0m0 4h0m3 0h0m3 0h0m-6 1h0m3 5h0m-3 8h0m8 4h0m-3 4h0m12-17h0m1-6h0m3-3h0m-9-3h0m7-1h0m-1-8h0m2-7h0m-4-1h0m3 0h0m1 0h0m-2-5h0m2-2h0m-4-3h0m-2-1h0m7 0h0m-8-1h0m2-1h0m-3-3h0m8 0h0m-9-2h0m5 0h0m3-3h0m-3-1h0m6 0h0m-10-2h0m7-1h0m1 0h0m-9-2h0m6-2h0m5-2h0m-7-2h0m7-2h0m-10-2h0m10 0h0m-11-2h0m8-5h0m3-1h0m-9-1h0m0-5h0m8-4h0m-4-8h0m7-21h0m4 2h0m-5 2h0m0 6h0m1 1h0m0 12h0m4 3h0m-2 3h0m0 3h0m-3 3h0m2 5h0m1 0h0m-1 1h0m5 0h0m3 1h0m1 2h0m-8 1h0m2 0h0m-1 3h0m0 7h0m1 0h0m6 1h0m-9 1h0m-2 1h0m3 0h0m2 0h0m2 0h0m4 0h0m-6 1h0m-4 1h0m8 0h0m-9 2h0m9 2h0m-2 2h0m-7 1h0m5 0h0m2 0h0m-3 1h0m4 0h0m1 0h0m-9 1h0m7 0h0m1 0h0m-1 1h0m4 0h0m-8 2h0m-3 2h0m0 2h0m1 0h0m4 3h0m5 0h0m-3 3h0m-5 1h0m3 1h0m0 3h0m5 0h0m-6 1h0m-3 1h0m2 3h0m8 0h0m0 1h0m-5 26h0m7-2h0m4-4h0m0-18h0m-3-3h0m2-6h0m-2-2h0m-2-2h0m3-1h0m-2-6h0m-1-2h0m3-2h0m-3-1h0m4-2h0m-4-1h0m0-1h0m0-4h0m2 0h0m0-7h0m-2-8h0m5-2h0m-5-14h0m2-1h0m-2-1h0m2-23h0"/>
<path transform="scale(.5)" fill="none" stroke="#D9423A" stroke-width="5.6" stroke-linecap="round" d="M1967 3540h0m1 0h0m5 0h0m-5 1h0m1 1h0m5 0h0m3 0h0m-9 1h0m2 1h0m-2 2h0m0 144h0m2 15h0m2 0h0m6 0h0m8 0h0m2 0h0m1 0h0m-3-3h0m-2-9h0m0-2h0m-4-131h0m1-13h0m-1-2h0m2-3h0m9-1h0m-8-1h0m5 0h0m4 0h0m2 0h0m2 0h0m2 0h0m1 0h0m-4 1h0m4 4h0m-2 1h0m-1 147h0m-4 2h0m0 1h0m1 6h0m1 0h0m3 0h0m-4 3h0m3 0h0m4 0h0m1 0h0m2 0h0m1 0h0m10 0h0m1 0h0m-1-8h0m-10-157h0m9 0h0m4 0h0m1 0h0m3 0h0m1 0h0m4 0h0m-7 2h0m5 2h0m-1 138h0m-7 17h0m8 1h0m-8 3h0m7 0h0m-7 2h0m1 0h0m9 0h0m2 0h0m5 0h0m1 0h0m-1-2h0m4 0h0m-5-2h0m3 0h0m-5-1h0m5-1h0m-1-1h0m1-2h0m-2-1h0m-3-1h0m3-147h0m6 0h0m-9-7h0m3 0h0m4 0h0m3 0h0m4 0h0m2 0h0m5 1h0m-4 3h0m2 0h0m1 2h0m1 143h0m-10 9h0m9 0h0m-3 1h0m2 0h0m-1 1h0m-8 4h0m0 1h0m2 0h0m1 0h0m3 0h0m2 0h0m4-158h0m24 158h0m1 0h0m4 0h0m2 0h0m1 0h0m-7-2h0m10-9h0m-11-151h0m2-1h0m0-1h0m-1-1h0m10 0h0m1 1h0m7 0h0m-6 8h0m10 151h0m-8 2h0m5 1h0m-8 2h0m7 0h0m1 0h0m3 0h0m1 0h0m4 0h0m1 0h0m3 0h0m-8-2h0m1 0h0m8 0h0m-7-1h0m0-1h0m0-4h0m-1-141h0m4-6h0m5-6h0m1 0h0m-1-1h0m1 0h0m-9-3h0m2 0h0m4 0h0m2 0h0m5 0h0m7 0h0m0 1h0m-10 5h0m2 12h0m-1 140h0m2 4h0m-2 1h0m0 2h0m2 0h0m7 0h0m3 0h0m1 0h0m2 0h0m6 0h0m1 0h0m-9-2h0m-1-13h0m9-139h0m1-5h0m-9-3h0m8-3h0m3 0h0m1 0h0m3 0h0m6 4h0m-1 7h0m-1 141h0m-3 5h0m-6 5h0m5 0h0m-5 1h0m5 0h0m3 2h0m4 0h0m1 0h0m4-2h0m-1-5h0m-4-146h0m1-3h0m8-3h0m-3-6h0m4 0h0m1 0h0m26 3h0m5 147h0m-5 5h0m6 9h0m-6 1h0m7 0h0m1 0h0m1 0h0m3 0h0m9 0h0m-1-3h0m-6-3h0m1-1h0m-4-2h0m2-2h0m-2-148h0m1 0h0m0-2h0m-1-4h0m1 0h0m3 0h0m13 0h0m2 0h0m-3 1h0m5 1h0m-7 2h0m8 154h0m-6 5h0m5 2h0m11-3h0m1-1h0m-3-4h0m9-157h0m2 0h0m-2 2h0m3 4h0m-5 144h0m6 3h0m4 3h0m-2 4h0m-7 1h0m4 2h0m1 2h0m4 0h0m3 0h0m2 0h0m3 0h0m1 0h0m1-4h0m-6-3h0m7-3h0m-4-4h0m-2-146h0m7-3h0m-7-2h0m5 0h0m12 0h0m-6 152h0m1 4h0m3 7h0m-2 1h0m1 1h0m1 0h0m29 0h0m9 0h0m2-2h0m-11-3h0m2-1h0m8-153h0m-4-6h0m4 0h0m6 0h0m5 0h0m2 4h0m0 1h0m-6 7h0m6 138h0m-2 7h0m-2 8h0m1 0h0m1 0h0m4 0h0m1 0h0m9-160h0m-9-5h0m11 0h0m3 0h0m2 0h0m5 0h0m-1 7h0m-4 2h0m1 145h0m-5 10h0m-1 1h0m4 0h0m5 0h0m2 0h0m4 0h0m6 0h0m1 0h0m-4-161h0m12-4h0m3 0h0m1 0h0m-11 3h0m1 5h0m7 6h0m-7 142h0m2 4h0m-2 5h0m3 0h0m3 0h0m3 0h0m6 0h0m1 0h0m-1-2h0m-4-4h0m32 5h0m2 0h0m0-160h0m-2-2h0m7-2h0m4 0h0m4 0h0m0 2h0m-8 8h0m7 0h0m-10 1h0m2 147h0m-2 7h0m6 0h0m7 0h0m5 0h0m5 0h0m-9-3h0m6 0h0m3-1h0m-9-8h0m5-150h0m-2-1h0m-3-2h0m6 0h0m1 0h0m3 0h0m2 0h0m3 7h0m5 144h0m-4 5h0m1 6h0m-6 3h0m2 0h0m3 0h0m3 0h0m12 0h0m1-9h0m-8-156h0m4 0h0m11 0h0m6 0h0m-1 2h0m-2 3h0m-7 1h0m-1 1h0m3 4h0m4 150h0m2 4h0m4 0h0m1 0h0m1 0h0m5-3h0m-3-1h0m-5-1h0m4-158h0m-4-1h0m2-1h0m2 0h0m7 0h0m2 0h0m3 154h0m3 9h0m-5 2h0m6 0h0m23-162h0m4 152h0m1 10h0m3 0h0m1 0h0m1 0h0m2 0h0m1 0h0m2 0h0m1 0h0m-7-2h0m1-2h0m0-3h0m-1-1h0m1-157h0m10 0h0m2 0h0m4 0h0m-8 14h0m7 141h0m-4 3h0m3 5h0m-3 1h0m7 0h0m-7 1h0m1 0h0m2 0h0m1 0h0m4 0h0m6 0h0m4-2h0m0-9h0m-4-4h0m1-138h0m4-11h0m-6-1h0m4 0h0m5 0h0m5 0h0m2 0h0m0 6h0m1 0h0m-10 152h0m11 4h0m-9 2h0m-1 1h0m2 0h0m9 0h0m1 0h0m1 0h0m1 0h0m3 0h0m1 0h0m-4-5h0m-3-6h0m7-2h0m-1-142h0m1-3h0m-3-4h0m4-1h0m-1-2h0m2 0h0m8 0h0m3 0h0m2 0h0m-9 161h0m1 2h0m2 2h0m3 0h0m5 0h0m1 0h0m1 0h0m0-2h0m-1-3h0m4-158h0m-1-1h0m-2-1h0m5 0h0m24 165h0m1 0h0m3 0h0m-3-4h0m0-159h0m10-2h0m5 0h0m-8 4h0m5 1h0m-1 153h0m-7 7h0m4 0h0m4 0h0m3 0h0m10 0h0m-7-6h0m-1-1h0m1-138h0m-1-9h0m10-8h0m-7-1h0m-2-2h0m2 0h0m1 0h0m3 0h0m2 0h0m3 0h0m5 0h0m1 0h0m-7 1h0m0 1h0m0 1h0m7 3h0m-3 151h0m-3 1h0m7 1h0m-7 2h0m7 0h0m-6 1h0m4 2h0m2 0h0m-8 1h0m3 0h0m6 0h0m14 0h0m-6-3h0m-4-4h0m0-3h0m1-151h0m-2-4h0m1 0h0m3 0h0m12 0h0m1 0h0m2 0h0m4 0h0m-5 4h0m3 1h0m-5 8h0m-2 131h0m6 13h0m-2 2h0m4 0h0m-2 2h0m-5 2h0m8 0h0m-9 1h0m6 0h0m-7 1h0m6 0h0m5 0h0m1 0h0m6 0h0m1 0h0m-6-2h0m-1-2h0m1 0h0m0-161h0m9 0h0m8 0h0m-7 3h0m2 1h0m1 0h0m-1 150h0m1 0h0m-2 11h0m6 0h0m26-165h0m-1 1h0m0 154h0m3 7h0m-4 3h0m3 0h0m2 0h0m6 0h0m1-2h0m-1-159h0m11 0h0m4 153h0m-8 4h0m3 4h0m6 0h0m3 0h0m10 0h0m-11-2h0m7-1h0m-2-3h0m1-1h0m1-149h0m-4-9h0m11 0h0m2 0h0m2 0h0m-4 158h0m9 6h0m-6 1h0m7 0h0m2 0h0m8-2h0m-5-2h0m5-5h0m-5-150h0m6-2h0m-1-1h0m-10-3h0m17 1h0m-2 159h0m2 5h0m9 0h0m3 0h0m0-165h0m30 7h0m-5-1h0m4-2h0m12-4h0m-2 10h0m-1 147h0m2 7h0m4-4h0m-1-160h0m22 0h0m1 0h0m0 2h0m-1 2h0m0 159h0m1 2h0m3-1h0m0-7h0m1-151h0m2 0h0m3-3h0m2-3h0m5 0h0m5 0h0m-1 2h0m3 4h0m1 155h0m-7 1h0m-3 3h0m1 0h0m10 0h0m1 0h0m1 0h0m8-2h0m-9-150h0m7-5h0m-1-8h0m3 0h0m5 3h0m-3 157h0m3 5h0m1 0h0m26-165h0m4 0h0m-1 8h0m0 2h0m-1 155h0m12-2h0m-7-4h0m7 0h0m3-156h0m-4-3h0m12 0h0m1 0h0m-7 7h0m7 147h0m-3 3h0m-3 2h0m6 2h0m-3 1h0m2 0h0m2 0h0m-1 2h0m7 1h0m5 0h0m1 0h0m2 0h0m-3-2h0m2-1h0m-4-3h0m2-5h0m-2-11h0m3-135h0m-1-8h0m1 0h0m4 0h0m1 6h0m3 2h0m0 4h0m0 150h0m-4 3h0m1 0h0m4 0h0m1 0h0m2 0h0m1 0h0m6 0h0m1 0h0m6 0h0m-2-1h0m2 0h0m-3-3h0m1 0h0m-3-151h0m-4-10h0m10 0h0m2 0h0m-2 158h0m2 4h0m9 3h0m2 0h0m1 0h0m0-4h0m2 0h0m30 4h0m0-1h0m-4-7h0m5-8h0m-5-142h0m4-1h0m-4-1h0m4-2h0m4-3h0m-1 1h0m8 0h0m-2 2h0m-6 157h0m8 0h0m-9 5h0m3 0h0m8 0h0m6 0h0m2 0h0m2 0h0m-7-4h0m5 0h0m-1-5h0m3 0h0m-2-149h0m0-5h0m1-2h0m9 0h0m4 0h0m-5 1h0m7 0h0m-2 1h0m-8 155h0m4 5h0m-3 1h0m7 0h0m-1 1h0m-7 1h0m2 0h0m1 0h0m7 0h0m9 0h0m1 0h0m1 0h0m-10-3h0m9-159h0m-7-3h0m8 0h0m4 0h0m7 0h0m1 0h0m-1 1h0m-7 3h0m0 155h0m1 4h0m-3 2h0m5 0h0m11 0h0m1 0h0m2 0h0m-5-4h0m-1-2h0m3-3h0m6-147h0m-1-2h0m-4-3h0m-3-4h0m1 0h0m2 0h0m10 165h0m26-165h0m1 0h0m3 0h0m0 2h0m1 2h0m-5 154h0m3 0h0m-3 6h0m3 0h0m-4 1h0m2 0h0m1 0h0m5 0h0m4-7h0m-4-1h0m0-5h0m4-152h0m16 0h0m-2 2h0m5 144h0m-11 5h0m10 6h0m-7 4h0m4 0h0m-5 3h0m-2 1h0m5 0h0m7 0h0m2 0h0m2-13h0m-1-2h0m-2-138h0m10-8h0m-9-4h0m10 0h0m1 0h0m1 0h0m1 0h0m1 0h0m6 0h0m-4 1h0m0 5h0m3 0h0m2 2h0m-6 152h0m-3 1h0m0 1h0m2 3h0m2 0h0m1 0h0m1 0h0m11 0h0m1 0h0m1 0h0m1 0h0m-3-7h0m2-5h0m-9-144h0m0-4h0m0-5h0m5 0h0m2 0h0m10 2h0m4 0h0m0 2h0m-6 146h0m3 1h0m-1 1h0m5 4h0m-5 7h0m1 1h0m-5 1h0m2 0h0m1 0h0m1 0h0m7 0h0m0-4h0m3-2h0m-1-7h0m-1-151h0"/>
<line x1="982.00" y1="1899.75" x2="982.00" y2="1989.50" stroke="#000" stroke-width="2.0"/>
<line x1="977.50" y1="1903.75" x2="982.00" y2="1903.75" stroke="#000" stroke-width="1.8"/>
<text x="975.80" y="1907.85" font-size="16.5" font-weight="bold" text-anchor="end" fill="#000">1.00</text>
<line x1="977.50" y1="1924.25" x2="982.00" y2="1924.25" stroke="#000" stroke-width="1.8"/>
<text x="975.80" y="1928.35" font-size="16.5" font-weight="bold" text-anchor="end" fill="#000">0.75</text>
<line x1="977.50" y1="1944.75" x2="982.00" y2="1944.75" stroke="#000" stroke-width="1.8"/>
<text x="975.80" y="1948.85" font-size="16.5" font-weight="bold" text-anchor="end" fill="#000">0.50</text>
<line x1="977.50" y1="1965.25" x2="982.00" y2="1965.25" stroke="#000" stroke-width="1.8"/>
<text x="975.80" y="1969.35" font-size="16.5" font-weight="bold" text-anchor="end" fill="#000">0.25</text>
<line x1="977.50" y1="1985.75" x2="982.00" y2="1985.75" stroke="#000" stroke-width="1.8"/>
<text x="975.80" y="1989.85" font-size="16.5" font-weight="bold" text-anchor="end" fill="#000">0.00</text>
<line x1="982.00" y1="1989.50" x2="1027.00" y2="1989.50" stroke="#000" stroke-width="2.0"/>
<text x="1004.50" y="2011.25" font-size="15" font-weight="bold" text-anchor="middle" fill="#000">chr13</text>
<line x1="1035.70" y1="1989.50" x2="1080.70" y2="1989.50" stroke="#000" stroke-width="2.0"/>
<text x="1058.20" y="2011.25" font-size="15" font-weight="bold" text-anchor="middle" fill="#000">chr14</text>
<line x1="1089.40" y1="1989.50" x2="1134.40" y2="1989.50" stroke="#000" stroke-width="2.0"/>
<text x="1111.90" y="2011.25" font-size="15" font-weight="bold" text-anchor="middle" fill="#000">chr15</text>
<line x1="1143.10" y1="1989.50" x2="1188.10" y2="1989.50" stroke="#000" stroke-width="2.0"/>
<text x="1165.60" y="2011.25" font-size="15" font-weight="bold" text-anchor="middle" fill="#000">chr16</text>
<line x1="1196.80" y1="1989.50" x2="1241.80" y2="1989.50" stroke="#000" stroke-width="2.0"/>
<text x="1219.30" y="2011.25" font-size="15" font-weight="bold" text-anchor="middle" fill="#000">chr17</text>
<line x1="1250.50" y1="1989.50" x2="1295.50" y2="1989.50" stroke="#000" stroke-width="2.0"/>
<text x="1273.00" y="2011.25" font-size="15" font-weight="bold" text-anchor="middle" fill="#000">chr18</text>
<line x1="1304.20" y1="1989.50" x2="1349.20" y2="1989.50" stroke="#000" stroke-width="2.0"/>
<text x="1326.70" y="2011.25" font-size="15" font-weight="bold" text-anchor="middle" fill="#000">chr19</text>
<line x1="1357.90" y1="1989.50" x2="1402.90" y2="1989.50" stroke="#000" stroke-width="2.0"/>
<text x="1380.40" y="2011.25" font-size="15" font-weight="bold" text-anchor="middle" fill="#000">chr20</text>
<line x1="1411.60" y1="1989.50" x2="1456.60" y2="1989.50" stroke="#000" stroke-width="2.0"/>
<text x="1434.10" y="2011.25" font-size="15" font-weight="bold" text-anchor="middle" fill="#000">chr21</text>
<line x1="1465.30" y1="1989.50" x2="1510.30" y2="1989.50" stroke="#000" stroke-width="2.0"/>
<text x="1487.80" y="2011.25" font-size="15" font-weight="bold" text-anchor="middle" fill="#000">chr22</text>
<line x1="1519.00" y1="1989.50" x2="1564.00" y2="1989.50" stroke="#000" stroke-width="2.0"/>
<text x="1541.50" y="2011.25" font-size="15" font-weight="bold" text-anchor="middle" fill="#000">chrY</text>
<path fill="#68BDC2" d="M1037.2 1940.1h3.7v12.2h-3.7zM1040.7 1939.7h3.7v10.1h-3.7zM1044.2 1938.6h3.7v10.3h-3.7zM1047.7 1940.9h3.7v10.2h-3.7zM1051.2 1939.9h3.7v10.7h-3.7zM1054.7 1940.0h3.7v9.4h-3.7zM1058.2 1937.5h3.7v11.2h-3.7zM1061.7 1939.1h3.7v9.3h-3.7zM1065.2 1940.3h3.7v11.9h-3.7zM1068.7 1939.9h3.7v9.9h-3.7zM1072.2 1939.8h3.7v6.3h-3.7zM1075.7 1942.9h3.7v6.3h-3.7zM1090.9 1941.0h3.7v7.9h-3.7zM1094.4 1939.2h3.7v8.6h-3.7zM1097.9 1940.7h3.7v10.6h-3.7zM1101.4 1937.5h3.7v13.8h-3.7zM1104.9 1940.6h3.7v11.2h-3.7zM1108.4 1937.7h3.7v13.0h-3.7zM1111.9 1939.2h3.7v9.7h-3.7zM1115.4 1942.6h3.7v8.1h-3.7zM1118.9 1940.3h3.7v7.2h-3.7zM1122.4 1938.4h3.7v12.5h-3.7zM1125.9 1940.8h3.7v7.8h-3.7zM1129.4 1938.2h3.7v10.0h-3.7zM1144.6 1939.2h3.7v9.2h-3.7zM1148.1 1938.5h3.7v10.1h-3.7zM1151.6 1936.3h3.7v13.6h-3.7zM1155.1 1936.5h3.7v18.1h-3.7zM1169.1 1938.1h3.7v11.2h-3.7zM1172.6 1938.7h3.7v14.2h-3.7zM1176.1 1937.6h3.7v15.6h-3.7zM1179.6 1937.7h3.7v15.2h-3.7zM1183.1 1937.3h3.7v15.0h-3.7zM1198.3 1940.4h3.7v10.3h-3.7zM1201.8 1933.2h3.7v19.1h-3.7zM1205.3 1937.7h3.7v12.7h-3.7zM1208.8 1940.3h3.7v11.6h-3.7zM1212.3 1936.9h3.7v17.0h-3.7zM1215.8 1938.4h3.7v10.6h-3.7zM1219.3 1940.4h3.7v11.4h-3.7zM1222.8 1936.6h3.7v18.0h-3.7zM1226.3 1937.5h3.7v12.6h-3.7zM1229.8 1937.0h3.7v16.5h-3.7zM1233.3 1935.6h3.7v14.2h-3.7zM1236.8 1938.2h3.7v14.2h-3.7zM1305.7 1932.6h3.7v21.2h-3.7zM1309.2 1938.1h3.7v12.6h-3.7zM1312.7 1939.3h3.7v14.6h-3.7zM1316.2 1937.9h3.7v13.2h-3.7zM1319.7 1937.5h3.7v18.4h-3.7zM1330.2 1938.1h3.7v17.2h-3.7zM1333.7 1932.4h3.7v22.2h-3.7zM1337.2 1931.3h3.7v23.4h-3.7zM1340.7 1937.1h3.7v14.8h-3.7zM1344.2 1936.7h3.7v18.9h-3.7zM1359.4 1942.4h3.7v8.7h-3.7zM1362.9 1937.1h3.7v12.1h-3.7zM1366.4 1938.8h3.7v8.3h-3.7zM1369.9 1942.1h3.7v6.9h-3.7zM1373.4 1939.8h3.7v10.6h-3.7zM1376.9 1938.0h3.7v11.6h-3.7zM1380.4 1941.9h3.7v7.1h-3.7zM1383.9 1941.6h3.7v7.9h-3.7zM1387.4 1937.3h3.7v12.4h-3.7zM1390.9 1939.3h3.7v12.3h-3.7zM1394.4 1940.8h3.7v10.4h-3.7zM1397.9 1941.1h3.7v6.9h-3.7zM1466.8 1938.2h3.7v9.2h-3.7zM1470.3 1942.3h3.7v8.4h-3.7zM1473.8 1939.3h3.7v9.1h-3.7zM1477.3 1942.6h3.7v8.2h-3.7zM1480.8 1940.9h3.7v10.0h-3.7zM1484.3 1939.3h3.7v11.6h-3.7zM1487.8 1938.0h3.7v12.3h-3.7zM1491.3 1938.4h3.7v13.8h-3.7zM1494.8 1941.0h3.7v10.4h-3.7zM1498.3 1938.5h3.7v9.4h-3.7zM1501.8 1940.8h3.7v8.1h-3.7zM1505.3 1937.9h3.7v11.5h-3.7z"/>
<path transform="scale(.5)" fill="none" stroke="#5FB7BD" stroke-width="5.8" stroke-linecap="round" d="M1979 3870h0m-8 7h0m-1 1h0m-1 2h0m3 3h0m3 4h0m-5 4h0m0 2h0m6 6h0m2 0h0m1 0h0m5 52h0m-4-46h0m5-5h0m0-4h0m-2-4h0m-2-2h0m8 0h0m-5-3h0m-3-1h0m-1-1h0m5-5h0m-3-3h0m5-34h0m-1-8h0m13-7h0m1 39h0m-6 3h0m4 1h0m-2 1h0m0 2h0m4 3h0m-1 4h0m-3 1h0m-2 2h0m3 0h0m3 1h0m0 3h0m1 1h0m0 4h0m0 15h0m-1 4h0m2 40h0m2-72h0m11-9h0m8-29h0m0 2h0m3 18h0m-8 11h0m5 1h0m-3 6h0m2 2h0m1 0h0m-1 6h0m5 1h0m0 1h0m-9 1h0m6 0h0m-4 2h0m3 1h0m-1 1h0m-2 1h0m7 1h0m-4 2h0m-1 5h0m2 0h0m0 2h0m-3 1h0m1 0h0m-4 8h0m18 28h0m1-38h0m0-3h0m-9-2h0m9 0h0m0-5h0m-1-3h0m-5-1h0m-1-2h0m7-1h0m1-2h0m-8-3h0m7 0h0m1-1h0m1-4h0m-3-23h0m-2-5h0m13-12h0m-5 51h0m-2 2h0m9 0h0m0 13h0m-6 6h0m3 38h0m29-73h0m-1 20h0m1 1h0m0 3h0m0 8h0m5 42h0m-1-19h0m7 0h0m-8-13h0m5-5h0m-7-6h0m3-7h0m-2-3h0m5-4h0m4-1h0m-10-3h0m0-1h0m0-1h0m8-3h0m-5-1h0m3-1h0m-4-1h0m9 0h0m-8-2h0m-3-5h0m0-1h0m3-2h0m1-1h0m2 0h0m1-5h0m-1-3h0m-2-11h0m18-1h0m-2 17h0m3 6h0m-7 4h0m-4 5h0m11 1h0m-1 1h0m-10 6h0m4 4h0m3 2h0m3 6h0m-1 5h0m0 3h0m2 2h0m0 1h0m-11 1h0m5 29h0m13 6h0m-4-16h0m0-4h0m5-9h0m-1-2h0m0-1h0m-1-1h0m1-2h0m4-2h0m-10-2h0m7-5h0m0-1h0m4 0h0m-11-1h0m7 0h0m-3-2h0m2-1h0m-6-2h0m5 0h0m2 0h0m1 0h0m-3-1h0m-2-1h0m2 0h0m-1-2h0m-3-1h0m10 0h0m-5-2h0m0-1h0m-4-1h0m5 0h0m2 0h0m-5-3h0m1 0h0m4-1h0m-2-5h0m-6-1h0m7 0h0m-3-4h0m-5-8h0m1-1h0m2-3h0m2-20h0m12 3h0m2 10h0m3 2h0m-5 9h0m-3 2h0m7 9h0m-4 1h0m2 3h0m0 2h0m-2 3h0m-5 3h0m0 2h0m2 1h0m5 0h0m1 3h0m2 0h0m0 1h0m-7 1h0m8 3h0m-11 1h0m1 1h0m7 3h0m-3 1h0m0 2h0m3 0h0m-8 4h0m7 1h0m2 5h0m-1 26h0m8 14h0m-1-16h0m6-6h0m-2-7h0m4-7h0m-7-6h0m1 0h0m2-1h0m-1-3h0m-2-3h0m4-8h0m3 0h0m-10-1h0m4-2h0m2-2h0m1 0h0m-3-1h0m2 0h0m4-1h0m-4-4h0m-6-3h0m3-2h0m2 0h0m-3-6h0m1 0h0m6 0h0m-4-4h0m-1-1h0m1 0h0m-1-5h0m1-1h0m0-26h0m-1-18h0m12 1h0m-4 3h0m-1 21h0m2 6h0m9 0h0m-2 10h0m-7 4h0m-1 3h0m6 1h0m-6 2h0m0 4h0m0 4h0m0 6h0m0 1h0m2 4h0m-3 1h0m10 0h0m1 2h0m-11 1h0m1 5h0m2 4h0m7 0h0m-10 3h0m6 2h0m-6 5h0m0 12h0m10 19h0m8-3h0m-2-29h0m-4-4h0m5-7h0m3-4h0m-8-7h0m8-5h0m-5-1h0m1-4h0m1-7h0m-4-5h0m1-1h0m-1-1h0m-1-1h0m2-2h0m1-1h0m6-6h0m26 85h0m0-17h0m-1-13h0m1-12h0m0-6h0m0-8h0m-1-10h0m-1-9h0m2-10h0m9 7h0m2 4h0m-2 1h0m-4 5h0m5 1h0m-1 1h0m1 0h0m-4 1h0m3 1h0m1 0h0m0 1h0m0 2h0m0 3h0m-4 2h0m5 0h0m1 1h0m-11 2h0m10 7h0m-9 1h0m8 0h0m-2 1h0m1 0h0m-5 2h0m3 0h0m1 1h0m2 0h0m1 8h0m1 16h0m-10 8h0m8 7h0m9-11h0m-4-6h0m0-5h0m6-3h0m-2-6h0m-3-1h0m3-1h0m-4-1h0m1-3h0m5 0h0m3 0h0m-7-2h0m0-1h0m2 0h0m0-1h0m-4-1h0m2-1h0m-2-1h0m5-1h0m-5-3h0m-1-1h0m1 0h0m1 0h0m-3-1h0m10 0h0m-7-2h0m4 0h0m-6-1h0m4 0h0m6 0h0m-6-1h0m6-5h0m-7-1h0m-3-1h0m-1-1h0m5 0h0m-1-2h0m-1-2h0m6-1h0m0-1h0m-6-1h0m2 0h0m2-1h0m-2-3h0m-1-6h0m-2-17h0m7-1h0m-5-5h0m16-7h0m0 16h0m-6 9h0m5 1h0m-4 9h0m8 0h0m-9 5h0m-2 3h0m8 1h0m2 1h0m-2 5h0m0 1h0m2 0h0m0 2h0m-9 5h0m2 1h0m5 1h0m3 0h0m-2 2h0m-7 1h0m6 2h0m-2 2h0m2 1h0m0 2h0m2 15h0m8 5h0m-6-9h0m1-3h0m7-4h0m1-2h0m-6-9h0m-2-3h0m7 0h0m2-5h0m-7-4h0m7-1h0m-8-5h0m0-1h0m9 0h0m-3-2h0m3-1h0m-6-2h0m-4-2h0m6 0h0m-4-8h0m20-42h0m-5 17h0m-3 21h0m-3 6h0m5 2h0m-2 4h0m7 0h0m0 1h0m-5 1h0m1 0h0m3 0h0m0 1h0m2 8h0m-1 2h0m-6 1h0m-2 3h0m3 1h0m3 0h0m-4 2h0m4 1h0m-8 4h0m3 1h0m4 0h0m0 1h0m-1 3h0m2 0h0m-6 1h0m1 0h0m7 1h0m-5 1h0m-3 1h0m0 9h0m8 0h0m-8 4h0m8 36h0m12 4h0m-10-6h0m3-42h0m3-7h0m-3-1h0m8-2h0m-7-1h0m7-1h0m-9-1h0m1 0h0m1-1h0m-2-1h0m9 0h0m-4-2h0m3-3h0m-6-1h0m-1-1h0m2 0h0m1-2h0m2-1h0m-7-1h0m9 0h0m-5-1h0m4 0h0m-9-2h0m10 0h0m-9-2h0m0-1h0m1 0h0m2-1h0m6 0h0m0-1h0m-7-6h0m-1-1h0m-2-7h0m3-11h0m8-22h0m7-4h0m1 12h0m2 20h0m-9 2h0m0 12h0m7 2h0m0 3h0m2 1h0m-2 1h0m1 0h0m-8 2h0m6 0h0m-1 4h0m-4 3h0m7 0h0m-4 1h0m4 1h0m-4 1h0m4 0h0m-3 1h0m2 0h0m-7 2h0m10 0h0m-9 3h0m0 2h0m6 0h0m-6 1h0m6 1h0m-7 1h0m8 0h0m-6 1h0m5 0h0m-2 4h0m0 2h0m3 1h0m1 0h0m-6 8h0m3 2h0m-5 1h0m3 10h0m5 2h0m0 4h0m-4 3h0m3 4h0m25-99h0m0 16h0m2 6h0m-1 7h0m-1 5h0m0 12h0m0 3h0m0 3h0m2 3h0m-1 5h0m1 0h0m-2 2h0m0 5h0m0 5h0m2 3h0m-2 3h0m2 2h0m0 8h0m-1 5h0m-1 12h0m5-10h0m4-2h0m1-4h0m-5-5h0m-1-6h0m5-3h0m-5-1h0m9-6h0m-3-2h0m-7-3h0m7-3h0m-5-2h0m1-1h0m4 0h0m-6-1h0m4 0h0m2 0h0m-5-2h0m5 0h0m-6-2h0m7 0h0m2 0h0m-2-2h0m-2-1h0m3-1h0m-7-3h0m6 0h0m-2-1h0m-5-2h0m1-1h0m4-1h0m3 0h0m-3-3h0m1 0h0m-7-1h0m2 0h0m5 0h0m1 0h0m-5-3h0m-1-1h0m3-1h0m-2-1h0m2-1h0m5-2h0m0-4h0m-8-5h0m0-1h0m-1-3h0m4-1h0m1-3h0m1 0h0m0-4h0m3 0h0m-10-3h0m2-16h0m8-12h0m9 2h0m4 2h0m-3 6h0m3 16h0m-8 14h0m4 4h0m-5 1h0m8 2h0m0 3h0m1 1h0m-3 1h0m3 0h0m-4 6h0m1 1h0m2 0h0m0 1h0m-9 2h0m1 1h0m9 2h0m-8 1h0m1 0h0m2 1h0m5 0h0m-3 2h0m1 4h0m1 0h0m-1 4h0m2 1h0m-10 2h0m8 3h0m-8 2h0m4 0h0m3 1h0m-2 1h0m3 0h0m-9 1h0m8 1h0m2 0h0m-10 2h0m9 5h0m2 0h0m-3 2h0m0 2h0m2 0h0m-10 12h0m6 5h0m12 20h0m-3-35h0m-1-3h0m0-1h0m-1-8h0m7-2h0m-3-1h0m2 0h0m-5-1h0m-1-4h0m4-2h0m-5-1h0m0-3h0m5-1h0m2 0h0m-6-2h0m5 0h0m-5-1h0m0-1h0m4-1h0m3-4h0m-2-2h0m-4-2h0m3-2h0m-5-2h0m4-1h0m-1-14h0m3 0h0m-1-5h0m-3-33h0m18 15h0m1 5h0m2 32h0m-2 5h0m-1 4h0m2 2h0m1 0h0m-3 3h0m0 1h0m1 0h0m0 2h0m0 2h0m0 8h0m1 0h0m-2 17h0m2 7h0m10 2h0m-6-5h0m-1-3h0m9-1h0m-1-4h0m-3-5h0m-1-2h0m2 0h0m4-4h0m-8-2h0m-1-1h0m9-1h0m-10-1h0m5-1h0m1 0h0m1-2h0m3 0h0m-4-3h0m-1-2h0m2 0h0m-1-1h0m0-3h0m4 0h0m-5-2h0m5-3h0m-3-2h0m-8-3h0m2 0h0m2-1h0m4 0h0m-6-4h0m-1-3h0m10-2h0m-8-1h0m7 0h0m-4-1h0m2-3h0m-1-1h0m-3-1h0m0-3h0m3-6h0m-1-1h0m2-19h0m-8-5h0m14 8h0m0 15h0m4 4h0m2 14h0m-2 3h0m3 4h0m-3 3h0m2 2h0m-3 1h0m-3 4h0m5 0h0m-1 4h0m-1 4h0m2 0h0m-2 2h0m-3 1h0m2 0h0m4 1h0m-6 6h0m3 0h0m1 4h0m-4 3h0m3 5h0m-1 12h0m-3 5h0m0 2h0m4 15h0m8 7h0m9-14h0m0-15h0m-6-3h0m3 0h0m-3-4h0m0-1h0m4-1h0m-4-3h0m-1-6h0m1-1h0m4 0h0m0-3h0m-6-1h0m2-4h0m1 0h0m2 0h0m-4-2h0m5 0h0m-4-1h0m4-2h0m0-1h0m0-4h0m1 0h0m-7-2h0m-1-2h0m3 0h0m1-3h0m-5-1h0m0-1h0m1 0h0m5-1h0m-6-2h0m4 0h0m1 0h0m-1-3h0m-1-3h0m6 0h0m-7-1h0m4-5h0m-6-1h0m2 0h0m2-1h0m0-5h0m2-1h0m-1-1h0m2 0h0m2-1h0m-2-14h0m-3-3h0m0-4h0m5-4h0m26 81h0m-2-1h0m-1-4h0m0-5h0m0-2h0m2-9h0m-2-8h0m0-2h0m1-9h0m-1-1h0m0-25h0m12 0h0m-3 7h0m-3 10h0m6 2h0m-7 3h0m1 1h0m7 1h0m-1 1h0m3 1h0m-6 1h0m0 3h0m6 1h0m-8 4h0m5 0h0m3 1h0m-6 1h0m-5 1h0m9 0h0m2 0h0m-5 1h0m-2 2h0m5 1h0m-7 1h0m-2 3h0m3 0h0m3 0h0m2 0h0m1 1h0m2 0h0m-9 2h0m2 5h0m2 0h0m-3 4h0m3 1h0m4 2h0m-5 1h0m0 2h0m0 3h0m-5 2h0m9 3h0m1 0h0m-9 2h0m6 0h0m-7 6h0m11 1h0m-9 7h0m2 0h0m5 1h0m14 20h0m-10-15h0m2 0h0m-1-17h0m3-3h0m5-2h0m-1-4h0m-3-2h0m1-5h0m-3-1h0m-4-2h0m0-4h0m1-3h0m8-2h0m0-3h0m2-3h0m-1-2h0m-8-1h0m5 0h0m-7-1h0m10-2h0m-8-1h0m-2-1h0m2 0h0m0-3h0m3-1h0m-5-3h0m4 0h0m1-1h0m-3-2h0m-2-1h0m1-2h0m-1-1h0m9 0h0m2-2h0m-3-8h0m-5-1h0m0-1h0m-1-4h0m6-9h0m13-21h0m1 1h0m-9 1h0m10 1h0m0 18h0m0 1h0m-7 14h0m5 8h0m-1 2h0m-7 1h0m1 0h0m1 1h0m3 0h0m0 1h0m-2 1h0m-3 2h0m2 0h0m4 0h0m-6 1h0m8 0h0m-4 2h0m1 1h0m-4 1h0m1 2h0m1 0h0m-4 1h0m10 0h0m-9 1h0m4 1h0m1 0h0m-3 2h0m0 1h0m5 1h0m-1 2h0m-2 3h0m1 1h0m-4 1h0m4 0h0m2 0h0m0 1h0m1 1h0m-5 1h0m1 0h0m6 0h0m-11 3h0m3 3h0m6 1h0m-5 1h0m2 3h0m1 0h0m3 0h0m-7 1h0m6 2h0m-1 1h0m2 3h0m-10 3h0m3 0h0m8 0h0m-7 2h0m2 16h0m4 3h0m-2 16h0m-2 2h0m8-8h0m-1-6h0m0-12h0m-1-4h0m6-1h0m-3-4h0m7-3h0m-9-4h0m-1-1h0m0-1h0m7-4h0m-4-3h0m-3-1h0m1 0h0m1 0h0m4 0h0m-5-1h0m6 0h0m3 0h0m-10-2h0m0-2h0m5 0h0m2 0h0m1 0h0m1-1h0m-8-1h0m6-1h0m-6-1h0m7-1h0m-8-1h0m1 0h0m8-4h0m-7-1h0m1-1h0m2 0h0m1 0h0m-6-4h0m1 0h0m-1-2h0m8 0h0m-2-1h0m5 0h0m-11-1h0m4-1h0m1-3h0m-4-1h0m2 0h0m5-1h0m-3-1h0m5 0h0m-7-1h0m8 0h0m-9-1h0m-2-1h0m1 0h0m7-1h0m-1-1h0m2 0h0m-8-1h0m5-1h0m-1-7h0m-3-1h0m5-5h0m-7-1h0m11 0h0m-11-24h0m17-1h0m5 9h0m-7 6h0m5 14h0m-3 3h0m-2 5h0m6 3h0m-4 5h0m4 2h0m1 4h0m1 0h0m-1 2h0m-6 1h0m4 0h0m3 0h0m-6 3h0m-2 1h0m8 0h0m-4 1h0m1 0h0m0 1h0m3 2h0m-7 1h0m7 0h0m-11 1h0m7 0h0m3 0h0m-7 1h0m1 0h0m-2 3h0m0 3h0m0 2h0m8 0h0m-7 2h0m1 2h0m5 1h0m-6 3h0m8 0h0m-9 1h0m9 1h0m-2 1h0m-7 2h0m2 2h0m6 1h0m-5 1h0m-3 1h0m8 2h0m-4 1h0m5 4h0m-2 6h0m-6 9h0m-2 6h0m22-17h0m-10-6h0m7 0h0m-4-5h0m-1-1h0m2-2h0m2-2h0m1-2h0m1 0h0m-9-1h0m6-1h0m4-1h0m-3-1h0m4-3h0m-10-2h0m2 0h0m1-2h0m-4-1h0m1 0h0m10-1h0m-11-4h0m6 0h0m2 0h0m-6-3h0m3-1h0m3 0h0m1 0h0m0-1h0m0-3h0m-8-2h0m4 0h0m1 0h0m-4-3h0m6 0h0m1-1h0m-2-1h0m-1-1h0m-2-4h0m2-2h0m4 0h0m-6-3h0m3-5h0m-6-5h0m-1-14h0m9-7h0m-7-8h0m1-6h0m17-1h0m-1 25h0m-2 8h0m-5 1h0m3 2h0m-3 5h0m2 3h0m-1 1h0m0 1h0m-1 1h0m8 1h0m-6 1h0m6 1h0m0 3h0m-4 3h0m-3 3h0m6 2h0m-4 6h0m-1 1h0m1 1h0m1 0h0m4 0h0m-5 2h0m1 6h0m5 1h0m-7 2h0m7 1h0m-6 4h0m3 2h0m0 3h0m-2 3h0m-2 5h0m-2 1h0m3 3h0m6 2h0m0 5h0m-1 5h0m-7 7h0m6 3h0m28-76h0m-1 39h0m11 25h0m-1-3h0m0-16h0m-5-7h0m4 0h0m0-3h0m2 0h0m-1-2h0m-6-1h0m7-1h0m-2-1h0m2-1h0m0-5h0m1-2h0m-1-1h0m-2-1h0m3 0h0m1-3h0m-7-3h0m5-3h0m-2-1h0m0-1h0m3-1h0m-2-5h0m-3-3h0m3-1h0m-1-2h0m14 3h0m2 10h0m-1 5h0m-7 1h0m1 5h0m-2 3h0m4 1h0m4 0h0m-1 6h0m-6 7h0m-1 1h0m2 3h0m8 43h0m8-6h0m1-9h0m1-33h0m-10-10h0m8-2h0m1-2h0m2 0h0m0-1h0m-8-6h0m8 0h0m-8-6h0m4-8h0m-6-6h0m-1-18h0m17-10h0m1 32h0m-2 4h0m3 1h0m0 6h0m-6 5h0m4 0h0m6 1h0m-8 6h0m8 0h0m6 38h0m1-14h0m-2-11h0m1-9h0m1-1h0m-2-1h0m2-6h0m0-1h0m0-3h0m-1-4h0m0-6h0m1-35h0m1-6h0m6 16h0m3 11h0m0 20h0m-2 7h0m-2 3h0m4 1h0m4 10h0m-5 8h0m5 6h0m7 11h0m0-13h0m-3-4h0m3-7h0m-1-6h0m0-2h0m6-3h0m-7-2h0m7 0h0m-1-4h0m-5-1h0m2-6h0m1-2h0m-5-2h0m2-2h0m1-13h0m0-21h0m31 103h0m1-5h0m0-2h0m-1-9h0m0-4h0m0-7h0m-1-1h0m-1-12h0m-1-1h0m3-9h0m-1-3h0m0-1h0m1 0h0m-2-3h0m3-10h0m-3-9h0m2 0h0m1-1h0m-1-14h0m1-2h0m-4-4h0m3-2h0m-2-7h0m14-3h0m-3 20h0m-2 1h0m1 1h0m-1 2h0m-1 2h0m4 0h0m-1 1h0m-4 3h0m2 8h0m-3 1h0m9 0h0m-3 1h0m-4 1h0m4 0h0m-6 1h0m2 1h0m0 1h0m-4 1h0m6 1h0m-1 2h0m4 2h0m-5 1h0m3 0h0m-7 1h0m2 1h0m3 1h0m3 1h0m-3 1h0m4 0h0m2 1h0m-6 1h0m0 1h0m6 3h0m-4 1h0m1 0h0m-7 2h0m1 0h0m-2 1h0m10 2h0m-4 1h0m3 2h0m-6 2h0m5 0h0m-3 1h0m2 0h0m0 1h0m-1 1h0m1 0h0m4 0h0m-9 1h0m-2 1h0m0 1h0m2 0h0m8 3h0m-9 8h0m5 1h0m-6 1h0m10 0h0m1 0h0m-5 5h0m-6 16h0m9 1h0m6 4h0m1-2h0m-3-5h0m1 0h0m2-5h0m-2-2h0m-2-9h0m5-3h0m2 0h0m-6-1h0m2-4h0m7 0h0m1 0h0m-9-1h0m3 0h0m-5-3h0m3-2h0m3-1h0m1 0h0m-2-2h0m3-3h0m-5-1h0m5 0h0m-4-2h0m5-1h0m-2-2h0m-5-2h0m2 0h0m2-1h0m1 0h0m1 0h0m3 0h0m-7-2h0m6 0h0m-10-1h0m9-2h0m1 0h0m-4-1h0m0-1h0m4-1h0m-8-1h0m9-1h0m-5-1h0m1 0h0m-7-1h0m2 0h0m7 0h0m-1-1h0m-8-1h0m9 0h0m-9-2h0m3 0h0m0-3h0m7 0h0m-10-1h0m6 0h0m5 0h0m-11-1h0m1-1h0m5-1h0m-2-2h0m4 0h0m3-1h0m-11-1h0m4 0h0m3 0h0m-2-1h0m6 0h0m-10-1h0m8-1h0m-3-2h0m1 0h0m-7-1h0m4 0h0m-3-1h0m7 0h0m0-1h0m1-1h0m-6-2h0m6-1h0m1-1h0m-7-1h0m5-1h0m-6-1h0m5-1h0m-7-4h0m8-7h0m-4-1h0m-2-4h0m5 0h0m2-16h0m6-3h0m5 25h0m-5 1h0m4 3h0m-1 2h0m-5 5h0m5 2h0m0 1h0m-5 3h0m1 1h0m1 4h0m1 0h0m-2 3h0m5 2h0m-3 2h0m-3 4h0m0 3h0m3 0h0m-4 1h0m2 0h0m-2 2h0m0 2h0m5 2h0m2 1h0m-7 1h0m7 0h0m-7 3h0m1 0h0m5 0h0m0 1h0m-5 1h0m1 2h0m4 0h0m-6 1h0m6 1h0m-1 2h0m-3 1h0m4 10h0m-1 2h0m-5 1h0m8 5h0m0 20h0m-1 9h0m-6 8h0m18 0h0m1-15h0m0-3h0m-3-6h0m1-3h0m-2-1h0m3-9h0m3-1h0m-7-3h0m8-3h0m-6-1h0m2 0h0m-4-3h0m1 0h0m0-2h0m0-3h0m3 0h0m-2-3h0m2-1h0m0-2h0m1 0h0m3-1h0m-5-2h0m-3-1h0m5 0h0m2-1h0m1 0h0m-5-1h0m5-1h0m-4-3h0m0-1h0m0-1h0m-4-1h0m7 0h0m0-1h0m-5-1h0m1-1h0m4-3h0m-6-1h0m3-1h0m-2-2h0m-3-3h0m3 0h0m3-1h0m1 0h0m2-3h0m-3-1h0m1 0h0m-4-6h0m4 0h0m2-2h0m-2-1h0m-7-2h0m3-6h0m-1-7h0m0-5h0m5-14h0m1-3h0m4 0h0m0 18h0m4 7h0m-2 2h0m-2 1h0m9 5h0m-10 3h0m3 2h0m2 2h0m0 1h0m-1 3h0m-2 4h0m-1 1h0m4 0h0m-5 2h0m6 0h0m2 2h0m2 0h0m-11 2h0m9 0h0m2 0h0m-8 1h0m-3 1h0m5 0h0m3 1h0m-4 2h0m1 1h0m-4 1h0m3 1h0m6 0h0m-8 1h0m1 0h0m7 0h0m-3 1h0m1 0h0m-7 1h0m2 0h0m5 0h0m-4 1h0m4 0h0m2 0h0m-1 2h0m-7 1h0m-2 3h0m7 0h0m2 0h0m-3 1h0m5 0h0m-8 2h0m5 0h0m2 0h0m1 0h0m-10 1h0m10 5h0m-9 1h0m3 3h0m6 0h0m-4 2h0m-5 1h0m4 0h0m1 0h0m-6 1h0m1 0h0m4 2h0m-2 1h0m7 0h0m-10 1h0m9 0h0m-6 1h0m-4 1h0m8 2h0m-7 1h0m3 2h0m3 4h0m-1 7h0m9 20h0m2-10h0m5-6h0m-7-5h0m7 0h0m0-1h0m-8-1h0m6-2h0m-2-2h0m0-1h0m1-1h0m0-3h0m4-6h0m-3-1h0m1 0h0m-6-1h0m-2-2h0m3 0h0m7-1h0m-7-3h0m3 0h0m1 0h0m-1-1h0m4 0h0m-3-1h0m-1-3h0m1 0h0m1 0h0m2 0h0m-7-1h0m6 0h0m-3-1h0m-1-2h0m0-1h0m4-1h0m1-1h0m-11-2h0m4 0h0m6-2h0m-7-1h0m4 0h0m4 0h0m-10-1h0m6 0h0m1 0h0m-6-5h0m5 0h0m4 0h0m-1-1h0m-2-2h0m-7-1h0m4-2h0m2-5h0m-7-1h0m11-5h0m-9-3h0m3-1h0m-1-6h0m-3-2h0m8 0h0m-3-9h0m1-1h0m-6-4h0m1-1h0m-2-5h0m6-3h0m-6-6h0m6 0h0m3-5h0m9 25h0m-3 14h0m3 3h0m1 4h0m-4 1h0m2 0h0m1 1h0m-1 1h0m-2 2h0m4 0h0m-3 3h0m4 0h0m0 2h0m-8 1h0m6 0h0m-4 1h0m4 0h0m2 0h0m-6 1h0m6 2h0m-2 1h0m-6 2h0m3 0h0m4 0h0m1 0h0m-6 1h0m-1 1h0m6 1h0m-7 1h0m1 4h0m2 1h0m3 1h0m-5 3h0m0 1h0m0 1h0m-1 2h0m3 1h0m4 0h0m-5 1h0m4 0h0m1 0h0m-7 6h0m7 0h0m0 3h0m-7 3h0m7 0h0m-6 5h0m1 4h0m2 0h0m29-52h0m2 4h0m0 10h0m-4 2h0m3 2h0m1 13h0m0 23h0m12 10h0m0-17h0m0-7h0m-8-2h0m5 0h0m-5-3h0m5-1h0m-2-3h0m3 0h0m1 0h0m1-1h0m-4-2h0m1-1h0m-4-1h0m2-2h0m1-1h0m0-1h0m-6-1h0m4-2h0m-2-1h0m4 0h0m-2-3h0m-1-5h0m-4-2h0m4 0h0m3 0h0m-3-4h0m-4-8h0m1 0h0m8-1h0m-5-4h0m-2-20h0m4-14h0m-5-5h0m15 36h0m-3 13h0m10 0h0m-6 5h0m6 0h0m-9 2h0m-1 2h0m8 0h0m2 2h0m-2 4h0m2 1h0m-8 1h0m-3 2h0m5 2h0m3 1h0m-4 2h0m-2 3h0m9 0h0m-10 2h0m6 2h0m2 6h0m5 37h0m8 0h0m-2-23h0m0-9h0m0-4h0m-5-1h0m0-4h0m-2-1h0m2-1h0m2-1h0m2-2h0m-6-2h0m4-6h0m-2-1h0m7-3h0m-6-4h0m-4-1h0m3 0h0m-1-1h0m3 0h0m3-1h0m2-3h0m-5-1h0m3-2h0m-7-1h0m8-1h0m1-1h0m-8-2h0m-1-3h0m2-39h0m18-2h0m-5 19h0m2 6h0m4 6h0m1 5h0m-11 2h0m9 3h0m0 7h0m2 3h0m-7 2h0m3 2h0m2 0h0m2 1h0m0 1h0m-5 1h0m4 0h0m-3 2h0m3 0h0m-3 2h0m3 0h0m-2 2h0m0 1h0m0 5h0m-3 3h0m0 5h0m3 2h0m1 1h0m2 2h0m-2 30h0m-4 15h0m8-15h0m-1-4h0m0-6h0m3 0h0m-2-11h0m8-1h0m-4-3h0m-4-1h0m3-6h0m4-1h0m-7-2h0m1-1h0m-2-2h0m0-5h0m10 0h0m-8-2h0m3-5h0m2-7h0m3-3h0m-1-1h0m1-4h0m-9-2h0m-1-10h0m1 0h0m5-16h0m-5-5h0m14-21h0m3 0h0m0 21h0m3 2h0m-1 14h0m-1 8h0m0 6h0m-3 1h0m6 3h0m-1 2h0m1 3h0m1 1h0m-11 1h0m9 1h0m2 1h0m-8 5h0m7 0h0m-7 1h0m4 0h0m-2 1h0m-3 2h0m9 4h0m-4 1h0m3 3h0m-9 1h0m4 2h0m6 1h0m-9 1h0m4 25h0m4 7h0m4-1h0m0-16h0m3-21h0m2-9h0m-5-1h0m1-3h0m0-1h0m-1-1h0m3-7h0m-1-3h0m-4-10h0m5-2h0m1-3h0m-3-5h0m-3-2h0m4-3h0m-4-1h0m3-27h0m56 128h0m0-42h0m0-28h0m1-32h0m2 16h0m-1 1h0m-1 4h0m11 8h0m-10 5h0m9 1h0m-8 2h0m-2 3h0m10 10h0m-9 1h0m10 3h0m0 1h0m0 11h0m-2 26h0m2 1h0m8-33h0m0-4h0m-5-1h0m-2-1h0m0-9h0m10-1h0m-5-3h0m-1-4h0m-2-1h0m-1-2h0m5 0h0m2-1h0m0-1h0m-2-2h0m1-2h0m-4-1h0m3-1h0m1 0h0m-4-30h0m18-23h0m-7 43h0m8 6h0m-1 7h0m-7 2h0m5 0h0m2 4h0m2 7h0m-10 3h0m0 3h0m10 0h0m-7 5h0m6 1h0m-1 2h0m5 30h0m1-15h0m2-3h0m-5-7h0m11-8h0m-6-3h0m5-2h0m0-1h0m0-3h0m-8-3h0m-1-5h0m7-4h0m1-4h0m-8-7h0m11-5h0m5 4h0m-2 2h0m-2 6h0m-1 4h0m2 7h0m1 0h0m-3 10h0m1 6h0m29-48h0m1 2h0m-1 5h0m3 0h0m1 1h0m1 4h0m-5 7h0m0 2h0m2 8h0m-2 3h0m4 2h0m-3 2h0m3 3h0m-4 2h0m-1 3h0m6 1h0m-5 19h0m1 20h0m11-5h0m-4-6h0m-1-4h0m2 0h0m-3-8h0m1-2h0m7-5h0m-5-1h0m6 0h0m-7-1h0m-2-1h0m1-1h0m1-1h0m-1-3h0m0-2h0m4 0h0m-2-3h0m5 0h0m-8-2h0m5-1h0m-4-4h0m0-5h0m1-1h0m1-10h0m4-3h0m-5-2h0m3-1h0m2-1h0m-5-1h0m5-2h0m-4-5h0m1-17h0m15-7h0m0 3h0m3 1h0m-10 17h0m3 2h0m8 0h0m-2 8h0m-7 1h0m1 0h0m-1 7h0m2 0h0m-3 2h0m6 0h0m-7 2h0m0 2h0m3 1h0m-2 1h0m1 1h0m1 2h0m6 0h0m1 3h0m-3 1h0m4 0h0m0 2h0m-6 1h0m4 3h0m-7 2h0m7 5h0m-7 9h0m9 3h0m-5 3h0m1 1h0m-3 5h0m3 14h0m-3 6h0m-3 11h0m14 0h0m2-16h0m4-14h0m-7-15h0m4-1h0m3-8h0m-7-2h0m6-2h0m-6-2h0m7-1h0m-3-1h0m-6-5h0m6 0h0m5-1h0m-11-1h0m4 0h0m2 0h0m0-2h0m5-1h0m-9-1h0m9 0h0m-10-2h0m10-4h0m-7-7h0m7 0h0m-10-6h0m-1-18h0m18-19h0m1 40h0m-4 5h0m2 0h0m1 1h0m-5 5h0m1 2h0m6 9h0m-7 3h0m8 0h0m0 7h0m0 2h0m0 13h0m-9 5h0m9 1h0m-1 3h0m2 6h0m-8 25h0m15 1h0m1-34h0m-1-3h0m6-8h0m-8-3h0m3-2h0m-5-2h0m10 0h0m-4-7h0m-6-7h0m6 0h0m0-1h0m-5-2h0m2-2h0m3 0h0m-3-2h0m2-2h0m2 0h0m1 0h0m-4-3h0m0-1h0m0-2h0m0-1h0m1 0h0m-1-2h0m6-2h0m0-6h0m0-7h0m-6-4h0m0-1h0m4-2h0m-7-1h0m0-11h0m21-16h0m-2 3h0m-2 3h0m3 39h0m-2 1h0m-2 3h0m-2 2h0m-4 2h0m10 6h0m-8 2h0m6 1h0m-1 3h0m2 0h0m-4 7h0m2 1h0m3 0h0m1 2h0m-3 2h0m-8 2h0m6 9h0m-6 1h0m11 6h0m-6 15h0m-3 16h0m10-19h0m1-9h0m2-5h0m-2-5h0m2-7h0m0-4h0m-2-1h0m0-2h0m2-3h0m0-2h0m0-4h0m0-4h0m2-1h0m1 0h0m-6-2h0m0-1h0m3-5h0m0-1h0m-3-8h0m2-11h0m3-16h0m-1-13h0"/>
<path transform="scale(.5)" fill="none" stroke="#D9423A" stroke-width="5.6" stroke-linecap="round" d="M1972 3808h0m-2 152h0m6 1h0m-7 1h0m2 7h0m0 1h0m-2 1h0m20 1h0m-6-164h0m16 0h0m-1 5h0m1 147h0m-2 3h0m4 9h0m23-7h0m-6 7h0m2 0h0m18 0h0m-2-3h0m-8-150h0m9-3h0m-9-5h0m10 0h0m1-3h0m12 0h0m24 158h0m1 6h0m2 0h0m3 0h0m2 0h0m1-4h0m-3-155h0m-3-2h0m5-2h0m3 0h0m-2-1h0m1 0h0m8 0h0m4 0h0m-7 159h0m-1 5h0m1 0h0m9 0h0m2 0h0m6 0h0m-6-1h0m1-3h0m7-3h0m-3-2h0m-3-1h0m0-142h0m-3-8h0m11-3h0m-3-1h0m11 0h0m2 0h0m-7 6h0m6 148h0m-1 9h0m-6 1h0m16 0h0m-3-1h0m-2-163h0m16 0h0m2 0h0m-6 3h0m2 145h0m6 5h0m1 8h0m-9 3h0m4 0h0m4 0h0m6 0h0m2 0h0m0-7h0m30 7h0m2-164h0m8 0h0m1 0h0m2 155h0m-3 7h0m-3 2h0m4 0h0m9 0h0m-6-3h0m7-1h0m-6-2h0m-1-7h0m4-146h0m3-1h0m-2-1h0m1-1h0m-6-2h0m3 0h0m3 0h0m1 0h0m5 0h0m4 0h0m6 5h0m-1 153h0m-4 4h0m-4 2h0m5 0h0m14-1h0m-2-160h0m1-1h0m-3-1h0m5-1h0m7 0h0m3 0h0m-1 1h0m4 0h0m-1 152h0m0 4h0m-1 5h0m-5 2h0m8 0h0m12 0h0m-3-9h0m-5-150h0m9-5h0m3 0h0m2 0h0m-3 1h0m2 2h0m2 159h0m1 1h0m-1 1h0m29-164h0m-1 1h0m0 3h0m0 156h0m0 2h0m-1 2h0m4 0h0m1 0h0m1 0h0m3 0h0m2 0h0m-3-1h0m1-2h0m1 0h0m0-4h0m-6-5h0m3 0h0m-1-9h0m-1-136h0m4-7h0m7 0h0m8 4h0m1 3h0m1 0h0m0 142h0m0 5h0m-1 8h0m-10 2h0m3 0h0m5 0h0m2 0h0m3 0h0m4 0h0m1 0h0m-4-5h0m1-1h0m4-1h0m-6-3h0m18-151h0m1 1h0m1 0h0m-1 156h0m1 1h0m1 0h0m-1 3h0m9 0h0m2 0h0m-5-7h0m8-155h0m-8-2h0m11 0h0m1 0h0m1 0h0m1 0h0m5 0h0m-4 6h0m1 0h0m1 147h0m3 2h0m-5 9h0m1 0h0m7 0h0m1 0h0m6 0h0m1 0h0m-4-2h0m-5-2h0m5 0h0m-2-3h0m2-147h0m26 154h0m1-19h0m6-145h0m1 6h0m3 0h0m-4 3h0m7 1h0m-8 140h0m0 3h0m4 0h0m-2 3h0m-4 1h0m1 0h0m4 2h0m3 2h0m-6 3h0m6 0h0m2 0h0m1 0h0m1 0h0m4 0h0m-1-5h0m-2-5h0m-1-4h0m8-150h0m2 0h0m9 0h0m2 0h0m2 0h0m-4 4h0m4 0h0m-6 4h0m-1 2h0m-3 143h0m-1 6h0m11 0h0m-8 4h0m-3 1h0m6 0h0m2 0h0m3 0h0m1 0h0m4 0h0m1 0h0m2 0h0m-6-8h0m4-1h0m4 0h0m-8-1h0m4-151h0m-4-3h0m5 0h0m14 0h0m-7 12h0m9 142h0m-2 1h0m-7 1h0m5 4h0m-1 1h0m3 3h0m2 0h0m1 0h0m1 0h0m1 0h0m1 0h0m4 0h0m2 0h0m2 0h0m-2-4h0m2-3h0m-8-157h0m2 0h0m4 0h0m2 0h0m6 0h0m3 0h0m-5 155h0m2 1h0m5 3h0m-4 1h0m3 1h0m-6 3h0m2 0h0m4 0h0m25-157h0m0 157h0m13-1h0m1-2h0m-1-4h0m1 0h0m-2-152h0m-2-5h0m1 0h0m6 0h0m7 0h0m1 0h0m1 0h0m0 161h0m0 3h0m10-164h0m2 0h0m1 2h0m6 146h0m-2 8h0m2 0h0m10 8h0m-4-1h0m2-4h0m1-153h0m17-6h0m-4 3h0m1 3h0m-2 154h0m8 3h0m7-160h0m-4-2h0m31 163h0m0-11h0m1-7h0m1-145h0m-1-1h0m1 0h0m5 12h0m2 142h0m0 3h0m-4 2h0m-1 1h0m2 0h0m2 0h0m1 0h0m2 1h0m-8 1h0m10 1h0m-3 1h0m1 0h0m3 0h0m3 0h0m3 0h0m1 0h0m1 0h0m2 0h0m1 0h0m-2-1h0m1 0h0m-6-1h0m0-4h0m5-3h0m-3-1h0m5-3h0m-2-4h0m2-139h0m-5-3h0m-5-5h0m5 0h0m2 0h0m8 0h0m3 0h0m1 0h0m1 0h0m0 4h0m-5 149h0m1 1h0m-4 10h0m1 0h0m4 0h0m1 0h0m9 0h0m4 0h0m3 0h0m1 0h0m-7-1h0m3 0h0m1 0h0m-2-13h0m3-139h0m-6-8h0m9-3h0m5 0h0m4 0h0m-8 1h0m0 1h0m5 5h0m5 141h0m-10 8h0m4 2h0m-5 2h0m5 1h0m-3 2h0m1 0h0m-3 1h0m1 0h0m2 0h0m6 0h0m4 0h0m4 0h0m6 0h0m-10-1h0m5-4h0m-6-3h0m6 0h0m0-2h0m5 0h0m-5-153h0m3 0h0m-3-1h0m3 0h0m5 0h0m4 0h0m2 0h0m-6 161h0m4 3h0m1 0h0m1 0h0m25-7h0m2 0h0m-1 6h0m1 1h0m4 0h0m7 0h0m-9-1h0m2-1h0m1-2h0m3-1h0m-2-151h0m1-7h0m2 0h0m-7-1h0m3 0h0m12 0h0m2 5h0m1 144h0m4 9h0m-11 6h0m13 0h0m2 0h0m1 0h0m2 0h0m5 0h0m0-2h0m-6-3h0m2 0h0m2-4h0m-1-152h0m12-3h0m3 0h0m-11 5h0m8 146h0m3 12h0m-11 1h0m4 0h0m4 0h0m6 0h0m6 0h0m3 0h0m-4-5h0m1-156h0m-5-3h0m13 0h0m4 0h0m0 1h0m-4 2h0m5 1h0m-6 2h0m1 145h0m-1 1h0m8 8h0m-5 1h0m9 3h0m1-161h0m-3-3h0m59 0h0m2 0h0m8 0h0m-6 2h0m16 161h0m0-163h0m14 148h0m0 14h0m7 2h0m1 0h0m7 0h0m31-162h0m2 11h0m-5 146h0m11 4h0m2 0h0m0-153h0m-6-10h0m12 0h0m1 0h0m3 161h0m3 0h0m-5 1h0m0 1h0m1 1h0m6 0h0m5 0h0m-2-1h0m9-151h0m-7-9h0m13-3h0m7 0h0m-9 164h0m15 0h0m5 0h0m-4-2h0m2 0h0m3-4h0m-5-1h0m1-156h0m0-1h0m7 0h0m4 0h0m2 155h0m-2 7h0m3 0h0m7 2h0m0-161h0m1-1h0m-3-1h0m1-1h0m2 0h0m67 162h0"/>
<text x="929.80" y="1875.80" font-size="16.7" font-weight="bold" text-anchor="middle" transform="rotate(-90 929.80 1875.80)" fill="#000">Reference allele (rel. units)</text>
<rect x="150.80" y="348.70" width="9.50" height="234.30" fill="#D4D4D4"/>
<line x1="726.00" y1="348.70" x2="726.00" y2="583.00" stroke="#CFCFCF" stroke-width="1.3"/>
<line x1="122.00" y1="348.70" x2="122.00" y2="585.00" stroke="#000" stroke-width="2.0"/>
<line x1="121.00" y1="584.00" x2="756.00" y2="581.46" stroke="#000" stroke-width="2.0"/>
<line x1="117.00" y1="359.00" x2="122.00" y2="359.00" stroke="#000" stroke-width="1.8"/>
<text x="112.00" y="363.80" font-size="18" font-weight="bold" text-anchor="end" fill="#000">1.00</text>
<line x1="117.00" y1="412.82" x2="122.00" y2="412.82" stroke="#000" stroke-width="1.8"/>
<text x="112.00" y="417.62" font-size="18" font-weight="bold" text-anchor="end" fill="#000">0.75</text>
<line x1="117.00" y1="466.65" x2="122.00" y2="466.65" stroke="#000" stroke-width="1.8"/>
<text x="112.00" y="471.45" font-size="18" font-weight="bold" text-anchor="end" fill="#000">0.50</text>
<line x1="117.00" y1="520.47" x2="122.00" y2="520.47" stroke="#000" stroke-width="1.8"/>
<text x="112.00" y="525.27" font-size="18" font-weight="bold" text-anchor="end" fill="#000">0.25</text>
<line x1="117.00" y1="574.30" x2="122.00" y2="574.30" stroke="#000" stroke-width="1.8"/>
<text x="112.00" y="579.10" font-size="18" font-weight="bold" text-anchor="end" fill="#000">0.00</text>
<line x1="151.30" y1="583.88" x2="151.30" y2="588.08" stroke="#000" stroke-width="1.8"/>
<text x="151.00" y="605.08" font-size="18.3" font-weight="bold" text-anchor="middle" fill="#000">0</text>
<line x1="336.30" y1="583.14" x2="336.30" y2="587.34" stroke="#000" stroke-width="1.8"/>
<text x="335.00" y="604.34" font-size="18.3" font-weight="bold" text-anchor="middle" fill="#000">50,000,000</text>
<line x1="522.50" y1="582.40" x2="522.50" y2="586.60" stroke="#000" stroke-width="1.8"/>
<text x="520.00" y="603.60" font-size="18.3" font-weight="bold" text-anchor="middle" fill="#000">100,000,000</text>
<line x1="709.00" y1="581.65" x2="709.00" y2="585.85" stroke="#000" stroke-width="1.8"/>
<text x="698.50" y="602.85" font-size="18.3" font-weight="bold" text-anchor="middle" fill="#000">150,000,000</text>
<text x="429.30" y="622.50" font-size="18.2" font-weight="bold" text-anchor="middle" fill="#000">ChrX</text>
<text x="68.60" y="463.80" font-size="18.4" font-weight="bold" text-anchor="middle" transform="rotate(-90 68.60 463.80)" fill="#000">Reference allele (rel. units)</text>
<circle class="a" cx="156.0" cy="358.8"/>
<circle class="c" cx="160.7" cy="364.6"/>
<circle class="b" cx="151.5" cy="385.9"/>
<circle class="b" cx="151.5" cy="447.7"/>
<circle class="b" cx="151.5" cy="450.7"/>
<circle class="b" cx="151.5" cy="457.3"/>
<circle class="b" cx="151.5" cy="460.8"/>
<circle class="b" cx="157.0" cy="445.2"/>
<circle class="b" cx="156.0" cy="452.2"/>
<circle class="b" cx="159.7" cy="462.8"/>
<circle class="b" cx="156.5" cy="469.5"/>
<circle class="b" cx="151.5" cy="474.8"/>
<circle class="b" cx="155.7" cy="474.8"/>
<circle class="b" cx="157.0" cy="488.3"/>
<circle class="c" cx="715.1" cy="355.8"/>
<circle class="c" cx="711.8" cy="571.2"/>
<circle class="c" cx="473.9" cy="572.5"/>
<circle class="a" cx="726.1" cy="355.8"/>
<circle class="a" cx="728.1" cy="571.2"/>
<circle class="b" cx="727.3" cy="430.2"/>
<rect x="982.50" y="343.70" width="9.50" height="236.30" fill="#D4D4D4"/>
<line x1="1561.30" y1="343.70" x2="1561.30" y2="580.00" stroke="#CFCFCF" stroke-width="1.3"/>
<line x1="953.80" y1="343.70" x2="953.80" y2="582.00" stroke="#000" stroke-width="2.0"/>
<line x1="952.80" y1="581.00" x2="1590.00" y2="581.00" stroke="#000" stroke-width="2.0"/>
<line x1="948.80" y1="354.30" x2="953.80" y2="354.30" stroke="#000" stroke-width="1.8"/>
<text x="943.80" y="359.10" font-size="18" font-weight="bold" text-anchor="end" fill="#000">1.00</text>
<line x1="948.80" y1="408.23" x2="953.80" y2="408.23" stroke="#000" stroke-width="1.8"/>
<text x="943.80" y="413.03" font-size="18" font-weight="bold" text-anchor="end" fill="#000">0.75</text>
<line x1="948.80" y1="462.15" x2="953.80" y2="462.15" stroke="#000" stroke-width="1.8"/>
<text x="943.80" y="466.95" font-size="18" font-weight="bold" text-anchor="end" fill="#000">0.50</text>
<line x1="948.80" y1="516.08" x2="953.80" y2="516.08" stroke="#000" stroke-width="1.8"/>
<text x="943.80" y="520.88" font-size="18" font-weight="bold" text-anchor="end" fill="#000">0.25</text>
<line x1="948.80" y1="570.00" x2="953.80" y2="570.00" stroke="#000" stroke-width="1.8"/>
<text x="943.80" y="574.80" font-size="18" font-weight="bold" text-anchor="end" fill="#000">0.00</text>
<line x1="982.50" y1="581.00" x2="982.50" y2="585.20" stroke="#000" stroke-width="1.8"/>
<text x="986.20" y="601.90" font-size="18.3" font-weight="bold" text-anchor="middle" fill="#000">0</text>
<line x1="1168.00" y1="581.00" x2="1168.00" y2="585.20" stroke="#000" stroke-width="1.8"/>
<text x="1170.20" y="601.90" font-size="18.3" font-weight="bold" text-anchor="middle" fill="#000">50,000,000</text>
<line x1="1355.00" y1="581.00" x2="1355.00" y2="585.20" stroke="#000" stroke-width="1.8"/>
<text x="1357.90" y="601.90" font-size="18.3" font-weight="bold" text-anchor="middle" fill="#000">100,000,000</text>
<line x1="1542.00" y1="581.00" x2="1542.00" y2="585.20" stroke="#000" stroke-width="1.8"/>
<text x="1533.90" y="601.90" font-size="18.3" font-weight="bold" text-anchor="middle" fill="#000">150,000,000</text>
<text x="1264.50" y="621.00" font-size="18.2" font-weight="bold" text-anchor="middle" fill="#000">ChrX</text>
<text x="898.60" y="462.50" font-size="18.4" font-weight="bold" text-anchor="middle" transform="rotate(-90 898.60 462.50)" fill="#000">Reference allele (rel. units)</text>
<circle class="c" cx="994.5" cy="354.3"/>
<circle class="c" cx="1019.8" cy="354.3"/>
<circle class="c" cx="1057.4" cy="354.3"/>
<circle class="c" cx="1063.6" cy="354.3"/>
<circle class="c" cx="1071.1" cy="362.1"/>
<circle class="c" cx="1071.1" cy="366.3"/>
<circle class="c" cx="996.0" cy="361.3"/>
<circle class="c" cx="1136.2" cy="355.6"/>
<circle class="c" cx="1158.0" cy="354.3"/>
<circle class="c" cx="1160.5" cy="354.3"/>
<circle class="c" cx="1163.0" cy="354.3"/>
<circle class="c" cx="1165.6" cy="354.3"/>
<circle class="c" cx="1158.0" cy="361.8"/>
<circle class="c" cx="1183.6" cy="354.3"/>
<circle class="c" cx="1196.9" cy="354.3"/>
<circle class="c" cx="1215.6" cy="354.3"/>
<circle class="c" cx="1225.2" cy="354.3"/>
<circle class="c" cx="1228.2" cy="354.3"/>
<circle class="c" cx="1235.2" cy="354.3"/>
<circle class="c" cx="1257.7" cy="354.3"/>
<circle class="c" cx="996.0" cy="567.2"/>
<circle class="c" cx="1030.8" cy="563.0"/>
<circle class="c" cx="1041.1" cy="553.4"/>
<circle class="c" cx="1048.3" cy="571.0"/>
<circle class="c" cx="1056.6" cy="571.0"/>
<circle class="c" cx="1124.7" cy="571.0"/>
<circle class="c" cx="1131.2" cy="565.5"/>
<circle class="c" cx="1133.7" cy="569.2"/>
<circle class="c" cx="1144.8" cy="571.0"/>
<circle class="c" cx="1148.5" cy="571.0"/>
<circle class="c" cx="1157.5" cy="571.0"/>
<circle class="c" cx="1164.8" cy="571.0"/>
<circle class="c" cx="1169.3" cy="571.0"/>
<circle class="c" cx="1180.6" cy="571.0"/>
<circle class="c" cx="1185.6" cy="570.5"/>
<circle class="c" cx="1189.3" cy="571.0"/>
<circle class="c" cx="1226.9" cy="570.0"/>
<circle class="c" cx="1255.2" cy="571.0"/>
<circle class="a" cx="991.2" cy="368.8"/>
<circle class="d" cx="1072.1" cy="377.6"/>
<circle class="d" cx="1045.3" cy="391.4"/>
<circle class="d" cx="1041.1" cy="418.9"/>
<circle class="d" cx="1150.0" cy="480.8"/>
<circle class="d" cx="1045.3" cy="544.7"/>
<circle class="d" cx="1072.1" cy="537.7"/>
<circle class="b" cx="983.2" cy="385.9"/>
<circle class="b" cx="983.2" cy="387.1"/>
<circle class="b" cx="987.7" cy="409.4"/>
<circle class="b" cx="983.2" cy="415.7"/>
<circle class="b" cx="983.2" cy="419.4"/>
<circle class="b" cx="983.2" cy="428.2"/>
<circle class="b" cx="987.7" cy="431.0"/>
<circle class="b" cx="991.5" cy="433.5"/>
<circle class="b" cx="983.2" cy="450.7"/>
<circle class="b" cx="983.2" cy="455.3"/>
<circle class="b" cx="988.5" cy="454.0"/>
<circle class="b" cx="988.5" cy="447.2"/>
<circle class="b" cx="983.2" cy="462.8"/>
<circle class="b" cx="983.2" cy="464.8"/>
<circle class="b" cx="988.5" cy="462.8"/>
<circle class="b" cx="992.0" cy="462.0"/>
<circle class="b" cx="983.2" cy="494.8"/>
<circle class="b" cx="992.0" cy="494.1"/>
<circle class="b" cx="992.0" cy="500.3"/>
<circle class="b" cx="983.2" cy="509.1"/>
<circle class="b" cx="987.7" cy="517.1"/>
<circle class="b" cx="987.7" cy="519.1"/>
<circle class="b" cx="987.7" cy="525.9"/>
<circle class="b" cx="983.2" cy="534.2"/>
<circle class="c" cx="1235.0" cy="354.3"/>
<circle class="c" cx="1258.1" cy="354.3"/>
<circle class="c" cx="1294.6" cy="354.3"/>
<circle class="c" cx="1483.0" cy="354.3"/>
<circle class="c" cx="1488.0" cy="354.3"/>
<circle class="c" cx="1484.2" cy="360.1"/>
<circle class="c" cx="1486.7" cy="358.3"/>
<circle class="c" cx="1548.1" cy="354.3"/>
<circle class="c" cx="1551.9" cy="354.3"/>
<circle class="c" cx="1555.6" cy="354.3"/>
<circle class="c" cx="1555.6" cy="357.6"/>
<circle class="c" cx="1553.1" cy="363.8"/>
<circle class="c" cx="1255.0" cy="571.0"/>
<circle class="c" cx="1366.5" cy="570.5"/>
<circle class="c" cx="1488.0" cy="570.0"/>
<circle class="c" cx="1531.3" cy="570.5"/>
<circle class="c" cx="1546.3" cy="570.5"/>
<circle class="c" cx="1553.1" cy="569.2"/>
<circle class="c" cx="1555.6" cy="570.5"/>
<circle class="c" cx="1554.9" cy="566.7"/>
<circle class="a" cx="1561.4" cy="354.3"/>
<text x="1242.50" y="537.00" font-size="17.4" font-weight="bold" text-anchor="start" font-style="italic" fill="#000">XIST</text>
<line x1="1254.80" y1="542.50" x2="1254.80" y2="567.50" stroke="#000" stroke-width="1.6"/>
<rect x="153.30" y="1009.50" width="9.20" height="236.50" fill="#D4D4D4"/>
<line x1="731.80" y1="1009.50" x2="731.80" y2="1246.00" stroke="#CFCFCF" stroke-width="1.3"/>
<line x1="124.50" y1="1009.50" x2="124.50" y2="1248.00" stroke="#000" stroke-width="2.0"/>
<line x1="123.50" y1="1247.00" x2="761.00" y2="1247.00" stroke="#000" stroke-width="2.0"/>
<line x1="119.50" y1="1020.00" x2="124.50" y2="1020.00" stroke="#000" stroke-width="1.8"/>
<text x="114.50" y="1024.80" font-size="18" font-weight="bold" text-anchor="end" fill="#000">1.00</text>
<line x1="119.50" y1="1073.88" x2="124.50" y2="1073.88" stroke="#000" stroke-width="1.8"/>
<text x="114.50" y="1078.67" font-size="18" font-weight="bold" text-anchor="end" fill="#000">0.75</text>
<line x1="119.50" y1="1127.75" x2="124.50" y2="1127.75" stroke="#000" stroke-width="1.8"/>
<text x="114.50" y="1132.55" font-size="18" font-weight="bold" text-anchor="end" fill="#000">0.50</text>
<line x1="119.50" y1="1181.62" x2="124.50" y2="1181.62" stroke="#000" stroke-width="1.8"/>
<text x="114.50" y="1186.42" font-size="18" font-weight="bold" text-anchor="end" fill="#000">0.25</text>
<line x1="119.50" y1="1235.50" x2="124.50" y2="1235.50" stroke="#000" stroke-width="1.8"/>
<text x="114.50" y="1240.30" font-size="18" font-weight="bold" text-anchor="end" fill="#000">0.00</text>
<line x1="153.30" y1="1247.00" x2="153.30" y2="1251.20" stroke="#000" stroke-width="1.8"/>
<text x="154.00" y="1267.50" font-size="18.3" font-weight="bold" text-anchor="middle" fill="#000">0</text>
<line x1="338.80" y1="1247.00" x2="338.80" y2="1251.20" stroke="#000" stroke-width="1.8"/>
<text x="338.50" y="1267.50" font-size="18.3" font-weight="bold" text-anchor="middle" fill="#000">50,000,000</text>
<line x1="526.30" y1="1247.00" x2="526.30" y2="1251.20" stroke="#000" stroke-width="1.8"/>
<text x="526.10" y="1267.50" font-size="18.3" font-weight="bold" text-anchor="middle" fill="#000">100,000,000</text>
<line x1="713.00" y1="1247.00" x2="713.00" y2="1251.20" stroke="#000" stroke-width="1.8"/>
<text x="702.60" y="1267.50" font-size="18.3" font-weight="bold" text-anchor="middle" fill="#000">150,000,000</text>
<text x="432.80" y="1286.00" font-size="18.2" font-weight="bold" text-anchor="middle" fill="#000">ChrX</text>
<text x="68.60" y="1124.30" font-size="18.4" font-weight="bold" text-anchor="middle" transform="rotate(-90 68.60 1124.30)" fill="#000">Reference allele (rel. units)</text>
<circle class="c" cx="162.7" cy="1020.1"/>
<circle class="c" cx="164.5" cy="1020.1"/>
<circle class="c" cx="190.3" cy="1020.1"/>
<circle class="c" cx="201.6" cy="1020.1"/>
<circle class="c" cx="204.1" cy="1020.1"/>
<circle class="c" cx="207.8" cy="1020.1"/>
<circle class="c" cx="211.1" cy="1022.1"/>
<circle class="c" cx="210.3" cy="1028.8"/>
<circle class="c" cx="162.7" cy="1034.4"/>
<circle class="c" cx="165.2" cy="1033.9"/>
<circle class="c" cx="167.7" cy="1033.9"/>
<circle class="c" cx="242.9" cy="1033.4"/>
<circle class="c" cx="267.4" cy="1020.1"/>
<circle class="c" cx="282.2" cy="1023.1"/>
<circle class="c" cx="305.0" cy="1020.1"/>
<circle class="c" cx="307.5" cy="1022.6"/>
<circle class="c" cx="325.5" cy="1020.1"/>
<circle class="c" cx="329.3" cy="1020.1"/>
<circle class="c" cx="333.0" cy="1020.1"/>
<circle class="c" cx="335.6" cy="1021.3"/>
<circle class="c" cx="350.6" cy="1020.1"/>
<circle class="c" cx="356.1" cy="1020.1"/>
<circle class="c" cx="358.6" cy="1020.1"/>
<circle class="c" cx="395.7" cy="1020.1"/>
<circle class="c" cx="406.9" cy="1020.1"/>
<circle class="c" cx="413.2" cy="1020.1"/>
<circle class="c" cx="420.0" cy="1026.8"/>
<circle class="c" cx="438.2" cy="1020.1"/>
<circle class="a" cx="157.7" cy="1020.1"/>
<circle class="a" cx="162.2" cy="1039.4"/>
<circle class="a" cx="162.7" cy="1222.2"/>
<circle class="b" cx="153.5" cy="1041.6"/>
<circle class="b" cx="153.5" cy="1054.4"/>
<circle class="b" cx="153.5" cy="1058.1"/>
<circle class="b" cx="158.5" cy="1065.2"/>
<circle class="b" cx="153.5" cy="1071.9"/>
<circle class="b" cx="153.5" cy="1075.2"/>
<circle class="b" cx="153.5" cy="1078.9"/>
<circle class="b" cx="162.7" cy="1071.7"/>
<circle class="b" cx="161.0" cy="1081.4"/>
<circle class="b" cx="159.0" cy="1126.5"/>
<circle class="b" cx="159.0" cy="1129.5"/>
<circle class="b" cx="159.5" cy="1131.5"/>
<circle class="b" cx="159.5" cy="1149.3"/>
<circle class="b" cx="153.5" cy="1165.3"/>
<circle class="b" cx="159.5" cy="1169.6"/>
<circle class="b" cx="162.0" cy="1179.4"/>
<circle class="b" cx="161.0" cy="1188.6"/>
<circle class="d" cx="184.5" cy="1052.6"/>
<circle class="d" cx="328.8" cy="1079.2"/>
<circle class="d" cx="179.0" cy="1203.2"/>
<circle class="d" cx="320.8" cy="1192.4"/>
<circle class="d" cx="330.8" cy="1155.3"/>
<circle class="d" cx="425.7" cy="1149.1"/>
<circle class="c" cx="242.9" cy="1215.4"/>
<circle class="c" cx="216.1" cy="1223.5"/>
<circle class="c" cx="242.4" cy="1229.7"/>
<circle class="c" cx="216.1" cy="1233.0"/>
<circle class="c" cx="212.8" cy="1235.5"/>
<circle class="c" cx="189.8" cy="1236.5"/>
<circle class="c" cx="201.1" cy="1236.5"/>
<circle class="c" cx="248.6" cy="1236.5"/>
<circle class="c" cx="306.8" cy="1228.0"/>
<circle class="c" cx="302.2" cy="1236.5"/>
<circle class="c" cx="319.3" cy="1236.5"/>
<circle class="c" cx="329.3" cy="1236.5"/>
<circle class="c" cx="331.8" cy="1236.5"/>
<circle class="c" cx="333.6" cy="1235.5"/>
<circle class="c" cx="336.3" cy="1236.5"/>
<circle class="c" cx="351.8" cy="1236.5"/>
<circle class="c" cx="356.1" cy="1236.0"/>
<circle class="c" cx="360.6" cy="1236.5"/>
<circle class="c" cx="398.9" cy="1236.5"/>
<circle class="c" cx="411.9" cy="1236.5"/>
<circle class="c" cx="415.0" cy="1236.0"/>
<circle class="c" cx="423.2" cy="1236.5"/>
<circle class="c" cx="441.3" cy="1020.1"/>
<circle class="c" cx="439.5" cy="1020.1"/>
<circle class="c" cx="525.2" cy="1020.1"/>
<circle class="c" cx="527.7" cy="1025.1"/>
<circle class="c" cx="529.5" cy="1025.8"/>
<circle class="c" cx="537.2" cy="1022.6"/>
<circle class="c" cx="563.5" cy="1023.1"/>
<circle class="c" cx="565.8" cy="1024.6"/>
<circle class="c" cx="592.3" cy="1020.1"/>
<circle class="c" cx="598.6" cy="1020.1"/>
<circle class="c" cx="600.3" cy="1020.1"/>
<circle class="c" cx="612.4" cy="1020.1"/>
<circle class="c" cx="635.4" cy="1020.1"/>
<circle class="c" cx="641.7" cy="1020.1"/>
<circle class="c" cx="645.4" cy="1024.3"/>
<circle class="c" cx="659.7" cy="1020.8"/>
<circle class="c" cx="719.8" cy="1020.1"/>
<circle class="c" cx="727.3" cy="1020.1"/>
<circle class="c" cx="423.8" cy="1236.5"/>
<circle class="c" cx="477.6" cy="1217.4"/>
<circle class="c" cx="589.8" cy="1231.2"/>
<circle class="c" cx="592.8" cy="1236.5"/>
<circle class="c" cx="595.3" cy="1236.5"/>
<circle class="c" cx="598.3" cy="1236.0"/>
<circle class="c" cx="600.3" cy="1233.0"/>
<circle class="c" cx="599.8" cy="1236.5"/>
<circle class="c" cx="610.4" cy="1236.5"/>
<circle class="c" cx="612.9" cy="1236.5"/>
<circle class="c" cx="639.9" cy="1228.7"/>
<circle class="c" cx="639.9" cy="1234.5"/>
<circle class="c" cx="655.4" cy="1230.5"/>
<circle class="c" cx="654.2" cy="1236.5"/>
<circle class="c" cx="656.7" cy="1236.5"/>
<circle class="c" cx="659.2" cy="1236.5"/>
<circle class="c" cx="724.3" cy="1236.5"/>
<circle class="c" cx="727.6" cy="1236.5"/>
<circle class="d" cx="425.5" cy="1149.1"/>
<circle class="d" cx="549.5" cy="1196.7"/>
<circle class="a" cx="732.3" cy="1236.5"/>
<text x="433.80" y="1145.50" font-size="17.4" font-weight="bold" text-anchor="start" font-style="italic" fill="#000">XIST</text>
<rect x="986.30" y="1004.30" width="9.20" height="236.50" fill="#D4D4D4"/>
<line x1="1565.00" y1="1004.30" x2="1565.00" y2="1240.80" stroke="#CFCFCF" stroke-width="1.3"/>
<line x1="956.80" y1="1004.30" x2="956.80" y2="1242.80" stroke="#000" stroke-width="2.0"/>
<line x1="955.80" y1="1241.80" x2="1593.80" y2="1241.80" stroke="#000" stroke-width="2.0"/>
<line x1="951.80" y1="1014.30" x2="956.80" y2="1014.30" stroke="#000" stroke-width="1.8"/>
<text x="946.80" y="1019.10" font-size="18" font-weight="bold" text-anchor="end" fill="#000">1.00</text>
<line x1="951.80" y1="1068.35" x2="956.80" y2="1068.35" stroke="#000" stroke-width="1.8"/>
<text x="946.80" y="1073.15" font-size="18" font-weight="bold" text-anchor="end" fill="#000">0.75</text>
<line x1="951.80" y1="1122.40" x2="956.80" y2="1122.40" stroke="#000" stroke-width="1.8"/>
<text x="946.80" y="1127.20" font-size="18" font-weight="bold" text-anchor="end" fill="#000">0.50</text>
<line x1="951.80" y1="1176.45" x2="956.80" y2="1176.45" stroke="#000" stroke-width="1.8"/>
<text x="946.80" y="1181.25" font-size="18" font-weight="bold" text-anchor="end" fill="#000">0.25</text>
<line x1="951.80" y1="1230.50" x2="956.80" y2="1230.50" stroke="#000" stroke-width="1.8"/>
<text x="946.80" y="1235.30" font-size="18" font-weight="bold" text-anchor="end" fill="#000">0.00</text>
<line x1="986.30" y1="1241.80" x2="986.30" y2="1246.00" stroke="#000" stroke-width="1.8"/>
<text x="989.40" y="1259.60" font-size="18.3" font-weight="bold" text-anchor="middle" fill="#000">0</text>
<line x1="1172.50" y1="1241.80" x2="1172.50" y2="1246.00" stroke="#000" stroke-width="1.8"/>
<text x="1173.50" y="1259.60" font-size="18.3" font-weight="bold" text-anchor="middle" fill="#000">50,000,000</text>
<line x1="1359.50" y1="1241.80" x2="1359.50" y2="1246.00" stroke="#000" stroke-width="1.8"/>
<text x="1361.10" y="1259.60" font-size="18.3" font-weight="bold" text-anchor="middle" fill="#000">100,000,000</text>
<line x1="1546.30" y1="1241.80" x2="1546.30" y2="1246.00" stroke="#000" stroke-width="1.8"/>
<text x="1537.50" y="1259.60" font-size="18.3" font-weight="bold" text-anchor="middle" fill="#000">150,000,000</text>
<text x="1268.00" y="1278.80" font-size="18.2" font-weight="bold" text-anchor="middle" fill="#000">ChrX</text>
<text x="903.10" y="1119.80" font-size="18.4" font-weight="bold" text-anchor="middle" transform="rotate(-90 903.10 1119.80)" fill="#000">Reference allele (rel. units)</text>
<circle class="c" cx="996.5" cy="1014.3"/>
<circle class="c" cx="999.5" cy="1020.8"/>
<circle class="c" cx="1023.5" cy="1014.3"/>
<circle class="c" cx="1034.1" cy="1014.3"/>
<circle class="c" cx="1037.8" cy="1014.3"/>
<circle class="c" cx="1041.6" cy="1014.3"/>
<circle class="c" cx="1043.6" cy="1017.6"/>
<circle class="c" cx="1043.6" cy="1023.3"/>
<circle class="c" cx="1073.4" cy="1014.3"/>
<circle class="c" cx="1075.9" cy="1028.8"/>
<circle class="c" cx="1115.5" cy="1025.8"/>
<circle class="c" cx="1138.0" cy="1014.3"/>
<circle class="c" cx="1159.3" cy="1016.8"/>
<circle class="c" cx="1161.8" cy="1015.1"/>
<circle class="c" cx="1165.1" cy="1014.3"/>
<circle class="c" cx="1168.8" cy="1014.3"/>
<circle class="c" cx="1183.6" cy="1014.3"/>
<circle class="c" cx="1188.1" cy="1014.3"/>
<circle class="c" cx="1191.4" cy="1014.3"/>
<circle class="c" cx="1196.4" cy="1014.3"/>
<circle class="c" cx="1229.4" cy="1014.3"/>
<circle class="c" cx="1239.4" cy="1014.3"/>
<circle class="c" cx="1241.9" cy="1018.8"/>
<circle class="c" cx="1246.5" cy="1014.3"/>
<circle class="c" cx="1270.3" cy="1014.3"/>
<circle class="a" cx="996.0" cy="1030.1"/>
<circle class="b" cx="991.0" cy="1036.4"/>
<circle class="b" cx="986.5" cy="1049.4"/>
<circle class="b" cx="986.5" cy="1067.2"/>
<circle class="b" cx="986.5" cy="1085.2"/>
<circle class="b" cx="991.5" cy="1088.2"/>
<circle class="b" cx="994.0" cy="1102.2"/>
<circle class="b" cx="986.5" cy="1105.2"/>
<circle class="b" cx="991.5" cy="1106.5"/>
<circle class="b" cx="992.2" cy="1109.5"/>
<circle class="b" cx="991.5" cy="1151.1"/>
<circle class="b" cx="994.0" cy="1152.1"/>
<circle class="b" cx="986.5" cy="1164.6"/>
<circle class="b" cx="987.0" cy="1165.3"/>
<circle class="b" cx="994.5" cy="1169.6"/>
<circle class="b" cx="992.0" cy="1181.6"/>
<circle class="b" cx="992.0" cy="1183.4"/>
<circle class="b" cx="995.7" cy="1208.4"/>
<circle class="d" cx="996.5" cy="1045.1"/>
<circle class="d" cx="1017.8" cy="1051.4"/>
<circle class="d" cx="1017.8" cy="1059.6"/>
<circle class="d" cx="1012.0" cy="1191.1"/>
<circle class="d" cx="1044.8" cy="1200.4"/>
<circle class="d" cx="1075.9" cy="1205.9"/>
<circle class="d" cx="1153.5" cy="1159.8"/>
<circle class="d" cx="1252.5" cy="1094.0"/>
<circle class="d" cx="1258.7" cy="1094.0"/>
<circle class="c" cx="997.7" cy="1231.0"/>
<circle class="c" cx="1022.3" cy="1231.0"/>
<circle class="c" cx="1024.5" cy="1231.0"/>
<circle class="c" cx="1034.1" cy="1231.0"/>
<circle class="c" cx="1049.1" cy="1231.0"/>
<circle class="c" cx="1074.9" cy="1227.2"/>
<circle class="c" cx="1082.1" cy="1231.0"/>
<circle class="c" cx="1135.0" cy="1231.0"/>
<circle class="c" cx="1139.3" cy="1226.7"/>
<circle class="c" cx="1152.5" cy="1231.0"/>
<circle class="c" cx="1161.8" cy="1231.0"/>
<circle class="c" cx="1164.3" cy="1231.0"/>
<circle class="c" cx="1166.8" cy="1231.0"/>
<circle class="c" cx="1169.3" cy="1231.0"/>
<circle class="c" cx="1185.1" cy="1231.0"/>
<circle class="c" cx="1187.6" cy="1231.0"/>
<circle class="c" cx="1191.4" cy="1231.0"/>
<circle class="c" cx="1193.6" cy="1231.0"/>
<circle class="c" cx="1201.1" cy="1231.0"/>
<circle class="c" cx="1231.4" cy="1231.0"/>
<circle class="c" cx="1245.7" cy="1231.0"/>
<circle class="c" cx="1248.7" cy="1231.0"/>
<circle class="c" cx="1252.0" cy="1231.0"/>
<circle class="c" cx="1257.0" cy="1231.0"/>
<circle class="c" cx="1231.3" cy="1014.3"/>
<circle class="c" cx="1240.0" cy="1014.3"/>
<circle class="c" cx="1241.3" cy="1018.8"/>
<circle class="c" cx="1246.3" cy="1014.3"/>
<circle class="c" cx="1273.8" cy="1014.3"/>
<circle class="c" cx="1359.0" cy="1016.3"/>
<circle class="c" cx="1361.5" cy="1014.3"/>
<circle class="c" cx="1370.8" cy="1017.6"/>
<circle class="c" cx="1386.5" cy="1014.3"/>
<circle class="c" cx="1396.6" cy="1016.8"/>
<circle class="c" cx="1399.1" cy="1016.3"/>
<circle class="c" cx="1425.4" cy="1014.3"/>
<circle class="c" cx="1431.6" cy="1014.3"/>
<circle class="c" cx="1445.4" cy="1014.3"/>
<circle class="c" cx="1469.2" cy="1015.8"/>
<circle class="c" cx="1476.7" cy="1014.3"/>
<circle class="c" cx="1478.0" cy="1025.1"/>
<circle class="c" cx="1492.5" cy="1014.3"/>
<circle class="c" cx="1553.1" cy="1014.3"/>
<circle class="c" cx="1560.6" cy="1014.3"/>
<circle class="c" cx="1232.0" cy="1231.0"/>
<circle class="c" cx="1245.5" cy="1231.0"/>
<circle class="c" cx="1250.0" cy="1231.0"/>
<circle class="c" cx="1253.8" cy="1231.0"/>
<circle class="c" cx="1256.8" cy="1231.0"/>
<circle class="c" cx="1382.8" cy="1231.0"/>
<circle class="c" cx="1422.9" cy="1225.0"/>
<circle class="c" cx="1426.6" cy="1223.7"/>
<circle class="c" cx="1424.1" cy="1231.0"/>
<circle class="c" cx="1429.1" cy="1231.0"/>
<circle class="c" cx="1433.4" cy="1231.0"/>
<circle class="c" cx="1443.7" cy="1231.0"/>
<circle class="c" cx="1445.9" cy="1231.0"/>
<circle class="c" cx="1469.7" cy="1231.0"/>
<circle class="c" cx="1473.0" cy="1222.5"/>
<circle class="c" cx="1486.7" cy="1214.7"/>
<circle class="c" cx="1486.7" cy="1228.7"/>
<circle class="c" cx="1489.2" cy="1231.0"/>
<circle class="c" cx="1491.7" cy="1231.0"/>
<circle class="c" cx="1504.8" cy="1231.0"/>
<circle class="c" cx="1541.1" cy="1231.0"/>
<circle class="c" cx="1549.3" cy="1231.0"/>
<circle class="c" cx="1557.6" cy="1231.0"/>
<circle class="c" cx="1561.4" cy="1231.0"/>
<circle class="d" cx="1253.0" cy="1094.0"/>
<circle class="d" cx="1259.3" cy="1094.0"/>
<circle class="d" cx="1425.6" cy="1050.9"/>
<circle class="d" cx="1310.2" cy="1168.6"/>
<circle class="a" cx="1565.1" cy="1231.0"/>
<text x="1267.00" y="1090.00" font-size="17.4" font-weight="bold" text-anchor="start" font-style="italic" fill="#000">XIST</text>
<rect x="1009.80" y="2062.00" width="9.80" height="236.40" fill="#D4D4D4"/>
<line x1="1589.60" y1="2062.00" x2="1589.60" y2="2298.40" stroke="#CFCFCF" stroke-width="1.3"/>
<line x1="981.50" y1="2062.00" x2="981.50" y2="2300.40" stroke="#000" stroke-width="2.0"/>
<line x1="980.50" y1="2299.40" x2="1619.00" y2="2299.40" stroke="#000" stroke-width="2.0"/>
<line x1="976.50" y1="2071.80" x2="981.50" y2="2071.80" stroke="#000" stroke-width="1.8"/>
<text x="971.50" y="2076.60" font-size="18" font-weight="bold" text-anchor="end" fill="#000">1.00</text>
<line x1="976.50" y1="2125.98" x2="981.50" y2="2125.98" stroke="#000" stroke-width="1.8"/>
<text x="971.50" y="2130.78" font-size="18" font-weight="bold" text-anchor="end" fill="#000">0.75</text>
<line x1="976.50" y1="2180.15" x2="981.50" y2="2180.15" stroke="#000" stroke-width="1.8"/>
<text x="971.50" y="2184.95" font-size="18" font-weight="bold" text-anchor="end" fill="#000">0.50</text>
<line x1="976.50" y1="2234.32" x2="981.50" y2="2234.32" stroke="#000" stroke-width="1.8"/>
<text x="971.50" y="2239.12" font-size="18" font-weight="bold" text-anchor="end" fill="#000">0.25</text>
<line x1="976.50" y1="2288.50" x2="981.50" y2="2288.50" stroke="#000" stroke-width="1.8"/>
<text x="971.50" y="2293.30" font-size="18" font-weight="bold" text-anchor="end" fill="#000">0.00</text>
<line x1="1009.80" y1="2299.40" x2="1009.80" y2="2303.60" stroke="#000" stroke-width="1.8"/>
<text x="1012.30" y="2319.40" font-size="18.3" font-weight="bold" text-anchor="middle" fill="#000">0</text>
<line x1="1197.00" y1="2299.40" x2="1197.00" y2="2303.60" stroke="#000" stroke-width="1.8"/>
<text x="1196.20" y="2319.40" font-size="18.3" font-weight="bold" text-anchor="middle" fill="#000">50,000,000</text>
<line x1="1383.00" y1="2299.40" x2="1383.00" y2="2303.60" stroke="#000" stroke-width="1.8"/>
<text x="1383.00" y="2319.40" font-size="18.3" font-weight="bold" text-anchor="middle" fill="#000">100,000,000</text>
<line x1="1570.40" y1="2299.40" x2="1570.40" y2="2303.60" stroke="#000" stroke-width="1.8"/>
<text x="1559.50" y="2319.40" font-size="18.3" font-weight="bold" text-anchor="middle" fill="#000">150,000,000</text>
<text x="1289.90" y="2338.70" font-size="18.2" font-weight="bold" text-anchor="middle" fill="#000">ChrX</text>
<text x="927.50" y="2181.60" font-size="18.4" font-weight="bold" text-anchor="middle" transform="rotate(-90 927.50 2181.60)" fill="#000">Reference allele (rel. units)</text>
<circle class="c" cx="1022.1" cy="2071.8"/>
<circle class="c" cx="1047.4" cy="2071.8"/>
<circle class="c" cx="1085.0" cy="2071.8"/>
<circle class="c" cx="1091.3" cy="2088.9"/>
<circle class="c" cx="1152.4" cy="2071.8"/>
<circle class="c" cx="1161.5" cy="2072.6"/>
<circle class="c" cx="1185.8" cy="2071.8"/>
<circle class="c" cx="1187.0" cy="2077.6"/>
<circle class="c" cx="1190.8" cy="2080.1"/>
<circle class="c" cx="1186.3" cy="2087.6"/>
<circle class="c" cx="1187.8" cy="2086.9"/>
<circle class="c" cx="1210.3" cy="2071.8"/>
<circle class="c" cx="1214.1" cy="2071.8"/>
<circle class="c" cx="1217.8" cy="2071.8"/>
<circle class="c" cx="1210.3" cy="2080.9"/>
<circle class="c" cx="1255.9" cy="2080.9"/>
<circle class="c" cx="1270.2" cy="2071.8"/>
<circle class="c" cx="1277.2" cy="2085.1"/>
<circle class="a" cx="1010.3" cy="2081.9"/>
<circle class="a" cx="1016.1" cy="2282.6"/>
<circle class="a" cx="1018.6" cy="2285.6"/>
<circle class="b" cx="1019.6" cy="2106.9"/>
<circle class="b" cx="1010.8" cy="2139.5"/>
<circle class="b" cx="1016.1" cy="2133.5"/>
<circle class="b" cx="1017.3" cy="2138.5"/>
<circle class="b" cx="1010.8" cy="2147.8"/>
<circle class="b" cx="1015.8" cy="2146.5"/>
<circle class="b" cx="1010.8" cy="2157.3"/>
<circle class="b" cx="1016.1" cy="2156.0"/>
<circle class="b" cx="1010.8" cy="2168.1"/>
<circle class="b" cx="1010.8" cy="2176.6"/>
<circle class="b" cx="1016.1" cy="2175.3"/>
<circle class="b" cx="1010.8" cy="2187.1"/>
<circle class="b" cx="1010.8" cy="2204.7"/>
<circle class="b" cx="1010.8" cy="2212.2"/>
<circle class="b" cx="1018.6" cy="2209.7"/>
<circle class="b" cx="1010.8" cy="2233.0"/>
<circle class="b" cx="1010.8" cy="2236.0"/>
<circle class="b" cx="1010.8" cy="2238.7"/>
<circle class="b" cx="1017.3" cy="2238.7"/>
<circle class="b" cx="1010.8" cy="2257.5"/>
<circle class="b" cx="1010.8" cy="2261.3"/>
<circle class="d" cx="1067.2" cy="2104.7"/>
<circle class="d" cx="1073.0" cy="2106.4"/>
<circle class="d" cx="1073.7" cy="2111.4"/>
<circle class="d" cx="1046.7" cy="2117.2"/>
<circle class="d" cx="1023.6" cy="2127.0"/>
<circle class="d" cx="1023.6" cy="2133.5"/>
<circle class="d" cx="1041.7" cy="2141.0"/>
<circle class="d" cx="1041.7" cy="2148.5"/>
<circle class="d" cx="1022.1" cy="2153.3"/>
<circle class="d" cx="1035.9" cy="2157.0"/>
<circle class="d" cx="1023.6" cy="2191.1"/>
<circle class="d" cx="1069.2" cy="2189.9"/>
<circle class="d" cx="1019.8" cy="2214.9"/>
<circle class="d" cx="1019.8" cy="2229.2"/>
<circle class="d" cx="1058.4" cy="2255.0"/>
<circle class="d" cx="1058.4" cy="2263.1"/>
<circle class="d" cx="1082.3" cy="2261.3"/>
<circle class="d" cx="1098.5" cy="2260.6"/>
<circle class="d" cx="1161.2" cy="2111.9"/>
<circle class="d" cx="1185.3" cy="2122.7"/>
<circle class="d" cx="1161.2" cy="2242.5"/>
<circle class="d" cx="1139.4" cy="2252.3"/>
<circle class="c" cx="1022.9" cy="2269.8"/>
<circle class="c" cx="1023.4" cy="2280.1"/>
<circle class="c" cx="1019.8" cy="2288.6"/>
<circle class="c" cx="1057.4" cy="2288.6"/>
<circle class="c" cx="1070.0" cy="2285.1"/>
<circle class="c" cx="1070.0" cy="2288.6"/>
<circle class="c" cx="1099.8" cy="2280.6"/>
<circle class="c" cx="1101.8" cy="2279.3"/>
<circle class="c" cx="1172.7" cy="2271.1"/>
<circle class="c" cx="1183.3" cy="2270.1"/>
<circle class="c" cx="1184.0" cy="2271.8"/>
<circle class="c" cx="1172.7" cy="2281.9"/>
<circle class="c" cx="1176.5" cy="2288.6"/>
<circle class="c" cx="1187.8" cy="2288.6"/>
<circle class="c" cx="1192.0" cy="2280.1"/>
<circle class="c" cx="1197.0" cy="2282.6"/>
<circle class="c" cx="1197.0" cy="2288.6"/>
<circle class="c" cx="1254.2" cy="2283.6"/>
<circle class="c" cx="1259.7" cy="2288.6"/>
<circle class="c" cx="1265.2" cy="2280.6"/>
<circle class="c" cx="1266.0" cy="2283.1"/>
<circle class="c" cx="1272.2" cy="2288.6"/>
<circle class="c" cx="1255.3" cy="2080.9"/>
<circle class="c" cx="1269.6" cy="2071.8"/>
<circle class="c" cx="1284.6" cy="2071.8"/>
<circle class="c" cx="1287.6" cy="2071.8"/>
<circle class="c" cx="1290.9" cy="2071.8"/>
<circle class="c" cx="1293.4" cy="2071.8"/>
<circle class="c" cx="1277.1" cy="2085.1"/>
<circle class="c" cx="1282.6" cy="2091.4"/>
<circle class="c" cx="1395.7" cy="2071.8"/>
<circle class="c" cx="1422.5" cy="2071.8"/>
<circle class="c" cx="1393.2" cy="2091.4"/>
<circle class="c" cx="1407.4" cy="2085.1"/>
<circle class="c" cx="1413.2" cy="2088.9"/>
<circle class="c" cx="1457.6" cy="2081.4"/>
<circle class="c" cx="1457.6" cy="2085.1"/>
<circle class="c" cx="1455.8" cy="2088.1"/>
<circle class="c" cx="1453.3" cy="2089.4"/>
<circle class="c" cx="1567.8" cy="2071.8"/>
<circle class="c" cx="1579.1" cy="2071.8"/>
<circle class="c" cx="1582.4" cy="2071.8"/>
<circle class="c" cx="1585.4" cy="2071.8"/>
<circle class="c" cx="1580.4" cy="2081.4"/>
<circle class="c" cx="1576.6" cy="2085.9"/>
<circle class="c" cx="1580.4" cy="2085.9"/>
<circle class="c" cx="1584.1" cy="2085.1"/>
<circle class="c" cx="1579.1" cy="2091.4"/>
<circle class="a" cx="1589.6" cy="2071.8"/>
<circle class="a" cx="1590.4" cy="2288.6"/>
<circle class="d" cx="1334.0" cy="2108.9"/>
<circle class="d" cx="1382.9" cy="2097.1"/>
<circle class="d" cx="1391.9" cy="2099.6"/>
<circle class="d" cx="1406.7" cy="2095.9"/>
<circle class="d" cx="1411.2" cy="2101.4"/>
<circle class="d" cx="1407.4" cy="2130.2"/>
<circle class="d" cx="1449.5" cy="2120.7"/>
<circle class="d" cx="1569.8" cy="2107.7"/>
<circle class="d" cx="1581.6" cy="2096.4"/>
<circle class="d" cx="1581.6" cy="2100.2"/>
<circle class="d" cx="1581.6" cy="2105.2"/>
<circle class="d" cx="1450.0" cy="2207.4"/>
<circle class="d" cx="1450.0" cy="2231.0"/>
<circle class="d" cx="1450.0" cy="2257.5"/>
<circle class="d" cx="1356.8" cy="2246.3"/>
<circle class="d" cx="1382.9" cy="2250.5"/>
<circle class="d" cx="1411.2" cy="2253.0"/>
<circle class="d" cx="1420.7" cy="2253.5"/>
<circle class="d" cx="1579.9" cy="2216.2"/>
<circle class="d" cx="1584.1" cy="2235.5"/>
<circle class="d" cx="1579.1" cy="2240.5"/>
<circle class="d" cx="1581.6" cy="2244.3"/>
<circle class="d" cx="1584.1" cy="2248.0"/>
<circle class="d" cx="1569.8" cy="2248.0"/>
<circle class="d" cx="1580.4" cy="2248.0"/>
<circle class="d" cx="1584.1" cy="2253.0"/>
<circle class="d" cx="1574.1" cy="2261.3"/>
<circle class="d" cx="1584.1" cy="2260.6"/>
<circle class="d" cx="1581.6" cy="2264.3"/>
<circle class="c" cx="1254.1" cy="2283.6"/>
<circle class="c" cx="1259.1" cy="2288.6"/>
<circle class="c" cx="1265.3" cy="2280.6"/>
<circle class="c" cx="1265.3" cy="2283.1"/>
<circle class="c" cx="1271.6" cy="2288.6"/>
<circle class="c" cx="1297.2" cy="2275.1"/>
<circle class="c" cx="1298.4" cy="2288.6"/>
<circle class="c" cx="1384.9" cy="2268.1"/>
<circle class="c" cx="1386.1" cy="2283.1"/>
<circle class="c" cx="1386.1" cy="2288.6"/>
<circle class="c" cx="1411.2" cy="2280.1"/>
<circle class="c" cx="1449.5" cy="2267.6"/>
<circle class="c" cx="1453.1" cy="2268.8"/>
<circle class="c" cx="1453.8" cy="2288.6"/>
<circle class="c" cx="1478.1" cy="2288.6"/>
<circle class="c" cx="1496.9" cy="2284.9"/>
<circle class="c" cx="1496.9" cy="2288.6"/>
<circle class="c" cx="1511.9" cy="2279.3"/>
<circle class="c" cx="1510.9" cy="2288.6"/>
<circle class="c" cx="1515.2" cy="2288.6"/>
<circle class="c" cx="1530.7" cy="2288.6"/>
<circle class="c" cx="1534.5" cy="2288.6"/>
<circle class="c" cx="1581.6" cy="2271.8"/>
<circle class="c" cx="1584.1" cy="2277.3"/>
<circle class="c" cx="1580.4" cy="2281.1"/>
<circle class="c" cx="1574.1" cy="2288.6"/>
<circle class="c" cx="1579.1" cy="2288.6"/>
<circle class="c" cx="1582.4" cy="2288.6"/>
<circle class="c" cx="1585.4" cy="2288.6"/>
<text x="1305.00" y="2081.00" font-size="17.4" font-weight="bold" text-anchor="start" font-style="italic" fill="#000">XIST</text>
<line x1="1289.00" y1="2092.00" x2="1299.70" y2="2080.00" stroke="#000" stroke-width="1.6"/>
<rect x="54.30" y="1414.0" width="744.50" height="17.6" fill="#BEBEBE"/>
<line x1="153.4" y1="1413.5" x2="153.4" y2="1431.8" stroke="#111" stroke-width="2"/>
<line x1="302.4" y1="1413.5" x2="302.4" y2="1431.8" stroke="#111" stroke-width="2"/>
<line x1="600.4" y1="1413.5" x2="600.4" y2="1431.8" stroke="#111" stroke-width="2"/>
<line x1="651.4" y1="1413.5" x2="651.4" y2="1431.8" stroke="#111" stroke-width="2"/>
<line x1="749.3" y1="1413.5" x2="749.3" y2="1431.8" stroke="#111" stroke-width="2"/>
<text x="95.50" y="1429.60" font-size="19" font-weight="bold" text-anchor="middle">XX</text>
<text x="230.50" y="1429.60" font-size="19" font-weight="bold" text-anchor="middle">XY</text>
<text x="452.60" y="1429.60" font-size="19" font-weight="bold" text-anchor="middle">XXY</text>
<text x="626.00" y="1429.60" font-size="19" font-weight="bold" text-anchor="middle">XXXY</text>
<text x="698.50" y="1429.60" font-size="19" font-weight="bold" text-anchor="middle">XXXXY</text>
<text x="775.00" y="1429.60" font-size="19" font-weight="bold" text-anchor="middle">XXY</text>
<rect x="54.30" y="1439.00" width="744.50" height="818.80" fill="#DCDCDC"/>
<path fill="#DC6F66" d="M54.3 1478.83H102.2V1480.84H54.3zM102.2 1476.33H152.0V1481.34H102.2zM152.0 1478.83H201.8V1483.84H152.0zM201.8 1478.83H251.5V1480.84H201.8zM351.0 1478.83H400.8V1483.84H351.0zM400.8 1478.83H450.5V1481.34H400.8zM54.3 1488.85H102.2V1491.36H54.3zM201.8 1486.85H251.5V1489.35H201.8zM301.2 1486.85H351.0V1489.35H301.2zM351.0 1486.85H400.8V1492.11H351.0zM400.8 1488.85H450.5V1494.36H400.8zM54.3 1511.39H102.2V1515.65H54.3zM102.2 1508.14H152.0V1518.41H102.2zM351.0 1510.89H450.5V1515.90H351.0zM351.0 1521.41H400.8V1523.92H351.0zM351.0 1526.92H450.5V1528.93H351.0zM54.3 1526.92H102.2V1534.44H54.3zM102.2 1526.92H152.0V1531.93H102.2zM450.5 1478.83H550.0V1480.59H450.5zM450.5 1486.85H550.0V1488.85H450.5zM450.5 1492.61H550.0V1496.37H450.5zM450.5 1515.65H500.2V1517.65H450.5zM450.5 1529.43H599.8V1531.43H450.5zM550.0 1470.82H599.8V1472.57H550.0zM550.0 1478.83H749.0V1480.59H550.0zM550.0 1492.11H599.8V1499.62H550.0zM550.0 1515.65H599.8V1517.65H550.0zM599.8 1446.77H649.5V1448.27H599.8zM599.8 1484.34H649.5V1488.85H599.8zM599.8 1495.11H649.5V1496.62H599.8zM599.8 1513.90H649.5V1518.41H599.8zM599.8 1526.92H749.0V1532.68H599.8zM649.5 1486.85H699.2V1488.85H649.5zM649.5 1492.61H699.2V1496.37H649.5zM649.5 1513.90H699.2V1520.91H649.5zM699.2 1492.61H749.0V1494.36H699.2zM699.2 1508.14H749.0V1515.90H699.2zM749.0 1478.83H798.8V1484.34H749.0zM749.0 1515.90H798.8V1518.41H749.0zM749.0 1526.92H798.8V1528.93H749.0zM102.2 1535.00H152.0V1537.00H102.2zM54.3 1558.79H152.0V1561.30H54.3zM152.0 1570.07H201.8V1572.07H152.0zM54.3 1583.09H152.0V1590.60H54.3zM102.2 1596.37H152.0V1598.37H102.2zM54.3 1601.88H152.0V1603.88H54.3zM54.3 1610.14H152.0V1617.65H54.3zM54.3 1623.17H152.0V1630.68H54.3zM54.3 1633.43H152.0V1634.94H54.3zM301.2 1598.87H351.0V1601.37H301.2zM450.5 1537.50H500.2V1539.51H450.5zM500.2 1535.00H550.0V1540.01H500.2zM599.8 1535.00H749.0V1537.00H599.8zM450.5 1543.02H550.0V1545.02H450.5zM599.8 1540.51H649.5V1548.02H599.8zM649.5 1540.51H699.2V1545.02H649.5zM699.2 1545.52H749.0V1548.02H699.2zM749.0 1551.28H798.8V1553.79H749.0zM500.2 1558.79H550.0V1563.80H500.2zM599.8 1559.30H749.0V1561.30H599.8zM550.0 1564.30H599.8V1567.06H550.0zM450.5 1572.57H550.0V1577.58H450.5zM550.0 1572.57H599.8V1580.08H550.0zM749.0 1572.57H798.8V1575.08H749.0zM450.5 1580.59H500.2V1582.59H450.5zM649.5 1580.59H699.2V1582.59H649.5zM699.2 1582.59H749.0V1590.60H699.2zM550.0 1588.10H699.2V1590.10H550.0zM450.5 1596.37H550.0V1598.37H450.5zM749.0 1591.36H798.8V1593.86H749.0zM699.2 1596.37H798.8V1598.37H699.2zM599.8 1602.13H649.5V1609.64H599.8zM649.5 1602.13H749.0V1603.88H649.5zM649.5 1607.64H699.2V1609.64H649.5zM550.0 1612.65H599.8V1617.65H550.0zM599.8 1614.65H699.2V1617.15H599.8zM699.2 1610.14H749.0V1617.65H699.2zM749.0 1612.65H798.8V1614.65H749.0zM550.0 1620.66H599.8V1622.66H550.0zM749.0 1620.16H798.8V1622.66H749.0zM599.8 1623.17H749.0V1630.18H599.8zM450.5 1626.42H550.0V1628.43H450.5zM550.0 1628.93H599.8V1631.43H550.0zM599.8 1631.43H649.5V1633.94H599.8zM54.3 1635.00H152.0V1636.25H54.3zM54.3 1645.02H102.2V1649.53H54.3zM102.2 1647.02H152.0V1649.53H102.2zM54.3 1666.31H152.0V1668.31H54.3zM152.0 1668.81H201.8V1670.82H152.0zM54.3 1671.82H152.0V1679.33H54.3zM54.3 1685.09H102.2V1687.10H54.3zM102.2 1685.09H152.0V1689.60H102.2zM102.2 1700.87H152.0V1702.88H102.2zM54.3 1708.89H152.0V1710.89H54.3zM251.5 1639.26H301.2V1641.26H251.5zM351.0 1674.32H400.8V1676.33H351.0zM301.2 1700.87H351.0V1702.88H301.2zM550.0 1635.00H599.8V1642.01H550.0zM699.2 1635.00H749.0V1637.00H699.2zM599.8 1638.76H798.8V1641.26H599.8zM500.2 1644.52H550.0V1649.53H500.2zM450.5 1647.02H500.2V1649.53H450.5zM599.8 1647.02H749.0V1649.53H599.8zM550.0 1650.03H599.8V1652.53H550.0zM749.0 1655.04H798.8V1657.54H749.0zM550.0 1660.05H699.2V1663.05H550.0zM450.5 1666.31H550.0V1668.31H450.5zM699.2 1666.31H749.0V1668.31H699.2zM749.0 1663.80H798.8V1671.32H749.0zM550.0 1671.32H599.8V1676.33H550.0zM599.8 1671.32H749.0V1679.58H599.8zM749.0 1673.82H798.8V1681.84H749.0zM450.5 1681.84H500.2V1683.84H450.5zM699.2 1684.34H749.0V1686.85H699.2zM450.5 1692.61H500.2V1695.11H450.5zM500.2 1693.86H599.8V1700.12H500.2zM599.8 1692.61H649.5V1700.12H599.8zM649.5 1690.60H699.2V1700.12H649.5zM749.0 1692.61H798.8V1695.11H749.0zM649.5 1703.38H749.0V1705.63H649.5zM450.5 1706.38H599.8V1708.14H450.5zM500.2 1708.14H550.0V1710.89H500.2zM599.8 1711.39H699.2V1713.90H599.8zM450.5 1716.40H550.0V1718.91H450.5zM550.0 1714.65H599.8V1723.92H550.0zM599.8 1716.40H699.2V1721.41H599.8zM749.0 1716.40H798.8V1721.41H749.0zM500.2 1724.67H550.0V1727.17H500.2zM599.8 1727.67H699.2V1729.68H599.8zM450.5 1732.68H599.8V1734.94H450.5zM54.3 1738.26H152.0V1740.51H54.3zM54.3 1746.27H102.2V1748.27H54.3zM102.2 1746.27H152.0V1751.28H102.2zM54.3 1754.29H152.0V1759.30H54.3zM54.3 1765.06H152.0V1772.57H54.3zM54.3 1775.58H152.0V1778.08H54.3zM54.3 1783.84H152.0V1786.10H54.3zM54.3 1805.63H152.0V1813.15H54.3zM54.3 1818.91H152.0V1823.92H54.3zM54.3 1826.67H152.0V1828.93H54.3zM54.3 1832.18H152.0V1834.94H54.3zM152.0 1832.18H201.8V1834.94H152.0zM251.5 1762.55H301.2V1764.56H251.5zM251.5 1775.83H301.2V1777.83H251.5zM400.8 1762.55H450.5V1764.56H400.8zM251.5 1821.41H351.0V1823.42H251.5zM351.0 1832.18H450.5V1834.94H351.0zM450.5 1735.00H550.0V1736.25H450.5zM550.0 1735.00H599.8V1740.01H550.0zM599.8 1735.00H699.2V1737.50H599.8zM699.2 1738.01H798.8V1740.51H699.2zM450.5 1738.26H550.0V1742.51H450.5zM450.5 1745.02H699.2V1747.52H450.5zM699.2 1743.77H749.0V1748.02H699.2zM649.5 1752.03H699.2V1754.04H649.5zM450.5 1757.04H500.2V1763.05H450.5zM500.2 1760.05H550.0V1762.05H500.2zM550.0 1757.04H599.8V1759.55H550.0zM599.8 1759.55H649.5V1762.05H599.8zM649.5 1759.55H699.2V1765.06H649.5zM699.2 1754.54H749.0V1772.57H699.2zM749.0 1757.04H798.8V1759.55H749.0zM749.0 1762.05H798.8V1764.56H749.0zM550.0 1765.06H599.8V1767.06H550.0zM749.0 1767.56H798.8V1770.07H749.0zM550.0 1770.57H599.8V1773.07H550.0zM599.8 1768.06H699.2V1775.58H599.8zM699.2 1776.33H749.0V1781.34H699.2zM550.0 1783.84H749.0V1786.35H550.0zM749.0 1786.35H798.8V1788.85H749.0zM649.5 1789.60H699.2V1791.61H649.5zM450.5 1792.11H599.8V1794.61H450.5zM649.5 1794.61H749.0V1796.62H649.5zM550.0 1797.62H599.8V1799.62H550.0zM450.5 1799.62H550.0V1802.13H450.5zM550.0 1802.63H699.2V1810.14H550.0zM500.2 1808.14H550.0V1810.14H500.2zM699.2 1805.63H798.8V1812.65H699.2zM450.5 1813.40H599.8V1815.65H450.5zM699.2 1816.40H749.0V1822.16H699.2zM599.8 1818.91H699.2V1823.92H599.8zM450.5 1821.41H550.0V1825.67H450.5zM749.0 1821.41H798.8V1823.92H749.0zM699.2 1826.42H749.0V1828.93H699.2zM599.8 1829.68H699.2V1834.94H599.8zM699.2 1832.18H798.8V1834.94H699.2zM54.3 1835.00H152.0V1839.51H54.3zM351.0 1835.00H450.5V1839.51H351.0zM301.2 1842.51H351.0V1845.02H301.2zM54.3 1845.52H102.2V1847.52H54.3zM54.3 1863.80H102.2V1868.81H54.3zM102.2 1863.80H152.0V1866.31H102.2zM351.0 1863.80H450.5V1866.31H351.0zM351.0 1872.07H400.8V1874.07H351.0zM54.3 1883.09H152.0V1888.10H54.3zM54.3 1891.36H152.0V1898.87H54.3zM54.3 1901.37H152.0V1903.88H54.3zM400.8 1895.86H450.5V1901.37H400.8zM351.0 1898.87H400.8V1901.37H351.0zM351.0 1903.88H400.8V1909.39H351.0zM201.8 1909.39H251.5V1911.89H201.8zM102.2 1912.14H152.0V1914.65H102.2zM54.3 1922.66H102.2V1924.67H54.3zM102.2 1925.67H152.0V1933.18H102.2zM54.3 1928.17H102.2V1933.18H54.3zM450.5 1837.50H550.0V1839.51H450.5zM599.8 1835.00H798.8V1837.00H599.8zM699.2 1835.00H749.0V1839.51H699.2zM649.5 1845.52H699.2V1847.52H649.5zM450.5 1846.27H500.2V1855.54H450.5zM500.2 1848.02H550.0V1855.54H500.2zM599.8 1856.29H649.5V1858.29H599.8zM699.2 1858.79H749.0V1861.30H699.2zM599.8 1861.30H699.2V1863.80H599.8zM450.5 1864.56H599.8V1866.56H450.5zM749.0 1864.56H798.8V1869.06H749.0zM550.0 1872.57H599.8V1874.57H550.0zM749.0 1872.57H798.8V1874.57H749.0zM749.0 1877.58H798.8V1882.59H749.0zM599.8 1883.09H749.0V1888.10H599.8zM699.2 1891.36H749.0V1895.61H699.2zM550.0 1896.37H599.8V1898.37H550.0zM450.5 1907.14H550.0V1911.39H450.5zM450.5 1915.15H550.0V1917.15H450.5zM450.5 1920.16H500.2V1922.16H450.5zM599.8 1925.67H649.5V1933.18H599.8zM649.5 1927.67H699.2V1933.18H649.5zM699.2 1925.67H749.0V1933.18H699.2zM450.5 1930.93H550.0V1933.18H450.5zM54.3 1942.01H102.2V1944.02H54.3zM102.2 1938.76H152.0V1944.02H102.2zM102.2 1947.02H152.0V1949.28H102.2zM54.3 1955.04H152.0V1967.56H54.3zM102.2 1973.82H152.0V1975.83H102.2zM54.3 1987.10H152.0V1989.10H54.3zM54.3 1995.11H152.0V1997.12H54.3zM301.2 1998.12H351.0V2000.12H301.2zM54.3 2011.39H152.0V2016.40H54.3zM54.3 2021.91H152.0V2024.17H54.3zM54.3 2027.17H102.2V2029.18H54.3zM450.5 1936.25H500.2V1938.51H450.5zM450.5 1942.01H500.2V1944.02H450.5zM500.2 1942.01H550.0V1957.04H500.2zM450.5 1947.52H500.2V1957.04H450.5zM599.8 1942.01H798.8V1944.02H599.8zM699.2 1955.04H749.0V1967.56H699.2zM550.0 1960.05H699.2V1962.55H550.0zM450.5 1960.05H550.0V1967.56H450.5zM749.0 1957.54H798.8V1960.05H749.0zM599.8 1965.56H699.2V1967.56H599.8zM749.0 1968.06H798.8V1970.57H749.0zM450.5 1973.82H500.2V1978.83H450.5zM500.2 1973.82H550.0V1975.83H500.2zM500.2 1979.58H550.0V1984.09H500.2zM649.5 1973.82H749.0V1975.83H649.5zM649.5 1984.59H699.2V1986.60H649.5zM699.2 1984.59H749.0V1989.10H699.2zM450.5 1987.10H550.0V1995.11H450.5zM599.8 1995.11H699.2V2000.12H599.8zM699.2 1995.11H749.0V1997.12H699.2zM749.0 1997.62H798.8V2000.12H749.0zM500.2 2003.13H550.0V2005.13H500.2zM699.2 2005.88H749.0V2008.39H699.2zM599.8 2008.89H649.5V2016.40H599.8zM649.5 2008.89H699.2V2018.91H649.5zM699.2 2011.39H749.0V2016.40H699.2zM450.5 2011.39H550.0V2013.40H450.5zM699.2 2021.41H749.0V2023.92H699.2zM749.0 2024.67H798.8V2027.17H749.0zM450.5 2029.68H500.2V2032.18H450.5zM599.8 2029.68H699.2V2032.18H599.8zM749.0 2029.68H798.8V2032.68H749.0zM699.2 2032.68H749.0V2034.94H699.2zM54.3 2038.26H152.0V2040.51H54.3zM102.2 2046.27H152.0V2048.27H102.2zM54.3 2051.53H152.0V2053.53H54.3zM54.3 2065.06H152.0V2075.08H54.3zM54.3 2083.84H102.2V2093.86H54.3zM102.2 2085.85H152.0V2093.86H102.2zM351.0 2067.56H400.8V2069.56H351.0zM54.3 2097.12H152.0V2099.12H54.3zM54.3 2102.63H152.0V2104.63H54.3zM54.3 2110.64H152.0V2112.65H54.3zM102.2 2115.90H152.0V2117.91H102.2zM54.3 2123.92H102.2V2125.92H54.3zM102.2 2126.92H152.0V2128.93H102.2zM54.3 2132.18H152.0V2134.19H54.3zM450.5 2038.26H550.0V2040.51H450.5zM450.5 2043.77H550.0V2045.77H450.5zM450.5 2049.28H500.2V2053.79H450.5zM500.2 2049.28H550.0V2051.28H500.2zM500.2 2054.29H550.0V2056.79H500.2zM450.5 2059.55H550.0V2064.56H450.5zM450.5 2073.07H550.0V2075.08H450.5zM450.5 2083.84H550.0V2085.85H450.5zM500.2 2088.85H550.0V2091.36H500.2zM450.5 2092.11H550.0V2096.62H450.5zM550.0 2092.11H599.8V2099.12H550.0zM450.5 2099.62H500.2V2104.63H450.5zM500.2 2099.62H550.0V2109.64H500.2zM450.5 2107.64H500.2V2109.64H450.5zM450.5 2112.65H550.0V2115.15H450.5zM550.0 2110.14H699.2V2115.15H550.0zM450.5 2118.91H500.2V2120.91H450.5zM550.0 2128.93H599.8V2130.93H550.0zM599.8 2036.25H649.5V2045.02H599.8zM649.5 2036.25H699.2V2041.26H649.5zM649.5 2042.51H749.0V2045.02H649.5zM699.2 2036.25H749.0V2038.76H699.2zM599.8 2049.28H699.2V2053.79H599.8zM699.2 2051.53H749.0V2053.53H699.2zM749.0 2057.04H798.8V2059.05H749.0zM599.8 2065.06H649.5V2070.07H599.8zM649.5 2065.06H749.0V2075.08H649.5zM599.8 2073.07H649.5V2075.08H599.8zM749.0 2073.07H798.8V2075.08H749.0zM599.8 2078.08H649.5V2082.59H599.8zM649.5 2078.08H699.2V2082.59H649.5zM699.2 2083.84H749.0V2092.61H699.2zM599.8 2092.11H699.2V2096.62H599.8zM699.2 2097.12H749.0V2099.12H699.2zM749.0 2091.36H798.8V2099.12H749.0zM599.8 2102.13H749.0V2104.13H599.8zM699.2 2110.14H798.8V2112.65H699.2zM649.5 2118.91H699.2V2120.91H649.5zM699.2 2123.92H749.0V2128.93H699.2zM749.0 2121.41H798.8V2125.67H749.0zM699.2 2131.43H749.0V2133.43H699.2zM649.5 2133.94H699.2V2134.94H649.5zM54.3 2145.02H102.2V2150.03H54.3zM102.2 2147.52H152.0V2150.03H102.2zM54.3 2156.29H102.2V2158.29H54.3zM102.2 2156.29H152.0V2166.31H102.2zM54.3 2160.80H102.2V2171.32H54.3zM201.8 2156.29H251.5V2158.29H201.8zM201.8 2174.57H251.5V2176.58H201.8zM54.3 2177.58H152.0V2179.58H54.3zM54.3 2185.59H152.0V2187.60H54.3zM54.3 2201.37H152.0V2208.89H54.3zM54.3 2228.43H152.0V2230.43H54.3zM54.3 2233.43H152.0V2243.95H54.3zM54.3 2255.23H152.0V2257.23H54.3zM351.0 2139.51H400.8V2142.01H351.0zM400.8 2137.00H450.5V2142.01H400.8zM351.0 2156.29H400.8V2160.05H351.0zM351.0 2162.55H400.8V2166.31H351.0zM400.8 2156.29H450.5V2166.31H400.8zM351.0 2185.09H400.8V2187.60H351.0zM351.0 2189.60H400.8V2192.61H351.0zM400.8 2185.09H450.5V2192.61H400.8zM351.0 2195.86H450.5V2198.37H351.0zM351.0 2201.37H450.5V2220.16H351.0zM649.5 2135.00H699.2V2136.50H649.5zM450.5 2145.02H500.2V2152.53H450.5zM500.2 2142.51H550.0V2150.03H500.2zM450.5 2156.29H550.0V2158.29H450.5zM550.0 2158.79H599.8V2166.31H550.0zM450.5 2163.80H550.0V2166.31H450.5zM599.8 2163.80H699.2V2166.31H599.8zM649.5 2156.29H699.2V2158.29H649.5zM699.2 2145.02H749.0V2157.54H699.2zM699.2 2160.05H749.0V2166.31H699.2zM749.0 2142.51H798.8V2144.52H749.0zM749.0 2158.79H798.8V2160.80H749.0zM749.0 2163.30H798.8V2166.31H749.0zM550.0 2172.07H599.8V2174.07H550.0zM550.0 2177.58H599.8V2179.58H550.0zM550.0 2185.09H599.8V2187.10H550.0zM450.5 2180.08H500.2V2182.09H450.5zM500.2 2177.58H550.0V2185.09H500.2zM699.2 2177.58H749.0V2179.58H699.2zM699.2 2185.09H749.0V2187.10H699.2zM550.0 2201.37H599.8V2220.16H550.0zM450.5 2201.37H550.0V2224.67H450.5zM550.0 2222.16H599.8V2224.67H550.0zM599.8 2206.38H699.2V2208.89H599.8zM699.2 2201.37H749.0V2208.89H699.2zM450.5 2230.93H500.2V2232.93H450.5zM450.5 2236.44H550.0V2243.95H450.5zM550.0 2236.44H599.8V2243.95H550.0zM450.5 2247.71H550.0V2254.72H450.5zM599.8 2236.44H699.2V2238.44H599.8zM599.8 2241.45H699.2V2246.46H599.8zM699.2 2228.17H749.0V2230.18H699.2zM699.2 2233.43H749.0V2243.95H699.2zM699.2 2254.72H749.0V2256.73H699.2zM749.0 2230.93H798.8V2232.93H749.0z"/>
<path fill="#69BDC3" d="M54.3 1439.51H102.2V1448.78H54.3zM102.2 1439.51H152.0V1446.27H102.2zM152.0 1439.51H251.5V1448.78H152.0zM251.5 1439.51H400.8V1446.27H251.5zM400.8 1439.51H450.5V1441.26H400.8zM400.8 1444.27H450.5V1446.77H400.8zM351.0 1449.28H450.5V1451.78H351.0zM400.8 1455.04H450.5V1465.06H400.8zM54.3 1459.55H400.8V1465.06H54.3zM54.3 1467.56H152.0V1473.07H54.3zM152.0 1470.07H251.5V1473.07H152.0zM251.5 1467.56H351.0V1470.82H251.5zM400.8 1470.82H450.5V1473.07H400.8zM54.3 1475.83H102.2V1478.08H54.3zM251.5 1475.83H351.0V1478.83H251.5zM400.8 1475.08H450.5V1478.08H400.8zM201.8 1481.34H251.5V1483.84H201.8zM54.3 1481.34H102.2V1486.35H54.3zM400.8 1481.34H450.5V1488.85H400.8zM351.0 1484.34H400.8V1486.35H351.0zM54.3 1502.13H152.0V1505.13H54.3zM351.0 1500.62H450.5V1505.63H351.0zM54.3 1508.14H102.2V1510.64H54.3zM450.5 1439.51H500.2V1449.53H450.5zM450.5 1451.53H500.2V1454.04H450.5zM450.5 1457.04H500.2V1472.57H450.5zM500.2 1439.51H550.0V1456.29H500.2zM500.2 1460.05H550.0V1472.57H500.2zM450.5 1480.84H550.0V1483.84H450.5zM450.5 1497.12H550.0V1499.62H450.5zM450.5 1502.63H550.0V1504.63H450.5zM450.5 1510.14H500.2V1512.65H450.5zM550.0 1439.51H599.8V1446.77H550.0zM550.0 1457.04H599.8V1465.06H550.0zM550.0 1467.56H599.8V1470.07H550.0zM550.0 1472.57H599.8V1477.58H550.0zM599.8 1439.51H649.5V1446.27H599.8zM599.8 1451.53H699.2V1454.29H599.8zM599.8 1460.05H798.8V1465.06H599.8zM599.8 1467.56H699.2V1473.07H599.8zM599.8 1475.83H699.2V1478.08H599.8zM599.8 1502.13H699.2V1508.14H599.8zM649.5 1439.51H749.0V1448.78H649.5zM649.5 1484.34H749.0V1486.35H649.5zM699.2 1467.56H749.0V1478.08H699.2zM699.2 1483.84H749.0V1488.85H699.2zM699.2 1502.13H749.0V1505.13H699.2zM749.0 1439.51H798.8V1446.27H749.0zM749.0 1451.53H798.8V1454.29H749.0zM749.0 1457.04H798.8V1465.06H749.0zM749.0 1467.56H798.8V1472.57H749.0zM749.0 1475.83H798.8V1478.08H749.0zM749.0 1492.11H798.8V1500.12H749.0zM749.0 1502.13H798.8V1508.14H749.0zM749.0 1512.65H798.8V1515.15H749.0zM749.0 1528.93H798.8V1532.18H749.0zM54.3 1535.00H102.2V1537.00H54.3zM54.3 1545.02H152.0V1553.79H54.3zM54.3 1556.29H152.0V1558.79H54.3zM550.0 1545.02H599.8V1550.53H550.0zM649.5 1545.52H699.2V1548.02H649.5zM749.0 1542.51H798.8V1545.02H749.0zM699.2 1548.02H749.0V1553.79H699.2zM450.5 1551.28H500.2V1553.79H450.5zM500.2 1551.28H550.0V1556.29H500.2zM550.0 1556.29H599.8V1561.30H550.0zM699.2 1556.29H749.0V1559.30H699.2zM450.5 1558.79H500.2V1561.30H450.5zM749.0 1558.79H798.8V1564.30H749.0zM749.0 1567.06H798.8V1569.56H749.0zM749.0 1577.58H798.8V1585.85H749.0zM450.5 1591.36H550.0V1596.37H450.5zM550.0 1590.60H699.2V1593.86H550.0zM749.0 1607.14H798.8V1609.64H749.0zM749.0 1617.65H798.8V1620.16H749.0zM749.0 1633.43H798.8V1634.94H749.0zM54.3 1642.01H152.0V1644.52H54.3zM54.3 1652.53H102.2V1658.04H54.3zM102.2 1652.53H152.0V1660.55H102.2zM749.0 1635.00H798.8V1637.00H749.0zM450.5 1642.01H749.0V1644.52H450.5zM749.0 1646.27H798.8V1650.53H749.0zM450.5 1655.04H500.2V1657.54H450.5zM599.8 1655.04H649.5V1657.54H599.8zM699.2 1652.53H749.0V1658.04H699.2zM749.0 1652.53H798.8V1655.04H749.0zM599.8 1679.58H649.5V1682.09H599.8zM450.5 1695.11H500.2V1697.62H450.5zM699.2 1708.39H749.0V1710.89H699.2zM54.3 1912.14H102.2V1914.65H54.3zM649.5 1856.29H699.2V1858.29H649.5zM749.0 1858.79H798.8V1861.30H749.0zM599.8 1864.56H699.2V1866.56H599.8zM699.2 1864.56H749.0V1866.56H699.2zM699.2 1870.07H749.0V1872.07H699.2zM749.0 1883.09H798.8V1885.09H749.0zM699.2 1901.37H749.0V1903.38H699.2zM599.8 1907.14H699.2V1909.14H599.8zM749.0 1907.14H798.8V1909.14H749.0zM699.2 1912.14H749.0V1914.65H699.2zM749.0 1917.65H798.8V1919.66H749.0zM500.2 1920.16H550.0V1922.66H500.2zM749.0 1927.67H798.8V1930.68H749.0zM749.0 1933.18H798.8V1934.94H749.0zM54.3 1973.82H102.2V1975.83H54.3zM54.3 2005.88H102.2V2008.39H54.3zM749.0 1935.00H798.8V1936.50H749.0zM749.0 1952.03H798.8V1955.04H749.0zM450.5 1979.58H500.2V1981.59H450.5zM599.8 1973.82H649.5V1975.83H599.8zM749.0 1973.82H798.8V1975.83H749.0zM749.0 1979.08H798.8V1981.59H749.0zM749.0 1986.60H798.8V1992.11H749.0zM749.0 1995.11H798.8V1997.62H749.0zM649.5 2011.39H699.2V2013.40H649.5zM749.0 2011.39H798.8V2016.40H749.0zM749.0 2018.91H798.8V2021.41H749.0zM102.2 2083.84H152.0V2085.85H102.2zM749.0 2043.27H798.8V2045.52H749.0zM102.2 2145.02H152.0V2147.52H102.2zM351.0 2212.14H400.8V2217.15H351.0zM749.0 2147.02H798.8V2150.03H749.0zM749.0 2160.80H798.8V2163.30H749.0zM749.0 2177.08H798.8V2182.09H749.0zM749.0 2185.09H798.8V2187.60H749.0zM749.0 2190.60H798.8V2208.89H749.0zM749.0 2212.14H798.8V2214.65H749.0zM749.0 2222.66H798.8V2225.17H749.0zM749.0 2236.44H798.8V2243.95H749.0z"/>
<rect x="54.30" y="2093.4" width="744.50" height="0.9" fill="#EFEFEF"/>
<rect x="32.4" y="1439.0" width="17.6" height="45.6" fill="#D2B62E"/>
<rect x="32.4" y="1484.6" width="17.6" height="777.4" fill="#243D20"/>
<rect x="32.4" y="2093.3" width="17.6" height="1.1" fill="#D8DDD6"/>
<text x="26.00" y="1462.00" font-size="21" font-weight="bold" text-anchor="middle" transform="rotate(-90 26.00 1462.00)">PAR</text>
<text x="26.30" y="1852.00" font-size="22" font-weight="bold" text-anchor="middle" transform="rotate(-90 26.30 1852.00)">non PAR</text>
<text x="71.38" y="2267.50" font-size="19" font-weight="bold" text-anchor="start" transform="rotate(90 71.38 2267.50)">HM#A</text>
<text x="120.22" y="2267.50" font-size="19" font-weight="bold" text-anchor="start" transform="rotate(90 120.22 2267.50)">HM#B</text>
<text x="169.97" y="2267.50" font-size="19" font-weight="bold" text-anchor="start" transform="rotate(90 169.97 2267.50)">HB#A</text>
<text x="219.72" y="2267.50" font-size="19" font-weight="bold" text-anchor="start" transform="rotate(90 219.72 2267.50)">HB#B</text>
<text x="269.48" y="2267.50" font-size="19" font-weight="bold" text-anchor="start" transform="rotate(90 269.48 2267.50)">KS6#A</text>
<text x="319.23" y="2267.50" font-size="19" font-weight="bold" text-anchor="start" transform="rotate(90 319.23 2267.50)">KS6#B</text>
<text x="368.98" y="2267.50" font-size="19" font-weight="bold" text-anchor="start" transform="rotate(90 368.98 2267.50)">KS2#A</text>
<text x="418.73" y="2267.50" font-size="19" font-weight="bold" text-anchor="start" transform="rotate(90 418.73 2267.50)">KS2#B</text>
<text x="468.48" y="2267.50" font-size="19" font-weight="bold" text-anchor="start" transform="rotate(90 468.48 2267.50)">KS4#C</text>
<text x="518.23" y="2267.50" font-size="19" font-weight="bold" text-anchor="start" transform="rotate(90 518.23 2267.50)">KS4#D</text>
<text x="567.98" y="2267.50" font-size="19" font-weight="bold" text-anchor="start" transform="rotate(90 567.98 2267.50)">KS5#A</text>
<text x="617.73" y="2267.50" font-size="19" font-weight="bold" text-anchor="start" transform="rotate(90 617.73 2267.50)">KS7#A</text>
<text x="667.48" y="2267.50" font-size="19" font-weight="bold" text-anchor="start" transform="rotate(90 667.48 2267.50)">KS7#B</text>
<text x="717.23" y="2267.50" font-size="19" font-weight="bold" text-anchor="start" transform="rotate(90 717.23 2267.50)">KS1#D</text>
<text x="766.10" y="2267.50" font-size="19" font-weight="bold" text-anchor="start" transform="rotate(90 766.10 2267.50)">KS3#A</text>
<text x="785.50" y="2267.50" font-size="17.3" font-weight="bold" text-anchor="start" transform="rotate(90 785.50 2267.50)">Eroded</text>
<line x1="998.30" y1="1383.00" x2="998.30" y2="1650.50" stroke="#000" stroke-width="1.8"/>
<line x1="993.30" y1="1649.70" x2="998.30" y2="1649.70" stroke="#000" stroke-width="1.6"/>
<text x="986.80" y="1654.30" font-size="15.2" font-weight="bold" text-anchor="end">0</text>
<line x1="993.30" y1="1611.69" x2="998.30" y2="1611.69" stroke="#000" stroke-width="1.6"/>
<text x="986.80" y="1616.29" font-size="15.2" font-weight="bold" text-anchor="end">20</text>
<line x1="993.30" y1="1573.67" x2="998.30" y2="1573.67" stroke="#000" stroke-width="1.6"/>
<text x="986.80" y="1578.27" font-size="15.2" font-weight="bold" text-anchor="end">40</text>
<line x1="993.30" y1="1535.66" x2="998.30" y2="1535.66" stroke="#000" stroke-width="1.6"/>
<text x="986.80" y="1540.26" font-size="15.2" font-weight="bold" text-anchor="end">60</text>
<line x1="993.30" y1="1497.64" x2="998.30" y2="1497.64" stroke="#000" stroke-width="1.6"/>
<text x="986.80" y="1502.24" font-size="15.2" font-weight="bold" text-anchor="end">80</text>
<line x1="993.30" y1="1459.63" x2="998.30" y2="1459.63" stroke="#000" stroke-width="1.6"/>
<text x="986.80" y="1464.23" font-size="15.2" font-weight="bold" text-anchor="end">100</text>
<line x1="993.30" y1="1421.61" x2="998.30" y2="1421.61" stroke="#000" stroke-width="1.6"/>
<text x="986.80" y="1426.21" font-size="15.2" font-weight="bold" text-anchor="end">120</text>
<line x1="993.30" y1="1383.60" x2="998.30" y2="1383.60" stroke="#000" stroke-width="1.6"/>
<text x="986.80" y="1388.20" font-size="15.2" font-weight="bold" text-anchor="end">140</text>
<line x1="997.40" y1="1649.70" x2="1378.50" y2="1649.70" stroke="#000" stroke-width="1.8"/>
<line x1="998.30" y1="1649.70" x2="998.30" y2="1654.70" stroke="#000" stroke-width="1.6"/>
<line x1="1052.80" y1="1649.70" x2="1052.80" y2="1654.70" stroke="#000" stroke-width="1.6"/>
<line x1="1107.60" y1="1649.70" x2="1107.60" y2="1654.70" stroke="#000" stroke-width="1.6"/>
<line x1="1161.80" y1="1649.70" x2="1161.80" y2="1654.70" stroke="#000" stroke-width="1.6"/>
<line x1="1216.00" y1="1649.70" x2="1216.00" y2="1654.70" stroke="#000" stroke-width="1.6"/>
<line x1="1269.00" y1="1649.70" x2="1269.00" y2="1654.70" stroke="#000" stroke-width="1.6"/>
<line x1="1324.00" y1="1649.70" x2="1324.00" y2="1654.70" stroke="#000" stroke-width="1.6"/>
<line x1="1378.00" y1="1649.70" x2="1378.00" y2="1654.70" stroke="#000" stroke-width="1.6"/>
<rect x="1007.70" y="1626.89" width="36.70" height="8.55" fill="#DA7163" stroke="#000" stroke-width="1.6"/>
<rect x="1007.70" y="1635.44" width="36.70" height="14.26" fill="#7DCDDA" stroke="#000" stroke-width="1.6"/>
<line x1="1026.05" y1="1628.39" x2="1026.05" y2="1625.75" stroke="#000" stroke-width="1.8"/>
<line x1="1023.65" y1="1625.75" x2="1028.45" y2="1625.75" stroke="#000" stroke-width="1.8"/>
<rect x="1023.85" y="1625.89" width="4.4" height="2.6" fill="#000"/>
<line x1="1026.05" y1="1636.94" x2="1026.05" y2="1634.30" stroke="#000" stroke-width="1.8"/>
<line x1="1023.65" y1="1634.30" x2="1028.45" y2="1634.30" stroke="#000" stroke-width="1.8"/>
<rect x="1023.85" y="1634.44" width="4.4" height="2.6" fill="#000"/>
<rect x="1062.50" y="1430.17" width="36.00" height="186.27" fill="#DA7163" stroke="#000" stroke-width="1.6"/>
<rect x="1062.50" y="1616.44" width="36.00" height="33.26" fill="#7DCDDA" stroke="#000" stroke-width="1.6"/>
<line x1="1080.50" y1="1431.67" x2="1080.50" y2="1416.86" stroke="#000" stroke-width="1.8"/>
<line x1="1078.10" y1="1416.86" x2="1082.90" y2="1416.86" stroke="#000" stroke-width="1.8"/>
<rect x="1078.30" y="1429.17" width="4.4" height="2.6" fill="#000"/>
<line x1="1080.50" y1="1617.94" x2="1080.50" y2="1607.88" stroke="#000" stroke-width="1.8"/>
<line x1="1078.10" y1="1607.88" x2="1082.90" y2="1607.88" stroke="#000" stroke-width="1.8"/>
<rect x="1078.30" y="1615.44" width="4.4" height="2.6" fill="#000"/>
<rect x="1116.40" y="1452.98" width="36.00" height="163.46" fill="#DA7163" stroke="#000" stroke-width="1.6"/>
<rect x="1116.40" y="1616.44" width="36.00" height="33.26" fill="#7DCDDA" stroke="#000" stroke-width="1.6"/>
<line x1="1134.40" y1="1454.48" x2="1134.40" y2="1430.17" stroke="#000" stroke-width="1.8"/>
<line x1="1132.00" y1="1430.17" x2="1136.80" y2="1430.17" stroke="#000" stroke-width="1.8"/>
<rect x="1132.20" y="1451.98" width="4.4" height="2.6" fill="#000"/>
<line x1="1134.40" y1="1617.94" x2="1134.40" y2="1610.74" stroke="#000" stroke-width="1.8"/>
<line x1="1132.00" y1="1610.74" x2="1136.80" y2="1610.74" stroke="#000" stroke-width="1.8"/>
<rect x="1132.20" y="1615.44" width="4.4" height="2.6" fill="#000"/>
<rect x="1170.20" y="1459.63" width="36.00" height="161.56" fill="#DA7163" stroke="#000" stroke-width="1.6"/>
<rect x="1170.20" y="1621.19" width="36.00" height="28.51" fill="#7DCDDA" stroke="#000" stroke-width="1.6"/>
<line x1="1188.20" y1="1461.13" x2="1188.20" y2="1455.83" stroke="#000" stroke-width="1.8"/>
<line x1="1185.80" y1="1455.83" x2="1190.60" y2="1455.83" stroke="#000" stroke-width="1.8"/>
<rect x="1186.00" y="1458.63" width="4.4" height="2.6" fill="#000"/>
<line x1="1188.20" y1="1622.69" x2="1188.20" y2="1619.29" stroke="#000" stroke-width="1.8"/>
<line x1="1185.80" y1="1619.29" x2="1190.60" y2="1619.29" stroke="#000" stroke-width="1.8"/>
<rect x="1186.00" y="1620.19" width="4.4" height="2.6" fill="#000"/>
<rect x="1224.40" y="1428.27" width="36.00" height="184.37" fill="#DA7163" stroke="#000" stroke-width="1.6"/>
<rect x="1224.40" y="1612.64" width="36.00" height="37.06" fill="#7DCDDA" stroke="#000" stroke-width="1.6"/>
<line x1="1242.40" y1="1429.77" x2="1242.40" y2="1405.46" stroke="#000" stroke-width="1.8"/>
<line x1="1240.00" y1="1405.46" x2="1244.80" y2="1405.46" stroke="#000" stroke-width="1.8"/>
<rect x="1240.20" y="1427.27" width="4.4" height="2.6" fill="#000"/>
<line x1="1242.40" y1="1614.14" x2="1242.40" y2="1609.79" stroke="#000" stroke-width="1.8"/>
<line x1="1240.00" y1="1609.79" x2="1244.80" y2="1609.79" stroke="#000" stroke-width="1.8"/>
<rect x="1240.20" y="1611.64" width="4.4" height="2.6" fill="#000"/>
<rect x="1332.20" y="1443.47" width="36.80" height="95.04" fill="#DA7163" stroke="#000" stroke-width="1.6"/>
<rect x="1332.20" y="1538.51" width="36.80" height="111.19" fill="#7DCDDA" stroke="#000" stroke-width="1.6"/>
<line x1="1350.60" y1="1444.97" x2="1350.60" y2="1432.64" stroke="#000" stroke-width="1.8"/>
<line x1="1348.20" y1="1432.64" x2="1353.00" y2="1432.64" stroke="#000" stroke-width="1.8"/>
<rect x="1348.40" y="1442.47" width="4.4" height="2.6" fill="#000"/>
<line x1="1350.60" y1="1540.01" x2="1350.60" y2="1530.91" stroke="#000" stroke-width="1.8"/>
<line x1="1348.20" y1="1530.91" x2="1353.00" y2="1530.91" stroke="#000" stroke-width="1.8"/>
<rect x="1348.40" y="1537.51" width="4.4" height="2.6" fill="#000"/>
<text x="1022.50" y="1671.00" font-size="18.5" font-weight="bold" text-anchor="middle">XY</text>
<text x="1088.20" y="1671.00" font-size="18.5" font-weight="bold" text-anchor="middle">XX</text>
<text x="1132.00" y="1671.00" font-size="18.5" font-weight="bold" text-anchor="middle">XXY</text>
<text x="1186.80" y="1671.00" font-size="18.5" font-weight="bold" text-anchor="middle">XXXY</text>
<text x="1251.00" y="1671.00" font-size="18.5" font-weight="bold" text-anchor="middle">XXXXY</text>
<text x="1354.00" y="1671.00" font-size="18.5" font-weight="bold" text-anchor="middle">XXY</text>
<text x="1360.00" y="1689.00" font-size="18.5" font-weight="bold" text-anchor="middle">KS3#A</text>
<text x="955.00" y="1516.00" font-size="16.0" font-weight="bold" text-anchor="middle" transform="rotate(-90 955.00 1516.00)">N.genes with detected SNPs</text>
<text x="1164.50" y="1361.60" font-size="25.4" font-weight="bold" text-anchor="middle">iPSCs</text>
<line x1="1477.80" y1="1377.00" x2="1477.80" y2="1653.40" stroke="#000" stroke-width="1.8"/>
<line x1="1472.80" y1="1652.60" x2="1477.80" y2="1652.60" stroke="#000" stroke-width="1.6"/>
<text x="1466.30" y="1657.20" font-size="15.2" font-weight="bold" text-anchor="end">0</text>
<line x1="1472.80" y1="1625.12" x2="1477.80" y2="1625.12" stroke="#000" stroke-width="1.6"/>
<text x="1466.30" y="1629.72" font-size="15.2" font-weight="bold" text-anchor="end">10</text>
<line x1="1472.80" y1="1597.64" x2="1477.80" y2="1597.64" stroke="#000" stroke-width="1.6"/>
<text x="1466.30" y="1602.24" font-size="15.2" font-weight="bold" text-anchor="end">20</text>
<line x1="1472.80" y1="1570.16" x2="1477.80" y2="1570.16" stroke="#000" stroke-width="1.6"/>
<text x="1466.30" y="1574.76" font-size="15.2" font-weight="bold" text-anchor="end">30</text>
<line x1="1472.80" y1="1542.68" x2="1477.80" y2="1542.68" stroke="#000" stroke-width="1.6"/>
<text x="1466.30" y="1547.28" font-size="15.2" font-weight="bold" text-anchor="end">40</text>
<line x1="1472.80" y1="1515.20" x2="1477.80" y2="1515.20" stroke="#000" stroke-width="1.6"/>
<text x="1466.30" y="1519.80" font-size="15.2" font-weight="bold" text-anchor="end">50</text>
<line x1="1472.80" y1="1487.72" x2="1477.80" y2="1487.72" stroke="#000" stroke-width="1.6"/>
<text x="1466.30" y="1492.32" font-size="15.2" font-weight="bold" text-anchor="end">60</text>
<line x1="1472.80" y1="1460.24" x2="1477.80" y2="1460.24" stroke="#000" stroke-width="1.6"/>
<text x="1466.30" y="1464.84" font-size="15.2" font-weight="bold" text-anchor="end">70</text>
<line x1="1472.80" y1="1432.76" x2="1477.80" y2="1432.76" stroke="#000" stroke-width="1.6"/>
<text x="1466.30" y="1437.36" font-size="15.2" font-weight="bold" text-anchor="end">80</text>
<line x1="1472.80" y1="1405.28" x2="1477.80" y2="1405.28" stroke="#000" stroke-width="1.6"/>
<text x="1466.30" y="1409.88" font-size="15.2" font-weight="bold" text-anchor="end">90</text>
<line x1="1472.80" y1="1377.80" x2="1477.80" y2="1377.80" stroke="#000" stroke-width="1.6"/>
<text x="1466.30" y="1382.40" font-size="15.2" font-weight="bold" text-anchor="end">100</text>
<line x1="1476.90" y1="1652.60" x2="1628.50" y2="1652.60" stroke="#000" stroke-width="1.8"/>
<line x1="1477.80" y1="1652.60" x2="1477.80" y2="1657.60" stroke="#000" stroke-width="1.6"/>
<line x1="1553.60" y1="1652.60" x2="1553.60" y2="1657.60" stroke="#000" stroke-width="1.6"/>
<line x1="1628.00" y1="1652.60" x2="1628.00" y2="1657.60" stroke="#000" stroke-width="1.6"/>
<rect x="1491.70" y="1622.37" width="49.90" height="12.37" fill="#DA7163" stroke="#000" stroke-width="1.6"/>
<rect x="1491.70" y="1634.74" width="49.90" height="17.86" fill="#7DCDDA" stroke="#000" stroke-width="1.6"/>
<line x1="1516.65" y1="1636.24" x2="1516.65" y2="1636.39" stroke="#000" stroke-width="1.8"/>
<line x1="1514.25" y1="1636.39" x2="1519.05" y2="1636.39" stroke="#000" stroke-width="1.8"/>
<rect x="1514.45" y="1633.74" width="4.4" height="2.6" fill="#000"/>
<rect x="1565.50" y="1397.04" width="49.90" height="28.85" fill="#DA7163" stroke="#000" stroke-width="1.6"/>
<rect x="1565.50" y="1425.89" width="49.90" height="226.71" fill="#7DCDDA" stroke="#000" stroke-width="1.6"/>
<line x1="1590.45" y1="1398.54" x2="1590.45" y2="1396.21" stroke="#000" stroke-width="1.8"/>
<line x1="1588.05" y1="1396.21" x2="1592.85" y2="1396.21" stroke="#000" stroke-width="1.8"/>
<rect x="1588.25" y="1396.04" width="4.4" height="2.6" fill="#000"/>
<line x1="1590.45" y1="1427.39" x2="1590.45" y2="1422.32" stroke="#000" stroke-width="1.8"/>
<line x1="1588.05" y1="1422.32" x2="1592.85" y2="1422.32" stroke="#000" stroke-width="1.8"/>
<rect x="1588.25" y="1424.89" width="4.4" height="2.6" fill="#000"/>
<text x="1510.40" y="1673.00" font-size="18.5" font-weight="bold" text-anchor="middle">XY</text>
<text x="1598.00" y="1673.00" font-size="18.5" font-weight="bold" text-anchor="middle">XX</text>
<text x="1435.00" y="1516.00" font-size="15.9" font-weight="bold" text-anchor="middle" transform="rotate(-90 1435.00 1516.00)">N. genes with informative SNPs</text>
<text x="1546.20" y="1361.00" font-size="25.9" font-weight="bold" text-anchor="middle">Fibroblasts</text>
</svg></body></html>
